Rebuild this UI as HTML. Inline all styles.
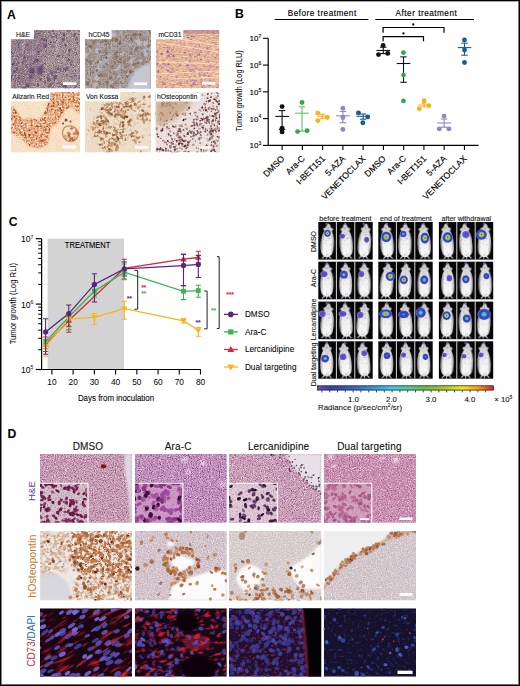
<!DOCTYPE html><html><head><meta charset="utf-8"><style>
html,body{margin:0;padding:0;background:#fff;}body{width:520px;height:686px;position:relative;overflow:hidden;font-family:"Liberation Sans",sans-serif;}
svg{position:absolute;left:0;top:0;} text{font-family:"Liberation Sans",sans-serif;}
</style></head><body>
<svg width="520" height="686" viewBox="0 0 520 686">
<defs><radialGradient id="g_hot" cx="50%" cy="50%" r="50%" fx="50%" fy="50%"><stop offset="0%" stop-color="#e0181e"/><stop offset="14%" stop-color="#f06a1a"/><stop offset="26%" stop-color="#f2d21c"/><stop offset="38%" stop-color="#7cc43c"/><stop offset="50%" stop-color="#2fb4d8"/><stop offset="64%" stop-color="#2048d2"/><stop offset="82%" stop-color="#4a3cc4"/><stop offset="94%" stop-color="#6a55c8"/><stop offset="100%" stop-color="#7a66cc"/></radialGradient><radialGradient id="g_warm" cx="50%" cy="50%" r="50%" fx="50%" fy="50%"><stop offset="0%" stop-color="#c8dc28"/><stop offset="18%" stop-color="#60c050"/><stop offset="34%" stop-color="#30b0d8"/><stop offset="52%" stop-color="#2048d0"/><stop offset="78%" stop-color="#4a3cc4"/><stop offset="94%" stop-color="#6a55c8"/><stop offset="100%" stop-color="#7a66cc"/></radialGradient><radialGradient id="g_cool" cx="50%" cy="50%" r="50%" fx="50%" fy="50%"><stop offset="0%" stop-color="#38c0d8"/><stop offset="22%" stop-color="#2a78d8"/><stop offset="45%" stop-color="#2040cc"/><stop offset="75%" stop-color="#4a3cc4"/><stop offset="94%" stop-color="#6a55c8"/><stop offset="100%" stop-color="#7a66cc"/></radialGradient><radialGradient id="g_blue" cx="50%" cy="50%" r="50%" fx="50%" fy="50%"><stop offset="0%" stop-color="#4a48cc"/><stop offset="50%" stop-color="#5650cc"/><stop offset="85%" stop-color="#6c5ccc"/><stop offset="100%" stop-color="#8070d0"/></radialGradient><radialGradient id="g_faint" cx="50%" cy="50%" r="50%" fx="50%" fy="50%"><stop offset="0%" stop-color="#6a58d0"/><stop offset="70%" stop-color="#7a66cc"/><stop offset="100%" stop-color="#8a78d0"/></radialGradient><linearGradient id="mshade" x1="0" y1="0" x2="1" y2="0"><stop offset="0.05" stop-color="#000" stop-opacity="0.45"/><stop offset="0.3" stop-color="#000" stop-opacity="0"/><stop offset="0.7" stop-color="#000" stop-opacity="0"/><stop offset="0.95" stop-color="#000" stop-opacity="0.45"/></linearGradient><linearGradient id="mouseg" x1="0" y1="0" x2="0" y2="1"><stop offset="0" stop-color="#c4c4c4"/><stop offset="0.25" stop-color="#dadada"/><stop offset="0.5" stop-color="#f0f0f0"/><stop offset="0.8" stop-color="#f7f7f7"/><stop offset="1" stop-color="#e6e6e6"/></linearGradient><filter id="b1" x="-20%" y="-20%" width="140%" height="140%"><feGaussianBlur stdDeviation="0.35"/></filter><filter id="b2" x="-20%" y="-20%" width="140%" height="140%"><feGaussianBlur stdDeviation="0.8"/></filter><filter id="b3" x="-20%" y="-20%" width="140%" height="140%"><feGaussianBlur stdDeviation="3"/></filter><filter id="f4" x="0" y="0" width="1" height="1" color-interpolation-filters="sRGB"><feTurbulence type="fractalNoise" baseFrequency="0.9" numOctaves="2" seed="611"/><feColorMatrix type="matrix" values="0 0 0 0 0.376 0 0 0 0 0.282 0 0 0 0 0.416 3.0 0 0 0 -1.41"/><feGaussianBlur stdDeviation="0.25"/><feComposite in2="SourceGraphic" operator="in"/></filter><filter id="f5" x="0" y="0" width="1" height="1" color-interpolation-filters="sRGB"><feTurbulence type="fractalNoise" baseFrequency="0.9" numOctaves="2" seed="612"/><feColorMatrix type="matrix" values="0 0 0 0 0.871 0 0 0 0 0.816 0 0 0 0 0.737 0 -3.0 0 0 1.41"/><feGaussianBlur stdDeviation="0.25"/><feComposite in2="SourceGraphic" operator="in"/></filter><filter id="b6" x="-20%" y="-20%" width="140%" height="140%"><feGaussianBlur stdDeviation="1.0"/></filter><filter id="f7" x="0" y="0" width="1" height="1" color-interpolation-filters="sRGB"><feTurbulence type="fractalNoise" baseFrequency="0.9" numOctaves="2" seed="625"/><feColorMatrix type="matrix" values="0 0 0 0 0.463 0 0 0 0 0.400 0 0 0 0 0.376 3 0 0 0 -1.41"/><feGaussianBlur stdDeviation="0.25"/><feComposite in2="SourceGraphic" operator="in"/></filter><filter id="f8" x="0" y="0" width="1" height="1" color-interpolation-filters="sRGB"><feTurbulence type="fractalNoise" baseFrequency="0.9" numOctaves="2" seed="626"/><feColorMatrix type="matrix" values="0 0 0 0 0.784 0 0 0 0 0.776 0 0 0 0 0.804 0 -2.6 0 0 1.3"/><feGaussianBlur stdDeviation="0.25"/><feComposite in2="SourceGraphic" operator="in"/></filter><filter id="b9" x="-20%" y="-20%" width="140%" height="140%"><feGaussianBlur stdDeviation="0.6"/></filter><filter id="f10" x="0" y="0" width="1" height="1" color-interpolation-filters="sRGB"><feTurbulence type="fractalNoise" baseFrequency="0.3 0.9" numOctaves="2" seed="635"/><feColorMatrix type="matrix" values="0 0 0 0 0.804 0 0 0 0 0.529 0 0 0 0 0.490 2.6 0 0 0 -1.222"/><feGaussianBlur stdDeviation="0.25"/><feComposite in2="SourceGraphic" operator="in"/></filter><filter id="f11" x="0" y="0" width="1" height="1" color-interpolation-filters="sRGB"><feTurbulence type="fractalNoise" baseFrequency="0.3 0.9" numOctaves="2" seed="636"/><feColorMatrix type="matrix" values="0 0 0 0 0.980 0 0 0 0 0.871 0 0 0 0 0.753 0 -3 0 0 1.5"/><feGaussianBlur stdDeviation="0.25"/><feComposite in2="SourceGraphic" operator="in"/></filter><filter id="b12" x="-20%" y="-20%" width="140%" height="140%"><feGaussianBlur stdDeviation="1.0"/></filter><clipPath id="cpA4"><path d="M41 0 L69 0 L69 22 L60 14 L53 19 L46 32 L39 36 L37 52 L28 56 L18 54 L11 47 L3 42 L0 40 L0 14 L4 17 L11 28 L21 26 L28 29 L34 20 L37 12Z"/></clipPath><filter id="f13" x="0" y="0" width="1" height="1" color-interpolation-filters="sRGB"><feTurbulence type="fractalNoise" baseFrequency="0.45" numOctaves="2" seed="647"/><feColorMatrix type="matrix" values="0 0 0 0 0.675 0 0 0 0 0.243 0 0 0 0 0.102 4.5 0 0 0 -2.2"/><feGaussianBlur stdDeviation="0.3"/><feComposite in2="SourceGraphic" operator="in"/></filter><filter id="f14" x="0" y="0" width="1" height="1" color-interpolation-filters="sRGB"><feTurbulence type="fractalNoise" baseFrequency="0.5" numOctaves="2" seed="649"/><feColorMatrix type="matrix" values="0 0 0 0 0.980 0 0 0 0 0.882 0 0 0 0 0.765 0 -4 0 0 2.3"/><feGaussianBlur stdDeviation="0.3"/><feComposite in2="SourceGraphic" operator="in"/></filter><filter id="f15" x="0" y="0" width="1" height="1" color-interpolation-filters="sRGB"><feTurbulence type="fractalNoise" baseFrequency="0.3" numOctaves="2" seed="651"/><feColorMatrix type="matrix" values="0 0 0 0 0.471 0 0 0 0 0.157 0 0 0 0 0.078 5 0 0 0 -3.2"/><feGaussianBlur stdDeviation="0.3"/><feComposite in2="SourceGraphic" operator="in"/></filter><filter id="b16" x="-20%" y="-20%" width="140%" height="140%"><feGaussianBlur stdDeviation="0.5"/></filter><filter id="f17" x="0" y="0" width="1" height="1" color-interpolation-filters="sRGB"><feTurbulence type="fractalNoise" baseFrequency="0.9" numOctaves="2" seed="645"/><feColorMatrix type="matrix" values="0 0 0 0 0.922 0 0 0 0 0.784 0 0 0 0 0.667 2 0 0 0 -0.94"/><feGaussianBlur stdDeviation="0.25"/><feComposite in2="SourceGraphic" operator="in"/></filter><filter id="f18" x="0" y="0" width="1" height="1" color-interpolation-filters="sRGB"><feTurbulence type="fractalNoise" baseFrequency="0.9" numOctaves="2" seed="646"/><feColorMatrix type="matrix" values="0 0 0 0 0.988 0 0 0 0 0.941 0 0 0 0 0.882 0 -2 0 0 1.0"/><feGaussianBlur stdDeviation="0.25"/><feComposite in2="SourceGraphic" operator="in"/></filter><filter id="f19" x="0" y="0" width="1" height="1" color-interpolation-filters="sRGB"><feTurbulence type="fractalNoise" baseFrequency="0.35" numOctaves="2" seed="657"/><feColorMatrix type="matrix" values="0 0 0 0 0.627 0 0 0 0 0.412 0 0 0 0 0.235 4 0 0 0 -2.0"/><feGaussianBlur stdDeviation="0.3"/><feComposite in2="SourceGraphic" operator="in"/></filter><filter id="b20" x="-20%" y="-20%" width="140%" height="140%"><feGaussianBlur stdDeviation="2.5"/></filter><mask id="mkA5"><g filter="url(#b20)" fill="#fff"><ellipse cx="30" cy="18" rx="14" ry="8"/><ellipse cx="16" cy="36" rx="9" ry="12"/><ellipse cx="34" cy="42" rx="11" ry="9"/><ellipse cx="24" cy="54" rx="10" ry="6"/><ellipse cx="48" cy="12" rx="8" ry="6"/><ellipse cx="40" cy="30" rx="8" ry="6"/><ellipse cx="58" cy="24" rx="6" ry="6"/></g></mask><filter id="f21" x="0" y="0" width="1" height="1" color-interpolation-filters="sRGB"><feTurbulence type="fractalNoise" baseFrequency="0.9" numOctaves="2" seed="655"/><feColorMatrix type="matrix" values="0 0 0 0 0.882 0 0 0 0 0.804 0 0 0 0 0.725 2 0 0 0 -0.94"/><feGaussianBlur stdDeviation="0.25"/><feComposite in2="SourceGraphic" operator="in"/></filter><filter id="f22" x="0" y="0" width="1" height="1" color-interpolation-filters="sRGB"><feTurbulence type="fractalNoise" baseFrequency="0.9" numOctaves="2" seed="656"/><feColorMatrix type="matrix" values="0 0 0 0 0.980 0 0 0 0 0.941 0 0 0 0 0.894 0 -2 0 0 1.0"/><feGaussianBlur stdDeviation="0.25"/><feComposite in2="SourceGraphic" operator="in"/></filter><filter id="b23" x="-20%" y="-20%" width="140%" height="140%"><feGaussianBlur stdDeviation="2.0"/></filter><filter id="f24" x="0" y="0" width="1" height="1" color-interpolation-filters="sRGB"><feTurbulence type="fractalNoise" baseFrequency="0.9" numOctaves="2" seed="665"/><feColorMatrix type="matrix" values="0 0 0 0 0.824 0 0 0 0 0.745 0 0 0 0 0.725 2.2 0 0 0 -1.034"/><feGaussianBlur stdDeviation="0.25"/><feComposite in2="SourceGraphic" operator="in"/></filter><filter id="f25" x="0" y="0" width="1" height="1" color-interpolation-filters="sRGB"><feTurbulence type="fractalNoise" baseFrequency="0.9" numOctaves="2" seed="666"/><feColorMatrix type="matrix" values="0 0 0 0 0.980 0 0 0 0 0.957 0 0 0 0 0.949 0 -2 0 0 1.0"/><feGaussianBlur stdDeviation="0.25"/><feComposite in2="SourceGraphic" operator="in"/></filter><filter id="b26" x="-20%" y="-20%" width="140%" height="140%"><feGaussianBlur stdDeviation="0.35"/></filter><filter id="f27" x="0" y="0" width="1" height="1" color-interpolation-filters="sRGB"><feTurbulence type="fractalNoise" baseFrequency="0.5" numOctaves="2" seed="4"/><feColorMatrix type="matrix" values="0 0 0 0 0.510 0 0 0 0 0.510 0 0 0 0 0.510 4 0 0 0 -2.3"/><feComposite in2="SourceGraphic" operator="in"/></filter><filter id="b28" x="-20%" y="-20%" width="140%" height="140%"><feGaussianBlur stdDeviation="0.45"/></filter><clipPath id="mclip"><path d="M8.75 1.5 C10 1.6 10.8 3.5 11.2 5.5 C12.5 5.8 13.8 6.3 13.8 7.2 C13.5 8 12.8 8.6 12.4 9.2 C13.6 11 14.6 14 15 18 C15.4 23 15.2 27 14.4 30.5 C13.8 32.5 12.7 33.5 11.6 34 L13.8 36.5 L13.1 37 L10.6 34.6 C10 34.8 9.5 35 9.2 35.2 L9 37.5 L8.5 37.5 L8.3 35.2 C8 35 7.5 34.8 6.9 34.6 L4.4 37 L3.7 36.5 L5.9 34 C4.8 33.5 3.7 32.5 3.1 30.5 C2.3 27 2.1 23 2.5 18 C2.9 14 3.9 11 5.1 9.2 C4.7 8.6 4 8 3.7 7.2 C3.7 6.3 5 5.8 6.3 5.5 C6.7 3.5 7.5 1.6 8.75 1.5Z"/></clipPath><g id="mouse"><path d="M8.75 1.5 C10 1.6 10.8 3.5 11.2 5.5 C12.5 5.8 13.8 6.3 13.8 7.2 C13.5 8 12.8 8.6 12.4 9.2 C13.6 11 14.6 14 15 18 C15.4 23 15.2 27 14.4 30.5 C13.8 32.5 12.7 33.5 11.6 34 L13.8 36.5 L13.1 37 L10.6 34.6 C10 34.8 9.5 35 9.2 35.2 L9 37.5 L8.5 37.5 L8.3 35.2 C8 35 7.5 34.8 6.9 34.6 L4.4 37 L3.7 36.5 L5.9 34 C4.8 33.5 3.7 32.5 3.1 30.5 C2.3 27 2.1 23 2.5 18 C2.9 14 3.9 11 5.1 9.2 C4.7 8.6 4 8 3.7 7.2 C3.7 6.3 5 5.8 6.3 5.5 C6.7 3.5 7.5 1.6 8.75 1.5Z" fill="url(#mouseg)" filter="url(#b26)"/><g clip-path="url(#mclip)"><rect x="0" y="0" width="17.5" height="37.5" fill="url(#mshade)"/><rect x="0" y="0" width="17.5" height="37.5" fill="#fff" filter="url(#f27)" opacity="0.55"/></g></g><linearGradient id="cbar" x1="0" y1="0" x2="1" y2="0"><stop offset="0%" stop-color="#6c50b4"/><stop offset="8%" stop-color="#3c3caa"/><stop offset="20%" stop-color="#3264c8"/><stop offset="32%" stop-color="#3296dc"/><stop offset="42%" stop-color="#3cc8e6"/><stop offset="52%" stop-color="#50c8a0"/><stop offset="60%" stop-color="#64be46"/><stop offset="72%" stop-color="#aac828"/><stop offset="82%" stop-color="#f0e614"/><stop offset="91%" stop-color="#f5a01e"/><stop offset="100%" stop-color="#e61e28"/></linearGradient><filter id="b29" x="-20%" y="-20%" width="140%" height="140%"><feGaussianBlur stdDeviation="0.35"/></filter><filter id="b30" x="-20%" y="-20%" width="140%" height="140%"><feGaussianBlur stdDeviation="1.2"/></filter><filter id="f31" x="0" y="0" width="1" height="1" color-interpolation-filters="sRGB"><feTurbulence type="fractalNoise" baseFrequency="0.7" numOctaves="2" seed="48"/><feColorMatrix type="matrix" values="0 0 0 0 0.471 0 0 0 0 0.314 0 0 0 0 0.392 3 0 0 0 -1.5"/><feGaussianBlur stdDeviation="0.2"/><feComposite in2="SourceGraphic" operator="in"/></filter><filter id="f32" x="0" y="0" width="1" height="1" color-interpolation-filters="sRGB"><feTurbulence type="fractalNoise" baseFrequency="0.9" numOctaves="2" seed="301"/><feColorMatrix type="matrix" values="0 0 0 0 0.569 0 0 0 0 0.333 0 0 0 0 0.471 3.2 0 0 0 -1.504"/><feGaussianBlur stdDeviation="0.25"/><feComposite in2="SourceGraphic" operator="in"/></filter><filter id="f33" x="0" y="0" width="1" height="1" color-interpolation-filters="sRGB"><feTurbulence type="fractalNoise" baseFrequency="0.9" numOctaves="2" seed="302"/><feColorMatrix type="matrix" values="0 0 0 0 0.910 0 0 0 0 0.843 0 0 0 0 0.894 0 -3.2 0 0 1.6"/><feGaussianBlur stdDeviation="0.25"/><feComposite in2="SourceGraphic" operator="in"/></filter><filter id="f34" x="0" y="0" width="1" height="1" color-interpolation-filters="sRGB"><feTurbulence type="fractalNoise" baseFrequency="0.7" numOctaves="2" seed="50"/><feColorMatrix type="matrix" values="0 0 0 0 0.627 0 0 0 0 0.353 0 0 0 0 0.608 3 0 0 0 -1.5"/><feGaussianBlur stdDeviation="0.2"/><feComposite in2="SourceGraphic" operator="in"/></filter><filter id="f35" x="0" y="0" width="1" height="1" color-interpolation-filters="sRGB"><feTurbulence type="fractalNoise" baseFrequency="0.9" numOctaves="2" seed="303"/><feColorMatrix type="matrix" values="0 0 0 0 0.529 0 0 0 0 0.275 0 0 0 0 0.510 3.2 0 0 0 -1.504"/><feGaussianBlur stdDeviation="0.25"/><feComposite in2="SourceGraphic" operator="in"/></filter><filter id="f36" x="0" y="0" width="1" height="1" color-interpolation-filters="sRGB"><feTurbulence type="fractalNoise" baseFrequency="0.9" numOctaves="2" seed="304"/><feColorMatrix type="matrix" values="0 0 0 0 0.902 0 0 0 0 0.804 0 0 0 0 0.902 0 -3.2 0 0 1.6"/><feGaussianBlur stdDeviation="0.25"/><feComposite in2="SourceGraphic" operator="in"/></filter><filter id="f37" x="0" y="0" width="1" height="1" color-interpolation-filters="sRGB"><feTurbulence type="fractalNoise" baseFrequency="0.7" numOctaves="2" seed="54"/><feColorMatrix type="matrix" values="0 0 0 0 0.667 0 0 0 0 0.471 0 0 0 0 0.588 3 0 0 0 -1.5"/><feGaussianBlur stdDeviation="0.2"/><feComposite in2="SourceGraphic" operator="in"/></filter><filter id="f38" x="0" y="0" width="1" height="1" color-interpolation-filters="sRGB"><feTurbulence type="fractalNoise" baseFrequency="0.9" numOctaves="2" seed="305"/><feColorMatrix type="matrix" values="0 0 0 0 0.588 0 0 0 0 0.353 0 0 0 0 0.490 3.2 0 0 0 -1.504"/><feGaussianBlur stdDeviation="0.25"/><feComposite in2="SourceGraphic" operator="in"/></filter><filter id="f39" x="0" y="0" width="1" height="1" color-interpolation-filters="sRGB"><feTurbulence type="fractalNoise" baseFrequency="0.9" numOctaves="2" seed="306"/><feColorMatrix type="matrix" values="0 0 0 0 0.922 0 0 0 0 0.855 0 0 0 0 0.902 0 -3.2 0 0 1.6"/><feGaussianBlur stdDeviation="0.25"/><feComposite in2="SourceGraphic" operator="in"/></filter><filter id="f40" x="0" y="0" width="1" height="1" color-interpolation-filters="sRGB"><feTurbulence type="fractalNoise" baseFrequency="0.7" numOctaves="2" seed="60"/><feColorMatrix type="matrix" values="0 0 0 0 0.667 0 0 0 0 0.392 0 0 0 0 0.549 3 0 0 0 -1.5"/><feGaussianBlur stdDeviation="0.2"/><feComposite in2="SourceGraphic" operator="in"/></filter><filter id="f41" x="0" y="0" width="1" height="1" color-interpolation-filters="sRGB"><feTurbulence type="fractalNoise" baseFrequency="0.9" numOctaves="2" seed="309"/><feColorMatrix type="matrix" values="0 0 0 0 0.647 0 0 0 0 0.333 0 0 0 0 0.510 3.2 0 0 0 -1.504"/><feGaussianBlur stdDeviation="0.25"/><feComposite in2="SourceGraphic" operator="in"/></filter><filter id="f42" x="0" y="0" width="1" height="1" color-interpolation-filters="sRGB"><feTurbulence type="fractalNoise" baseFrequency="0.9" numOctaves="2" seed="310"/><feColorMatrix type="matrix" values="0 0 0 0 0.933 0 0 0 0 0.824 0 0 0 0 0.894 0 -3.2 0 0 1.6"/><feGaussianBlur stdDeviation="0.25"/><feComposite in2="SourceGraphic" operator="in"/></filter><filter id="b43" x="-20%" y="-20%" width="140%" height="140%"><feGaussianBlur stdDeviation="2.0"/></filter><mask id="mkD21"><rect width="92" height="70" fill="#000"/><path d="M28 0 L92 0 L92 48 C80 52 70 46 60 48 C50 50 42 44 34 34 C30 24 26 12 28 0Z" fill="#fff" filter="url(#b43)"/><path d="M0 0 L28 0 L28 40 L0 44Z" fill="#777" filter="url(#b43)"/><path d="M34 50 L92 50 L92 70 L34 70Z" fill="#999" filter="url(#b43)"/></mask><filter id="f44" x="0" y="0" width="1" height="1" color-interpolation-filters="sRGB"><feTurbulence type="fractalNoise" baseFrequency="0.28" numOctaves="2" seed="417"/><feColorMatrix type="matrix" values="0 0 0 0 0.745 0 0 0 0 0.478 0 0 0 0 0.282 5 0 0 0 -2.1"/><feGaussianBlur stdDeviation="0.4"/><feComposite in2="SourceGraphic" operator="in"/></filter><filter id="f45" x="0" y="0" width="1" height="1" color-interpolation-filters="sRGB"><feTurbulence type="fractalNoise" baseFrequency="0.4" numOctaves="2" seed="419"/><feColorMatrix type="matrix" values="0 0 0 0 0.569 0 0 0 0 0.306 0 0 0 0 0.149 6 0 0 0 -3.6"/><feGaussianBlur stdDeviation="0.4"/><feComposite in2="SourceGraphic" operator="in"/></filter><filter id="f46" x="0" y="0" width="1" height="1" color-interpolation-filters="sRGB"><feTurbulence type="fractalNoise" baseFrequency="0.8" numOctaves="2" seed="405"/><feColorMatrix type="matrix" values="0 0 0 0 0.686 0 0 0 0 0.588 0 0 0 0 0.667 2.4 0 0 0 -1.15"/><feGaussianBlur stdDeviation="0.3"/><feComposite in2="SourceGraphic" operator="in"/></filter><filter id="f47" x="0" y="0" width="1" height="1" color-interpolation-filters="sRGB"><feTurbulence type="fractalNoise" baseFrequency="0.8" numOctaves="2" seed="406"/><feColorMatrix type="matrix" values="0 0 0 0 0.961 0 0 0 0 0.941 0 0 0 0 0.949 0 -2.4 0 0 1.2"/><feGaussianBlur stdDeviation="0.3"/><feComposite in2="SourceGraphic" operator="in"/></filter><filter id="f48" x="0" y="0" width="1" height="1" color-interpolation-filters="sRGB"><feTurbulence type="fractalNoise" baseFrequency="0.8" numOctaves="2" seed="409"/><feColorMatrix type="matrix" values="0 0 0 0 0.745 0 0 0 0 0.686 0 0 0 0 0.706 2.4 0 0 0 -1.15"/><feGaussianBlur stdDeviation="0.3"/><feComposite in2="SourceGraphic" operator="in"/></filter><filter id="f49" x="0" y="0" width="1" height="1" color-interpolation-filters="sRGB"><feTurbulence type="fractalNoise" baseFrequency="0.8" numOctaves="2" seed="410"/><feColorMatrix type="matrix" values="0 0 0 0 0.961 0 0 0 0 0.941 0 0 0 0 0.949 0 -2.4 0 0 1.2"/><feGaussianBlur stdDeviation="0.3"/><feComposite in2="SourceGraphic" operator="in"/></filter><filter id="f50" x="0" y="0" width="1" height="1" color-interpolation-filters="sRGB"><feTurbulence type="fractalNoise" baseFrequency="0.8" numOctaves="2" seed="413"/><feColorMatrix type="matrix" values="0 0 0 0 0.706 0 0 0 0 0.647 0 0 0 0 0.698 2.4 0 0 0 -1.15"/><feGaussianBlur stdDeviation="0.3"/><feComposite in2="SourceGraphic" operator="in"/></filter><filter id="f51" x="0" y="0" width="1" height="1" color-interpolation-filters="sRGB"><feTurbulence type="fractalNoise" baseFrequency="0.8" numOctaves="2" seed="414"/><feColorMatrix type="matrix" values="0 0 0 0 0.961 0 0 0 0 0.941 0 0 0 0 0.949 0 -2.4 0 0 1.2"/><feGaussianBlur stdDeviation="0.3"/><feComposite in2="SourceGraphic" operator="in"/></filter><filter id="b52" x="-20%" y="-20%" width="140%" height="140%"><feGaussianBlur stdDeviation="0.5"/></filter><filter id="f53" x="0" y="0" width="1" height="1" color-interpolation-filters="sRGB"><feTurbulence type="fractalNoise" baseFrequency="0.04 0.22" numOctaves="2" seed="511"/><feColorMatrix type="matrix" values="0 0 0 0 0.784 0 0 0 0 0.110 0 0 0 0 0.188 4.5 0 0 0 -2.55"/><feGaussianBlur stdDeviation="0.5"/><feComposite in2="SourceGraphic" operator="in"/></filter><filter id="f54" x="0" y="0" width="1" height="1" color-interpolation-filters="sRGB"><feTurbulence type="fractalNoise" baseFrequency="0.06 0.4" numOctaves="2" seed="513"/><feColorMatrix type="matrix" values="0 0 0 0 0.922 0 0 0 0 0.196 0 0 0 0 0.255 6 0 0 0 -4.0"/><feGaussianBlur stdDeviation="0.3"/><feComposite in2="SourceGraphic" operator="in"/></filter><filter id="f55" x="0" y="0" width="1" height="1" color-interpolation-filters="sRGB"><feTurbulence type="fractalNoise" baseFrequency="0.12 0.3" numOctaves="2" seed="515"/><feColorMatrix type="matrix" values="0 0 0 0 0.784 0 0 0 0 0.118 0 0 0 0 0.216 5 0 0 0 -2.7"/><feGaussianBlur stdDeviation="0.4"/><feComposite in2="SourceGraphic" operator="in"/></filter><filter id="f56" x="0" y="0" width="1" height="1" color-interpolation-filters="sRGB"><feTurbulence type="fractalNoise" baseFrequency="0.35" numOctaves="2" seed="85"/><feColorMatrix type="matrix" values="0 0 0 0 0.549 0 0 0 0 0.118 0 0 0 0 0.235 4 0 0 0 -2.2"/><feGaussianBlur stdDeviation="0.3"/><feComposite in2="SourceGraphic" operator="in"/></filter><mask id="mkD33"><path d="M0 0 L74 0 C77 30 79 50 79 68.4 L0 68.4Z" fill="#fff"/></mask><filter id="f57" x="0" y="0" width="1" height="1" color-interpolation-filters="sRGB"><feTurbulence type="fractalNoise" baseFrequency="0.3" numOctaves="2" seed="87"/><feColorMatrix type="matrix" values="0 0 0 0 0.216 0 0 0 0 0.216 0 0 0 0 0.549 3 0 0 0 -1.7"/><feGaussianBlur stdDeviation="0.4"/><feComposite in2="SourceGraphic" operator="in"/></filter></defs>
<text x="7" y="18.5" font-size="12.2" fill="#000" font-weight="bold" text-anchor="start">A</text><text x="235" y="17.6" font-size="12.2" fill="#000" font-weight="bold" text-anchor="start">B</text><text x="8.8" y="226.2" font-size="12.2" fill="#000" font-weight="bold" text-anchor="start">C</text><text x="7.4" y="437.6" font-size="12.2" fill="#000" font-weight="bold" text-anchor="start">D</text><svg x="11" y="30" width="69" height="58.5" viewBox="0 0 69 58.5" overflow="hidden"><rect width="69" height="58.5" fill="#a69696"/><path d="M0 0 L34 0 L30 30 L20 58 L0 58Z" fill="#80647e" opacity="0.5" filter="url(#b3)"/><rect width="69" height="58.5" fill="#fff" filter="url(#f4)" opacity="1"/><rect width="69" height="58.5" fill="#fff" filter="url(#f5)" opacity="1"/><g filter="url(#b1)"><path fill="#6a4a72" opacity="0.75" d="M12.1 31.6a1.8 .7 89 1 0 0 3.7a1.8 .7 89 1 0 0 -3.7M14.2 25.9a2 .8 114 1 0 -1.6 3.6a2 .8 114 1 0 1.6 -3.6M51.8 38.7a2.2 .9 6 1 0 4.3 .5a2.2 .9 6 1 0 -4.3 -.5M16.9 12.9a2.1 .9 110 1 0 -1.5 3.9a2.1 .9 110 1 0 1.5 -3.9M19.8 45.1a1.6 1.3 96 1 0 -.3 3.1a1.6 1.3 96 1 0 .3 -3.1M55.8 36.6a2.2 1.4 86 1 0 .3 4.4a2.2 1.4 86 1 0 -.3 -4.4M56.2 -.7a1.1 1.2 93 1 0 -.1 2.2a1.1 1.2 93 1 0 .1 -2.2M25.2 6.3a1.4 .7 116 1 0 -1.3 2.5a1.4 .7 116 1 0 1.3 -2.5M22.4 18.4a1.4 1.4 31 1 0 2.3 1.4a1.4 1.4 31 1 0 -2.3 -1.4M53.6 4.6a.8 1 150 1 0 -1.4 .8a.8 1 150 1 0 1.4 -.8M50.9 8.2a1.7 1.3 46 1 0 2.3 2.4a1.7 1.3 46 1 0 -2.3 -2.4M45.1 12.1a1.5 .7 178 1 0 -3 .1a1.5 .7 178 1 0 3 -.1M64 9.3a.8 1.3 6 1 0 1.6 .2a.8 1.3 6 1 0 -1.6 -.2M15.6 55.2a1.1 .7 27 1 0 1.9 1a1.1 .7 27 1 0 -1.9 -1M65.8 55.8a2 .6 141 1 0 -3.1 2.4a2 .6 141 1 0 3.1 -2.4M71.5 47.4a.9 .7 176 1 0 -1.7 .1a.9 .7 176 1 0 1.7 -.1M46 24.8a1.6 1.2 40 1 0 2.5 2.1a1.6 1.2 40 1 0 -2.5 -2.1M59.6 29.7a1.7 1.2 164 1 0 -3.4 .9a1.7 1.2 164 1 0 3.4 -.9M42.3 -1.1a1.6 .9 95 1 0 -.3 3.3a1.6 .9 95 1 0 .3 -3.3M41.2 6.2a.9 1.1 60 1 0 .9 1.5a.9 1.1 60 1 0 -.9 -1.5M3.8 40.9a1 .6 44 1 0 1.4 1.4a1 .6 44 1 0 -1.4 -1.4M7 36.7a2.1 1.1 111 1 0 -1.6 4a2.1 1.1 111 1 0 1.6 -4M59.7 33.3a1.3 .7 78 1 0 .5 2.5a1.3 .7 78 1 0 -.5 -2.5M35.9 46.4a1.6 1.3 61 1 0 1.6 2.9a1.6 1.3 61 1 0 -1.6 -2.9M24.1 13.5a1.5 .9 104 1 0 -.7 2.8a1.5 .9 104 1 0 .7 -2.8M36.1 14.8a1.9 1.2 156 1 0 -3.4 1.5a1.9 1.2 156 1 0 3.4 -1.5"/><path fill="#5a3e64" opacity="0.75" d="M59.4 18.9a1.7 1.1 120 1 0 -1.7 3a1.7 1.1 120 1 0 1.7 -3M25.5 29.4a1.1 1.1 11 1 0 2.1 .4a1.1 1.1 11 1 0 -2.1 -.4M70.4 36.9a1.9 .9 78 1 0 .8 3.7a1.9 .9 78 1 0 -.8 -3.7M40.6 11.6a1.1 1 136 1 0 -1.6 1.5a1.1 1 136 1 0 1.6 -1.5M23.4 29.9a2 1.2 25 1 0 3.6 1.8a2 1.2 25 1 0 -3.6 -1.8M24.5 9.9a.8 1.2 65 1 0 .7 1.5a.8 1.2 65 1 0 -.7 -1.5M15.3 54.3a1.9 .8 42 1 0 2.8 2.5a1.9 .8 42 1 0 -2.8 -2.5M14 57.4a1.4 .9 155 1 0 -2.5 1.1a1.4 .9 155 1 0 2.5 -1.1M47.9 37.8a1.5 1 124 1 0 -1.7 2.5a1.5 1 124 1 0 1.7 -2.5M20.7 24.6a1.6 .7 91 1 0 -.1 3.3a1.6 .7 91 1 0 .1 -3.3M-1.8 5.8a1.8 1.1 24 1 0 3.2 1.5a1.8 1.1 24 1 0 -3.2 -1.5M28.7 21.8a1.1 1.2 168 1 0 -2.2 .4a1.1 1.2 168 1 0 2.2 -.4M3.2 33.1a1.6 1.1 138 1 0 -2.4 2.1a1.6 1.1 138 1 0 2.4 -2.1M54.4 54.7a2.1 1 85 1 0 .4 4.1a2.1 1 85 1 0 -.4 -4.1M53.9 3.1a1.8 .9 117 1 0 -1.7 3.2a1.8 .9 117 1 0 1.7 -3.2M42.2 53a1.5 .7 148 1 0 -2.6 1.6a1.5 .7 148 1 0 2.6 -1.6M12.1 4.5a1.6 .8 74 1 0 .9 3.1a1.6 .8 74 1 0 -.9 -3.1M46.6 45.7a2 1.1 166 1 0 -3.9 .9a2 1.1 166 1 0 3.9 -.9M55.6 55.5a2.1 1.4 179 1 0 -4.1 .1a2.1 1.4 179 1 0 4.1 -.1M32.3 10.1a2 .8 3 1 0 3.9 .2a2 .8 3 1 0 -3.9 -.2M-2.3 3.9a1.9 1.3 39 1 0 3 2.5a1.9 1.3 39 1 0 -3 -2.5M9.1 7.1a1.2 .6 38 1 0 1.9 1.5a1.2 .6 38 1 0 -1.9 -1.5M-2.2 46.9a1.8 1.4 4 1 0 3.6 .3a1.8 1.4 4 1 0 -3.6 -.3M55.5 15a1.1 1.2 170 1 0 -2.2 .4a1.1 1.2 170 1 0 2.2 -.4M68.5 46.9a1 .6 129 1 0 -1.3 1.5a1 .6 129 1 0 1.3 -1.5M6.5 32.1a1.1 .9 29 1 0 1.9 1.1a1.1 .9 29 1 0 -1.9 -1.1M28.9 48.3a1.4 .9 63 1 0 1.2 2.5a1.4 .9 63 1 0 -1.2 -2.5M7.7 46.9a1.1 .9 97 1 0 -.3 2.3a1.1 .9 97 1 0 .3 -2.3M11 24.1a1.7 1.4 116 1 0 -1.5 3.1a1.7 1.4 116 1 0 1.5 -3.1M1.8 40.8a1.3 1.1 25 1 0 2.3 1.1a1.3 1.1 25 1 0 -2.3 -1.1"/><path fill="#74567c" opacity="0.75" d="M-1.1 3a1.8 1.1 9 1 0 3.6 .6a1.8 1.1 9 1 0 -3.6 -.6M15.5 56.5a1 1.2 120 1 0 -1.1 1.8a1 1.2 120 1 0 1.1 -1.8M.1 39a1 1.2 127 1 0 -1.2 1.6a1 1.2 127 1 0 1.2 -1.6M38.5 4.7a1.5 .9 37 1 0 2.4 1.8a1.5 .9 37 1 0 -2.4 -1.8M.7 47.7a1.8 .9 98 1 0 -.6 3.6a1.8 .9 98 1 0 .6 -3.6M41.4 42.2a2 .9 98 1 0 -.6 4a2 .9 98 1 0 .6 -4M45.3 4.8a1.4 1.2 111 1 0 -1 2.5a1.4 1.2 111 1 0 1 -2.5M59.9 .2a1.6 1.2 177 1 0 -3.1 .1a1.6 1.2 177 1 0 3.1 -.1M44.5 40.8a1.4 .8 116 1 0 -1.2 2.5a1.4 .8 116 1 0 1.2 -2.5M37.3 54.8a1.7 1.3 68 1 0 1.3 3.1a1.7 1.3 68 1 0 -1.3 -3.1M59.3 59.5a1.4 1.4 177 1 0 -2.8 .1a1.4 1.4 177 1 0 2.8 -.1M49.9 37.9a1.7 1.2 103 1 0 -.8 3.3a1.7 1.2 103 1 0 .8 -3.3M40.4 54.3a1.4 1.2 153 1 0 -2.4 1.2a1.4 1.2 153 1 0 2.4 -1.2M6.5 13.8a1.1 1.2 2 1 0 2.3 .1a1.1 1.2 2 1 0 -2.3 -.1M38.9 41.1a1.6 1.3 38 1 0 2.4 2a1.6 1.3 38 1 0 -2.4 -2M58.4 45.9a2.1 1 22 1 0 3.9 1.6a2.1 1 22 1 0 -3.9 -1.6M3.9 3a1.1 .6 89 1 0 0 2.3a1.1 .6 89 1 0 0 -2.3M10.3 18.6a1.2 .7 69 1 0 .8 2.2a1.2 .7 69 1 0 -.8 -2.2M44.1 16.5a1.9 .9 178 1 0 -3.9 .1a1.9 .9 178 1 0 3.9 -.1M18.6 6.3a1.7 1.1 179 1 0 -3.4 0a1.7 1.1 179 1 0 3.4 0M-2.7 20.6a2.1 .8 19 1 0 3.9 1.4a2.1 .8 19 1 0 -3.9 -1.4"/><path fill="#74567c" opacity="0.5" d="M60.8 29.6a1.8 1 80 1 0 .6 3.5a1.8 1 80 1 0 -.6 -3.5M9.6 52.3a1.1 1.2 125 1 0 -1.3 1.8a1.1 1.2 125 1 0 1.3 -1.8M65 6.1a1.7 1.1 61 1 0 1.6 2.9a1.7 1.1 61 1 0 -1.6 -2.9M33.8 16.8a1 1.1 146 1 0 -1.6 1.1a1 1.1 146 1 0 1.6 -1.1M50.6 12a1 1.2 87 1 0 .1 2a1 1.2 87 1 0 -.1 -2M24.9 14.5a1.8 .9 53 1 0 2.2 2.9a1.8 .9 53 1 0 -2.2 -2.9M65.6 4.2a1.9 .6 152 1 0 -3.4 1.8a1.9 .6 152 1 0 3.4 -1.8M56.6 24.3a1.2 1.3 6 1 0 2.5 .3a1.2 1.3 6 1 0 -2.5 -.3M41.6 50.9a.9 1.2 146 1 0 -1.5 1a.9 1.2 146 1 0 1.5 -1M38.9 43.9a1.6 1.3 160 1 0 -3.1 1.1a1.6 1.3 160 1 0 3.1 -1.1M52.1 53.9a1.4 1 124 1 0 -1.6 2.2a1.4 1 124 1 0 1.6 -2.2M31.5 11.9a1.9 1.2 56 1 0 2.1 3.1a1.9 1.2 56 1 0 -2.1 -3.1M64.2 43.9a1.6 .8 77 1 0 .7 3.2a1.6 .8 77 1 0 -.7 -3.2M70.3 28.6a1.7 1.1 126 1 0 -2.1 2.8a1.7 1.1 126 1 0 2.1 -2.8"/><path fill="#6a4a72" opacity="0.5" d="M7.3 15.1a1.5 .8 72 1 0 .9 2.9a1.5 .8 72 1 0 -.9 -2.9M2.8 57.8a1.4 .6 29 1 0 2.4 1.3a1.4 .6 29 1 0 -2.4 -1.3M55.6 44.5a1.1 .8 88 1 0 .1 2.3a1.1 .8 88 1 0 -.1 -2.3M48.8 12.9a.8 .7 140 1 0 -1.2 1a.8 .7 140 1 0 1.2 -1M22.2 46.6a1 .9 93 1 0 -.1 2a1 .9 93 1 0 .1 -2M45.1 37.4a1.1 .9 119 1 0 -1.1 1.9a1.1 .9 119 1 0 1.1 -1.9M20.9 24.3a1.3 .7 66 1 0 1 2.4a1.3 .7 66 1 0 -1 -2.4M49.7 52.6a1.7 1.2 176 1 0 -3.4 .2a1.7 1.2 176 1 0 3.4 -.2M-2.3 17.9a1.1 1.3 71 1 0 .7 2.1a1.1 1.3 71 1 0 -.7 -2.1M33.3 50.7a1.8 1.3 77 1 0 .8 3.5a1.8 1.3 77 1 0 -.8 -3.5"/><path fill="#74567c" opacity="1.0" d="M39.9 49.6a2 1.3 171 1 0 -3.9 .6a2 1.3 171 1 0 3.9 -.6M44.9 47.2a1.5 1.3 141 1 0 -2.3 1.8a1.5 1.3 141 1 0 2.3 -1.8"/><path fill="#5a3e64" opacity="0.5" d="M-1.8 27a.9 .9 81 1 0 .3 1.7a.9 .9 81 1 0 -.3 -1.7M30.9 34.3a.8 1.1 57 1 0 .9 1.4a.8 1.1 57 1 0 -.9 -1.4M64.1 3.7a1.6 .8 114 1 0 -1.3 2.9a1.6 .8 114 1 0 1.3 -2.9M23.9 30.6a2.1 .8 116 1 0 -1.9 3.8a2.1 .8 116 1 0 1.9 -3.8M40.2 1.5a1.8 .6 159 1 0 -3.4 1.3a1.8 .6 159 1 0 3.4 -1.3"/><path fill="#6a4a72" opacity="1.0" d="M33.8 8.7a2.1 .7 174 1 0 -4.3 .4a2.1 .7 174 1 0 4.3 -.4"/><path fill="#5a3e64" opacity="1.0" d="M26.3 53.3a1.4 .7 63 1 0 1.3 2.6a1.4 .7 63 1 0 -1.3 -2.6"/></g><g filter="url(#b2)" stroke="#ddd0b8" stroke-width="1.3" fill="none" opacity="0.75"><path d="M14 10 L8 38"/><path d="M26 8 L21 28"/><path d="M47 12 L45 24"/></g><g fill="#5a3e72" opacity="0.8" filter="url(#b2)"><path d="M18 40 C20 36 24 37 24 42 C22 46 19 46 18 40Z"/><path d="M26 38 C30 34 34 36 32 42 C30 48 26 46 26 38Z"/></g><rect x="0" y="0" width="23" height="9.2" fill="#fff"/><text x="5.0" y="7.2" font-size="6.8" fill="#111" stroke="#111" stroke-width="0.1">H&amp;E</text><rect x="52" y="52.3" width="13.3" height="2.7" fill="#fff"/></svg><svg x="85" y="30" width="66" height="58.5" viewBox="0 0 66 58.5" overflow="hidden"><rect width="66" height="58.5" fill="#a8988f"/><rect width="66" height="58.5" fill="#fff" filter="url(#f7)" opacity="1"/><rect width="66" height="58.5" fill="#fff" filter="url(#f8)" opacity="1"/><path d="M66 32 C58 35 52 38 48 44 C45 50 43 54 42 60 L66 60Z" fill="#c4c6d0" filter="url(#b6)"/><g filter="url(#b1)"><path fill="#a8aabc" opacity="0.75" d="M20.5 34.6a2.4 1.6 101 1 0 -.9 4.7a2.4 1.6 101 1 0 .9 -4.7M30.9 18a2.1 2.5 140 1 0 -3.2 2.7a2.1 2.5 140 1 0 3.2 -2.7M11.2 11.1a1.4 1.2 71 1 0 .9 2.6a1.4 1.2 71 1 0 -.9 -2.6M64.3 13.9a1.1 2.2 9 1 0 2.3 .4a1.1 2.2 9 1 0 -2.3 -.4M58.2 2a2.1 2.4 29 1 0 3.7 2.1a2.1 2.4 29 1 0 -3.7 -2.1M57.2 21.4a1.4 1.7 87 1 0 .1 2.8a1.4 1.7 87 1 0 -.1 -2.8M60 22.9a1.1 2 148 1 0 -1.9 1.2a1.1 2 148 1 0 1.9 -1.2M62.8 .4a2 2.2 120 1 0 -2.1 3.5a2 2.2 120 1 0 2.1 -3.5M24.6 29.2a1.7 1.1 130 1 0 -2.2 2.6a1.7 1.1 130 1 0 2.2 -2.6M57.1 22.1a1.8 1.2 146 1 0 -3 1.9a1.8 1.2 146 1 0 3 -1.9M20.6 1a2.2 2.4 137 1 0 -3.2 2.9a2.2 2.4 137 1 0 3.2 -2.9M1.1 -.9a1.9 2.1 8 1 0 3.8 .5a1.9 2.1 8 1 0 -3.8 -.5M16.7 37.2a2 2.5 39 1 0 3 2.5a2 2.5 39 1 0 -3 -2.5M21.1 41.9a1.3 2.2 23 1 0 2.3 1a1.3 2.2 23 1 0 -2.3 -1M3.1 48a1.4 1.9 10 1 0 2.8 .5a1.4 1.9 10 1 0 -2.8 -.5M60.6 -1.3a2.6 2 105 1 0 -1.4 5a2.6 2 105 1 0 1.4 -5M11.2 30.9a2 1.5 178 1 0 -3.9 .1a2 1.5 178 1 0 3.9 -.1M46.6 43.7a1.4 1.8 7 1 0 2.7 .3a1.4 1.8 7 1 0 -2.7 -.3M53.8 19.5a2.4 1.6 26 1 0 4.2 2.1a2.4 1.6 26 1 0 -4.2 -2.1M1.6 37.7a1.1 2.4 75 1 0 .5 2.1a1.1 2.4 75 1 0 -.5 -2.1M.3 37.7a1.3 1.8 142 1 0 -2 1.5a1.3 1.8 142 1 0 2 -1.5M24.6 4.3a1.8 2 16 1 0 3.4 1a1.8 2 16 1 0 -3.4 -1M9.9 34.6a1.3 1.2 20 1 0 2.4 .9a1.3 1.2 20 1 0 -2.4 -.9M12.7 23.7a1.7 1.8 16 1 0 3.3 1a1.7 1.8 16 1 0 -3.3 -1M42.6 11.9a2.2 1.2 14 1 0 4.2 1.1a2.2 1.2 14 1 0 -4.2 -1.1M51 -1a1.4 1.6 34 1 0 2.3 1.6a1.4 1.6 34 1 0 -2.3 -1.6M14.1 18.2a1.2 1.7 89 1 0 0 2.3a1.2 1.7 89 1 0 0 -2.3M11.6 38.7a1.3 2 87 1 0 .1 2.7a1.3 2 87 1 0 -.1 -2.7M65 -2.1a1.4 2.2 44 1 0 2 2a1.4 2.2 44 1 0 -2 -2M24.2 15.9a1.8 2.1 63 1 0 1.6 3.1a1.8 2.1 63 1 0 -1.6 -3.1M37.7 -1.7a2.2 2.6 130 1 0 -2.9 3.4a2.2 2.6 130 1 0 2.9 -3.4M46.9 35.9a2.1 2.5 86 1 0 .2 4.1a2.1 2.5 86 1 0 -.2 -4.1M12.9 40.3a2.6 2.1 136 1 0 -3.7 3.6a2.6 2.1 136 1 0 3.7 -3.6M19.3 31.7a1.7 2.1 27 1 0 3 1.6a1.7 2.1 27 1 0 -3 -1.6M56.4 24.9a2.1 1.7 52 1 0 2.6 3.3a2.1 1.7 52 1 0 -2.6 -3.3"/><path fill="#b0b4c4" opacity="0.75" d="M25.1 54.7a2.4 2 67 1 0 1.8 4.3a2.4 2 67 1 0 -1.8 -4.3M68.7 15.8a2 2.5 127 1 0 -2.5 3.3a2 2.5 127 1 0 2.5 -3.3M8.5 31.1a1.2 2.5 152 1 0 -2.2 1.1a1.2 2.5 152 1 0 2.2 -1.1M39.8 11.5a1.1 2 85 1 0 .2 2.2a1.1 2 85 1 0 -.2 -2.2M50.1 10.2a2.5 1.4 41 1 0 3.7 3.3a2.5 1.4 41 1 0 -3.7 -3.3M47.6 -1.5a1 2.1 36 1 0 1.7 1.2a1 2.1 36 1 0 -1.7 -1.2M27 -.8a1.9 2.2 12 1 0 3.7 .8a1.9 2.2 12 1 0 -3.7 -.8M10.6 .9a1.2 1.6 123 1 0 -1.3 1.9a1.2 1.6 123 1 0 1.3 -1.9M38.6 49.2a1.6 1.2 85 1 0 .2 3.2a1.6 1.2 85 1 0 -.2 -3.2M36.7 36.5a1.9 1.6 52 1 0 2.4 3.1a1.9 1.6 52 1 0 -2.4 -3.1M17.5 31a2.6 2.2 104 1 0 -1.3 5a2.6 2.2 104 1 0 1.3 -5M20.9 27.6a2.2 2.3 93 1 0 -.3 4.5a2.2 2.3 93 1 0 .3 -4.5M37.1 2.2a1.8 2 129 1 0 -2.3 2.8a1.8 2 129 1 0 2.3 -2.8M59.7 34.4a2.1 1.2 12 1 0 4.1 .9a2.1 1.2 12 1 0 -4.1 -.9M3 48.8a1.5 1 145 1 0 -2.4 1.7a1.5 1 145 1 0 2.4 -1.7M56.2 28.4a2.3 1.3 110 1 0 -1.6 4.3a2.3 1.3 110 1 0 1.6 -4.3M56.7 11.3a1.5 1.1 107 1 0 -.9 2.9a1.5 1.1 107 1 0 .9 -2.9M49.8 19.5a1.2 1.8 176 1 0 -2.4 .2a1.2 1.8 176 1 0 2.4 -.2M32.3 46.3a1.7 1.2 59 1 0 1.8 3a1.7 1.2 59 1 0 -1.8 -3M22 -2.9a1.4 1.5 47 1 0 1.9 2.1a1.4 1.5 47 1 0 -1.9 -2.1M62.7 19.3a1.9 1.6 29 1 0 3.3 1.9a1.9 1.6 29 1 0 -3.3 -1.9M22.8 41.2a2.3 1 51 1 0 2.8 3.6a2.3 1 51 1 0 -2.8 -3.6M23.7 .9a2.3 2.1 139 1 0 -3.5 3a2.3 2.1 139 1 0 3.5 -3M35.5 44.8a1.2 2.1 158 1 0 -2.1 .9a1.2 2.1 158 1 0 2.1 -.9M47.1 46.5a2.1 1.4 172 1 0 -4.1 .6a2.1 1.4 172 1 0 4.1 -.6M33.2 57.2a1.6 2.1 17 1 0 3 .9a1.6 2.1 17 1 0 -3 -.9M40.3 -1.2a1.6 1.6 148 1 0 -2.7 1.6a1.6 1.6 148 1 0 2.7 -1.6M35 46.5a2.3 2.4 93 1 0 -.3 4.6a2.3 2.4 93 1 0 .3 -4.6"/><path fill="#c0c2cc" opacity="0.75" d="M48.7 34.2a2.1 2.5 146 1 0 -3.5 2.3a2.1 2.5 146 1 0 3.5 -2.3M16.6 20a1.4 1.5 146 1 0 -2.3 1.5a1.4 1.5 146 1 0 2.3 -1.5M-.5 56.7a1.3 2.2 5 1 0 2.6 .3a1.3 2.2 5 1 0 -2.6 -.3M60 24.5a1.5 1 167 1 0 -2.9 .6a1.5 1 167 1 0 2.9 -.6M22.1 4.4a1.5 1 173 1 0 -2.9 .3a1.5 1 173 1 0 2.9 -.3M45.8 13.9a1.2 1.5 157 1 0 -2.2 .9a1.2 1.5 157 1 0 2.2 -.9M30.5 57a2.5 1.6 54 1 0 2.9 4.1a2.5 1.6 54 1 0 -2.9 -4.1M47.4 30.3a2.4 1.4 127 1 0 -2.8 3.8a2.4 1.4 127 1 0 2.8 -3.8M32.7 36.9a1.3 2.6 23 1 0 2.3 1a1.3 2.6 23 1 0 -2.3 -1M54.9 9.2a2.6 1.2 149 1 0 -4.5 2.6a2.6 1.2 149 1 0 4.5 -2.6M11.7 56.6a1.1 2.4 63 1 0 .9 1.9a1.1 2.4 63 1 0 -.9 -1.9M69.1 1.3a1.4 1.7 174 1 0 -2.8 .2a1.4 1.7 174 1 0 2.8 -.2M10.8 5.3a2.5 1.5 124 1 0 -2.9 4.2a2.5 1.5 124 1 0 2.9 -4.2M35.1 22.3a2.2 2.1 27 1 0 3.8 2a2.2 2.1 27 1 0 -3.8 -2M10.1 45.8a2.6 2.5 45 1 0 3.6 3.6a2.6 2.5 45 1 0 -3.6 -3.6M25 16.3a1.3 1.7 93 1 0 -.2 2.5a1.3 1.7 93 1 0 .2 -2.5M59.9 11.9a2.2 1.2 95 1 0 -.4 4.3a2.2 1.2 95 1 0 .4 -4.3M-3.1 33.5a2.3 2 57 1 0 2.5 3.9a2.3 2 57 1 0 -2.5 -3.9M42.5 42.6a1.3 1.1 94 1 0 -.2 2.7a1.3 1.1 94 1 0 .2 -2.7M2.3 47.9a2 1.7 26 1 0 3.6 1.8a2 1.7 26 1 0 -3.6 -1.8M29.1 2.4a2.3 2 88 1 0 .1 4.5a2.3 2 88 1 0 -.1 -4.5M60.9 22.2a2.2 2.4 107 1 0 -1.3 4.1a2.2 2.4 107 1 0 1.3 -4.1M50.8 40.9a1.3 2.1 77 1 0 .6 2.6a1.3 2.1 77 1 0 -.6 -2.6M27.1 49.6a2.5 1.6 110 1 0 -1.8 4.7a2.5 1.6 110 1 0 1.8 -4.7M11.9 35.6a1.3 1.5 26 1 0 2.3 1.2a1.3 1.5 26 1 0 -2.3 -1.2M14.1 13.6a1 1.4 136 1 0 -1.5 1.4a1 1.4 136 1 0 1.5 -1.4M28.8 38.5a1.7 2.3 76 1 0 .8 3.4a1.7 2.3 76 1 0 -.8 -3.4M65.8 16.8a1.8 2 150 1 0 -3 1.7a1.8 2 150 1 0 3 -1.7M14.4 31.5a1.2 1.1 22 1 0 2.2 .9a1.2 1.1 22 1 0 -2.2 -.9M65.8 23.1a1.5 2.2 45 1 0 2.1 2.2a1.5 2.2 45 1 0 -2.1 -2.2M2.9 -2.3a2.4 2.3 53 1 0 2.9 3.8a2.4 2.3 53 1 0 -2.9 -3.8M55.7 10.8a2.5 2 114 1 0 -2.1 4.6a2.5 2 114 1 0 2.1 -4.6M62.9 23.1a1.8 1.9 149 1 0 -3.1 1.9a1.8 1.9 149 1 0 3.1 -1.9M23 -.9a1.4 2.3 117 1 0 -1.2 2.4a1.4 2.3 117 1 0 1.2 -2.4M62.5 11.8a1.7 2.2 138 1 0 -2.6 2.3a1.7 2.2 138 1 0 2.6 -2.3M23.8 25.1a1.1 2 68 1 0 .8 2a1.1 2 68 1 0 -.8 -2M42.6 59a2.2 1.7 166 1 0 -4.3 1a2.2 1.7 166 1 0 4.3 -1M1.7 34.9a1.8 1.2 168 1 0 -3.6 .8a1.8 1.2 168 1 0 3.6 -.8M49 38.6a1.4 1.7 33 1 0 2.3 1.5a1.4 1.7 33 1 0 -2.3 -1.5M6.1 19.6a1.3 1.9 147 1 0 -2.3 1.4a1.3 1.9 147 1 0 2.3 -1.4M68 6.8a2 2.2 101 1 0 -.8 4a2 2.2 101 1 0 .8 -4M53.7 3.4a1.8 1.4 143 1 0 -2.9 2.1a1.8 1.4 143 1 0 2.9 -2.1M-2.6 25a2.6 2.3 0 1 0 5.1 0a2.6 2.3 0 1 0 -5.1 0M10.6 18.8a2.5 2.1 34 1 0 4.1 2.8a2.5 2.1 34 1 0 -4.1 -2.8M12.8 54.1a2.6 2 150 1 0 -4.5 2.5a2.6 2 150 1 0 4.5 -2.5M13.3 37.3a2 2.5 102 1 0 -.8 3.9a2 2.5 102 1 0 .8 -3.9M60.3 18.6a1.6 2.4 76 1 0 .8 3.2a1.6 2.4 76 1 0 -.8 -3.2"/><path fill="#a8aabc" opacity="0.5" d="M20 18.6a1.2 1.2 130 1 0 -1.5 1.8a1.2 1.2 130 1 0 1.5 -1.8M27 45.6a2.1 1.3 66 1 0 1.7 3.8a2.1 1.3 66 1 0 -1.7 -3.8M45.3 50.2a1.8 1.5 159 1 0 -3.4 1.2a1.8 1.5 159 1 0 3.4 -1.2M12.4 15.4a1.7 1.1 3 1 0 3.3 .2a1.7 1.1 3 1 0 -3.3 -.2M30.1 57a2.4 1.9 113 1 0 -1.9 4.3a2.4 1.9 113 1 0 1.9 -4.3M23.1 7.9a1 1.7 168 1 0 -2 .4a1 1.7 168 1 0 2 -.4M12.2 9.1a2.3 2.1 163 1 0 -4.5 1.4a2.3 2.1 163 1 0 4.5 -1.4M26.1 22.9a1.9 2.4 118 1 0 -1.9 3.4a1.9 2.4 118 1 0 1.9 -3.4M47.8 -2.8a1.8 2.1 123 1 0 -1.9 2.9a1.8 2.1 123 1 0 1.9 -2.9M67.9 23.2a1.6 2.1 134 1 0 -2.2 2.2a1.6 2.1 134 1 0 2.2 -2.2"/><path fill="#a8aabc" opacity="1.0" d="M18.8 12a2.1 1.5 122 1 0 -2.3 3.6a2.1 1.5 122 1 0 2.3 -3.6M42.1 16.9a1.3 1.9 72 1 0 .8 2.5a1.3 1.9 72 1 0 -.8 -2.5M63.6 16.8a2.1 2.5 134 1 0 -3 3.1a2.1 2.5 134 1 0 3 -3.1M4.5 53.1a1.2 1.8 52 1 0 1.4 1.9a1.2 1.8 52 1 0 -1.4 -1.9"/><path fill="#b0b4c4" opacity="1.0" d="M0 32.2a1.4 1.3 144 1 0 -2.2 1.6a1.4 1.3 144 1 0 2.2 -1.6M-.6 57.2a1.9 1.9 113 1 0 -1.5 3.5a1.9 1.9 113 1 0 1.5 -3.5M50.5 27.7a2.2 1 157 1 0 -4.1 1.7a2.2 1 157 1 0 4.1 -1.7"/><path fill="#c0c2cc" opacity="1.0" d="M66.8 29.7a1.8 2.3 83 1 0 .4 3.6a1.8 2.3 83 1 0 -.4 -3.6M19.6 8.2a1.2 1.7 28 1 0 2.1 1.1a1.2 1.7 28 1 0 -2.1 -1.1"/><path fill="#b0b4c4" opacity="0.5" d="M67 1.7a2.6 2.4 144 1 0 -4.2 3a2.6 2.4 144 1 0 4.2 -3"/></g><g filter="url(#b1)"><path fill="#76604f" opacity="0.75" d="M2.4 8.3a1.2 .9 165 1 0 -2.4 .6a1.2 .9 165 1 0 2.4 -.6M7 16.4a1.7 1.4 176 1 0 -3.3 .2a1.7 1.4 176 1 0 3.3 -.2M44.3 41.3a1.6 1.6 9 1 0 3.1 .5a1.6 1.6 9 1 0 -3.1 -.5M23.5 51.3a1.8 1.1 143 1 0 -2.9 2.1a1.8 1.1 143 1 0 2.9 -2.1M11.9 31.9a1 1.1 42 1 0 1.5 1.3a1 1.1 42 1 0 -1.5 -1.3M12.7 44.7a1.6 1 48 1 0 2.2 2.5a1.6 1 48 1 0 -2.2 -2.5M19.6 9.9a1.6 1.6 30 1 0 2.7 1.6a1.6 1.6 30 1 0 -2.7 -1.6M53.9 4.3a1.3 1.5 6 1 0 2.6 .3a1.3 1.5 6 1 0 -2.6 -.3M11.5 39.1a1.4 1.4 66 1 0 1.1 2.6a1.4 1.4 66 1 0 -1.1 -2.6M44.5 8.6a1.6 1.1 5 1 0 3.2 .3a1.6 1.1 5 1 0 -3.2 -.3M49.4 33.6a1.3 1.5 120 1 0 -1.4 2.3a1.3 1.5 120 1 0 1.4 -2.3M33.4 12.5a1.5 1.5 26 1 0 2.8 1.4a1.5 1.5 26 1 0 -2.8 -1.4M52.5 31.8a1.2 1.4 61 1 0 1.2 2.2a1.2 1.4 61 1 0 -1.2 -2.2M26.3 37.1a1.3 1.5 7 1 0 2.5 .3a1.3 1.5 7 1 0 -2.5 -.3M40.9 46.5a1.5 1.3 8 1 0 3 .4a1.5 1.3 8 1 0 -3 -.4M47.4 -1.8a1 1.7 165 1 0 -2 .5a1 1.7 165 1 0 2 -.5M56.5 22.3a1.5 .9 55 1 0 1.7 2.4a1.5 .9 55 1 0 -1.7 -2.4M33.5 30.2a1 .9 141 1 0 -1.6 1.3a1 .9 141 1 0 1.6 -1.3M7.6 6.6a1.4 1.7 13 1 0 2.6 .6a1.4 1.7 13 1 0 -2.6 -.6M18.9 1.3a1.7 1.3 170 1 0 -3.3 .6a1.7 1.3 170 1 0 3.3 -.6M49.5 3.3a1.5 1.8 79 1 0 .5 2.9a1.5 1.8 79 1 0 -.5 -2.9M35.3 31.2a1 1.2 91 1 0 -.1 2a1 1.2 91 1 0 .1 -2M17 44.8a1 1.6 128 1 0 -1.2 1.5a1 1.6 128 1 0 1.2 -1.5M25.1 47a1.1 1.8 68 1 0 .8 2a1.1 1.8 68 1 0 -.8 -2M26.1 54.4a1.7 1.5 82 1 0 .5 3.4a1.7 1.5 82 1 0 -.5 -3.4M52.3 3.5a1.1 1.8 88 1 0 0 2.3a1.1 1.8 88 1 0 0 -2.3M4.1 53.4a1.5 1.7 165 1 0 -2.8 .7a1.5 1.7 165 1 0 2.8 -.7M61.7 20.8a1 1 35 1 0 1.7 1.2a1 1 35 1 0 -1.7 -1.2M20 7a1.8 1.8 37 1 0 2.8 2.2a1.8 1.8 37 1 0 -2.8 -2.2M28.6 56.2a1.3 1 111 1 0 -1 2.5a1.3 1 111 1 0 1 -2.5"/><path fill="#a08c7a" opacity="0.5" d="M54.2 26.8a.9 .9 110 1 0 -.7 1.7a.9 .9 110 1 0 .7 -1.7M57.8 8.4a1.7 1.1 14 1 0 3.3 .8a1.7 1.1 14 1 0 -3.3 -.8M54.6 7a1.2 1.6 22 1 0 2.2 .9a1.2 1.6 22 1 0 -2.2 -.9M32.7 2.6a1.2 1 21 1 0 2.2 .9a1.2 1 21 1 0 -2.2 -.9M31.3 24.8a1 1.7 101 1 0 -.4 2a1 1.7 101 1 0 .4 -2M27.5 25.8a1.2 1 50 1 0 1.6 1.9a1.2 1 50 1 0 -1.6 -1.9M27.1 39a1.7 1.4 40 1 0 2.6 2.2a1.7 1.4 40 1 0 -2.6 -2.2M13.7 53.1a1.5 1 33 1 0 2.5 1.6a1.5 1 33 1 0 -2.5 -1.6M48.8 6.7a1.3 1.6 92 1 0 -.1 2.7a1.3 1.6 92 1 0 .1 -2.7M12.7 55.3a1.2 1 39 1 0 1.8 1.5a1.2 1 39 1 0 -1.8 -1.5"/><path fill="#86705f" opacity="0.75" d="M45.1 18.3a1.4 1.1 13 1 0 2.7 .7a1.4 1.1 13 1 0 -2.7 -.7M-1.3 34.3a1.4 .9 0 1 0 2.9 0a1.4 .9 0 1 0 -2.9 0M13.2 21a1.7 1.7 11 1 0 3.4 .7a1.7 1.7 11 1 0 -3.4 -.7M6.4 31.6a1.3 1.7 143 1 0 -2 1.5a1.3 1.7 143 1 0 2 -1.5M29.7 -1.9a1.2 1.3 94 1 0 -.2 2.4a1.2 1.3 94 1 0 .2 -2.4M66.3 2.5a1.1 1.5 136 1 0 -1.5 1.5a1.1 1.5 136 1 0 1.5 -1.5M31.1 31.7a1.4 1.2 141 1 0 -2.1 1.7a1.4 1.2 141 1 0 2.1 -1.7M60 -1.3a1.1 1.1 164 1 0 -2.2 .6a1.1 1.1 164 1 0 2.2 -.6M64.5 14.4a1.8 1.3 119 1 0 -1.8 3a1.8 1.3 119 1 0 1.8 -3M25.2 16.3a1.4 1.4 116 1 0 -1.3 2.6a1.4 1.4 116 1 0 1.3 -2.6M8.8 41.4a1.4 1.2 127 1 0 -1.7 2.2a1.4 1.2 127 1 0 1.7 -2.2M53.1 16.5a1.3 1.4 110 1 0 -.9 2.4a1.3 1.4 110 1 0 .9 -2.4M22.3 21.7a1.5 1.5 117 1 0 -1.4 2.7a1.5 1.5 117 1 0 1.4 -2.7M8.5 10.2a1.5 1.3 73 1 0 .8 2.8a1.5 1.3 73 1 0 -.8 -2.8M58.7 24.9a1.3 1.5 140 1 0 -2 1.6a1.3 1.5 140 1 0 2 -1.6M29.2 32.6a1.1 1.4 46 1 0 1.5 1.6a1.1 1.4 46 1 0 -1.5 -1.6M36.6 28.3a1.2 1 146 1 0 -1.9 1.3a1.2 1 146 1 0 1.9 -1.3M29.4 23.2a1.8 1.1 4 1 0 3.5 .3a1.8 1.1 4 1 0 -3.5 -.3M61.3 -1.1a1 1.2 173 1 0 -2.1 .2a1 1.2 173 1 0 2.1 -.2M63 -.6a1.3 1.7 7 1 0 2.5 .3a1.3 1.7 7 1 0 -2.5 -.3M40.8 5.6a1.4 1 75 1 0 .7 2.7a1.4 1 75 1 0 -.7 -2.7M20.9 7.8a1.4 1.4 150 1 0 -2.5 1.4a1.4 1.4 150 1 0 2.5 -1.4M20.4 33a1.8 1 47 1 0 2.4 2.6a1.8 1 47 1 0 -2.4 -2.6M30.8 10.2a1.3 1.1 13 1 0 2.6 .6a1.3 1.1 13 1 0 -2.6 -.6M4.5 48a1.3 1.3 120 1 0 -1.3 2.2a1.3 1.3 120 1 0 1.3 -2.2M2.4 28.8a1.5 1.4 93 1 0 -.2 3.1a1.5 1.4 93 1 0 .2 -3.1"/><path fill="#957e6c" opacity="0.75" d="M36.8 52.3a.9 1 167 1 0 -1.8 .4a.9 1 167 1 0 1.8 -.4M44.8 27.5a1.7 1 149 1 0 -2.9 1.7a1.7 1 149 1 0 2.9 -1.7M59.2 27.3a1.3 1.3 96 1 0 -.3 2.6a1.3 1.3 96 1 0 .3 -2.6M30.6 41.9a1.7 1.8 146 1 0 -2.9 1.9a1.7 1.8 146 1 0 2.9 -1.9M8.2 2.7a1.1 1.5 29 1 0 1.9 1a1.1 1.5 29 1 0 -1.9 -1M2.1 12.9a1.7 1.5 172 1 0 -3.4 .4a1.7 1.5 172 1 0 3.4 -.4M59.4 8.5a1.5 1.5 146 1 0 -2.6 1.7a1.5 1.5 146 1 0 2.6 -1.7M19.2 35.3a1.3 1.5 118 1 0 -1.3 2.4a1.3 1.5 118 1 0 1.3 -2.4M.9 13.4a1.2 1.1 121 1 0 -1.3 2a1.2 1.1 121 1 0 1.3 -2M4 50.8a1.7 1.4 89 1 0 0 3.4a1.7 1.4 89 1 0 0 -3.4M63.3 14.7a1.2 1.5 24 1 0 2.2 1a1.2 1.5 24 1 0 -2.2 -1M57.4 17a1.6 1.5 142 1 0 -2.6 2a1.6 1.5 142 1 0 2.6 -2M41 29.3a1.1 1.3 116 1 0 -1 2a1.1 1.3 116 1 0 1 -2M39.1 32a1.4 1.2 56 1 0 1.5 2.3a1.4 1.2 56 1 0 -1.5 -2.3M53.3 20.4a1 1 62 1 0 1 1.8a1 1 62 1 0 -1 -1.8M10.8 57a1.4 1.8 24 1 0 2.6 1.1a1.4 1.8 24 1 0 -2.6 -1.1M28.2 27.1a1.7 1.8 33 1 0 2.8 1.9a1.7 1.8 33 1 0 -2.8 -1.9M47.8 40.7a.9 1.4 84 1 0 .2 1.9a.9 1.4 84 1 0 -.2 -1.9M23.5 12.5a1.2 1.7 127 1 0 -1.5 1.9a1.2 1.7 127 1 0 1.5 -1.9M12.1 9.9a1.3 1.6 140 1 0 -2 1.6a1.3 1.6 140 1 0 2 -1.6M52.5 27.3a1.4 1.7 85 1 0 .2 2.8a1.4 1.7 85 1 0 -.2 -2.8M24.9 11a1.3 .9 144 1 0 -2.1 1.5a1.3 .9 144 1 0 2.1 -1.5M17.7 44.4a1.6 1.6 39 1 0 2.5 2.1a1.6 1.6 39 1 0 -2.5 -2.1"/><path fill="#a08c7a" opacity="0.75" d="M14.1 59.4a1 1 11 1 0 2 .4a1 1 11 1 0 -2 -.4M26.6 -1a1.5 1 130 1 0 -1.9 2.2a1.5 1 130 1 0 1.9 -2.2M37.4 2.3a1.6 1.8 14 1 0 3.1 .8a1.6 1.8 14 1 0 -3.1 -.8M52.1 35.1a1.6 1.1 25 1 0 2.9 1.4a1.6 1.1 25 1 0 -2.9 -1.4M36.7 4.4a1.2 1 4 1 0 2.5 .2a1.2 1 4 1 0 -2.5 -.2M29.1 7.2a1.2 1.5 61 1 0 1.1 2.1a1.2 1.5 61 1 0 -1.1 -2.1M25.4 5.9a1 1.2 179 1 0 -2 0a1 1.2 179 1 0 2 0M31.3 57.8a1.3 1 161 1 0 -2.4 .8a1.3 1 161 1 0 2.4 -.8M21.7 57.6a1.1 1.5 39 1 0 1.7 1.4a1.1 1.5 39 1 0 -1.7 -1.4M34 43a1.1 .9 122 1 0 -1.2 1.8a1.1 .9 122 1 0 1.2 -1.8M23.7 39.8a1.5 1.1 158 1 0 -2.8 1.1a1.5 1.1 158 1 0 2.8 -1.1M54.1 24.8a1.4 1.3 24 1 0 2.5 1.1a1.4 1.3 24 1 0 -2.5 -1.1M22.2 1.1a1.1 1.5 30 1 0 1.9 1.1a1.1 1.5 30 1 0 -1.9 -1.1M56.8 27.3a1.3 1.1 167 1 0 -2.6 .6a1.3 1.1 167 1 0 2.6 -.6M-.2 4.4a.9 1.1 59 1 0 1 1.6a.9 1.1 59 1 0 -1 -1.6M33.3 50.6a1.3 1.5 146 1 0 -2.2 1.5a1.3 1.5 146 1 0 2.2 -1.5M44 -.3a1.6 1.7 80 1 0 .5 3.1a1.6 1.7 80 1 0 -.5 -3.1M17.4 41.2a1.5 1.1 73 1 0 .9 2.9a1.5 1.1 73 1 0 -.9 -2.9M9.7 27a1.5 1.4 120 1 0 -1.5 2.5a1.5 1.4 120 1 0 1.5 -2.5M7.5 54.4a1.4 .9 161 1 0 -2.7 .9a1.4 .9 161 1 0 2.7 -.9M26.1 42a1.1 .9 108 1 0 -.7 2a1.1 .9 108 1 0 .7 -2M13.7 60.3a1.2 1.5 176 1 0 -2.4 .2a1.2 1.5 176 1 0 2.4 -.2M31.2 20.6a1.4 1.1 175 1 0 -2.9 .2a1.4 1.1 175 1 0 2.9 -.2M68.3 9.9a1.1 1.1 146 1 0 -1.8 1.2a1.1 1.1 146 1 0 1.8 -1.2"/><path fill="#76604f" opacity="0.5" d="M62.5 31.4a1.1 1.2 147 1 0 -1.9 1.2a1.1 1.2 147 1 0 1.9 -1.2M16.7 10.8a1.3 1.8 70 1 0 .9 2.5a1.3 1.8 70 1 0 -.9 -2.5M35.8 39.5a1.3 1 29 1 0 2.2 1.2a1.3 1 29 1 0 -2.2 -1.2M31.2 58.7a1.2 1.7 53 1 0 1.4 1.9a1.2 1.7 53 1 0 -1.4 -1.9M46.7 9a1.5 .9 78 1 0 .6 2.9a1.5 .9 78 1 0 -.6 -2.9M12.8 9.7a.9 1.5 16 1 0 1.8 .5a.9 1.5 16 1 0 -1.8 -.5M-3 38.2a1.4 1.2 12 1 0 2.8 .6a1.4 1.2 12 1 0 -2.8 -.6M41.3 36a1.4 1.3 136 1 0 -2.1 2a1.4 1.3 136 1 0 2.1 -2M36.4 20.7a1.2 1.1 88 1 0 .1 2.3a1.2 1.1 88 1 0 -.1 -2.3M-2.5 15.6a1.3 1.1 47 1 0 1.7 1.9a1.3 1.1 47 1 0 -1.7 -1.9M45.2 21.7a1.7 1 59 1 0 1.8 2.9a1.7 1 59 1 0 -1.8 -2.9M14 51.5a1.2 1.4 69 1 0 .9 2.3a1.2 1.4 69 1 0 -.9 -2.3M27.4 8.2a1.5 1.4 121 1 0 -1.5 2.5a1.5 1.4 121 1 0 1.5 -2.5M41.9 41.4a1.3 1 133 1 0 -1.7 1.8a1.3 1 133 1 0 1.7 -1.8M31.2 21.6a1.2 .9 9 1 0 2.4 .4a1.2 .9 9 1 0 -2.4 -.4M19.3 36.6a1 1.2 73 1 0 .6 2a1 1.2 73 1 0 -.6 -2M34.6 47.7a1.2 1.3 114 1 0 -1 2.1a1.2 1.3 114 1 0 1 -2.1M49.5 19a1.6 1.6 33 1 0 2.7 1.7a1.6 1.6 33 1 0 -2.7 -1.7M7.4 30a1 1.4 85 1 0 .2 2.1a1 1.4 85 1 0 -.2 -2.1M32.5 25.3a1.7 1.6 120 1 0 -1.7 3a1.7 1.6 120 1 0 1.7 -3"/><path fill="#86705f" opacity="0.5" d="M18.1 9.6a1.1 1.6 160 1 0 -2.1 .7a1.1 1.6 160 1 0 2.1 -.7M14.8 7.5a1 1.6 136 1 0 -1.5 1.4a1 1.6 136 1 0 1.5 -1.4M20.2 43.8a1.4 1.3 32 1 0 2.4 1.5a1.4 1.3 32 1 0 -2.4 -1.5M15.7 20.9a1.1 1 164 1 0 -2 .6a1.1 1 164 1 0 2 -.6M28.2 48.7a1 1.2 103 1 0 -.5 2a1 1.2 103 1 0 .5 -2M44.8 32.4a1.6 1 84 1 0 .3 3.2a1.6 1 84 1 0 -.3 -3.2M17.9 9.1a1.7 .9 32 1 0 2.8 1.8a1.7 .9 32 1 0 -2.8 -1.8M56.8 32.1a1.8 1.7 47 1 0 2.4 2.6a1.8 1.7 47 1 0 -2.4 -2.6M27.7 8.6a1.4 1.1 95 1 0 -.3 2.8a1.4 1.1 95 1 0 .3 -2.8M18.3 20.3a1.6 1.4 21 1 0 3 1.1a1.6 1.4 21 1 0 -3 -1.1M25.1 40.8a1.4 1.8 112 1 0 -1.1 2.6a1.4 1.8 112 1 0 1.1 -2.6M2.1 19.9a1.3 1.3 7 1 0 2.7 .3a1.3 1.3 7 1 0 -2.7 -.3M7 14.3a1.4 1.1 2 1 0 2.9 .1a1.4 1.1 2 1 0 -2.9 -.1M30.9 51.7a1.7 1.5 99 1 0 -.5 3.3a1.7 1.5 99 1 0 .5 -3.3M49.4 37.2a1 1.8 49 1 0 1.3 1.5a1 1.8 49 1 0 -1.3 -1.5M27.2 49.7a1 1.1 133 1 0 -1.4 1.5a1 1.1 133 1 0 1.4 -1.5M39.1 30.4a1.2 1.7 124 1 0 -1.4 2a1.2 1.7 124 1 0 1.4 -2"/><path fill="#957e6c" opacity="0.5" d="M42.4 34a1.7 1.7 56 1 0 1.9 2.9a1.7 1.7 56 1 0 -1.9 -2.9M-.3 37.9a1 1.3 131 1 0 -1.3 1.4a1 1.3 131 1 0 1.3 -1.4M-2.3 37.2a1.6 1.3 45 1 0 2.2 2.2a1.6 1.3 45 1 0 -2.2 -2.2M45.5 11.4a1.5 1.2 134 1 0 -2.1 2.1a1.5 1.2 134 1 0 2.1 -2.1M18.2 0a1 1.7 76 1 0 .5 1.9a1 1.7 76 1 0 -.5 -1.9M61.1 1.8a1.5 1.4 136 1 0 -2.2 2.1a1.5 1.4 136 1 0 2.2 -2.1M45.9 34.9a1.1 1.5 34 1 0 1.8 1.2a1.1 1.5 34 1 0 -1.8 -1.2M23.3 -2.2a1.5 1.4 99 1 0 -.5 2.9a1.5 1.4 99 1 0 .5 -2.9M10 36.2a1.3 1.7 19 1 0 2.4 .8a1.3 1.7 19 1 0 -2.4 -.8M37.9 1.1a1.1 1 17 1 0 2.2 .7a1.1 1 17 1 0 -2.2 -.7M44.5 39a1 1 14 1 0 2 .5a1 1 14 1 0 -2 -.5M42.4 16.9a1.1 1.4 62 1 0 1 2a1.1 1.4 62 1 0 -1 -2M30.9 43.3a1.2 1.3 86 1 0 .1 2.3a1.2 1.3 86 1 0 -.1 -2.3M50.2 35a1.4 1.4 40 1 0 2.1 1.8a1.4 1.4 40 1 0 -2.1 -1.8M6.5 25.1a.9 1.1 131 1 0 -1.2 1.4a.9 1.1 131 1 0 1.2 -1.4M20.1 18.4a1.5 1.3 20 1 0 2.8 1.1a1.5 1.3 20 1 0 -2.8 -1.1"/><path fill="#76604f" opacity="1.0" d="M20.5 26.4a1.4 1.2 55 1 0 1.6 2.3a1.4 1.2 55 1 0 -1.6 -2.3"/><path fill="#86705f" opacity="1.0" d="M29.9 8.6a1.8 1.6 41 1 0 2.6 2.4a1.8 1.6 41 1 0 -2.6 -2.4"/><path fill="#a08c7a" opacity="1.0" d="M27.7 37.3a1.6 1 14 1 0 3 .8a1.6 1 14 1 0 -3 -.8M50.5 35.2a1.4 1.1 6 1 0 2.8 .3a1.4 1.1 6 1 0 -2.8 -.3"/></g><rect x="0" y="0" width="26.6" height="9.2" fill="#fff"/><text x="3.4" y="7.2" font-size="6.8" fill="#111" stroke="#111" stroke-width="0.1">hCD45</text><rect x="48.8" y="52.5" width="13.3" height="2.7" fill="#fff"/></svg><svg x="156" y="30" width="63.3" height="58.3" viewBox="0 0 63.3 58.3" overflow="hidden"><rect width="63.3" height="58.3" fill="#e8b896"/><rect width="63.3" height="58.3" fill="#fff" filter="url(#f10)" opacity="1"/><rect width="63.3" height="58.3" fill="#fff" filter="url(#f11)" opacity="1"/><g filter="url(#b1)"><path fill="#8a5aa0" opacity="0.75" d="M50.3 19a1 .9 9 1 0 2 .3a1 .9 9 1 0 -2 -.3M27.8 22.8a1.2 .8 0 1 0 2.4 0a1.2 .8 0 1 0 -2.4 0M44.4 22.2a.9 .9 0 1 0 1.8 0a.9 .9 0 1 0 -1.8 0M3.4 46.5a1 .7 -2 1 0 2.1 -.1a1 .7 -2 1 0 -2.1 .1M41.8 24.5a1.1 .8 5 1 0 2.1 .2a1.1 .8 5 1 0 -2.1 -.2M1.7 42a.8 .6 -9 1 0 1.5 -.2a.8 .6 -9 1 0 -1.5 .2M32.2 48.4a.9 .8 4 1 0 1.8 .2a.9 .8 4 1 0 -1.8 -.2M33 39.9a.8 .8 -7 1 0 1.6 -.2a.8 .8 -7 1 0 -1.6 .2M60 37.4a.8 .6 5 1 0 1.7 .2a.8 .6 5 1 0 -1.7 -.2M10.4 22a1.1 .7 -7 1 0 2.1 -.3a1.1 .7 -7 1 0 -2.1 .3M32.8 30.9a.9 .9 -2 1 0 1.9 -.1a.9 .9 -2 1 0 -1.9 .1M45.3 57.7a.9 .8 -9 1 0 1.8 -.3a.9 .8 -9 1 0 -1.8 .3M24.2 -1.2a1.1 .6 -3 1 0 2.1 -.1a1.1 .6 -3 1 0 -2.1 .1M35.2 55.2a.8 .7 2 1 0 1.6 .1a.8 .7 2 1 0 -1.6 -.1M1.5 40.7a1 .5 2 1 0 1.9 .1a1 .5 2 1 0 -1.9 -.1M50.8 2.6a.7 .5 5 1 0 1.4 .1a.7 .5 5 1 0 -1.4 -.1M14.6 42.4a1 .8 -8 1 0 1.9 -.3a1 .8 -8 1 0 -1.9 .3M-1.9 48.9a.9 .7 7 1 0 1.8 .2a.9 .7 7 1 0 -1.8 -.2M11.4 25.8a1.3 .9 -8 1 0 2.5 -.4a1.3 .9 -8 1 0 -2.5 .4M36.4 42.4a1.2 .8 -8 1 0 2.4 -.4a1.2 .8 -8 1 0 -2.4 .4M34.2 55.6a.9 .7 -3 1 0 1.8 -.1a.9 .7 -3 1 0 -1.8 .1M20.4 20a.6 .5 -1 1 0 1.3 0a.6 .5 -1 1 0 -1.3 0M60.1 33a.7 .8 1 1 0 1.5 0a.7 .8 1 1 0 -1.5 0M43.9 39.1a.8 .5 1 1 0 1.6 0a.8 .5 1 1 0 -1.6 0M-2.5 31.2a1.3 .5 -8 1 0 2.5 -.4a1.3 .5 -8 1 0 -2.5 .4M41.1 54a1 .6 2 1 0 2 .1a1 .6 2 1 0 -2 -.1"/><path fill="#7a4a98" opacity="0.75" d="M30.3 35.5a1.1 .7 0 1 0 2.2 0a1.1 .7 0 1 0 -2.2 0M43.8 29.4a1 .6 0 1 0 2 0a1 .6 0 1 0 -2 0M10.9 21.7a.9 .7 5 1 0 1.9 .2a.9 .7 5 1 0 -1.9 -.2M52.4 55.4a1.1 .6 6 1 0 2.1 .2a1.1 .6 6 1 0 -2.1 -.2M13.9 9.3a1.3 .6 8 1 0 2.6 .4a1.3 .6 8 1 0 -2.6 -.4M16.5 19.7a.7 .9 2 1 0 1.4 0a.7 .9 2 1 0 -1.4 0M62.4 21.6a.8 .6 -1 1 0 1.6 -.1a.8 .6 -1 1 0 -1.6 .1M58.5 27.7a.7 .6 -2 1 0 1.5 -.1a.7 .6 -2 1 0 -1.5 .1M53 50a.9 .7 6 1 0 1.8 .2a.9 .7 6 1 0 -1.8 -.2M11.2 34.4a1.2 .9 -2 1 0 2.5 -.1a1.2 .9 -2 1 0 -2.5 .1M16 57a.8 .6 4 1 0 1.6 .1a.8 .6 4 1 0 -1.6 -.1M11.2 20.7a.7 .8 4 1 0 1.3 .1a.7 .8 4 1 0 -1.3 -.1M34.4 8.9a1 .6 4 1 0 2 .2a1 .6 4 1 0 -2 -.2M36.4 19a1.2 .5 1 1 0 2.4 .1a1.2 .5 1 1 0 -2.4 -.1M38.1 26.7a.7 .9 -3 1 0 1.4 -.1a.7 .9 -3 1 0 -1.4 .1M34.4 6.2a1.3 .7 0 1 0 2.6 0a1.3 .7 0 1 0 -2.6 0M38.2 46.8a.9 .6 8 1 0 1.8 .3a.9 .6 8 1 0 -1.8 -.3M36.9 53.8a.9 .6 -3 1 0 1.9 -.1a.9 .6 -3 1 0 -1.9 .1M.7 21.5a.7 .7 4 1 0 1.3 .1a.7 .7 4 1 0 -1.3 -.1M11.8 7.3a1.3 .8 4 1 0 2.5 .2a1.3 .8 4 1 0 -2.5 -.2M60 58.1a1.1 .7 -7 1 0 2.2 -.3a1.1 .7 -7 1 0 -2.2 .3M38.8 54.4a.6 .7 -4 1 0 1.2 -.1a.6 .7 -4 1 0 -1.2 .1M17 26a.8 .7 -2 1 0 1.5 -.1a.8 .7 -2 1 0 -1.5 .1M22.2 8.4a.6 .8 0 1 0 1.3 0a.6 .8 0 1 0 -1.3 0M-2.2 51.9a1.1 .7 8 1 0 2.2 .3a1.1 .7 8 1 0 -2.2 -.3M45.6 .2a.7 .9 7 1 0 1.4 .2a.7 .9 7 1 0 -1.4 -.2M34 41.4a.8 .9 -2 1 0 1.6 -.1a.8 .9 -2 1 0 -1.6 .1M30.8 7.6a1.3 .7 -1 1 0 2.6 -.1a1.3 .7 -1 1 0 -2.6 .1M4.8 23.7a1 .8 6 1 0 1.9 .2a1 .8 6 1 0 -1.9 -.2M.2 34.2a.9 .7 -3 1 0 1.8 -.1a.9 .7 -3 1 0 -1.8 .1M46.5 55.1a.9 .7 -7 1 0 1.8 -.2a.9 .7 -7 1 0 -1.8 .2"/><path fill="#7a4a98" opacity="0.5" d="M23.2 35.2a1.3 .7 -3 1 0 2.5 -.2a1.3 .7 -3 1 0 -2.5 .2M38.3 35.7a.7 .5 0 1 0 1.4 0a.7 .5 0 1 0 -1.4 0M10.3 6.6a1.2 .8 -7 1 0 2.4 -.3a1.2 .8 -7 1 0 -2.4 .3M39.5 50.5a.9 .7 7 1 0 1.8 .2a.9 .7 7 1 0 -1.8 -.2M36.7 54.3a.9 .8 -4 1 0 1.8 -.1a.9 .8 -4 1 0 -1.8 .1M23.8 53.2a1.1 .8 0 1 0 2.3 0a1.1 .8 0 1 0 -2.3 0M25.6 48.3a1 .7 0 1 0 2 0a1 .7 0 1 0 -2 0M32.1 47.2a1 .7 -3 1 0 2 -.1a1 .7 -3 1 0 -2 .1M16.7 54.5a.8 .6 8 1 0 1.7 .3a.8 .6 8 1 0 -1.7 -.3M10.6 49a.9 .5 1 1 0 1.8 .1a.9 .5 1 1 0 -1.8 -.1M47.7 43.4a.9 .6 0 1 0 1.7 0a.9 .6 0 1 0 -1.7 0M40.3 47.8a.8 .5 5 1 0 1.5 .2a.8 .5 5 1 0 -1.5 -.2M45.5 42.1a.7 .7 -5 1 0 1.3 -.1a.7 .7 -5 1 0 -1.3 .1M42.7 16.1a.7 .8 -3 1 0 1.3 -.1a.7 .8 -3 1 0 -1.3 .1"/><path fill="#a878b8" opacity="0.75" d="M12.6 2.2a.9 .9 -8 1 0 1.8 -.3a.9 .9 -8 1 0 -1.8 .3M22.3 36.6a.8 .8 5 1 0 1.6 .2a.8 .8 5 1 0 -1.6 -.2M51.4 21.2a1.1 .6 5 1 0 2.2 .2a1.1 .6 5 1 0 -2.2 -.2M40.7 25.8a.9 .5 -9 1 0 1.8 -.3a.9 .5 -9 1 0 -1.8 .3M7.3 1a.8 .6 8 1 0 1.5 .2a.8 .6 8 1 0 -1.5 -.2M24.3 15a.6 .8 0 1 0 1.2 0a.6 .8 0 1 0 -1.2 0M42.6 14.7a.6 .5 -5 1 0 1.3 -.1a.6 .5 -5 1 0 -1.3 .1M36.8 53.2a1.1 .7 3 1 0 2.1 .1a1.1 .7 3 1 0 -2.1 -.1M-1.4 32a1.1 .8 4 1 0 2.3 .2a1.1 .8 4 1 0 -2.3 -.2M30.4 34.6a1.2 .6 -8 1 0 2.3 -.3a1.2 .6 -8 1 0 -2.3 .3M38.4 38.7a1.3 .5 -4 1 0 2.5 -.2a1.3 .5 -4 1 0 -2.5 .2M63.3 28a1.3 .6 -9 1 0 2.5 -.4a1.3 .6 -9 1 0 -2.5 .4M57.8 39.9a.6 .7 9 1 0 1.2 .2a.6 .7 9 1 0 -1.2 -.2M20.8 54.1a1.1 .7 -9 1 0 2.1 -.4a1.1 .7 -9 1 0 -2.1 .4M63.1 37.5a1.3 .9 -7 1 0 2.5 -.3a1.3 .9 -7 1 0 -2.5 .3M31.9 21.6a1 .7 -2 1 0 2 -.1a1 .7 -2 1 0 -2 .1M34.6 27a.7 .5 -6 1 0 1.4 -.2a.7 .5 -6 1 0 -1.4 .2M56 25.1a.6 .9 1 1 0 1.3 0a.6 .9 1 1 0 -1.3 0M53 36a1.2 .7 5 1 0 2.3 .2a1.2 .7 5 1 0 -2.3 -.2M34.5 34a.7 .5 8 1 0 1.4 .2a.7 .5 8 1 0 -1.4 -.2M24.5 15.4a1.2 .6 9 1 0 2.3 .4a1.2 .6 9 1 0 -2.3 -.4M36.4 35.8a1 .5 5 1 0 1.9 .2a1 .5 5 1 0 -1.9 -.2M47.7 49.8a.9 .7 -3 1 0 1.9 -.1a.9 .7 -3 1 0 -1.9 .1M38.2 50.9a1.1 .8 -5 1 0 2.2 -.2a1.1 .8 -5 1 0 -2.2 .2M7.7 53.6a1 .9 9 1 0 1.9 .3a1 .9 9 1 0 -1.9 -.3M29.9 53.2a1.1 .5 3 1 0 2.3 .1a1.1 .5 3 1 0 -2.3 -.1M9.8 39.6a.8 .5 -8 1 0 1.7 -.3a.8 .5 -8 1 0 -1.7 .3M37.2 7a1.2 .7 -8 1 0 2.4 -.4a1.2 .7 -8 1 0 -2.4 .4M49.5 54.7a1.1 .8 -7 1 0 2.3 -.3a1.1 .8 -7 1 0 -2.3 .3M9.7 35.5a.6 .6 -1 1 0 1.2 0a.6 .6 -1 1 0 -1.2 0M35.5 55.6a.7 .8 1 1 0 1.4 0a.7 .8 1 1 0 -1.4 0M3.3 43.2a1 .9 -6 1 0 2 -.2a1 .9 -6 1 0 -2 .2M38 17a.9 .5 5 1 0 1.9 .2a.9 .5 5 1 0 -1.9 -.2M.8 35.4a.9 .5 -3 1 0 1.9 -.1a.9 .5 -3 1 0 -1.9 .1M43.9 52.1a.7 .7 0 1 0 1.3 0a.7 .7 0 1 0 -1.3 0M15.1 40a.8 .8 -7 1 0 1.6 -.2a.8 .8 -7 1 0 -1.6 .2M16.2 38.6a.9 .8 -7 1 0 1.8 -.2a.9 .8 -7 1 0 -1.8 .2M11.4 32.7a.9 .5 5 1 0 1.7 .2a.9 .5 5 1 0 -1.7 -.2M61.3 19.8a.9 .8 -7 1 0 1.9 -.3a.9 .8 -7 1 0 -1.9 .3"/><path fill="#a878b8" opacity="0.5" d="M28.5 43.4a.8 .6 0 1 0 1.6 0a.8 .6 0 1 0 -1.6 0M5.2 37.7a1.2 .7 -8 1 0 2.3 -.4a1.2 .7 -8 1 0 -2.3 .4M49 26.6a.9 .5 7 1 0 1.8 .2a.9 .5 7 1 0 -1.8 -.2M9 35a.9 .8 -3 1 0 1.7 -.1a.9 .8 -3 1 0 -1.7 .1M-2.5 14.3a1.2 .6 -4 1 0 2.4 -.2a1.2 .6 -4 1 0 -2.4 .2M39.4 38.3a1.2 .5 -9 1 0 2.4 -.4a1.2 .5 -9 1 0 -2.4 .4M39.2 16.3a.7 .8 -1 1 0 1.4 0a.7 .8 -1 1 0 -1.4 0M44.6 3.4a.9 .6 5 1 0 1.7 .2a.9 .6 5 1 0 -1.7 -.2M53.9 34.8a.9 .7 -8 1 0 1.7 -.3a.9 .7 -8 1 0 -1.7 .3M61.2 54.9a.6 .7 4 1 0 1.3 .1a.6 .7 4 1 0 -1.3 -.1M47.5 45.3a1.2 .5 0 1 0 2.4 0a1.2 .5 0 1 0 -2.4 0M32 38a1.1 .9 -4 1 0 2.2 -.2a1.1 .9 -4 1 0 -2.2 .2M0 27.1a.6 .6 9 1 0 1.2 .2a.6 .6 9 1 0 -1.2 -.2M20 49.4a.7 .6 -4 1 0 1.5 -.1a.7 .6 -4 1 0 -1.5 .1M7.8 49.7a1.1 .5 7 1 0 2.1 .3a1.1 .5 7 1 0 -2.1 -.3M8.1 57.8a1.2 .7 -9 1 0 2.4 -.4a1.2 .7 -9 1 0 -2.4 .4M12.1 18.8a1.1 .6 4 1 0 2.2 .2a1.1 .6 4 1 0 -2.2 -.2M27.5 43.6a1 .6 6 1 0 2 .2a1 .6 6 1 0 -2 -.2M57 8.5a1 .7 -7 1 0 2.1 -.3a1 .7 -7 1 0 -2.1 .3M23.7 16.3a.7 .6 2 1 0 1.5 .1a.7 .6 2 1 0 -1.5 -.1"/><path fill="#b88ac0" opacity="0.75" d="M-.4 12a.9 .7 4 1 0 1.9 .1a.9 .7 4 1 0 -1.9 -.1M44.8 52.8a.8 .6 5 1 0 1.7 .2a.8 .6 5 1 0 -1.7 -.2M53.3 16.6a1.2 .6 -1 1 0 2.4 -.1a1.2 .6 -1 1 0 -2.4 .1M62.2 4.3a1.1 .6 1 1 0 2.1 .1a1.1 .6 1 1 0 -2.1 -.1M41.5 19.2a.7 .5 1 1 0 1.3 0a.7 .5 1 1 0 -1.3 0M5.1 30a.9 .7 -4 1 0 1.8 -.2a.9 .7 -4 1 0 -1.8 .2M24.9 27.8a1.1 .9 0 1 0 2.2 0a1.1 .9 0 1 0 -2.2 0M39.7 4a1.2 .6 3 1 0 2.4 .1a1.2 .6 3 1 0 -2.4 -.1M42.8 23a.7 .6 -4 1 0 1.5 -.1a.7 .6 -4 1 0 -1.5 .1M64 18.1a.6 .6 8 1 0 1.2 .2a.6 .6 8 1 0 -1.2 -.2M43 40.3a.9 .8 0 1 0 1.9 0a.9 .8 0 1 0 -1.9 0M-3.1 51.9a1.2 .9 2 1 0 2.5 .1a1.2 .9 2 1 0 -2.5 -.1M31.5 -1.7a.8 .6 0 1 0 1.6 0a.8 .6 0 1 0 -1.6 0M39.6 20.5a.6 .7 2 1 0 1.2 .1a.6 .7 2 1 0 -1.2 -.1M56.6 31.4a1.1 .5 8 1 0 2.1 .3a1.1 .5 8 1 0 -2.1 -.3M44.7 49.7a1.1 .7 2 1 0 2.2 .1a1.1 .7 2 1 0 -2.2 -.1M14.8 58.3a1.2 .7 -1 1 0 2.4 -.1a1.2 .7 -1 1 0 -2.4 .1M34.2 27.7a1.1 .6 -2 1 0 2.3 -.1a1.1 .6 -2 1 0 -2.3 .1M.9 47.6a.6 .8 8 1 0 1.3 .2a.6 .8 8 1 0 -1.3 -.2M40.9 23.8a1 .7 0 1 0 1.9 0a1 .7 0 1 0 -1.9 0M20 29.5a.8 .7 4 1 0 1.5 .1a.8 .7 4 1 0 -1.5 -.1M12.5 40.9a.8 .8 1 1 0 1.5 0a.8 .8 1 1 0 -1.5 0M19.8 10.5a1 .5 9 1 0 2 .3a1 .5 9 1 0 -2 -.3M62.3 2.6a1.2 .5 -5 1 0 2.4 -.2a1.2 .5 -5 1 0 -2.4 .2M35.7 23.8a.9 .7 5 1 0 1.9 .2a.9 .7 5 1 0 -1.9 -.2M54.5 52a1.2 .8 -7 1 0 2.4 -.3a1.2 .8 -7 1 0 -2.4 .3M43.3 19.8a1.1 .5 5 1 0 2.2 .2a1.1 .5 5 1 0 -2.2 -.2M56.9 26.8a1.1 .6 1 1 0 2.2 0a1.1 .6 1 1 0 -2.2 0M-.1 21.8a.7 .9 2 1 0 1.4 .1a.7 .9 2 1 0 -1.4 -.1M36.9 3.8a.7 .5 9 1 0 1.4 .2a.7 .5 9 1 0 -1.4 -.2M41.2 39.6a1.2 .9 -4 1 0 2.4 -.2a1.2 .9 -4 1 0 -2.4 .2"/><path fill="#b88ac0" opacity="0.5" d="M2.1 30.6a.9 .7 -9 1 0 1.7 -.3a.9 .7 -9 1 0 -1.7 .3M43.2 16.3a.8 .7 7 1 0 1.7 .2a.8 .7 7 1 0 -1.7 -.2M25.4 28.6a.7 .8 -2 1 0 1.4 -.1a.7 .8 -2 1 0 -1.4 .1M53.1 38a1.3 .8 2 1 0 2.5 .1a1.3 .8 2 1 0 -2.5 -.1M29.6 20.3a1.2 .5 -7 1 0 2.3 -.3a1.2 .5 -7 1 0 -2.3 .3M45.9 18.9a.9 .6 -2 1 0 1.7 -.1a.9 .6 -2 1 0 -1.7 .1M5.8 57.2a1.1 .6 -4 1 0 2.2 -.2a1.1 .6 -4 1 0 -2.2 .2M-1.6 49.8a.8 .8 -7 1 0 1.5 -.2a.8 .8 -7 1 0 -1.5 .2M53.3 35.1a1.2 .7 3 1 0 2.5 .1a1.2 .7 3 1 0 -2.5 -.1M42.4 23a.6 .8 -3 1 0 1.3 -.1a.6 .8 -3 1 0 -1.3 .1M1.2 55.2a.8 .7 -8 1 0 1.7 -.3a.8 .7 -8 1 0 -1.7 .3M49.7 -.7a1 .8 6 1 0 2 .2a1 .8 6 1 0 -2 -.2M12.8 17.3a1.2 .5 -7 1 0 2.4 -.3a1.2 .5 -7 1 0 -2.4 .3M47 38.7a1 .7 -1 1 0 2 -.1a1 .7 -1 1 0 -2 .1M42.6 5.5a.9 .8 0 1 0 1.8 0a.9 .8 0 1 0 -1.8 0M49.4 23.1a1.2 .9 -1 1 0 2.5 0a1.2 .9 -1 1 0 -2.5 0M48.5 45.1a.9 .8 -5 1 0 1.7 -.2a.9 .8 -5 1 0 -1.7 .2M30.6 51.4a.8 .8 8 1 0 1.6 .2a.8 .8 8 1 0 -1.6 -.2M52.1 8a1.2 .8 5 1 0 2.3 .2a1.2 .8 5 1 0 -2.3 -.2"/><path fill="#9a6ab0" opacity="0.75" d="M1.7 42.7a.7 .7 4 1 0 1.3 .1a.7 .7 4 1 0 -1.3 -.1M5.6 51.9a.8 .5 0 1 0 1.5 0a.8 .5 0 1 0 -1.5 0M10.5 17.3a.8 .8 8 1 0 1.6 .2a.8 .8 8 1 0 -1.6 -.2M33.9 50.9a.9 .8 1 1 0 1.9 0a.9 .8 1 1 0 -1.9 0M50.1 18.1a1.2 .6 -4 1 0 2.5 -.2a1.2 .6 -4 1 0 -2.5 .2M33.2 24.9a1.1 .7 -4 1 0 2.2 -.2a1.1 .7 -4 1 0 -2.2 .2M42.5 43.2a.9 .6 -9 1 0 1.9 -.3a.9 .6 -9 1 0 -1.9 .3M47.8 26.5a.8 .6 -2 1 0 1.6 -.1a.8 .6 -2 1 0 -1.6 .1M.7 33.3a1 .7 7 1 0 2 .3a1 .7 7 1 0 -2 -.3M14.1 24.1a1 .6 8 1 0 1.9 .3a1 .6 8 1 0 -1.9 -.3M50.7 43.5a.7 .5 -4 1 0 1.5 -.1a.7 .5 -4 1 0 -1.5 .1M7.5 17.5a.9 .9 9 1 0 1.8 .3a.9 .9 9 1 0 -1.8 -.3M40.6 30a.6 .6 8 1 0 1.3 .2a.6 .6 8 1 0 -1.3 -.2M47 35.3a.6 .7 9 1 0 1.3 .2a.6 .7 9 1 0 -1.3 -.2M52 46.1a1.1 .7 2 1 0 2.1 .1a1.1 .7 2 1 0 -2.1 -.1M35 39.5a1.3 .7 8 1 0 2.6 .4a1.3 .7 8 1 0 -2.6 -.4M56.2 2.6a1 .7 1 1 0 2.1 .1a1 .7 1 1 0 -2.1 -.1M56.4 41.6a1 .5 -6 1 0 1.9 -.2a1 .5 -6 1 0 -1.9 .2M42.8 46.5a1.1 .7 -9 1 0 2.2 -.4a1.1 .7 -9 1 0 -2.2 .4M10.6 40.7a1.3 .9 1 1 0 2.6 .1a1.3 .9 1 1 0 -2.6 -.1M27.4 13.4a.8 .6 -9 1 0 1.5 -.3a.8 .6 -9 1 0 -1.5 .3M58.5 14.3a1.2 .9 4 1 0 2.5 .2a1.2 .9 4 1 0 -2.5 -.2M-1.2 51a.7 .7 0 1 0 1.5 0a.7 .7 0 1 0 -1.5 0M39.1 -.3a1.1 .6 1 1 0 2.2 .1a1.1 .6 1 1 0 -2.2 -.1M33.7 59.1a1.2 .7 -9 1 0 2.3 -.4a1.2 .7 -9 1 0 -2.3 .4M31.9 59.9a.9 .6 -5 1 0 1.8 -.2a.9 .6 -5 1 0 -1.8 .2M35.5 34.2a.7 .6 -4 1 0 1.4 -.1a.7 .6 -4 1 0 -1.4 .1M19.9 47.3a.8 .7 -8 1 0 1.5 -.2a.8 .7 -8 1 0 -1.5 .2M15.7 50.1a1.2 .7 -3 1 0 2.4 -.2a1.2 .7 -3 1 0 -2.4 .2"/><path fill="#9a6ab0" opacity="0.5" d="M15.8 26a.8 .8 0 1 0 1.5 0a.8 .8 0 1 0 -1.5 0M28.2 51.9a.7 .6 -3 1 0 1.3 -.1a.7 .6 -3 1 0 -1.3 .1M3.1 35.4a1 .7 -2 1 0 2.1 -.1a1 .7 -2 1 0 -2.1 .1M30.8 51a.7 .7 -6 1 0 1.5 -.2a.7 .7 -6 1 0 -1.5 .2M8.2 34.3a.8 .8 9 1 0 1.7 .3a.8 .8 9 1 0 -1.7 -.3M43.6 10.6a.8 .7 -9 1 0 1.7 -.3a.8 .7 -9 1 0 -1.7 .3M-1.4 53a.8 .8 -1 1 0 1.6 0a.8 .8 -1 1 0 -1.6 0M28.2 1.4a1 .8 -7 1 0 1.9 -.2a1 .8 -7 1 0 -1.9 .2M28.9 29.1a1.2 .5 8 1 0 2.3 .3a1.2 .5 8 1 0 -2.3 -.3M51.6 31.5a1.3 .7 -1 1 0 2.5 -.1a1.3 .7 -1 1 0 -2.5 .1M33.2 26a.6 .6 -6 1 0 1.3 -.2a.6 .6 -6 1 0 -1.3 .2M36.1 50.3a.7 .6 6 1 0 1.3 .1a.7 .6 6 1 0 -1.3 -.1M15 20.8a.8 .6 4 1 0 1.7 .1a.8 .6 4 1 0 -1.7 -.1M11.4 43.6a.6 .7 1 1 0 1.3 0a.6 .7 1 1 0 -1.3 0M12.1 17.6a1.2 .8 6 1 0 2.4 .3a1.2 .8 6 1 0 -2.4 -.3M37.1 52.2a1 .6 8 1 0 2 .3a1 .6 8 1 0 -2 -.3M5.8 34.5a1.2 .6 -7 1 0 2.3 -.3a1.2 .6 -7 1 0 -2.3 .3M16.9 28.7a1.2 .9 0 1 0 2.4 0a1.2 .9 0 1 0 -2.4 0"/><path fill="#8a5aa0" opacity="0.5" d="M6.3 53.2a.9 .9 -9 1 0 1.7 -.3a.9 .9 -9 1 0 -1.7 .3M33.2 23.5a.6 .7 3 1 0 1.2 .1a.6 .7 3 1 0 -1.2 -.1M13.1 42.5a1.1 .6 6 1 0 2.2 .3a1.1 .6 6 1 0 -2.2 -.3M44.3 50a.8 .5 6 1 0 1.7 .2a.8 .5 6 1 0 -1.7 -.2M35.3 23.2a.7 .5 9 1 0 1.4 .2a.7 .5 9 1 0 -1.4 -.2M-2 40.8a.8 .7 9 1 0 1.6 .3a.8 .7 9 1 0 -1.6 -.3M23.3 21.8a.6 .9 1 1 0 1.3 0a.6 .9 1 1 0 -1.3 0M22.7 52.2a.9 .6 -8 1 0 1.8 -.3a.9 .6 -8 1 0 -1.8 .3M51.6 40a1.1 .5 -6 1 0 2.1 -.3a1.1 .5 -6 1 0 -2.1 .3M31.2 5.1a.9 .8 2 1 0 1.8 .1a.9 .8 2 1 0 -1.8 -.1M43.9 20.6a.7 .6 2 1 0 1.4 .1a.7 .6 2 1 0 -1.4 -.1M5 58.4a.8 .5 -2 1 0 1.6 -.1a.8 .5 -2 1 0 -1.6 .1M23.5 55.6a1.1 .6 -8 1 0 2.2 -.3a1.1 .6 -8 1 0 -2.2 .3"/></g><g filter="url(#b9)" stroke="#f8e2c8" stroke-width="1.2" fill="none" opacity="0.85"><path d="M0 12 L63 22"/><path d="M0 32 L63 34"/><path d="M0 44 L63 41"/><path d="M14 49 L63 47"/><path d="M20 8 L63 16"/></g><rect x="28" y="0" width="35.3" height="3.5" fill="#a87890" opacity="0.55"/><rect x="0" y="0" width="27" height="9.2" fill="#fff"/><text x="2.4" y="7.2" font-size="6.8" fill="#111" stroke="#111" stroke-width="0.1">mCD31</text><rect x="46" y="52" width="13.3" height="2.7" fill="#fff"/></svg><svg x="11" y="92" width="69" height="60.5" viewBox="0 0 69 60.5" overflow="hidden"><rect width="69" height="60.5" fill="#f8e2c6"/><rect width="69" height="60.5" fill="#fff" filter="url(#f17)" opacity="1"/><rect width="69" height="60.5" fill="#fff" filter="url(#f18)" opacity="1"/><path d="M41 0 L69 0 L69 22 L60 14 L53 19 L46 32 L39 36 L37 52 L28 56 L18 54 L11 47 L3 42 L0 40 L0 14 L4 17 L11 28 L21 26 L28 29 L34 20 L37 12Z" fill="#e4a070" filter="url(#b12)"/><g clip-path="url(#cpA4)"><rect width="69" height="61" fill="#fff" filter="url(#f13)"/><rect width="69" height="61" fill="#fff" filter="url(#f14)"/><rect width="69" height="61" fill="#fff" filter="url(#f15)" opacity="0.8"/></g><path d="M53 36 C57 32 65 34 67 40 C68 47 62 51 57 49 C52 47 50 41 53 36Z" fill="none" stroke="#c87a4a" stroke-width="1.3" opacity="0.8" filter="url(#b16)"/><g filter="url(#b1)"><path fill="#c06a40" opacity="1.0" d="M62.3 47.1a.9 1.3 78 1 0 .4 1.7a.9 1.3 78 1 0 -.4 -1.7"/><path fill="#c06a40" opacity="0.75" d="M56.8 40.7a1.5 1.1 56 1 0 1.7 2.5a1.5 1.1 56 1 0 -1.7 -2.5M63.5 40.5a1.4 1.3 96 1 0 -.3 2.7a1.4 1.3 96 1 0 .3 -2.7M62.8 45.6a1.5 .9 159 1 0 -2.9 1.1a1.5 .9 159 1 0 2.9 -1.1M63.6 40.3a1.1 1.2 34 1 0 1.8 1.2a1.1 1.2 34 1 0 -1.8 -1.2M63.9 39.2a1.2 1.3 7 1 0 2.3 .3a1.2 1.3 7 1 0 -2.3 -.3M56.9 39.7a1.5 1.3 71 1 0 .9 2.8a1.5 1.3 71 1 0 -.9 -2.8M59.5 40.9a1.4 .8 112 1 0 -1.1 2.5a1.4 .8 112 1 0 1.1 -2.5"/><path fill="#a85030" opacity="0.75" d="M59.1 36.5a1.6 1.2 1 1 0 3.2 .1a1.6 1.2 1 1 0 -3.2 -.1M65.6 41.3a.9 .9 56 1 0 1 1.6a.9 .9 56 1 0 -1 -1.6M60.2 45.6a1.4 1.2 82 1 0 .3 2.7a1.4 1.2 82 1 0 -.3 -2.7M59.2 42.8a1.6 1 152 1 0 -2.8 1.5a1.6 1 152 1 0 2.8 -1.5M57.7 47.6a1.2 1.5 16 1 0 2.3 .7a1.2 1.5 16 1 0 -2.3 -.7M67.3 40.2a1.2 1.3 116 1 0 -1.1 2.1a1.2 1.3 116 1 0 1.1 -2.1M57.5 44.5a1.1 1 25 1 0 1.9 .9a1.1 1 25 1 0 -1.9 -.9"/><path fill="#c06a40" opacity="0.5" d="M53.3 42.8a1.5 1.5 54 1 0 1.8 2.5a1.5 1.5 54 1 0 -1.8 -2.5M62.5 45a1.2 1.5 22 1 0 2.3 1a1.2 1.5 22 1 0 -2.3 -1"/><path fill="#a85030" opacity="0.5" d="M55.9 45.4a1.5 1.1 113 1 0 -1.3 2.8a1.5 1.1 113 1 0 1.3 -2.8"/></g><circle cx="55" cy="28" r="1.5" fill="#a63a1c"/><circle cx="52" cy="31.5" r="1.1" fill="#a63a1c"/><circle cx="59.5" cy="29.5" r="1" fill="#a63a1c"/><rect x="0" y="0" width="39" height="9.2" fill="#fff"/><text x="1.3" y="7.2" font-size="6.8" fill="#111" stroke="#111" stroke-width="0.1">Alizarin Red</text><rect x="52" y="53.6" width="13.3" height="2.7" fill="#fff"/></svg><svg x="85" y="92" width="66" height="60.5" viewBox="0 0 66 60.5" overflow="hidden"><rect width="66" height="60.5" fill="#efdec6"/><rect width="66" height="60.5" fill="#fff" filter="url(#f21)" opacity="1"/><rect width="66" height="60.5" fill="#fff" filter="url(#f22)" opacity="1"/><g mask="url(#mkA5)"><rect width="66" height="61" fill="#fff" filter="url(#f19)"/></g><g filter="url(#b1)"><path fill="#7a4a28" opacity="0.5" d="M55 45.2a1.5 .8 156 1 0 -2.8 1.2a1.5 .8 156 1 0 2.8 -1.2M29.8 38.8a2.1 1.2 38 1 0 3.3 2.6a2.1 1.2 38 1 0 -3.3 -2.6M55.7 58.4a1.1 1 78 1 0 .5 2.2a1.1 1 78 1 0 -.5 -2.2M20.4 55.4a1.9 .7 158 1 0 -3.6 1.4a1.9 .7 158 1 0 3.6 -1.4M38.1 39a.9 .6 52 1 0 1.1 1.4a.9 .6 52 1 0 -1.1 -1.4M56 8.4a1.6 .7 137 1 0 -2.4 2.2a1.6 .7 137 1 0 2.4 -2.2M47.4 44.6a.9 .7 175 1 0 -1.9 .2a.9 .7 175 1 0 1.9 -.2M24.1 19.2a1.4 1 112 1 0 -1 2.5a1.4 1 112 1 0 1 -2.5M29.6 22.2a2 .6 60 1 0 1.9 3.4a2 .6 60 1 0 -1.9 -3.4M46.8 6.1a2.1 .7 96 1 0 -.5 4.2a2.1 .7 96 1 0 .5 -4.2M22.8 17a1 .7 77 1 0 .4 1.9a1 .7 77 1 0 -.4 -1.9M16.9 31.2a1 1 4 1 0 2.1 .2a1 1 4 1 0 -2.1 -.2M12.9 24.6a1.5 .6 133 1 0 -2.1 2.2a1.5 .6 133 1 0 2.1 -2.2M25.2 12.2a1.4 1 157 1 0 -2.5 1a1.4 1 157 1 0 2.5 -1M28 53a1.8 .7 153 1 0 -3.1 1.6a1.8 .7 153 1 0 3.1 -1.6M12.7 27.9a2 1.1 105 1 0 -1.1 3.8a2 1.1 105 1 0 1.1 -3.8"/><path fill="#7a4a28" opacity="1.0" d="M18.6 16.6a1.5 1.1 174 1 0 -2.9 .3a1.5 1.1 174 1 0 2.9 -.3M37.3 15.8a1.9 .6 116 1 0 -1.7 3.4a1.9 .6 116 1 0 1.7 -3.4M40.9 24.9a1.1 1.1 0 1 0 2.1 0a1.1 1.1 0 1 0 -2.1 0"/><path fill="#c09060" opacity="0.5" d="M50.3 47.6a1.9 .8 4 1 0 3.8 .3a1.9 .8 4 1 0 -3.8 -.3M13.4 33.9a1 .9 155 1 0 -1.8 .8a1 .9 155 1 0 1.8 -.8M28.4 9.5a1.2 .9 77 1 0 .5 2.4a1.2 .9 77 1 0 -.5 -2.4M46.9 27a1.3 .7 71 1 0 .8 2.6a1.3 .7 71 1 0 -.8 -2.6M20.3 40.6a1.6 .6 125 1 0 -1.9 2.7a1.6 .6 125 1 0 1.9 -2.7M16.4 2.2a1.9 .9 120 1 0 -1.9 3.4a1.9 .9 120 1 0 1.9 -3.4M20.7 41.1a1.9 .6 76 1 0 .9 3.7a1.9 .6 76 1 0 -.9 -3.7M58.1 43.1a1.2 1.1 124 1 0 -1.4 2a1.2 1.1 124 1 0 1.4 -2M45.5 15.8a1.5 1 42 1 0 2.2 2a1.5 1 42 1 0 -2.2 -2M23.7 21.9a1.7 .7 65 1 0 1.4 3a1.7 .7 65 1 0 -1.4 -3M27.1 11.3a1.3 .7 82 1 0 .3 2.5a1.3 .7 82 1 0 -.3 -2.5M6.7 34.5a1.4 1 34 1 0 2.3 1.6a1.4 1 34 1 0 -2.3 -1.6M65.9 13.4a2 1 147 1 0 -3.3 2.1a2 1 147 1 0 3.3 -2.1M22.6 34.7a1.5 1.1 132 1 0 -2.1 2.3a1.5 1.1 132 1 0 2.1 -2.3M47.4 -2.6a2 1.1 69 1 0 1.4 3.8a2 1.1 69 1 0 -1.4 -3.8"/><path fill="#a06a40" opacity="0.75" d="M55.4 43.7a2 .5 127 1 0 -2.4 3.2a2 .5 127 1 0 2.4 -3.2M17.4 45.3a1.7 .8 69 1 0 1.2 3.2a1.7 .8 69 1 0 -1.2 -3.2M13.1 38.5a1.5 .9 94 1 0 -.2 3a1.5 .9 94 1 0 .2 -3M18.5 38.1a2 1 71 1 0 1.3 3.9a2 1 71 1 0 -1.3 -3.9M49.1 40.4a.9 .8 123 1 0 -1 1.4a.9 .8 123 1 0 1 -1.4M44.5 27.6a1.9 1.1 98 1 0 -.5 3.7a1.9 1.1 98 1 0 .5 -3.7M18.4 33.7a1.9 .6 92 1 0 -.2 3.9a1.9 .6 92 1 0 .2 -3.9M2.5 37a1.6 .5 49 1 0 2.1 2.5a1.6 .5 49 1 0 -2.1 -2.5M32.9 46.7a.9 .5 168 1 0 -1.7 .3a.9 .5 168 1 0 1.7 -.3M25.1 15a1.5 .8 74 1 0 .8 2.9a1.5 .8 74 1 0 -.8 -2.9M7.9 29.3a1.7 .5 55 1 0 1.9 2.7a1.7 .5 55 1 0 -1.9 -2.7M47.6 40.2a1.9 .9 124 1 0 -2.1 3.1a1.9 .9 124 1 0 2.1 -3.1M31.6 13.6a1 .8 86 1 0 .1 1.9a1 .8 86 1 0 -.1 -1.9M19 16.9a1.9 1.1 18 1 0 3.6 1.2a1.9 1.1 18 1 0 -3.6 -1.2M59 22.8a1.7 1.1 163 1 0 -3.3 1a1.7 1.1 163 1 0 3.3 -1M-.6 .2a1.6 .7 73 1 0 .9 3.1a1.6 .7 73 1 0 -.9 -3.1M34 21.5a1.8 1 48 1 0 2.3 2.7a1.8 1 48 1 0 -2.3 -2.7M23.6 54.9a.9 .7 177 1 0 -1.7 .1a.9 .7 177 1 0 1.7 -.1M32.2 52.6a1.1 .8 128 1 0 -1.4 1.8a1.1 .8 128 1 0 1.4 -1.8M63.2 19.9a2.1 .9 126 1 0 -2.5 3.4a2.1 .9 126 1 0 2.5 -3.4M33.3 22.1a1 .8 94 1 0 -.2 2.1a1 .8 94 1 0 .2 -2.1M58.3 22.9a1.8 .9 168 1 0 -3.5 .7a1.8 .9 168 1 0 3.5 -.7M48.5 17.8a1.5 .6 40 1 0 2.3 2a1.5 .6 40 1 0 -2.3 -2M47.6 7.8a1 .6 76 1 0 .5 2a1 .6 76 1 0 -.5 -2M52.3 44.7a1.1 1.2 95 1 0 -.2 2.1a1.1 1.2 95 1 0 .2 -2.1"/><path fill="#8a5830" opacity="0.75" d="M35.9 43.5a.9 .9 73 1 0 .5 1.7a.9 .9 73 1 0 -.5 -1.7M44 17.2a.9 .5 143 1 0 -1.5 1.1a.9 .5 143 1 0 1.5 -1.1M46.1 14.2a2.2 1.1 175 1 0 -4.4 .4a2.2 1.1 175 1 0 4.4 -.4M14.9 45.9a.9 .8 27 1 0 1.5 .8a.9 .8 27 1 0 -1.5 -.8M25.8 57.9a1.7 .8 135 1 0 -2.5 2.4a1.7 .8 135 1 0 2.5 -2.4M58.6 25.2a1.8 .9 121 1 0 -1.9 3.1a1.8 .9 121 1 0 1.9 -3.1M14.2 37.3a2.1 .6 83 1 0 .5 4.1a2.1 .6 83 1 0 -.5 -4.1M21.7 29.7a1.5 .9 174 1 0 -3.1 .3a1.5 .9 174 1 0 3.1 -.3M40.2 25.3a1.2 .9 151 1 0 -2.1 1.2a1.2 .9 151 1 0 2.1 -1.2M46.9 42.4a1.5 1.2 94 1 0 -.2 3a1.5 1.2 94 1 0 .2 -3M40.3 46.2a1.4 1 85 1 0 .2 2.8a1.4 1 85 1 0 -.2 -2.8M31.4 43.6a2.1 1.1 59 1 0 2.2 3.7a2.1 1.1 59 1 0 -2.2 -3.7M45.4 28a1 1.1 111 1 0 -.8 1.9a1 1.1 111 1 0 .8 -1.9M47.2 6.8a1 .8 54 1 0 1.2 1.7a1 .8 54 1 0 -1.2 -1.7M10.5 43.4a1.1 .8 146 1 0 -1.9 1.2a1.1 .8 146 1 0 1.9 -1.2M53.9 21.5a1.3 .6 84 1 0 .3 2.6a1.3 .6 84 1 0 -.3 -2.6M43 9.4a2.1 .6 158 1 0 -3.9 1.5a2.1 .6 158 1 0 3.9 -1.5M34.5 13.9a1 .9 127 1 0 -1.2 1.6a1 .9 127 1 0 1.2 -1.6M26 13.6a1.5 .7 42 1 0 2.2 2.1a1.5 .7 42 1 0 -2.2 -2.1"/><path fill="#c09060" opacity="0.75" d="M32.3 36.9a.8 1.1 61 1 0 .8 1.4a.8 1.1 61 1 0 -.8 -1.4M35.8 17a2 1.1 80 1 0 .7 4a2 1.1 80 1 0 -.7 -4M55.5 12.6a1.3 .7 111 1 0 -.9 2.4a1.3 .7 111 1 0 .9 -2.4M43.3 42.6a.8 1.1 29 1 0 1.4 .8a.8 1.1 29 1 0 -1.4 -.8M10.5 36a1.8 1.2 145 1 0 -3 2.1a1.8 1.2 145 1 0 3 -2.1M50.7 43.8a.9 1.2 158 1 0 -1.7 .7a.9 1.2 158 1 0 1.7 -.7M41.4 10.4a1.3 .5 100 1 0 -.5 2.5a1.3 .5 100 1 0 .5 -2.5M23.1 58.3a1.9 .6 136 1 0 -2.8 2.6a1.9 .6 136 1 0 2.8 -2.6M34.3 9.9a1.5 .8 40 1 0 2.3 1.9a1.5 .8 40 1 0 -2.3 -1.9M53.8 39.9a1.1 .6 167 1 0 -2.2 .5a1.1 .6 167 1 0 2.2 -.5M50.6 46.9a2.1 .7 156 1 0 -3.8 1.7a2.1 .7 156 1 0 3.8 -1.7M20.8 29.4a1.3 .6 2 1 0 2.6 .1a1.3 .6 2 1 0 -2.6 -.1M65.2 27.3a1.1 1.2 107 1 0 -.7 2.1a1.1 1.2 107 1 0 .7 -2.1M20.9 12a1.9 .7 117 1 0 -1.8 3.4a1.9 .7 117 1 0 1.8 -3.4M37.2 23.8a1.9 .7 82 1 0 .5 3.8a1.9 .7 82 1 0 -.5 -3.8M12 31.2a1.8 .7 132 1 0 -2.4 2.6a1.8 .7 132 1 0 2.4 -2.6M21.1 29.5a1.4 .9 84 1 0 .3 2.7a1.4 .9 84 1 0 -.3 -2.7M51 49.3a1.2 1 97 1 0 -.3 2.3a1.2 1 97 1 0 .3 -2.3"/><path fill="#7a4a28" opacity="0.75" d="M41 18.6a1.3 .6 118 1 0 -1.2 2.2a1.3 .6 118 1 0 1.2 -2.2M60.8 21.4a1.7 .7 104 1 0 -.9 3.4a1.7 .7 104 1 0 .9 -3.4M56 18a1.8 1.2 22 1 0 3.4 1.4a1.8 1.2 22 1 0 -3.4 -1.4M17.4 39.2a2.2 .7 158 1 0 -4 1.6a2.2 .7 158 1 0 4 -1.6M23.6 21.1a2.1 1 15 1 0 4 1.1a2.1 1 15 1 0 -4 -1.1M34.5 40.9a1 .8 25 1 0 1.7 .8a1 .8 25 1 0 -1.7 -.8M32.4 45.1a2.1 1.1 75 1 0 1.1 4.1a2.1 1.1 75 1 0 -1.1 -4.1M29.6 21.4a2 .7 26 1 0 3.6 1.8a2 .7 26 1 0 -3.6 -1.8M24.7 16.6a1 .8 136 1 0 -1.5 1.4a1 .8 136 1 0 1.5 -1.4M15.8 31.2a1.7 1 113 1 0 -1.3 3a1.7 1 113 1 0 1.3 -3M15.8 22.9a2.2 .9 80 1 0 .7 4.3a2.2 .9 80 1 0 -.7 -4.3M20.9 26.7a2.2 .9 47 1 0 3 3.2a2.2 .9 47 1 0 -3 -3.2M36.3 30.2a1.5 1.2 0 1 0 3 0a1.5 1.2 0 1 0 -3 0M46.6 12.4a1.1 1 115 1 0 -1 2a1.1 1 115 1 0 1 -2M39.7 11.8a2.1 .7 4 1 0 4.1 .3a2.1 .7 4 1 0 -4.1 -.3M65.7 3.6a1.6 .8 143 1 0 -2.5 1.9a1.6 .8 143 1 0 2.5 -1.9M13.7 52.6a1.5 .7 8 1 0 2.9 .4a1.5 .7 8 1 0 -2.9 -.4M39.1 34a1.1 1.2 161 1 0 -2.1 .7a1.1 1.2 161 1 0 2.1 -.7M58.5 4.1a1.2 1 49 1 0 1.5 1.8a1.2 1 49 1 0 -1.5 -1.8M42.7 14.4a2 .9 179 1 0 -4 0a2 .9 179 1 0 4 0M14.9 24.4a1.5 .6 155 1 0 -2.7 1.2a1.5 .6 155 1 0 2.7 -1.2"/><path fill="#b07a4a" opacity="0.75" d="M46.6 33.3a.8 1 136 1 0 -1.2 1.1a.8 1 136 1 0 1.2 -1.1M32.1 38a2 .7 168 1 0 -3.8 .8a2 .7 168 1 0 3.8 -.8M47.9 43.3a1.2 .6 69 1 0 .8 2.2a1.2 .6 69 1 0 -.8 -2.2M18.8 48.7a1.9 .7 73 1 0 1.1 3.7a1.9 .7 73 1 0 -1.1 -3.7M22.5 31.6a1.5 .6 133 1 0 -2.1 2.2a1.5 .6 133 1 0 2.1 -2.2M7 36.4a1.1 1.1 56 1 0 1.2 1.9a1.1 1.1 56 1 0 -1.2 -1.9M17.8 28.8a1.2 1.1 74 1 0 .6 2.3a1.2 1.1 74 1 0 -.6 -2.3M21.1 11a1.1 1.2 51 1 0 1.4 1.7a1.1 1.2 51 1 0 -1.4 -1.7M30.6 12.7a1.8 .5 123 1 0 -2 3a1.8 .5 123 1 0 2 -3M59.9 12a1.8 .6 169 1 0 -3.5 .7a1.8 .6 169 1 0 3.5 -.7M20 42.6a1.4 .6 58 1 0 1.5 2.5a1.4 .6 58 1 0 -1.5 -2.5M31.6 53a2 1.1 60 1 0 2 3.5a2 1.1 60 1 0 -2 -3.5M12.9 38.2a2.1 .9 18 1 0 4 1.3a2.1 .9 18 1 0 -4 -1.3M55.9 22.3a1.9 .9 105 1 0 -1 3.8a1.9 .9 105 1 0 1 -3.8M54.5 49.2a.9 1 81 1 0 .3 1.7a.9 1 81 1 0 -.3 -1.7M15.3 31a2.1 .7 19 1 0 4 1.4a2.1 .7 19 1 0 -4 -1.4M21.1 24.7a1.3 .8 123 1 0 -1.4 2.1a1.3 .8 123 1 0 1.4 -2.1M19.1 15.5a1.8 .8 168 1 0 -3.4 .7a1.8 .8 168 1 0 3.4 -.7M40.5 24.3a1.7 .6 168 1 0 -3.3 .7a1.7 .6 168 1 0 3.3 -.7M38.6 13.9a1.4 .6 63 1 0 1.2 2.5a1.4 .6 63 1 0 -1.2 -2.5M47.8 14.3a1 1 176 1 0 -2 .1a1 1 176 1 0 2 -.1M36.8 30.3a1 .6 173 1 0 -2 .2a1 .6 173 1 0 2 -.2M23.4 14.3a1.1 .8 147 1 0 -1.8 1.1a1.1 .8 147 1 0 1.8 -1.1M20.3 26.4a2.1 .6 59 1 0 2.2 3.7a2.1 .6 59 1 0 -2.2 -3.7M58.4 27.9a1.9 1 75 1 0 .9 3.6a1.9 1 75 1 0 -.9 -3.6M57.7 44.7a.9 .9 83 1 0 .2 1.8a.9 .9 83 1 0 -.2 -1.8M27.7 50.4a1.7 1.1 141 1 0 -2.6 2.1a1.7 1.1 141 1 0 2.6 -2.1M20.1 26.1a2.1 .9 69 1 0 1.5 4a2.1 .9 69 1 0 -1.5 -4M47 5.7a1.3 1.1 22 1 0 2.4 1a1.3 1.1 22 1 0 -2.4 -1M49.1 48a1.1 1 56 1 0 1.2 1.8a1.1 1 56 1 0 -1.2 -1.8"/><path fill="#a06a40" opacity="1.0" d="M15.9 28.6a.9 1.1 24 1 0 1.6 .7a.9 1.1 24 1 0 -1.6 -.7M25.8 56.9a1.5 1 173 1 0 -3 .3a1.5 1 173 1 0 3 -.3M26.9 41.4a1.6 .8 56 1 0 1.8 2.6a1.6 .8 56 1 0 -1.8 -2.6"/><path fill="#a06a40" opacity="0.5" d="M46.5 40.9a1 1 14 1 0 2 .5a1 1 14 1 0 -2 -.5M35.7 31.9a2 1 106 1 0 -1.1 3.8a2 1 106 1 0 1.1 -3.8M45.9 40.3a1.4 .8 17 1 0 2.7 .8a1.4 .8 17 1 0 -2.7 -.8M25.2 10.7a1.2 1 25 1 0 2.2 1.1a1.2 1 25 1 0 -2.2 -1.1M30.8 46.5a1.7 1.2 143 1 0 -2.8 2a1.7 1.2 143 1 0 2.8 -2M29.9 48.5a2 .7 17 1 0 3.8 1.2a2 .7 17 1 0 -3.8 -1.2M45.7 26.3a1.6 1 97 1 0 -.4 3.1a1.6 1 97 1 0 .4 -3.1M60.8 12.3a1.2 1 173 1 0 -2.4 .3a1.2 1 173 1 0 2.4 -.3M36.5 22.1a1.5 .5 163 1 0 -3 .9a1.5 .5 163 1 0 3 -.9M17.4 46.5a1.6 1.1 129 1 0 -2 2.4a1.6 1.1 129 1 0 2 -2.4M27.8 45.5a1.3 1.1 69 1 0 .9 2.4a1.3 1.1 69 1 0 -.9 -2.4M15.4 30.1a1.7 .8 135 1 0 -2.4 2.4a1.7 .8 135 1 0 2.4 -2.4"/><path fill="#b07a4a" opacity="0.5" d="M36.8 30a1.1 .8 148 1 0 -1.9 1.2a1.1 .8 148 1 0 1.9 -1.2M39.2 20.3a2.1 1 95 1 0 -.4 4.2a2.1 1 95 1 0 .4 -4.2M57.3 5.7a1.8 .6 47 1 0 2.5 2.7a1.8 .6 47 1 0 -2.5 -2.7M31.1 17.2a2.2 1.2 37 1 0 3.4 2.6a2.2 1.2 37 1 0 -3.4 -2.6M64 21.5a2.1 .8 30 1 0 3.6 2.1a2.1 .8 30 1 0 -3.6 -2.1M36.4 22.7a1.7 .9 24 1 0 3 1.4a1.7 .9 24 1 0 -3 -1.4M60.7 19.9a1.1 .6 116 1 0 -1 2a1.1 .6 116 1 0 1 -2M52.2 13.9a2 1.1 75 1 0 1 3.9a2 1.1 75 1 0 -1 -3.9M36.1 42.3a1.7 1.1 28 1 0 3 1.7a1.7 1.1 28 1 0 -3 -1.7M40.9 36.5a1.4 .9 167 1 0 -2.8 .6a1.4 .9 167 1 0 2.8 -.6M20.8 39.6a1.6 .8 170 1 0 -3.2 .5a1.6 .8 170 1 0 3.2 -.5M20.9 19.2a2 .7 54 1 0 2.3 3.2a2 .7 54 1 0 -2.3 -3.2M38.2 43.9a1.9 1 137 1 0 -2.8 2.5a1.9 1 137 1 0 2.8 -2.5M28.6 23.5a1.8 .7 175 1 0 -3.5 .3a1.8 .7 175 1 0 3.5 -.3M33.6 21.2a1.2 1.2 169 1 0 -2.4 .5a1.2 1.2 169 1 0 2.4 -.5M32.5 41.8a1.5 .6 147 1 0 -2.5 1.6a1.5 .6 147 1 0 2.5 -1.6M30.7 9.4a1.5 1.1 59 1 0 1.6 2.6a1.5 1.1 59 1 0 -1.6 -2.6M30.4 6.9a.9 1.1 20 1 0 1.8 .7a.9 1.1 20 1 0 -1.8 -.7M40.4 24.1a1 .9 109 1 0 -.7 1.9a1 .9 109 1 0 .7 -1.9"/><path fill="#8a5830" opacity="0.5" d="M44.1 9.5a.8 .7 94 1 0 -.1 1.6a.8 .7 94 1 0 .1 -1.6M50.6 10.4a1.1 .9 111 1 0 -.8 2a1.1 .9 111 1 0 .8 -2M36.5 23.5a1.3 1.1 90 1 0 0 2.5a1.3 1.1 90 1 0 0 -2.5M49.7 38a2.1 1 46 1 0 2.9 3a2.1 1 46 1 0 -2.9 -3M62.9 26.6a1.9 1.1 149 1 0 -3.2 1.9a1.9 1.1 149 1 0 3.2 -1.9M51.9 40.3a1.3 .5 98 1 0 -.4 2.6a1.3 .5 98 1 0 .4 -2.6M25.1 18.7a2.1 .6 150 1 0 -3.7 2.1a2.1 .6 150 1 0 3.7 -2.1M12.6 43.8a1.9 .7 163 1 0 -3.6 1a1.9 .7 163 1 0 3.6 -1M31.9 42a1.8 .8 163 1 0 -3.5 1a1.8 .8 163 1 0 3.5 -1"/><path fill="#c09060" opacity="1.0" d="M52.1 12.7a.9 .8 152 1 0 -1.7 .9a.9 .8 152 1 0 1.7 -.9M26.5 34.9a1.7 1.1 164 1 0 -3.2 .9a1.7 1.1 164 1 0 3.2 -.9M26.3 50.9a2 .6 1 1 0 4.1 .1a2 .6 1 1 0 -4.1 -.1M35.1 10.5a1.8 1 122 1 0 -1.9 3a1.8 1 122 1 0 1.9 -3M31.8 55.1a2.2 .9 106 1 0 -1.2 4.1a2.2 .9 106 1 0 1.2 -4.1M18.4 31.3a1.2 .9 19 1 0 2.3 .8a1.2 .9 19 1 0 -2.3 -.8"/><path fill="#b07a4a" opacity="1.0" d="M28.3 51.4a1.7 1.2 30 1 0 2.9 1.7a1.7 1.2 30 1 0 -2.9 -1.7M63.8 21.1a1.4 1 121 1 0 -1.4 2.4a1.4 1 121 1 0 1.4 -2.4"/><path fill="#8a5830" opacity="1.0" d="M21.9 39.2a1.9 .9 88 1 0 .1 3.8a1.9 .9 88 1 0 -.1 -3.8M40.7 23.3a1.8 1.1 117 1 0 -1.7 3.3a1.8 1.1 117 1 0 1.7 -3.3"/></g><g filter="url(#b1)"><path fill="#c8a080" opacity="0.75" d="M49.7 29.1a.7 .4 79 1 0 .3 1.5a.7 .4 79 1 0 -.3 -1.5M63.7 22.1a.7 .6 31 1 0 1.3 .8a.7 .6 31 1 0 -1.3 -.8M33.6 13a.7 .4 17 1 0 1.3 .4a.7 .4 17 1 0 -1.3 -.4M35.2 6.5a.4 .8 116 1 0 -.3 .7a.4 .8 116 1 0 .3 -.7M44.9 32.6a.6 .4 75 1 0 .3 1.3a.6 .4 75 1 0 -.3 -1.3M1.3 42.3a.8 .7 2 1 0 1.6 .1a.8 .7 2 1 0 -1.6 -.1M52.6 31.3a.6 .5 8 1 0 1.2 .2a.6 .5 8 1 0 -1.2 -.2"/><path fill="#d89090" opacity="0.75" d="M59 10.6a.6 .5 116 1 0 -.5 1a.6 .5 116 1 0 .5 -1M35.4 46.3a.4 .5 176 1 0 -.8 0a.4 .5 176 1 0 .8 0M4.1 17a.7 .7 12 1 0 1.4 .3a.7 .7 12 1 0 -1.4 -.3M57.9 43.9a.8 .4 107 1 0 -.5 1.5a.8 .4 107 1 0 .5 -1.5M65.7 49.3a.5 .5 105 1 0 -.2 .9a.5 .5 105 1 0 .2 -.9M24.8 .8a.8 .7 19 1 0 1.5 .5a.8 .7 19 1 0 -1.5 -.5"/><path fill="#e8a0a0" opacity="0.5" d="M47.6 29.2a.6 .3 3 1 0 1.2 .1a.6 .3 3 1 0 -1.2 -.1M65.1 41.3a.6 .5 114 1 0 -.5 1.1a.6 .5 114 1 0 .5 -1.1M.3 46.6a.8 .5 3 1 0 1.6 .1a.8 .5 3 1 0 -1.6 -.1"/><path fill="#e8a0a0" opacity="1.0" d="M64.4 43a.6 .8 33 1 0 1 .6a.6 .8 33 1 0 -1 -.6M11.3 4.1a.6 .6 14 1 0 1.1 .3a.6 .6 14 1 0 -1.1 -.3"/><path fill="#e8a0a0" opacity="0.75" d="M13.7 22.8a.7 .8 67 1 0 .5 1.3a.7 .8 67 1 0 -.5 -1.3M6.9 50.4a.5 .6 3 1 0 1.1 .1a.5 .6 3 1 0 -1.1 -.1M30.4 39.6a.6 .4 131 1 0 -.8 .9a.6 .4 131 1 0 .8 -.9M51.4 30.4a.5 .7 18 1 0 1 .3a.5 .7 18 1 0 -1 -.3M44 24.4a.6 .5 90 1 0 0 1.2a.6 .5 90 1 0 0 -1.2M22.2 51.9a.7 .3 70 1 0 .5 1.4a.7 .3 70 1 0 -.5 -1.4M40.7 43a.6 .7 123 1 0 -.7 1a.6 .7 123 1 0 .7 -1M18.9 58.3a.6 .5 44 1 0 .9 .8a.6 .5 44 1 0 -.9 -.8M13 28.6a.6 .4 119 1 0 -.6 1.1a.6 .4 119 1 0 .6 -1.1M51 54.9a.4 .5 13 1 0 .7 .2a.4 .5 13 1 0 -.7 -.2M7 -.9a.4 .7 114 1 0 -.3 .7a.4 .7 114 1 0 .3 -.7M53.5 8.4a.7 .5 58 1 0 .8 1.3a.7 .5 58 1 0 -.8 -1.3M25.3 58.6a.5 .4 38 1 0 .8 .6a.5 .4 38 1 0 -.8 -.6"/><path fill="#c8a080" opacity="0.5" d="M64.6 3.1a.3 .4 59 1 0 .3 .5a.3 .4 59 1 0 -.3 -.5M30.9 52a.7 .4 34 1 0 1.1 .8a.7 .4 34 1 0 -1.1 -.8M32.1 52.6a.8 .6 22 1 0 1.4 .6a.8 .6 22 1 0 -1.4 -.6"/><path fill="#d89090" opacity="0.5" d="M44 2.3a.5 .5 175 1 0 -1 .1a.5 .5 175 1 0 1 -.1M5.9 60a.3 .5 35 1 0 .5 .4a.3 .5 35 1 0 -.5 -.4M35 34.4a.7 .5 127 1 0 -.9 1.2a.7 .5 127 1 0 .9 -1.2M44.8 17.6a.5 .5 55 1 0 .6 .9a.5 .5 55 1 0 -.6 -.9M62 37.5a.6 .7 174 1 0 -1.2 .1a.6 .7 174 1 0 1.2 -.1"/><path fill="#d89090" opacity="1.0" d="M31.4 24.7a.5 .4 2 1 0 .9 0a.5 .4 2 1 0 -.9 0"/></g><rect x="0" y="0" width="35" height="9.2" fill="#fff"/><text x="0.9" y="7.2" font-size="6.8" fill="#111" stroke="#111" stroke-width="0.1">Von Kossa</text><rect x="50" y="53.9" width="13.3" height="2.7" fill="#fff"/></svg><svg x="155.5" y="92.2" width="64.5" height="60" viewBox="0 0 64.5 60" overflow="hidden"><rect width="64.5" height="60" fill="#eee2de"/><rect width="64.5" height="60" fill="#fff" filter="url(#f24)" opacity="1"/><rect width="64.5" height="60" fill="#fff" filter="url(#f25)" opacity="1"/><path d="M0 8 L38 6 L34 14 L18 28 L0 34Z" fill="#c8a888" opacity="0.85" filter="url(#b23)"/><g filter="url(#b1)"><path fill="#a08070" opacity="0.5" d="M5.1 24.9a.9 .8 89 1 0 0 1.8a.9 .8 89 1 0 0 -1.8M12.4 30.8a1 .7 144 1 0 -1.6 1.2a1 .7 144 1 0 1.6 -1.2M20 9.8a1.5 1 74 1 0 .8 3a1.5 1 74 1 0 -.8 -3M11 13.4a1 1 88 1 0 .1 2.1a1 1 88 1 0 -.1 -2.1M14.2 1.5a1.2 1.5 163 1 0 -2.4 .7a1.2 1.5 163 1 0 2.4 -.7M7.8 7.3a.7 1.3 37 1 0 1.1 .9a.7 1.3 37 1 0 -1.1 -.9M9.4 -.1a1.6 .6 66 1 0 1.2 2.9a1.6 .6 66 1 0 -1.2 -2.9M-.2 -2.8a1.3 .8 74 1 0 .7 2.5a1.3 .8 74 1 0 -.7 -2.5M17.2 13.6a1.4 .9 84 1 0 .3 2.8a1.4 .9 84 1 0 -.3 -2.8M10.3 5.1a1.2 1.3 66 1 0 .9 2.1a1.2 1.3 66 1 0 -.9 -2.1M7.6 11.3a1.5 1.2 119 1 0 -1.5 2.5a1.5 1.2 119 1 0 1.5 -2.5"/><path fill="#907060" opacity="0.5" d="M9.7 30.8a1 1.1 116 1 0 -.9 1.8a1 1.1 116 1 0 .9 -1.8M4 32.1a.9 .7 38 1 0 1.5 1.1a.9 .7 38 1 0 -1.5 -1.1M5.8 -2.1a1.3 1 73 1 0 .7 2.4a1.3 1 73 1 0 -.7 -2.4M19.4 22.3a1.3 .7 164 1 0 -2.5 .7a1.3 .7 164 1 0 2.5 -.7M8.9 10.2a1.2 1.5 169 1 0 -2.4 .4a1.2 1.5 169 1 0 2.4 -.4M.8 35.5a.8 1.3 77 1 0 .3 1.5a.8 1.3 77 1 0 -.3 -1.5M10.8 12.4a.8 .8 65 1 0 .6 1.4a.8 .8 65 1 0 -.6 -1.4M28.5 6.9a1.4 1 140 1 0 -2.1 1.7a1.4 1 140 1 0 2.1 -1.7M13.5 10.7a.8 .9 125 1 0 -.9 1.2a.8 .9 125 1 0 .9 -1.2M6.4 10a1.6 1.6 55 1 0 1.8 2.6a1.6 1.6 55 1 0 -1.8 -2.6M28.7 6.4a1.2 1.2 169 1 0 -2.5 .4a1.2 1.2 169 1 0 2.5 -.4"/><path fill="#a08070" opacity="0.75" d="M3.7 2.3a1.4 1.1 97 1 0 -.4 2.8a1.4 1.1 97 1 0 .4 -2.8M-1.2 36.7a.7 1.6 61 1 0 .7 1.3a.7 1.6 61 1 0 -.7 -1.3M.2 35.2a.8 1.2 94 1 0 -.1 1.5a.8 1.2 94 1 0 .1 -1.5M.7 5.1a.7 .7 56 1 0 .8 1.2a.7 .7 56 1 0 -.8 -1.2M-.6 18.8a.8 .7 97 1 0 -.2 1.5a.8 .7 97 1 0 .2 -1.5M.7 4.6a1 1.3 170 1 0 -2 .3a1 1.3 170 1 0 2 -.3M9 13.4a1.1 .9 176 1 0 -2.1 .1a1.1 .9 176 1 0 2.1 -.1M16.2 12.5a1.4 .7 170 1 0 -2.8 .5a1.4 .7 170 1 0 2.8 -.5M-2.7 45.6a1.1 .7 23 1 0 2 .9a1.1 .7 23 1 0 -2 -.9M10.1 28.3a1.3 .7 146 1 0 -2.2 1.4a1.3 .7 146 1 0 2.2 -1.4M14.7 13.1a.7 1.2 143 1 0 -1.1 .8a.7 1.2 143 1 0 1.1 -.8M18.1 2.9a1.5 1.4 151 1 0 -2.6 1.4a1.5 1.4 151 1 0 2.6 -1.4"/><path fill="#907060" opacity="0.75" d="M.9 6.7a1 1.5 120 1 0 -1 1.7a1 1.5 120 1 0 1 -1.7M11.9 4.5a1.3 1.3 92 1 0 -.1 2.6a1.3 1.3 92 1 0 .1 -2.6M1.3 36.6a.8 .9 99 1 0 -.3 1.5a.8 .9 99 1 0 .3 -1.5M14.8 19.2a1.4 .7 96 1 0 -.3 2.8a1.4 .7 96 1 0 .3 -2.8M12.4 27.9a1.1 1.1 153 1 0 -2 1a1.1 1.1 153 1 0 2 -1M19.6 21a1.2 1.1 10 1 0 2.4 .4a1.2 1.1 10 1 0 -2.4 -.4M12.2 10.9a.7 .8 150 1 0 -1.1 .7a.7 .8 150 1 0 1.1 -.7"/><path fill="#b09080" opacity="0.5" d="M9.3 32.3a1 .8 149 1 0 -1.7 1a1 .8 149 1 0 1.7 -1M29.2 1.1a1.1 .9 127 1 0 -1.3 1.7a1.1 .9 127 1 0 1.3 -1.7M15.7 15.8a1.4 1.3 8 1 0 2.7 .4a1.4 1.3 8 1 0 -2.7 -.4M5.7 14.1a.9 1.2 88 1 0 0 1.9a.9 1.2 88 1 0 0 -1.9M15.3 9.9a.9 .8 100 1 0 -.3 1.7a.9 .8 100 1 0 .3 -1.7M12.4 2.9a1.5 1 152 1 0 -2.7 1.4a1.5 1 152 1 0 2.7 -1.4M1.1 7.7a.8 .7 93 1 0 -.1 1.7a.8 .7 93 1 0 .1 -1.7M9.8 10.7a1.2 .9 38 1 0 1.9 1.5a1.2 .9 38 1 0 -1.9 -1.5M-.3 44.6a1.3 1.4 144 1 0 -2.1 1.5a1.3 1.4 144 1 0 2.1 -1.5M17.4 4.4a.6 .8 162 1 0 -1.2 .4a.6 .8 162 1 0 1.2 -.4M7.5 3.9a.8 1.2 21 1 0 1.5 .6a.8 1.2 21 1 0 -1.5 -.6M8.8 22.5a1.4 .7 145 1 0 -2.4 1.6a1.4 .7 145 1 0 2.4 -1.6"/><path fill="#b09080" opacity="0.75" d="M36.2 .7a1 1 80 1 0 .3 1.9a1 1 80 1 0 -.3 -1.9M3.2 21.8a.6 1 14 1 0 1.2 .3a.6 1 14 1 0 -1.2 -.3M20.5 11.3a.9 .9 179 1 0 -1.9 0a.9 .9 179 1 0 1.9 0M19.8 18.4a1.4 .6 19 1 0 2.6 .9a1.4 .6 19 1 0 -2.6 -.9M13.1 10.5a1.2 .7 59 1 0 1.2 2.1a1.2 .7 59 1 0 -1.2 -2.1M13.4 9.2a.9 1.1 26 1 0 1.6 .8a.9 1.1 26 1 0 -1.6 -.8M17.7 10.9a.8 1 152 1 0 -1.4 .8a.8 1 152 1 0 1.4 -.8"/></g><g filter="url(#b1)"><path fill="#8a5a50" opacity="0.75" d="M61 53.3a.6 .9 40 1 0 .8 .7a.6 .9 40 1 0 -.8 -.7M11.4 58a1 1.1 164 1 0 -1.9 .5a1 1.1 164 1 0 1.9 -.5M43.4 46.7a.7 1.2 27 1 0 1.3 .7a.7 1.2 27 1 0 -1.3 -.7M51.6 19a.7 .6 46 1 0 1 1a.7 .6 46 1 0 -1 -1M56.8 13.6a.7 1 13 1 0 1.4 .3a.7 1 13 1 0 -1.4 -.3M16.7 24.4a.5 .7 72 1 0 .3 1a.5 .7 72 1 0 -.3 -1M51.5 25.9a1.1 1.1 69 1 0 .8 2.1a1.1 1.1 69 1 0 -.8 -2.1M29.6 48a1 .7 83 1 0 .2 1.9a1 .7 83 1 0 -.2 -1.9M22.4 55.9a.9 .7 130 1 0 -1.2 1.4a.9 .7 130 1 0 1.2 -1.4M48 25.1a1.2 .6 67 1 0 .9 2.2a1.2 .6 67 1 0 -.9 -2.2M19.8 46.9a.6 .7 165 1 0 -1.1 .3a.6 .7 165 1 0 1.1 -.3M3.1 60.3a.7 .5 142 1 0 -1.1 .9a.7 .5 142 1 0 1.1 -.9M61.6 39a1 .9 151 1 0 -1.8 1a1 .9 151 1 0 1.8 -1M19.8 59.5a1 .8 149 1 0 -1.7 1a1 .8 149 1 0 1.7 -1M50.2 35.7a1.1 .7 96 1 0 -.3 2.1a1.1 .7 96 1 0 .3 -2.1M27.2 53.7a.7 .8 174 1 0 -1.4 .1a.7 .8 174 1 0 1.4 -.1M4.1 59.2a1.1 .5 114 1 0 -.9 2a1.1 .5 114 1 0 .9 -2M30.5 35.4a.5 .7 92 1 0 -.1 1.1a.5 .7 92 1 0 .1 -1.1M55.9 29a.6 1.1 34 1 0 1 .7a.6 1.1 34 1 0 -1 -.7M50.2 30a.7 1.2 100 1 0 -.3 1.3a.7 1.2 100 1 0 .3 -1.3M43 33.5a.9 .9 161 1 0 -1.7 .6a.9 .9 161 1 0 1.7 -.6M66.9 27.3a1.2 1 133 1 0 -1.6 1.7a1.2 1 133 1 0 1.6 -1.7M61.2 21.8a1.1 1.1 152 1 0 -1.9 1a1.1 1.1 152 1 0 1.9 -1M6.5 57.5a1 .9 0 1 0 2 0a1 .9 0 1 0 -2 0M20.7 2.4a.8 .8 166 1 0 -1.6 .4a.8 .8 166 1 0 1.6 -.4M40.8 -2.4a1.1 1.2 68 1 0 .8 2a1.1 1.2 68 1 0 -.8 -2M16.5 46.1a.6 .8 139 1 0 -.8 .7a.6 .8 139 1 0 .8 -.7M32.7 15.1a1.1 .8 53 1 0 1.4 1.8a1.1 .8 53 1 0 -1.4 -1.8M40.3 20.5a1 .7 171 1 0 -2.1 .3a1 .7 171 1 0 2.1 -.3M27.7 53.3a.6 .6 99 1 0 -.2 1.3a.6 .6 99 1 0 .2 -1.3M40.3 22.3a.9 .5 112 1 0 -.7 1.7a.9 .5 112 1 0 .7 -1.7M41.7 55.5a.6 .8 172 1 0 -1.3 .2a.6 .8 172 1 0 1.3 -.2M28.7 42.5a.7 1.2 112 1 0 -.5 1.3a.7 1.2 112 1 0 .5 -1.3M52.5 .6a.9 .8 97 1 0 -.2 1.8a.9 .8 97 1 0 .2 -1.8M65.4 23.2a.9 1.2 149 1 0 -1.6 .9a.9 1.2 149 1 0 1.6 -.9M19.3 33.8a.9 1 27 1 0 1.6 .8a.9 1 27 1 0 -1.6 -.8M15.3 50a.9 .7 55 1 0 1 1.4a.9 .7 55 1 0 -1 -1.4M49.8 29.2a.7 .6 126 1 0 -.8 1.1a.7 .6 126 1 0 .8 -1.1M59.8 35.5a.6 .6 114 1 0 -.5 1a.6 .6 114 1 0 .5 -1M37.6 42.3a.7 1.1 20 1 0 1.3 .5a.7 1.1 20 1 0 -1.3 -.5M20.6 49a.8 .9 6 1 0 1.5 .2a.8 .9 6 1 0 -1.5 -.2"/><path fill="#4a2230" opacity="1.0" d="M52.6 1.2a.8 .6 106 1 0 -.5 1.6a.8 .6 106 1 0 .5 -1.6M57.6 37.5a1.1 .9 91 1 0 -.1 2.2a1.1 .9 91 1 0 .1 -2.2M61.8 25.6a.7 .6 147 1 0 -1.1 .7a.7 .6 147 1 0 1.1 -.7M54.9 53.7a1 .9 23 1 0 1.8 .8a1 .9 23 1 0 -1.8 -.8M59.4 57.3a.8 .9 166 1 0 -1.6 .4a.8 .9 166 1 0 1.6 -.4M50.7 55a.6 .8 141 1 0 -.9 .7a.6 .8 141 1 0 .9 -.7M47.6 34.6a.7 .7 103 1 0 -.3 1.3a.7 .7 103 1 0 .3 -1.3M62.4 43.9a.6 .6 90 1 0 0 1.3a.6 .6 90 1 0 0 -1.3M41.5 -.7a.8 1 31 1 0 1.5 .9a.8 1 31 1 0 -1.5 -.9M63.4 28.6a.6 .9 65 1 0 .5 1.1a.6 .9 65 1 0 -.5 -1.1M22.6 52.4a.8 .7 1 1 0 1.6 0a.8 .7 1 1 0 -1.6 0M65.2 4.7a1.2 .8 61 1 0 1.1 2a1.2 .8 61 1 0 -1.1 -2M29.1 53.2a.9 1.2 65 1 0 .7 1.6a.9 1.2 65 1 0 -.7 -1.6M51.1 8.9a.5 .5 115 1 0 -.4 .9a.5 .5 115 1 0 .4 -.9M32.6 40.1a.5 .8 146 1 0 -.8 .6a.5 .8 146 1 0 .8 -.6M46.2 27.2a.8 .9 5 1 0 1.5 .2a.8 .9 5 1 0 -1.5 -.2M65.4 54.5a.9 .5 0 1 0 1.8 0a.9 .5 0 1 0 -1.8 0M27.3 27.4a.8 1 28 1 0 1.4 .7a.8 1 28 1 0 -1.4 -.7M58.1 43.3a.8 .7 142 1 0 -1.3 1a.8 .7 142 1 0 1.3 -1"/><path fill="#6a3440" opacity="0.75" d="M48.1 26.9a.6 .9 21 1 0 1.1 .4a.6 .9 21 1 0 -1.1 -.4M29.5 26.5a.7 1.2 62 1 0 .7 1.2a.7 1.2 62 1 0 -.7 -1.2M41.9 30.7a.8 .9 156 1 0 -1.4 .6a.8 .9 156 1 0 1.4 -.6M39.8 31.5a1.1 .9 152 1 0 -2 1a1.1 .9 152 1 0 2 -1M51 55.4a.8 .7 53 1 0 1 1.4a.8 .7 53 1 0 -1 -1.4M49.6 10.8a1.1 .5 139 1 0 -1.7 1.5a1.1 .5 139 1 0 1.7 -1.5M55.9 32.9a1.2 .7 110 1 0 -.8 2.2a1.2 .7 110 1 0 .8 -2.2M29.9 52.3a.9 1.2 92 1 0 -.1 1.9a.9 1.2 92 1 0 .1 -1.9M52.6 47.1a1.1 .5 93 1 0 -.1 2.2a1.1 .5 93 1 0 .1 -2.2M48.6 38.6a.5 .7 86 1 0 .1 1a.5 .7 86 1 0 -.1 -1M53.8 23.5a.6 .8 5 1 0 1.2 .1a.6 .8 5 1 0 -1.2 -.1M50.9 28.3a.5 .9 63 1 0 .5 .9a.5 .9 63 1 0 -.5 -.9M56.5 49.1a.9 .7 110 1 0 -.6 1.7a.9 .7 110 1 0 .6 -1.7M64.2 21.6a.7 1.1 69 1 0 .5 1.3a.7 1.1 69 1 0 -.5 -1.3M21.2 40.5a1 .6 43 1 0 1.4 1.3a1 .6 43 1 0 -1.4 -1.3M64.6 22.8a.8 1.2 49 1 0 1 1.2a.8 1.2 49 1 0 -1 -1.2M24 54.8a1.1 .5 66 1 0 .9 2a1.1 .5 66 1 0 -.9 -2M62.9 61a1.1 .8 27 1 0 1.9 1a1.1 .8 27 1 0 -1.9 -1M48.6 57.8a.6 .7 153 1 0 -1 .5a.6 .7 153 1 0 1 -.5M37.1 32.5a.8 .7 79 1 0 .3 1.7a.8 .7 79 1 0 -.3 -1.7M44.5 40.2a.8 .7 97 1 0 -.2 1.7a.8 .7 97 1 0 .2 -1.7M58.1 57.5a.6 1.2 105 1 0 -.3 1.1a.6 1.2 105 1 0 .3 -1.1M52.6 27.3a.8 .8 136 1 0 -1.2 1.2a.8 .8 136 1 0 1.2 -1.2M22.7 44.8a1 .8 34 1 0 1.6 1.1a1 .8 34 1 0 -1.6 -1.1M52.5 27.2a.7 .6 45 1 0 1 1a.7 .6 45 1 0 -1 -1M17.8 48.6a.7 .7 86 1 0 .1 1.4a.7 .7 86 1 0 -.1 -1.4M42.8 38.7a.9 1.1 150 1 0 -1.5 .8a.9 1.1 150 1 0 1.5 -.8M4.5 45.8a.8 .5 26 1 0 1.4 .7a.8 .5 26 1 0 -1.4 -.7M52.4 24a1.2 1 113 1 0 -.9 2.1a1.2 1 113 1 0 .9 -2.1M55.2 19a.7 .5 10 1 0 1.3 .2a.7 .5 10 1 0 -1.3 -.2M21.7 22.1a1.1 .9 83 1 0 .2 2.1a1.1 .9 83 1 0 -.2 -2.1M20 60.7a.8 .7 167 1 0 -1.5 .3a.8 .7 167 1 0 1.5 -.3"/><path fill="#8a5a50" opacity="0.5" d="M61.3 16a.8 .9 54 1 0 .9 1.3a.8 .9 54 1 0 -.9 -1.3M19.7 52.9a1 .7 31 1 0 1.7 1a1 .7 31 1 0 -1.7 -1M64.3 26.8a.5 1.2 49 1 0 .7 .8a.5 1.2 49 1 0 -.7 -.8M57 54.8a.6 .8 81 1 0 .2 1.1a.6 .8 81 1 0 -.2 -1.1M30.4 9.9a.9 1.1 36 1 0 1.4 1.1a.9 1.1 36 1 0 -1.4 -1.1M25.8 34.2a1 .6 1 1 0 2.1 .1a1 .6 1 1 0 -2.1 -.1M43.9 40.2a.5 .9 166 1 0 -1 .2a.5 .9 166 1 0 1 -.2M53.9 36.6a1.2 .8 3 1 0 2.3 .1a1.2 .8 3 1 0 -2.3 -.1M54.4 39.2a.6 1 52 1 0 .8 1a.6 1 52 1 0 -.8 -1M18.7 34.3a.6 .8 68 1 0 .5 1.2a.6 .8 68 1 0 -.5 -1.2"/><path fill="#5a2a36" opacity="0.75" d="M53.8 27.1a.6 .7 117 1 0 -.5 1a.6 .7 117 1 0 .5 -1M55 45.5a.8 1 132 1 0 -1.1 1.2a.8 1 132 1 0 1.1 -1.2M57 56.8a.6 1 165 1 0 -1.1 .3a.6 1 165 1 0 1.1 -.3M43.1 45.9a.6 1.1 36 1 0 .9 .7a.6 1.1 36 1 0 -.9 -.7M22.7 41.5a.5 .6 63 1 0 .5 1a.5 .6 63 1 0 -.5 -1M25.6 50.1a1 1.1 138 1 0 -1.5 1.3a1 1.1 138 1 0 1.5 -1.3M61.1 36.3a.5 1 41 1 0 .8 .7a.5 1 41 1 0 -.8 -.7M40.3 26.5a.7 .8 58 1 0 .8 1.2a.7 .8 58 1 0 -.8 -1.2M56.4 15.9a.7 .9 152 1 0 -1.3 .7a.7 .9 152 1 0 1.3 -.7M51.3 37.7a.6 1 40 1 0 1 .8a.6 1 40 1 0 -1 -.8M35.6 33a.8 1.1 56 1 0 .9 1.3a.8 1.1 56 1 0 -.9 -1.3M26.4 46.8a.6 1.1 22 1 0 1.1 .5a.6 1.1 22 1 0 -1.1 -.5M51 24.8a1.2 1 101 1 0 -.4 2.3a1.2 1 101 1 0 .4 -2.3M55.5 58.4a1 .9 76 1 0 .5 2a1 .9 76 1 0 -.5 -2M55.9 .8a.5 .8 45 1 0 .8 .8a.5 .8 45 1 0 -.8 -.8M59.7 -.9a1.1 .9 27 1 0 2 1a1.1 .9 27 1 0 -2 -1M38.8 43.1a.9 .7 166 1 0 -1.7 .4a.9 .7 166 1 0 1.7 -.4M65.7 56.1a.5 .6 92 1 0 0 1.1a.5 .6 92 1 0 0 -1.1M54.2 29.6a1 .7 173 1 0 -1.9 .2a1 .7 173 1 0 1.9 -.2M50.6 28.2a1 .5 22 1 0 1.9 .8a1 .5 22 1 0 -1.9 -.8M21 -.6a1 1.2 149 1 0 -1.7 1a1 1.2 149 1 0 1.7 -1M20.3 54.6a1 .9 161 1 0 -1.9 .6a1 .9 161 1 0 1.9 -.6M24 47.5a.9 .7 104 1 0 -.5 1.8a.9 .7 104 1 0 .5 -1.8M14.2 43.2a1 .7 17 1 0 2 .6a1 .7 17 1 0 -2 -.6M25.7 47.7a1.1 .7 175 1 0 -2.2 .2a1.1 .7 175 1 0 2.2 -.2M59.1 37.1a.5 .6 147 1 0 -.9 .6a.5 .6 147 1 0 .9 -.6M38.1 39.4a1.2 .8 83 1 0 .3 2.3a1.2 .8 83 1 0 -.3 -2.3M64.5 37.9a1.1 .9 158 1 0 -2 .8a1.1 .9 158 1 0 2 -.8M13.2 57.3a1.1 .5 112 1 0 -.9 2.1a1.1 .5 112 1 0 .9 -2.1M55.6 57.9a1 1 87 1 0 .1 2a1 1 87 1 0 -.1 -2M23.7 50.3a1 .6 102 1 0 -.4 1.9a1 .6 102 1 0 .4 -1.9M32.9 15a1 1 29 1 0 1.8 1a1 1 29 1 0 -1.8 -1M.6 56.5a1.2 1 28 1 0 2.1 1.1a1.2 1 28 1 0 -2.1 -1.1M52 5.1a.8 1.2 87 1 0 .1 1.6a.8 1.2 87 1 0 -.1 -1.6M45.2 56.7a.8 1 65 1 0 .7 1.5a.8 1 65 1 0 -.7 -1.5M56.4 4.2a1.1 .7 143 1 0 -1.7 1.3a1.1 .7 143 1 0 1.7 -1.3M49.7 38.1a1.1 .9 76 1 0 .5 2.2a1.1 .9 76 1 0 -.5 -2.2M64.1 10.7a1.2 1.2 44 1 0 1.7 1.7a1.2 1.2 44 1 0 -1.7 -1.7M45.9 39.2a.8 1 139 1 0 -1.2 1.1a.8 1 139 1 0 1.2 -1.1M58.5 59.2a.9 .9 9 1 0 1.9 .3a.9 .9 9 1 0 -1.9 -.3M40.3 48.4a.7 .6 127 1 0 -.9 1.1a.7 .6 127 1 0 .9 -1.1"/><path fill="#8a5a50" opacity="1.0" d="M58.1 10.2a.7 .8 131 1 0 -.9 1a.7 .8 131 1 0 .9 -1M53.8 30a.9 .5 80 1 0 .3 1.8a.9 .5 80 1 0 -.3 -1.8M28.6 37.7a.8 .6 174 1 0 -1.6 .1a.8 .6 174 1 0 1.6 -.1M59 53.5a1.1 1.1 145 1 0 -1.9 1.3a1.1 1.1 145 1 0 1.9 -1.3M43.9 32.5a.6 .8 41 1 0 .9 .8a.6 .8 41 1 0 -.9 -.8M63.9 28.7a1.2 .8 149 1 0 -2 1.2a1.2 .8 149 1 0 2 -1.2M6.8 48.2a.6 .7 35 1 0 1 .7a.6 .7 35 1 0 -1 -.7M12 34.1a1.1 .8 100 1 0 -.4 2.3a1.1 .8 100 1 0 .4 -2.3M27.2 20.7a1 .7 77 1 0 .4 2a1 .7 77 1 0 -.4 -2M35 39.1a.9 1.1 62 1 0 .8 1.5a.9 1.1 62 1 0 -.8 -1.5M25.6 40.2a.5 .5 114 1 0 -.4 .9a.5 .5 114 1 0 .4 -.9M12 51.7a.6 1 142 1 0 -1 .8a.6 1 142 1 0 1 -.8M59.5 17.1a.8 1 52 1 0 1 1.3a.8 1 52 1 0 -1 -1.3M49.4 15a.7 .8 47 1 0 .9 1a.7 .8 47 1 0 -.9 -1"/><path fill="#7a4a48" opacity="1.0" d="M23.2 38.4a.8 .9 113 1 0 -.6 1.4a.8 .9 113 1 0 .6 -1.4M33.3 49.7a.9 1.1 149 1 0 -1.5 .9a.9 1.1 149 1 0 1.5 -.9M63 47.7a1.1 .5 117 1 0 -1.1 2a1.1 .5 117 1 0 1.1 -2M20.9 56.9a.9 1 159 1 0 -1.7 .6a.9 1 159 1 0 1.7 -.6M64.8 21.2a1 1 9 1 0 1.9 .3a1 1 9 1 0 -1.9 -.3M62.6 20.2a1.1 .8 160 1 0 -2.1 .7a1.1 .8 160 1 0 2.1 -.7M18.1 40.1a1 .6 73 1 0 .6 1.9a1 .6 73 1 0 -.6 -1.9M58.7 48.3a1.2 1 99 1 0 -.4 2.4a1.2 1 99 1 0 .4 -2.4M59.5 32.8a.6 1.1 158 1 0 -1.1 .4a.6 1.1 158 1 0 1.1 -.4M51.9 52.5a1 .9 134 1 0 -1.4 1.4a1 .9 134 1 0 1.4 -1.4M28.3 48.3a.6 1.1 141 1 0 -.9 .7a.6 1.1 141 1 0 .9 -.7M7.2 57.1a1.1 1.1 61 1 0 1.1 2a1.1 1.1 61 1 0 -1.1 -2M39.5 35.9a1 .6 147 1 0 -1.6 1a1 .6 147 1 0 1.6 -1M30.5 55.3a.8 1 48 1 0 1 1.1a.8 1 48 1 0 -1 -1.1M36.7 46.7a.6 .9 1 1 0 1.2 0a.6 .9 1 1 0 -1.2 0M62 60.5a1.1 1.1 136 1 0 -1.6 1.5a1.1 1.1 136 1 0 1.6 -1.5M3.8 56.1a1.1 1.1 80 1 0 .4 2.1a1.1 1.1 80 1 0 -.4 -2.1M18.2 33.6a.9 1.1 121 1 0 -.9 1.5a.9 1.1 121 1 0 .9 -1.5M15.5 26.8a.7 .7 53 1 0 .8 1.1a.7 .7 53 1 0 -.8 -1.1M34.9 38.1a.7 .7 142 1 0 -1.1 .9a.7 .7 142 1 0 1.1 -.9M61.4 9a.8 .8 51 1 0 1 1.2a.8 .8 51 1 0 -1 -1.2M29.5 48.2a.5 1.1 140 1 0 -.8 .7a.5 1.1 140 1 0 .8 -.7"/><path fill="#4a2230" opacity="0.5" d="M5.4 57.1a1 1 14 1 0 1.9 .5a1 1 14 1 0 -1.9 -.5M41.3 20.2a.9 .8 175 1 0 -1.8 .1a.9 .8 175 1 0 1.8 -.1M64 19a.8 .9 171 1 0 -1.5 .2a.8 .9 171 1 0 1.5 -.2M43.4 55.7a.8 .5 122 1 0 -.9 1.4a.8 .5 122 1 0 .9 -1.4M63.9 35.9a.7 .5 33 1 0 1.2 .8a.7 .5 33 1 0 -1.2 -.8M43.5 31.6a1.2 .8 14 1 0 2.2 .6a1.2 .8 14 1 0 -2.2 -.6M29.8 47.7a.8 .6 20 1 0 1.5 .6a.8 .6 20 1 0 -1.5 -.6M23.5 58.6a1.1 .6 86 1 0 .1 2.2a1.1 .6 86 1 0 -.1 -2.2M52.7 15.8a1.1 1 62 1 0 1 2a1.1 1 62 1 0 -1 -2M45.7 15.3a.8 1 3 1 0 1.6 .1a.8 1 3 1 0 -1.6 -.1M25 33.2a.8 1 133 1 0 -1.1 1.2a.8 1 133 1 0 1.1 -1.2"/><path fill="#5a2a36" opacity="1.0" d="M34.7 20.3a1.1 .7 88 1 0 0 2.2a1.1 .7 88 1 0 0 -2.2M12.2 4.5a.7 .9 71 1 0 .4 1.3a.7 .9 71 1 0 -.4 -1.3M63.7 11.1a1 1 119 1 0 -1 1.8a1 1 119 1 0 1 -1.8M32.3 40.8a1 .7 85 1 0 .2 1.9a1 .7 85 1 0 -.2 -1.9M13.1 48.6a.8 .9 159 1 0 -1.5 .5a.8 .9 159 1 0 1.5 -.5M27 50.9a.8 1.2 109 1 0 -.6 1.6a.8 1.2 109 1 0 .6 -1.6M21.9 48.4a.9 .7 167 1 0 -1.7 .4a.9 .7 167 1 0 1.7 -.4M15.3 60.6a1.2 1.2 26 1 0 2.1 1a1.2 1.2 26 1 0 -2.1 -1M57.8 6.8a1.2 .7 13 1 0 2.3 .5a1.2 .7 13 1 0 -2.3 -.5M47.6 15.4a.9 1.1 175 1 0 -1.8 .1a.9 1.1 175 1 0 1.8 -.1M33.5 58.9a1 .7 103 1 0 -.5 2a1 .7 103 1 0 .5 -2M45.9 25.6a.7 .7 106 1 0 -.4 1.4a.7 .7 106 1 0 .4 -1.4M59.7 37.6a.6 .7 78 1 0 .2 1.2a.6 .7 78 1 0 -.2 -1.2M64.4 30.6a1 1.2 84 1 0 .2 1.9a1 1.2 84 1 0 -.2 -1.9M14 35.6a.8 .6 121 1 0 -.9 1.4a.8 .6 121 1 0 .9 -1.4M1.1 42.2a.7 1.1 2 1 0 1.4 .1a.7 1.1 2 1 0 -1.4 -.1M50 -1.6a.8 1 0 1 0 1.5 0a.8 1 0 1 0 -1.5 0M1.6 44.3a1.1 .7 21 1 0 2.1 .8a1.1 .7 21 1 0 -2.1 -.8M6.1 37.3a1 1.1 81 1 0 .3 1.9a1 1.1 81 1 0 -.3 -1.9"/><path fill="#7a4a48" opacity="0.5" d="M23.1 37.2a.6 1.1 64 1 0 .5 1.1a.6 1.1 64 1 0 -.5 -1.1M54.5 7.5a.6 .8 52 1 0 .7 .9a.6 .8 52 1 0 -.7 -.9M16.2 51.5a.8 .6 83 1 0 .2 1.5a.8 .6 83 1 0 -.2 -1.5M36.9 44a.9 .5 29 1 0 1.5 .8a.9 .5 29 1 0 -1.5 -.8M62.3 8.8a.9 .9 14 1 0 1.7 .4a.9 .9 14 1 0 -1.7 -.4M50.7 56.1a.5 .7 55 1 0 .6 .9a.5 .7 55 1 0 -.6 -.9M41.6 26.7a.8 1.2 51 1 0 .9 1.2a.8 1.2 51 1 0 -.9 -1.2M38.3 42.6a.9 1.1 80 1 0 .3 1.8a.9 1.1 80 1 0 -.3 -1.8M16.3 49.3a1.1 .9 83 1 0 .3 2.3a1.1 .9 83 1 0 -.3 -2.3M52.2 46.4a.6 .6 173 1 0 -1.2 .1a.6 .6 173 1 0 1.2 -.1M51.3 9.1a.6 1 168 1 0 -1.2 .2a.6 1 168 1 0 1.2 -.2M49 13.4a.7 .9 5 1 0 1.4 .1a.7 .9 5 1 0 -1.4 -.1"/><path fill="#4a2230" opacity="0.75" d="M51.3 30.4a.5 .9 87 1 0 0 1a.5 .9 87 1 0 0 -1M50.6 18.1a.5 1 70 1 0 .4 1a.5 1 70 1 0 -.4 -1M56.6 41.3a1.2 1.1 156 1 0 -2.1 .9a1.2 1.1 156 1 0 2.1 -.9M40.7 61.5a1.2 1.1 158 1 0 -2.2 .9a1.2 1.1 158 1 0 2.2 -.9M41.6 40.8a.7 1.2 40 1 0 1.1 .9a.7 1.2 40 1 0 -1.1 -.9M37.3 29.5a.9 1 41 1 0 1.4 1.2a.9 1 41 1 0 -1.4 -1.2M40.5 41.7a.8 1.2 103 1 0 -.4 1.6a.8 1.2 103 1 0 .4 -1.6M57.9 23.4a.6 1.2 95 1 0 -.1 1.1a.6 1.2 95 1 0 .1 -1.1M56.6 38.4a1.1 .7 57 1 0 1.2 1.9a1.1 .7 57 1 0 -1.2 -1.9M17.6 54.6a.6 1.1 0 1 0 1.2 0a.6 1.1 0 1 0 -1.2 0M63.7 24.4a.6 1 14 1 0 1.2 .3a.6 1 14 1 0 -1.2 -.3M63.4 8.8a.6 1 43 1 0 .8 .8a.6 1 43 1 0 -.8 -.8M54.8 38a.9 1 26 1 0 1.6 .8a.9 1 26 1 0 -1.6 -.8M22.6 60.2a1.1 .8 168 1 0 -2.1 .4a1.1 .8 168 1 0 2.1 -.4M-2 58a1 .9 37 1 0 1.7 1.3a1 .9 37 1 0 -1.7 -1.3M44.3 17.3a.5 1.1 101 1 0 -.2 1a.5 1.1 101 1 0 .2 -1M25.5 38.2a1.1 .8 122 1 0 -1.1 1.8a1.1 .8 122 1 0 1.1 -1.8M25 46.9a.8 .6 40 1 0 1.2 1.1a.8 .6 40 1 0 -1.2 -1.1M22.9 50.6a1 .9 51 1 0 1.3 1.6a1 .9 51 1 0 -1.3 -1.6M54.1 46.8a.7 1.1 88 1 0 0 1.4a.7 1.1 88 1 0 0 -1.4M54 39a.6 .9 68 1 0 .4 1.1a.6 .9 68 1 0 -.4 -1.1M56.8 38a.7 1 89 1 0 0 1.5a.7 1 89 1 0 0 -1.5M26.5 48a1.2 .7 31 1 0 2 1.2a1.2 .7 31 1 0 -2 -1.2M36.4 44.5a.8 .6 177 1 0 -1.7 .1a.8 .6 177 1 0 1.7 -.1M18.5 57.4a.8 .9 12 1 0 1.5 .3a.8 .9 12 1 0 -1.5 -.3M51 17.3a.9 .8 144 1 0 -1.5 1.1a.9 .8 144 1 0 1.5 -1.1M2.2 55.9a.8 .5 105 1 0 -.4 1.5a.8 .5 105 1 0 .4 -1.5M65.1 25a.9 1.1 162 1 0 -1.7 .6a.9 1.1 162 1 0 1.7 -.6M31.5 52.9a.9 1 4 1 0 1.7 .1a.9 1 4 1 0 -1.7 -.1M52.1 8.4a1.1 .6 13 1 0 2.1 .5a1.1 .6 13 1 0 -2.1 -.5M65.1 54.1a.7 .7 85 1 0 .1 1.4a.7 .7 85 1 0 -.1 -1.4M7.8 36.6a.7 .8 174 1 0 -1.3 .1a.7 .8 174 1 0 1.3 -.1M65.4 26.6a.5 .5 151 1 0 -.9 .5a.5 .5 151 1 0 .9 -.5M28.3 43.6a1 .8 35 1 0 1.6 1.2a1 .8 35 1 0 -1.6 -1.2M9.7 56.3a.8 .8 7 1 0 1.5 .2a.8 .8 7 1 0 -1.5 -.2M47.4 21.3a.9 1 99 1 0 -.3 1.8a.9 1 99 1 0 .3 -1.8M59.5 28.1a.7 1.1 0 1 0 1.4 0a.7 1.1 0 1 0 -1.4 0M42.6 59.7a.7 1.2 136 1 0 -1.1 1a.7 1.2 136 1 0 1.1 -1M61.9 3.5a.6 1 10 1 0 1.2 .2a.6 1 10 1 0 -1.2 -.2M25.6 44.9a.6 1 124 1 0 -.7 .9a.6 1 124 1 0 .7 -.9M23.7 35.8a1.2 1 69 1 0 .8 2.2a1.2 1 69 1 0 -.8 -2.2M38.4 32.9a.8 .5 30 1 0 1.3 .8a.8 .5 30 1 0 -1.3 -.8"/><path fill="#7a4a48" opacity="0.75" d="M39.4 26.8a1.1 1 152 1 0 -2 1.1a1.1 1 152 1 0 2 -1.1M61.9 30.1a.7 .8 39 1 0 1.1 1a.7 .8 39 1 0 -1.1 -1M56.9 16.5a.9 .7 118 1 0 -.9 1.6a.9 .7 118 1 0 .9 -1.6M59.8 25.1a.6 1 21 1 0 1 .4a.6 1 21 1 0 -1 -.4M45.4 41.9a1.1 1 97 1 0 -.3 2.2a1.1 1 97 1 0 .3 -2.2M58.6 27.1a1 .8 140 1 0 -1.5 1.2a1 .8 140 1 0 1.5 -1.2M54.9 40.5a.6 1.1 179 1 0 -1.2 0a.6 1.1 179 1 0 1.2 0M58.8 50.8a1 1.2 22 1 0 1.8 .8a1 1.2 22 1 0 -1.8 -.8M36.4 40.5a.9 .6 135 1 0 -1.2 1.2a.9 .6 135 1 0 1.2 -1.2M10 49.6a.7 1.1 74 1 0 .4 1.3a.7 1.1 74 1 0 -.4 -1.3M12.8 50a1.2 .5 5 1 0 2.4 .2a1.2 .5 5 1 0 -2.4 -.2M28.9 58.4a1.2 .6 44 1 0 1.7 1.6a1.2 .6 44 1 0 -1.7 -1.6M55 44.8a.9 .6 12 1 0 1.8 .4a.9 .6 12 1 0 -1.8 -.4M47.7 17a.9 .7 53 1 0 1 1.4a.9 .7 53 1 0 -1 -1.4M17.2 50.7a1 1.1 71 1 0 .6 1.9a1 1.1 71 1 0 -.6 -1.9M42.1 31.5a1.1 1 129 1 0 -1.3 1.6a1.1 1 129 1 0 1.3 -1.6M52.4 9.2a.7 1.1 14 1 0 1.4 .4a.7 1.1 14 1 0 -1.4 -.4M47.9 32.8a.6 1 81 1 0 .2 1.2a.6 1 81 1 0 -.2 -1.2M41.4 23.4a1.2 .7 70 1 0 .8 2.2a1.2 .7 70 1 0 -.8 -2.2M59.8 21.8a.6 1.1 125 1 0 -.7 1a.6 1.1 125 1 0 .7 -1M30.3 31.7a.6 .8 121 1 0 -.6 1a.6 .8 121 1 0 .6 -1M34.1 48.3a.6 1.1 33 1 0 1 .7a.6 1.1 33 1 0 -1 -.7M33.6 59.5a1 .8 152 1 0 -1.7 .9a1 .8 152 1 0 1.7 -.9M56.9 16.3a1.2 .9 16 1 0 2.2 .6a1.2 .9 16 1 0 -2.2 -.6M19.7 59.7a1.2 .7 49 1 0 1.6 1.8a1.2 .7 49 1 0 -1.6 -1.8M51.1 11.5a1 .7 154 1 0 -1.9 .9a1 .7 154 1 0 1.9 -.9M14.9 58.1a.8 .7 83 1 0 .2 1.5a.8 .7 83 1 0 -.2 -1.5M37.9 30.1a.6 .9 25 1 0 1.1 .5a.6 .9 25 1 0 -1.1 -.5M44.8 50.1a.8 .9 99 1 0 -.3 1.6a.8 .9 99 1 0 .3 -1.6M55.9 39.2a1 1 175 1 0 -2.1 .2a1 1 175 1 0 2.1 -.2M33.9 49.4a.7 1.1 119 1 0 -.7 1.2a.7 1.1 119 1 0 .7 -1.2M17 60.5a.7 .8 23 1 0 1.3 .6a.7 .8 23 1 0 -1.3 -.6M30.7 41.6a.5 .9 29 1 0 .9 .5a.5 .9 29 1 0 -.9 -.5M46.2 30.8a.6 .5 89 1 0 0 1.1a.6 .5 89 1 0 0 -1.1M55.6 51.8a.6 .8 61 1 0 .6 1.1a.6 .8 61 1 0 -.6 -1.1M45.3 57.9a.7 .7 62 1 0 .7 1.3a.7 .7 62 1 0 -.7 -1.3M62.3 34.4a.6 1 176 1 0 -1.1 .1a.6 1 176 1 0 1.1 -.1"/><path fill="#5a2a36" opacity="0.5" d="M33.7 39.3a.6 .9 130 1 0 -.8 .9a.6 .9 130 1 0 .8 -.9M23.1 44.3a.9 1.1 24 1 0 1.6 .7a.9 1.1 24 1 0 -1.6 -.7M4.8 27.2a.5 .8 57 1 0 .5 .8a.5 .8 57 1 0 -.5 -.8M45.5 34.5a1.1 .9 18 1 0 2.1 .7a1.1 .9 18 1 0 -2.1 -.7M54.4 7.4a1.1 1 90 1 0 0 2.1a1.1 1 90 1 0 0 -2.1M27 56.1a.8 .6 126 1 0 -.9 1.2a.8 .6 126 1 0 .9 -1.2M53.8 55.1a1 .9 36 1 0 1.7 1.2a1 .9 36 1 0 -1.7 -1.2M46.4 36.1a1 .8 17 1 0 2 .6a1 .8 17 1 0 -2 -.6"/><path fill="#6a3440" opacity="0.5" d="M57.4 30.9a.8 1 133 1 0 -1.1 1.1a.8 1 133 1 0 1.1 -1.1M51.4 42a.7 1 32 1 0 1.3 .8a.7 1 32 1 0 -1.3 -.8M54.8 54.9a1 .8 128 1 0 -1.2 1.5a1 .8 128 1 0 1.2 -1.5M65 25.5a1.1 .7 110 1 0 -.8 2.1a1.1 .7 110 1 0 .8 -2.1M37.8 39a.9 .6 154 1 0 -1.7 .8a.9 .6 154 1 0 1.7 -.8M51.2 57.7a1 .7 134 1 0 -1.5 1.5a1 .7 134 1 0 1.5 -1.5"/><path fill="#6a3440" opacity="1.0" d="M49.8 17.2a.8 1.2 41 1 0 1.2 1.1a.8 1.2 41 1 0 -1.2 -1.1M56.8 36.2a.6 .7 166 1 0 -1.1 .3a.6 .7 166 1 0 1.1 -.3M59.2 20.6a.9 .8 65 1 0 .7 1.6a.9 .8 65 1 0 -.7 -1.6M60.3 14.4a1.1 .6 12 1 0 2.2 .5a1.1 .6 12 1 0 -2.2 -.5M16.8 46.3a1 .6 97 1 0 -.3 2a1 .6 97 1 0 .3 -2M44.8 27.8a.7 1.2 83 1 0 .2 1.4a.7 1.2 83 1 0 -.2 -1.4M61.2 8.1a.7 1.1 153 1 0 -1.2 .6a.7 1.1 153 1 0 1.2 -.6M62.2 43.9a.5 1.2 87 1 0 .1 1.1a.5 1.2 87 1 0 -.1 -1.1M57.7 23.2a.9 1 116 1 0 -.8 1.5a.9 1 116 1 0 .8 -1.5M54.3 8a.8 .8 114 1 0 -.6 1.4a.8 .8 114 1 0 .6 -1.4M28.8 37.5a.5 .8 160 1 0 -1 .4a.5 .8 160 1 0 1 -.4M12.9 41.2a1.1 .7 72 1 0 .6 2a1.1 .7 72 1 0 -.6 -2M5.8 55.8a.7 1 165 1 0 -1.3 .4a.7 1 165 1 0 1.3 -.4M62.3 .4a.6 .8 132 1 0 -.7 .8a.6 .8 132 1 0 .7 -.8M53.1 15a.5 1 29 1 0 .9 .5a.5 1 29 1 0 -.9 -.5M57.8 28a.8 .9 133 1 0 -1 1.1a.8 .9 133 1 0 1 -1.1"/></g><g filter="url(#b1)"><path fill="#a07860" opacity="0.75" d="M58.4 36.5a1 1.2 59 1 0 1 1.6a1 1.2 59 1 0 -1 -1.6M57.1 56.3a.7 .6 87 1 0 .1 1.3a.7 .6 87 1 0 -.1 -1.3M36 33.8a.9 .8 6 1 0 1.8 .2a.9 .8 6 1 0 -1.8 -.2M9.1 48.6a.7 1.2 152 1 0 -1.2 .6a.7 1.2 152 1 0 1.2 -.6M10.2 2.9a1.4 1 85 1 0 .2 2.8a1.4 1 85 1 0 -.2 -2.8M-.5 38.1a1.3 .8 164 1 0 -2.5 .7a1.3 .8 164 1 0 2.5 -.7M12.5 33.8a1.3 1.1 130 1 0 -1.7 2a1.3 1.1 130 1 0 1.7 -2M59 60.8a1.3 1.1 116 1 0 -1.1 2.3a1.3 1.1 116 1 0 1.1 -2.3M27.5 -1.9a1 .8 26 1 0 1.8 .9a1 .8 26 1 0 -1.8 -.9M38.9 52.1a1.3 .8 164 1 0 -2.4 .7a1.3 .8 164 1 0 2.4 -.7M30.5 22.1a.8 1.4 176 1 0 -1.5 .1a.8 1.4 176 1 0 1.5 -.1M47.2 60.1a1.2 1.2 2 1 0 2.4 .1a1.2 1.2 2 1 0 -2.4 -.1M62.7 17.5a.6 .9 152 1 0 -1.1 .6a.6 .9 152 1 0 1.1 -.6M57.5 45.5a1.2 1.2 172 1 0 -2.3 .3a1.2 1.2 172 1 0 2.3 -.3M1.9 57.5a1 .6 127 1 0 -1.2 1.6a1 .6 127 1 0 1.2 -1.6M32.1 16.9a.8 1 102 1 0 -.4 1.6a.8 1 102 1 0 .4 -1.6M4.8 20.1a1.3 .8 30 1 0 2.1 1.3a1.3 .8 30 1 0 -2.1 -1.3M13 .7a.6 1.2 82 1 0 .2 1.3a.6 1.2 82 1 0 -.2 -1.3M65.4 53.3a1.2 .6 71 1 0 .7 2.2a1.2 .6 71 1 0 -.7 -2.2M45.1 59.3a.8 1 31 1 0 1.4 .9a.8 1 31 1 0 -1.4 -.9M47.5 2.3a.6 1.2 131 1 0 -.8 .9a.6 1.2 131 1 0 .8 -.9"/><path fill="#b08a70" opacity="0.75" d="M39.7 42.2a1.1 .8 163 1 0 -2.1 .6a1.1 .8 163 1 0 2.1 -.6M19.9 3a1.1 1 95 1 0 -.2 2.1a1.1 1 95 1 0 .2 -2.1M45.5 36.1a1.3 .8 165 1 0 -2.5 .7a1.3 .8 165 1 0 2.5 -.7M62.3 45.3a1.1 1.1 0 1 0 2.1 0a1.1 1.1 0 1 0 -2.1 0M64.3 44a.9 1 73 1 0 .5 1.7a.9 1 73 1 0 -.5 -1.7M7 6.2a.8 1 35 1 0 1.2 .9a.8 1 35 1 0 -1.2 -.9M8.2 21.4a1.3 1 123 1 0 -1.5 2.2a1.3 1 123 1 0 1.5 -2.2M33.4 2.1a.9 1 93 1 0 -.1 1.9a.9 1 93 1 0 .1 -1.9M-.1 43.4a1.4 .8 178 1 0 -2.7 .1a1.4 .8 178 1 0 2.7 -.1M25.1 32.2a1.3 1.2 55 1 0 1.4 2.1a1.3 1.2 55 1 0 -1.4 -2.1M14.2 38a1.2 1 61 1 0 1.1 2.1a1.2 1 61 1 0 -1.1 -2.1M62 34.9a.7 .8 82 1 0 .2 1.5a.7 .8 82 1 0 -.2 -1.5M46.6 44.7a1.3 1 137 1 0 -1.9 1.8a1.3 1 137 1 0 1.9 -1.8M8.4 32.3a1.1 1.2 94 1 0 -.2 2.3a1.1 1.2 94 1 0 .2 -2.3"/><path fill="#a07860" opacity="0.5" d="M8.6 -.6a.7 .9 25 1 0 1.2 .6a.7 .9 25 1 0 -1.2 -.6M13.6 1.6a.9 1.3 29 1 0 1.5 .9a.9 1.3 29 1 0 -1.5 -.9M45.3 18.2a.6 .7 78 1 0 .3 1.3a.6 .7 78 1 0 -.3 -1.3M64.8 54.3a.7 .9 62 1 0 .6 1.2a.7 .9 62 1 0 -.6 -1.2M62 35a1.3 1.2 48 1 0 1.7 1.9a1.3 1.2 48 1 0 -1.7 -1.9M60.4 47.2a.9 1.1 74 1 0 .5 1.7a.9 1.1 74 1 0 -.5 -1.7M33.5 52a.7 1 151 1 0 -1.2 .7a.7 1 151 1 0 1.2 -.7M38.7 3a1.4 .8 137 1 0 -2 1.9a1.4 .8 137 1 0 2 -1.9M16.1 -.6a.6 1.2 132 1 0 -.9 .9a.6 1.2 132 1 0 .9 -.9M23.8 46.9a.9 .9 108 1 0 -.6 1.8a.9 .9 108 1 0 .6 -1.8M28.2 58.7a.7 .9 108 1 0 -.5 1.3a.7 .9 108 1 0 .5 -1.3M61.6 4a1.4 1.1 111 1 0 -1 2.6a1.4 1.1 111 1 0 1 -2.6M-.6 2.9a.9 1.4 51 1 0 1.1 1.4a.9 1.4 51 1 0 -1.1 -1.4"/><path fill="#b08a70" opacity="0.5" d="M24.9 6.6a1.3 1.3 26 1 0 2.4 1.2a1.3 1.3 26 1 0 -2.4 -1.2M32.8 5.7a.9 .8 37 1 0 1.5 1.1a.9 .8 37 1 0 -1.5 -1.1M4.9 2.8a1.3 .7 69 1 0 .9 2.4a1.3 .7 69 1 0 -.9 -2.4M56.9 40.4a.8 .8 63 1 0 .7 1.4a.8 .8 63 1 0 -.7 -1.4M10 37.3a1 .8 3 1 0 2 .1a1 .8 3 1 0 -2 -.1M-2.4 39.6a1.1 .8 3 1 0 2.2 .1a1.1 .8 3 1 0 -2.2 -.1"/><path fill="#b08a70" opacity="1.0" d="M32.3 36.2a1 1 143 1 0 -1.6 1.1a1 1 143 1 0 1.6 -1.1M21.2 41.9a1.3 1.4 58 1 0 1.3 2.2a1.3 1.4 58 1 0 -1.3 -2.2M-1.6 -.1a.8 .8 115 1 0 -.7 1.4a.8 .8 115 1 0 .7 -1.4M26.1 49.2a1 1.3 164 1 0 -2 .5a1 1.3 164 1 0 2 -.5M-2 21.2a1.3 1.1 11 1 0 2.6 .5a1.3 1.1 11 1 0 -2.6 -.5"/><path fill="#a07860" opacity="1.0" d="M16 54.1a1.3 1.3 156 1 0 -2.3 1a1.3 1.3 156 1 0 2.3 -1"/></g><rect x="0" y="0" width="45" height="9.2" fill="#fff"/><text x="1.4" y="7.2" font-size="6.8" fill="#111" stroke="#111" stroke-width="0.1">hOsteopontin</text><rect x="46" y="54" width="11" height="2.6" fill="#fff"/></svg><text x="322.2" y="15.9" font-size="8.2" fill="#000" font-weight="normal" text-anchor="middle" letter-spacing="0.5" stroke="#000" stroke-width="0.15">Before treatment</text><line x1="274.7" y1="19.5" x2="368.3" y2="19.5" stroke="#000" stroke-width="1.1"/><text x="426.4" y="15.9" font-size="8.2" fill="#000" font-weight="normal" text-anchor="middle" letter-spacing="0.5" stroke="#000" stroke-width="0.15">After treatment</text><line x1="375.3" y1="19.5" x2="474" y2="19.5" stroke="#000" stroke-width="1.1"/><path d="M383.1 32.8 V27.5 H444 V32.8" fill="none" stroke="#000" stroke-width="1.2"/><path d="M383.1 41.3 V36.6 H423.5 V41.3" fill="none" stroke="#000" stroke-width="1.2"/><circle cx="413.3" cy="24.5" r="1.15" fill="#000"/><circle cx="403.5" cy="33.4" r="1.15" fill="#000"/><path d="M268.2 38.3 V145.4 H478.6" fill="none" stroke="#000" stroke-width="1.2"/><line x1="263" y1="38.28" x2="268.2" y2="38.28" stroke="#000" stroke-width="1.1"/><text x="249.6" y="41.18" font-size="8" fill="#000" stroke="#000" stroke-width="0.12">10<tspan font-size="5" dy="-3.2">7</tspan></text><line x1="263" y1="65.06" x2="268.2" y2="65.06" stroke="#000" stroke-width="1.1"/><text x="249.6" y="67.96" font-size="8" fill="#000" stroke="#000" stroke-width="0.12">10<tspan font-size="5" dy="-3.2">6</tspan></text><line x1="263" y1="91.84" x2="268.2" y2="91.84" stroke="#000" stroke-width="1.1"/><text x="249.6" y="94.74" font-size="8" fill="#000" stroke="#000" stroke-width="0.12">10<tspan font-size="5" dy="-3.2">5</tspan></text><line x1="263" y1="118.62" x2="268.2" y2="118.62" stroke="#000" stroke-width="1.1"/><text x="249.6" y="121.52" font-size="8" fill="#000" stroke="#000" stroke-width="0.12">10<tspan font-size="5" dy="-3.2">4</tspan></text><line x1="263" y1="145.40" x2="268.2" y2="145.40" stroke="#000" stroke-width="1.1"/><text x="249.6" y="148.30" font-size="8" fill="#000" stroke="#000" stroke-width="0.12">10<tspan font-size="5" dy="-3.2">3</tspan></text><line x1="282.10" y1="145.4" x2="282.10" y2="150" stroke="#000" stroke-width="1.1"/><text x="0" y="0" font-size="8.7" text-anchor="end" stroke="#000" stroke-width="0.15" transform="translate(285.10,159.1) rotate(-45)">DMSO</text><line x1="302.36" y1="145.4" x2="302.36" y2="150" stroke="#000" stroke-width="1.1"/><text x="0" y="0" font-size="8.7" text-anchor="end" stroke="#000" stroke-width="0.15" transform="translate(305.36,159.1) rotate(-45)">Ara-C</text><line x1="322.62" y1="145.4" x2="322.62" y2="150" stroke="#000" stroke-width="1.1"/><text x="0" y="0" font-size="8.7" text-anchor="end" stroke="#000" stroke-width="0.15" transform="translate(325.62,159.1) rotate(-45)">I-BET151</text><line x1="342.88" y1="145.4" x2="342.88" y2="150" stroke="#000" stroke-width="1.1"/><text x="0" y="0" font-size="8.7" text-anchor="end" stroke="#000" stroke-width="0.15" transform="translate(345.88,159.1) rotate(-45)">5-AZA</text><line x1="363.14" y1="145.4" x2="363.14" y2="150" stroke="#000" stroke-width="1.1"/><text x="0" y="0" font-size="8.7" text-anchor="end" stroke="#000" stroke-width="0.15" transform="translate(366.14,159.1) rotate(-45)">VENETOCLAX</text><line x1="383.40" y1="145.4" x2="383.40" y2="150" stroke="#000" stroke-width="1.1"/><text x="0" y="0" font-size="8.7" text-anchor="end" stroke="#000" stroke-width="0.15" transform="translate(386.40,159.1) rotate(-45)">DMSO</text><line x1="403.66" y1="145.4" x2="403.66" y2="150" stroke="#000" stroke-width="1.1"/><text x="0" y="0" font-size="8.7" text-anchor="end" stroke="#000" stroke-width="0.15" transform="translate(406.66,159.1) rotate(-45)">Ara-C</text><line x1="423.92" y1="145.4" x2="423.92" y2="150" stroke="#000" stroke-width="1.1"/><text x="0" y="0" font-size="8.7" text-anchor="end" stroke="#000" stroke-width="0.15" transform="translate(426.92,159.1) rotate(-45)">I-BET151</text><line x1="444.18" y1="145.4" x2="444.18" y2="150" stroke="#000" stroke-width="1.1"/><text x="0" y="0" font-size="8.7" text-anchor="end" stroke="#000" stroke-width="0.15" transform="translate(447.18,159.1) rotate(-45)">5-AZA</text><line x1="464.44" y1="145.4" x2="464.44" y2="150" stroke="#000" stroke-width="1.1"/><text x="0" y="0" font-size="8.7" text-anchor="end" stroke="#000" stroke-width="0.15" transform="translate(467.44,159.1) rotate(-45)">VENETOCLAX</text><text x="0" y="0" font-size="9.4" fill="#000" font-weight="normal" text-anchor="middle" transform="translate(242.4,90.8) rotate(-90) scale(0.785,1)">Tumor growth (Log RLU)</text><line x1="282.1" y1="110.6" x2="282.1" y2="129.5" stroke="#111" stroke-width="1.1"/><line x1="278.90000000000003" y1="110.6" x2="285.3" y2="110.6" stroke="#111" stroke-width="1.1"/><line x1="278.90000000000003" y1="129.5" x2="285.3" y2="129.5" stroke="#111" stroke-width="1.1"/><line x1="275.3" y1="116.4" x2="288.90000000000003" y2="116.4" stroke="#111" stroke-width="1.1"/><circle cx="282.1" cy="106.6" r="2.45" fill="#111"/><circle cx="282.1" cy="128.2" r="2.45" fill="#111"/><circle cx="282.1" cy="131.9" r="2.45" fill="#111"/><line x1="302.0" y1="106.8" x2="302.0" y2="131.2" stroke="#63c06e" stroke-width="1.1"/><line x1="298.8" y1="106.8" x2="305.2" y2="106.8" stroke="#63c06e" stroke-width="1.1"/><line x1="298.8" y1="131.2" x2="305.2" y2="131.2" stroke="#63c06e" stroke-width="1.1"/><line x1="295.2" y1="113.2" x2="308.8" y2="113.2" stroke="#63c06e" stroke-width="1.1"/><circle cx="302.0" cy="102.5" r="2.45" fill="#2eac4b"/><circle cx="297.6" cy="131.6" r="2.45" fill="#2eac4b"/><circle cx="307.1" cy="130.8" r="2.45" fill="#2eac4b"/><line x1="322.4" y1="114.3" x2="322.4" y2="118.7" stroke="#f6b11b" stroke-width="1.1"/><line x1="319.9" y1="114.3" x2="324.9" y2="114.3" stroke="#f6b11b" stroke-width="1.1"/><line x1="319.9" y1="118.7" x2="324.9" y2="118.7" stroke="#f6b11b" stroke-width="1.1"/><line x1="317.4" y1="116.3" x2="327.4" y2="116.3" stroke="#f6b11b" stroke-width="1.1"/><circle cx="317.8" cy="113.2" r="2.45" fill="#f6b11b"/><circle cx="317.8" cy="120.6" r="2.45" fill="#f6b11b"/><circle cx="327.3" cy="117.5" r="2.45" fill="#f6b11b"/><line x1="342.9" y1="111.5" x2="342.9" y2="122.7" stroke="#8e86c9" stroke-width="1.1"/><line x1="339.7" y1="111.5" x2="346.09999999999997" y2="111.5" stroke="#8e86c9" stroke-width="1.1"/><line x1="339.7" y1="122.7" x2="346.09999999999997" y2="122.7" stroke="#8e86c9" stroke-width="1.1"/><line x1="336.09999999999997" y1="115.8" x2="349.7" y2="115.8" stroke="#8e86c9" stroke-width="1.1"/><circle cx="342.9" cy="108.3" r="2.45" fill="#8e86c9"/><circle cx="342.9" cy="117.5" r="2.45" fill="#8e86c9"/><circle cx="342.9" cy="129.4" r="2.45" fill="#8e86c9"/><line x1="363.2" y1="114.0" x2="363.2" y2="119.2" stroke="#1c5995" stroke-width="1.1"/><line x1="360.0" y1="114.0" x2="366.4" y2="114.0" stroke="#1c5995" stroke-width="1.1"/><line x1="360.0" y1="119.2" x2="366.4" y2="119.2" stroke="#1c5995" stroke-width="1.1"/><line x1="356.4" y1="116.3" x2="370.0" y2="116.3" stroke="#1c5995" stroke-width="1.1"/><circle cx="358.4" cy="112.9" r="2.45" fill="#1c5995"/><circle cx="367.7" cy="116.9" r="2.45" fill="#1c5995"/><circle cx="362.8" cy="122.7" r="2.45" fill="#1c5995"/><line x1="383.3" y1="47.2" x2="383.3" y2="53.6" stroke="#111" stroke-width="1.1"/><line x1="380.1" y1="47.2" x2="386.5" y2="47.2" stroke="#111" stroke-width="1.1"/><line x1="380.1" y1="53.6" x2="386.5" y2="53.6" stroke="#111" stroke-width="1.1"/><line x1="376.5" y1="50.5" x2="390.1" y2="50.5" stroke="#111" stroke-width="1.1"/><circle cx="383.1" cy="45.4" r="2.45" fill="#111"/><circle cx="378.5" cy="54.6" r="2.45" fill="#111"/><circle cx="387.7" cy="53.4" r="2.45" fill="#111"/><line x1="403.5" y1="56.9" x2="403.5" y2="82.3" stroke="#111" stroke-width="1.1"/><line x1="400.3" y1="56.9" x2="406.7" y2="56.9" stroke="#111" stroke-width="1.1"/><line x1="400.3" y1="82.3" x2="406.7" y2="82.3" stroke="#111" stroke-width="1.1"/><line x1="396.7" y1="63.5" x2="410.3" y2="63.5" stroke="#111" stroke-width="1.1"/><circle cx="403.5" cy="52.6" r="2.45" fill="#2eac4b"/><circle cx="403.5" cy="75.1" r="2.45" fill="#2eac4b"/><circle cx="403.5" cy="100.9" r="2.45" fill="#2eac4b"/><line x1="424.1" y1="103.2" x2="424.1" y2="106.8" stroke="#f6b11b" stroke-width="1.1"/><line x1="421.6" y1="103.2" x2="426.6" y2="103.2" stroke="#f6b11b" stroke-width="1.1"/><line x1="421.6" y1="106.8" x2="426.6" y2="106.8" stroke="#f6b11b" stroke-width="1.1"/><line x1="418.1" y1="105.0" x2="430.1" y2="105.0" stroke="#f6b11b" stroke-width="1.1"/><circle cx="424.1" cy="100.8" r="2.45" fill="#f6b11b"/><circle cx="419.3" cy="108.8" r="2.45" fill="#f6b11b"/><circle cx="428.9" cy="105.6" r="2.45" fill="#f6b11b"/><line x1="444.1" y1="119.0" x2="444.1" y2="127.2" stroke="#8e86c9" stroke-width="1.1"/><line x1="440.90000000000003" y1="119.0" x2="447.3" y2="119.0" stroke="#8e86c9" stroke-width="1.1"/><line x1="440.90000000000003" y1="127.2" x2="447.3" y2="127.2" stroke="#8e86c9" stroke-width="1.1"/><line x1="437.3" y1="123.0" x2="450.90000000000003" y2="123.0" stroke="#8e86c9" stroke-width="1.1"/><circle cx="444.1" cy="116.1" r="2.45" fill="#8e86c9"/><circle cx="439.3" cy="128.9" r="2.45" fill="#8e86c9"/><circle cx="448.9" cy="128.9" r="2.45" fill="#8e86c9"/><line x1="464.5" y1="43.1" x2="464.5" y2="55.2" stroke="#1c5995" stroke-width="1.1"/><line x1="461.3" y1="43.1" x2="467.7" y2="43.1" stroke="#1c5995" stroke-width="1.1"/><line x1="461.3" y1="55.2" x2="467.7" y2="55.2" stroke="#1c5995" stroke-width="1.1"/><line x1="457.7" y1="47.6" x2="471.3" y2="47.6" stroke="#1c5995" stroke-width="1.1"/><circle cx="464.5" cy="39.9" r="2.45" fill="#1c5995"/><circle cx="464.5" cy="50.0" r="2.45" fill="#1c5995"/><circle cx="464.5" cy="62.5" r="2.45" fill="#1c5995"/><rect x="47.6" y="238.6" width="76.4" height="130.9" fill="#d3d3d3"/><text x="0" y="0" font-size="8.4" fill="#000" font-weight="normal" text-anchor="middle" transform="translate(87.6,247.7) scale(0.9,1)" stroke="#000" stroke-width="0.1">TREATMENT</text><path d="M41.6 238.7 V369.5 H200.9" fill="none" stroke="#000" stroke-width="1.2"/><line x1="35.8" y1="369.50" x2="41.6" y2="369.50" stroke="#000" stroke-width="1.2"/><line x1="35.8" y1="304.10" x2="41.6" y2="304.10" stroke="#000" stroke-width="1.2"/><line x1="35.8" y1="238.70" x2="41.6" y2="238.70" stroke="#000" stroke-width="1.2"/><line x1="38.2" y1="349.81" x2="41.6" y2="349.81" stroke="#000" stroke-width="1"/><line x1="38.2" y1="338.30" x2="41.6" y2="338.30" stroke="#000" stroke-width="1"/><line x1="38.2" y1="330.13" x2="41.6" y2="330.13" stroke="#000" stroke-width="1"/><line x1="38.2" y1="323.79" x2="41.6" y2="323.79" stroke="#000" stroke-width="1"/><line x1="38.2" y1="318.61" x2="41.6" y2="318.61" stroke="#000" stroke-width="1"/><line x1="38.2" y1="314.23" x2="41.6" y2="314.23" stroke="#000" stroke-width="1"/><line x1="38.2" y1="310.44" x2="41.6" y2="310.44" stroke="#000" stroke-width="1"/><line x1="38.2" y1="307.09" x2="41.6" y2="307.09" stroke="#000" stroke-width="1"/><line x1="38.2" y1="284.41" x2="41.6" y2="284.41" stroke="#000" stroke-width="1"/><line x1="38.2" y1="272.90" x2="41.6" y2="272.90" stroke="#000" stroke-width="1"/><line x1="38.2" y1="264.73" x2="41.6" y2="264.73" stroke="#000" stroke-width="1"/><line x1="38.2" y1="258.39" x2="41.6" y2="258.39" stroke="#000" stroke-width="1"/><line x1="38.2" y1="253.21" x2="41.6" y2="253.21" stroke="#000" stroke-width="1"/><line x1="38.2" y1="248.83" x2="41.6" y2="248.83" stroke="#000" stroke-width="1"/><line x1="38.2" y1="245.04" x2="41.6" y2="245.04" stroke="#000" stroke-width="1"/><line x1="38.2" y1="241.69" x2="41.6" y2="241.69" stroke="#000" stroke-width="1"/><text x="21.0" y="373.10" font-size="8.6" fill="#000">10<tspan font-size="5" dy="-3.8">5</tspan></text><text x="21.0" y="307.70" font-size="8.6" fill="#000">10<tspan font-size="5" dy="-3.8">6</tspan></text><text x="21.0" y="242.30" font-size="8.6" fill="#000">10<tspan font-size="5" dy="-3.8">7</tspan></text><line x1="51.90" y1="369.5" x2="51.90" y2="374.5" stroke="#000" stroke-width="1.1"/><text x="0" y="0" font-size="8.6" fill="#000" font-weight="normal" text-anchor="middle" transform="translate(51.9,385.2) scale(0.97,1)">10</text><line x1="73.13" y1="369.5" x2="73.13" y2="374.5" stroke="#000" stroke-width="1.1"/><text x="0" y="0" font-size="8.6" fill="#000" font-weight="normal" text-anchor="middle" transform="translate(73.13,385.2) scale(0.97,1)">20</text><line x1="94.36" y1="369.5" x2="94.36" y2="374.5" stroke="#000" stroke-width="1.1"/><text x="0" y="0" font-size="8.6" fill="#000" font-weight="normal" text-anchor="middle" transform="translate(94.36,385.2) scale(0.97,1)">30</text><line x1="115.59" y1="369.5" x2="115.59" y2="374.5" stroke="#000" stroke-width="1.1"/><text x="0" y="0" font-size="8.6" fill="#000" font-weight="normal" text-anchor="middle" transform="translate(115.59,385.2) scale(0.97,1)">40</text><line x1="136.82" y1="369.5" x2="136.82" y2="374.5" stroke="#000" stroke-width="1.1"/><text x="0" y="0" font-size="8.6" fill="#000" font-weight="normal" text-anchor="middle" transform="translate(136.82,385.2) scale(0.97,1)">50</text><line x1="158.05" y1="369.5" x2="158.05" y2="374.5" stroke="#000" stroke-width="1.1"/><text x="0" y="0" font-size="8.6" fill="#000" font-weight="normal" text-anchor="middle" transform="translate(158.05,385.2) scale(0.97,1)">60</text><line x1="179.28" y1="369.5" x2="179.28" y2="374.5" stroke="#000" stroke-width="1.1"/><text x="0" y="0" font-size="8.6" fill="#000" font-weight="normal" text-anchor="middle" transform="translate(179.28,385.2) scale(0.97,1)">70</text><line x1="200.51" y1="369.5" x2="200.51" y2="374.5" stroke="#000" stroke-width="1.1"/><text x="0" y="0" font-size="8.6" fill="#000" font-weight="normal" text-anchor="middle" transform="translate(200.51,385.2) scale(0.97,1)">80</text><text x="0" y="0" font-size="9.8" fill="#000" font-weight="normal" text-anchor="middle" transform="translate(116,400.8) scale(0.81,1)" stroke="#000" stroke-width="0.1">Days from inoculation</text><text x="0" y="0" font-size="9.7" fill="#000" font-weight="normal" text-anchor="middle" transform="translate(16,303.6) rotate(-90) scale(0.795,1)">Tumor growth (Log RLI)</text><path d="M45.6 344.4 L68.8 320.5 L124.3 268.3 L183.5 259.2 L198.3 257.5" fill="none" stroke="#d5263d" stroke-width="1.3"/><path d="M45.6 341.8 L68.8 317.0 L94.4 291.1 L124.3 272.2 L183.5 291.3 L198.3 290.6" fill="none" stroke="#39b54a" stroke-width="1.3"/><path d="M45.6 346.2 L68.8 319.2 L94.4 317.3 L124.3 308.6 L183.5 320.8 L198.3 330.4" fill="none" stroke="#f9b51b" stroke-width="1.3"/><path d="M45.6 331.9 L68.8 313.6 L94.4 284.4 L124.3 268.8 L183.5 265.6 L198.3 264.4" fill="none" stroke="#57267f" stroke-width="1.3"/><path d="M45.6 337 V351.5 M43.0 337 H48.2 M43.0 351.5 H48.2" stroke="#d5263d" stroke-width="1.1" fill="none"/><path d="M45.6 341.19999999999993 L48.800000000000004 346.6 L42.4 346.6Z" fill="#d5263d"/><path d="M68.8 316 V332.3 M66.2 316 H71.39999999999999 M66.2 332.3 H71.39999999999999" stroke="#d5263d" stroke-width="1.1" fill="none"/><path d="M68.8 317.29999999999995 L71.99999999999999 322.70000000000005 L65.60000000000001 322.70000000000005Z" fill="#d5263d"/><path d="M124.3 259.3 V279 M121.7 259.3 H126.89999999999999 M121.7 279 H126.89999999999999" stroke="#d5263d" stroke-width="1.1" fill="none"/><path d="M124.3 265.09999999999997 L127.49999999999999 270.50000000000006 L121.10000000000001 270.50000000000006Z" fill="#d5263d"/><path d="M183.5 254.4 V264 M180.9 254.4 H186.1 M180.9 264 H186.1" stroke="#d5263d" stroke-width="1.1" fill="none"/><path d="M183.5 255.99999999999997 L186.7 261.40000000000003 L180.3 261.40000000000003Z" fill="#d5263d"/><path d="M198.3 251.2 V263 M195.70000000000002 251.2 H200.9 M195.70000000000002 263 H200.9" stroke="#d5263d" stroke-width="1.1" fill="none"/><path d="M198.3 254.3 L201.5 259.70000000000005 L195.10000000000002 259.70000000000005Z" fill="#d5263d"/><path d="M45.6 339.2 V348.8 M43.0 339.2 H48.2 M43.0 348.8 H48.2" stroke="#39b54a" stroke-width="1.1" fill="none"/><rect x="43.2" y="339.4" width="4.8" height="4.8" fill="#39b54a"/><path d="M68.8 313 V329.6 M66.2 313 H71.39999999999999 M66.2 329.6 H71.39999999999999" stroke="#39b54a" stroke-width="1.1" fill="none"/><rect x="66.4" y="314.59999999999997" width="4.8" height="4.8" fill="#39b54a"/><path d="M94.4 284 V297 M91.80000000000001 284 H97.0 M91.80000000000001 297 H97.0" stroke="#39b54a" stroke-width="1.1" fill="none"/><rect x="92.00000000000001" y="288.7" width="4.8" height="4.8" fill="#39b54a"/><path d="M124.3 264 V279.8 M121.7 264 H126.89999999999999 M121.7 279.8 H126.89999999999999" stroke="#39b54a" stroke-width="1.1" fill="none"/><rect x="121.9" y="269.79999999999995" width="4.8" height="4.8" fill="#39b54a"/><path d="M183.5 285.6 V299.6 M180.9 285.6 H186.1 M180.9 299.6 H186.1" stroke="#39b54a" stroke-width="1.1" fill="none"/><rect x="181.1" y="288.9" width="4.8" height="4.8" fill="#39b54a"/><path d="M198.3 285.2 V297.3 M195.70000000000002 285.2 H200.9 M195.70000000000002 297.3 H200.9" stroke="#39b54a" stroke-width="1.1" fill="none"/><rect x="195.9" y="288.2" width="4.8" height="4.8" fill="#39b54a"/><path d="M45.6 342 V356.2 M43.0 342 H48.2 M43.0 356.2 H48.2" stroke="#f9b51b" stroke-width="1.1" fill="none"/><path d="M45.6 349.40000000000003 L48.800000000000004 343.99999999999994 L42.4 343.99999999999994Z" fill="#f9b51b"/><path d="M68.8 313 V327.5 M66.2 313 H71.39999999999999 M66.2 327.5 H71.39999999999999" stroke="#f9b51b" stroke-width="1.1" fill="none"/><path d="M68.8 322.40000000000003 L71.99999999999999 316.99999999999994 L65.60000000000001 316.99999999999994Z" fill="#f9b51b"/><path d="M94.4 313.5 V324.5 M91.80000000000001 313.5 H97.0 M91.80000000000001 324.5 H97.0" stroke="#f9b51b" stroke-width="1.1" fill="none"/><path d="M94.4 320.50000000000006 L97.6 315.09999999999997 L91.20000000000002 315.09999999999997Z" fill="#f9b51b"/><path d="M124.3 301.2 V319.2 M121.7 301.2 H126.89999999999999 M121.7 319.2 H126.89999999999999" stroke="#f9b51b" stroke-width="1.1" fill="none"/><path d="M124.3 311.80000000000007 L127.49999999999999 306.4 L121.10000000000001 306.4Z" fill="#f9b51b"/><path d="M183.5 318.6 V323 M180.9 318.6 H186.1 M180.9 323 H186.1" stroke="#f9b51b" stroke-width="1.1" fill="none"/><path d="M183.5 324.00000000000006 L186.7 318.59999999999997 L180.3 318.59999999999997Z" fill="#f9b51b"/><path d="M198.3 327.5 V336.2 M195.70000000000002 327.5 H200.9 M195.70000000000002 336.2 H200.9" stroke="#f9b51b" stroke-width="1.1" fill="none"/><path d="M198.3 333.6 L201.5 328.19999999999993 L195.10000000000002 328.19999999999993Z" fill="#f9b51b"/><path d="M45.6 318.8 V354.2 M43.0 318.8 H48.2 M43.0 354.2 H48.2" stroke="#57267f" stroke-width="1.1" fill="none"/><circle cx="45.6" cy="331.9" r="2.6" fill="#57267f"/><path d="M68.8 305 V326.2 M66.2 305 H71.39999999999999 M66.2 326.2 H71.39999999999999" stroke="#57267f" stroke-width="1.1" fill="none"/><circle cx="68.8" cy="313.6" r="2.6" fill="#57267f"/><path d="M94.4 273.7 V302 M91.80000000000001 273.7 H97.0 M91.80000000000001 302 H97.0" stroke="#57267f" stroke-width="1.1" fill="none"/><circle cx="94.4" cy="284.4" r="2.6" fill="#57267f"/><path d="M124.3 262 V276 M121.7 262 H126.89999999999999 M121.7 276 H126.89999999999999" stroke="#57267f" stroke-width="1.1" fill="none"/><circle cx="124.3" cy="268.8" r="2.6" fill="#57267f"/><path d="M183.5 254.4 V285.6 M180.9 254.4 H186.1 M180.9 285.6 H186.1" stroke="#57267f" stroke-width="1.1" fill="none"/><circle cx="183.5" cy="265.6" r="2.6" fill="#57267f"/><path d="M198.3 255.4 V277.5 M195.70000000000002 255.4 H200.9 M195.70000000000002 277.5 H200.9" stroke="#57267f" stroke-width="1.1" fill="none"/><circle cx="198.3" cy="264.4" r="2.6" fill="#57267f"/><path d="M134.4 270.4 H137.7 V309.2 H134.4" fill="none" stroke="#222" stroke-width="1"/><path d="M204.2 291 H207.1 V328.8 H204.2" fill="none" stroke="#222" stroke-width="1"/><path d="M216.9 256.7 H219.2 V328.5 H216.9" fill="none" stroke="#222" stroke-width="1"/><text x="143.6" y="290.4" font-size="7" fill="#d5263d" font-weight="bold" text-anchor="middle" letter-spacing="-0.3">**</text><text x="143.6" y="296.3" font-size="7" fill="#39b54a" font-weight="bold" text-anchor="middle" letter-spacing="-0.3">**</text><text x="129.2" y="300.5" font-size="7" fill="#57267f" font-weight="bold" text-anchor="middle" letter-spacing="-0.3">**</text><text x="230" y="296.7" font-size="7" fill="#d5263d" font-weight="bold" text-anchor="middle" letter-spacing="-0.3">***</text><text x="213.5" y="312.6" font-size="7" fill="#39b54a" font-weight="bold" text-anchor="middle" letter-spacing="-0.3">**</text><text x="198" y="325" font-size="7" fill="#57267f" font-weight="bold" text-anchor="middle" letter-spacing="-0.3">**</text><line x1="224" y1="314.4" x2="237.9" y2="314.4" stroke="#57267f" stroke-width="1.3"/><circle cx="230.8" cy="314.4" r="2.8" fill="#57267f"/><text x="244.9" y="317.29999999999995" font-size="8.2" fill="#000" font-weight="normal" text-anchor="start" letter-spacing="0.05" stroke="#000" stroke-width="0.06">DMSO</text><line x1="224" y1="331.9" x2="237.9" y2="331.9" stroke="#39b54a" stroke-width="1.3"/><rect x="228.2" y="329.29999999999995" width="5.199999999999999" height="5.199999999999999" fill="#39b54a"/><text x="244.9" y="334.79999999999995" font-size="8.2" fill="#000" font-weight="normal" text-anchor="start" letter-spacing="0.05" stroke="#000" stroke-width="0.06">Ara-C</text><line x1="224" y1="349.5" x2="237.9" y2="349.5" stroke="#d5263d" stroke-width="1.3"/><path d="M230.8 346.09999999999997 L234.20000000000002 351.90000000000003 L227.4 351.90000000000003Z" fill="#d5263d"/><text x="244.9" y="352.4" font-size="8.2" fill="#000" font-weight="normal" text-anchor="start" letter-spacing="0.05" stroke="#000" stroke-width="0.06">Lercanidipine</text><line x1="224" y1="367" x2="237.9" y2="367" stroke="#f9b51b" stroke-width="1.3"/><path d="M230.8 370.40000000000003 L234.20000000000002 364.59999999999997 L227.4 364.59999999999997Z" fill="#f9b51b"/><text x="244.9" y="369.9" font-size="8.2" fill="#000" font-weight="normal" text-anchor="start" letter-spacing="0.05" stroke="#000" stroke-width="0.06">Dual targeting</text><rect x="318.3" y="222.0" width="54.40" height="37.60" fill="#070707"/><g transform="translate(318.30,222.00) scale(1.006,1.003)"><g transform="translate(0.41,0) rotate(3.4 8.75 20)"><use href="#mouse"/></g><circle cx="8.4" cy="1.8" r="1.3" fill="#7a66cc" opacity="0.7"/><ellipse cx="9.1" cy="11.3" rx="3.36" ry="3.58" fill="url(#g_hot)" filter="url(#b28)"/></g><rect x="335.90" y="222.0" width="1.0" height="37.60" fill="#d8d8d8"/><g transform="translate(336.90,222.00) scale(0.994,1.003)"><g transform="translate(0.56,0) rotate(-3.7 8.75 20)"><use href="#mouse"/></g><circle cx="8.4" cy="1.8" r="1.3" fill="#7a66cc" opacity="0.7"/><ellipse cx="5.3" cy="14.2" rx="2.91" ry="2.46" fill="url(#g_blue)" filter="url(#b28)"/></g><rect x="354.30" y="222.0" width="1.0" height="37.60" fill="#d8d8d8"/><g transform="translate(355.30,222.00) scale(0.994,1.003)"><g transform="translate(0.72,0) rotate(4.6 8.75 20)"><use href="#mouse"/></g><circle cx="8.4" cy="1.8" r="1.3" fill="#7a66cc" opacity="0.7"/><ellipse cx="11.4" cy="17.7" rx="2.46" ry="2.91" fill="url(#g_blue)" filter="url(#b28)"/></g><rect x="318.3" y="261.7" width="54.40" height="37.60" fill="#070707"/><g transform="translate(318.30,261.70) scale(1.006,1.003)"><g transform="translate(-0.11,0) rotate(0.7 8.75 20)"><use href="#mouse"/></g><circle cx="8.4" cy="1.8" r="1.3" fill="#7a66cc" opacity="0.7"/><ellipse cx="5.6" cy="12.3" rx="3.58" ry="3.14" fill="url(#g_blue)" filter="url(#b28)"/></g><rect x="335.90" y="261.7" width="1.0" height="37.60" fill="#d8d8d8"/><g transform="translate(336.90,261.70) scale(0.994,1.003)"><g transform="translate(0.10,0) rotate(-0.5 8.75 20)"><use href="#mouse"/></g><circle cx="8.4" cy="1.8" r="1.3" fill="#7a66cc" opacity="0.7"/><ellipse cx="7.0" cy="12.9" rx="4.03" ry="4.03" fill="url(#g_warm)" filter="url(#b28)"/></g><rect x="354.30" y="261.7" width="1.0" height="37.60" fill="#d8d8d8"/><g transform="translate(355.30,261.70) scale(0.994,1.003)"><g transform="translate(0.25,0) rotate(-0.3 8.75 20)"><use href="#mouse"/></g><circle cx="8.4" cy="1.8" r="1.3" fill="#7a66cc" opacity="0.7"/><ellipse cx="6.1" cy="12.3" rx="2.80" ry="3.14" fill="url(#g_blue)" filter="url(#b28)"/></g><rect x="318.3" y="301.6" width="54.40" height="37.60" fill="#070707"/><g transform="translate(318.30,301.60) scale(1.006,1.003)"><g transform="translate(0.30,0) rotate(4.1 8.75 20)"><use href="#mouse"/></g><circle cx="8.4" cy="1.8" r="1.3" fill="#7a66cc" opacity="0.7"/><ellipse cx="3.9" cy="12.2" rx="3.58" ry="3.36" fill="url(#g_blue)" filter="url(#b28)"/></g><rect x="335.90" y="301.6" width="1.0" height="37.60" fill="#d8d8d8"/><g transform="translate(336.90,301.60) scale(0.994,1.003)"><g transform="translate(0.30,0) rotate(-3.4 8.75 20)"><use href="#mouse"/></g><circle cx="8.4" cy="1.8" r="1.3" fill="#7a66cc" opacity="0.7"/><ellipse cx="5.6" cy="12.2" rx="4.03" ry="2.91" fill="url(#g_blue)" filter="url(#b28)"/></g><rect x="354.30" y="301.6" width="1.0" height="37.60" fill="#d8d8d8"/><g transform="translate(355.30,301.60) scale(0.994,1.003)"><g transform="translate(-0.58,0) rotate(4.6 8.75 20)"><use href="#mouse"/></g><circle cx="8.4" cy="1.8" r="1.3" fill="#7a66cc" opacity="0.7"/><ellipse cx="4.9" cy="13.3" rx="3.36" ry="3.14" fill="url(#g_blue)" filter="url(#b28)"/></g><rect x="318.3" y="341.3" width="54.40" height="37.40" fill="#070707"/><g transform="translate(318.30,341.30) scale(1.006,0.997)"><g transform="translate(-0.34,0) rotate(0.4 8.75 20)"><use href="#mouse"/></g><circle cx="8.4" cy="1.8" r="1.3" fill="#7a66cc" opacity="0.7"/><ellipse cx="6.8" cy="17.3" rx="3.92" ry="3.92" fill="url(#g_warm)" filter="url(#b28)"/></g><rect x="335.90" y="341.3" width="1.0" height="37.40" fill="#d8d8d8"/><g transform="translate(336.90,341.30) scale(0.994,0.997)"><g transform="translate(-0.62,0) rotate(-4.9 8.75 20)"><use href="#mouse"/></g><circle cx="8.4" cy="1.8" r="1.3" fill="#7a66cc" opacity="0.7"/><ellipse cx="6.2" cy="15.5" rx="3.36" ry="3.36" fill="url(#g_blue)" filter="url(#b28)"/></g><rect x="354.30" y="341.3" width="1.0" height="37.40" fill="#d8d8d8"/><g transform="translate(355.30,341.30) scale(0.994,0.997)"><g transform="translate(-0.46,0) rotate(-4.2 8.75 20)"><use href="#mouse"/></g><circle cx="8.4" cy="1.8" r="1.3" fill="#7a66cc" opacity="0.7"/><ellipse cx="9.0" cy="12.0" rx="2.91" ry="2.91" fill="url(#g_blue)" filter="url(#b28)"/></g><rect x="378.3" y="222.0" width="54.40" height="37.60" fill="#070707"/><g transform="translate(378.30,222.00) scale(1.006,1.003)"><g transform="translate(-0.07,0) rotate(-3.5 8.75 20)"><use href="#mouse"/></g><circle cx="8.4" cy="1.8" r="1.3" fill="#7a66cc" opacity="0.7"/><ellipse cx="7.9" cy="14.8" rx="5.15" ry="5.38" fill="url(#g_hot)" filter="url(#b28)"/></g><rect x="395.90" y="222.0" width="1.0" height="37.60" fill="#d8d8d8"/><g transform="translate(396.90,222.00) scale(0.994,1.003)"><g transform="translate(-0.49,0) rotate(0.8 8.75 20)"><use href="#mouse"/></g><circle cx="8.4" cy="1.8" r="1.3" fill="#7a66cc" opacity="0.7"/><ellipse cx="6.4" cy="11.9" rx="3.25" ry="3.25" fill="url(#g_warm)" filter="url(#b28)"/></g><rect x="414.30" y="222.0" width="1.0" height="37.60" fill="#d8d8d8"/><g transform="translate(415.30,222.00) scale(0.994,1.003)"><g transform="translate(0.19,0) rotate(-3.5 8.75 20)"><use href="#mouse"/></g><circle cx="8.4" cy="1.8" r="1.3" fill="#7a66cc" opacity="0.7"/><ellipse cx="9.6" cy="16" rx="4.48" ry="5.60" fill="url(#g_hot)" filter="url(#b28)"/></g><rect x="378.3" y="261.7" width="54.40" height="37.60" fill="#070707"/><g transform="translate(378.30,261.70) scale(1.006,1.003)"><g transform="translate(-0.18,0) rotate(4.3 8.75 20)"><use href="#mouse"/></g><circle cx="8.4" cy="1.8" r="1.3" fill="#7a66cc" opacity="0.7"/><ellipse cx="12.0" cy="14.6" rx="4.70" ry="4.70" fill="url(#g_hot)" filter="url(#b28)"/></g><rect x="395.90" y="261.7" width="1.0" height="37.60" fill="#d8d8d8"/><g transform="translate(396.90,261.70) scale(0.994,1.003)"><g transform="translate(-0.46,0) rotate(3.3 8.75 20)"><use href="#mouse"/></g><circle cx="8.4" cy="1.8" r="1.3" fill="#7a66cc" opacity="0.7"/><ellipse cx="7.0" cy="18.1" rx="4.14" ry="4.26" fill="url(#g_hot)" filter="url(#b28)"/></g><rect x="414.30" y="261.7" width="1.0" height="37.60" fill="#d8d8d8"/><g transform="translate(415.30,261.70) scale(0.994,1.003)"><g transform="translate(0.27,0) rotate(-0.2 8.75 20)"><use href="#mouse"/></g><circle cx="8.4" cy="1.8" r="1.3" fill="#7a66cc" opacity="0.7"/><ellipse cx="9.0" cy="18.1" rx="4.14" ry="4.48" fill="url(#g_warm)" filter="url(#b28)"/></g><rect x="378.3" y="301.6" width="54.40" height="37.60" fill="#070707"/><g transform="translate(378.30,301.60) scale(1.006,1.003)"><g transform="translate(-0.50,0) rotate(0.1 8.75 20)"><use href="#mouse"/></g><circle cx="8.4" cy="1.8" r="1.3" fill="#7a66cc" opacity="0.7"/><ellipse cx="7.4" cy="12.2" rx="6.50" ry="4.48" fill="url(#g_hot)" filter="url(#b28)"/></g><rect x="395.90" y="301.6" width="1.0" height="37.60" fill="#d8d8d8"/><g transform="translate(396.90,301.60) scale(0.994,1.003)"><g transform="translate(0.13,0) rotate(-4.1 8.75 20)"><use href="#mouse"/></g><circle cx="8.4" cy="1.8" r="1.3" fill="#7a66cc" opacity="0.7"/><ellipse cx="6.7" cy="12.8" rx="5.60" ry="3.92" fill="url(#g_cool)" filter="url(#b28)"/></g><rect x="414.30" y="301.6" width="1.0" height="37.60" fill="#d8d8d8"/><g transform="translate(415.30,301.60) scale(0.994,1.003)"><g transform="translate(0.16,0) rotate(0.1 8.75 20)"><use href="#mouse"/></g><circle cx="8.4" cy="1.8" r="1.3" fill="#7a66cc" opacity="0.7"/><ellipse cx="5.5" cy="11.0" rx="5.15" ry="5.15" fill="url(#g_warm)" filter="url(#b28)"/></g><rect x="378.3" y="341.3" width="54.40" height="37.40" fill="#070707"/><g transform="translate(378.30,341.30) scale(1.006,0.997)"><g transform="translate(-0.36,0) rotate(0.2 8.75 20)"><use href="#mouse"/></g><circle cx="8.4" cy="1.8" r="1.3" fill="#7a66cc" opacity="0.7"/><ellipse cx="8.6" cy="14.4" rx="3.36" ry="3.47" fill="url(#g_cool)" filter="url(#b28)"/></g><rect x="395.90" y="341.3" width="1.0" height="37.40" fill="#d8d8d8"/><g transform="translate(396.90,341.30) scale(0.994,0.997)"><g transform="translate(0.43,0) rotate(-1.8 8.75 20)"><use href="#mouse"/></g><circle cx="8.4" cy="1.8" r="1.3" fill="#7a66cc" opacity="0.7"/><ellipse cx="6.7" cy="13.8" rx="2.58" ry="2.69" fill="url(#g_blue)" filter="url(#b28)"/></g><rect x="414.30" y="341.3" width="1.0" height="37.40" fill="#d8d8d8"/><g transform="translate(415.30,341.30) scale(0.994,0.997)"><g transform="translate(-0.15,0) rotate(-0.9 8.75 20)"><use href="#mouse"/></g><circle cx="8.4" cy="1.8" r="1.3" fill="#7a66cc" opacity="0.7"/><ellipse cx="10.2" cy="15.6" rx="2.91" ry="3.14" fill="url(#g_cool)" filter="url(#b28)"/></g><rect x="438.9" y="222.0" width="54.30" height="37.60" fill="#070707"/><g transform="translate(438.90,222.00) scale(0.994,1.003)"><g transform="translate(-0.47,0) rotate(-4.5 8.75 20)"><use href="#mouse"/></g><circle cx="8.4" cy="1.8" r="1.3" fill="#7a66cc" opacity="0.7"/><ellipse cx="8.8" cy="15.4" rx="5.15" ry="5.38" fill="url(#g_hot)" filter="url(#b28)"/></g><rect x="456.30" y="222.0" width="1.0" height="37.60" fill="#d8d8d8"/><g transform="translate(457.30,222.00) scale(0.994,1.003)"><g transform="translate(-0.28,0) rotate(-4.3 8.75 20)"><use href="#mouse"/></g><circle cx="8.4" cy="1.8" r="1.3" fill="#7a66cc" opacity="0.7"/><ellipse cx="8.6" cy="12.5" rx="3.70" ry="3.58" fill="url(#g_blue)" filter="url(#b28)"/></g><rect x="474.70" y="222.0" width="1.0" height="37.60" fill="#d8d8d8"/><g transform="translate(475.70,222.00) scale(1.000,1.003)"><g transform="translate(0.23,0) rotate(2.6 8.75 20)"><use href="#mouse"/></g><circle cx="8.4" cy="1.8" r="1.3" fill="#7a66cc" opacity="0.7"/><ellipse cx="5.8" cy="12.5" rx="5.49" ry="5.15" fill="url(#g_hot)" filter="url(#b28)"/></g><rect x="438.9" y="261.7" width="54.30" height="37.60" fill="#070707"/><g transform="translate(438.90,261.70) scale(0.994,1.003)"><g transform="translate(0.29,0) rotate(-1.2 8.75 20)"><use href="#mouse"/></g><circle cx="8.4" cy="1.8" r="1.3" fill="#7a66cc" opacity="0.7"/><ellipse cx="10.5" cy="16.4" rx="2.80" ry="3.25" fill="url(#g_blue)" filter="url(#b28)"/></g><rect x="456.30" y="261.7" width="1.0" height="37.60" fill="#d8d8d8"/><g transform="translate(457.30,261.70) scale(0.994,1.003)"><g transform="translate(0.39,0) rotate(0.6 8.75 20)"><use href="#mouse"/></g><circle cx="8.4" cy="1.8" r="1.3" fill="#7a66cc" opacity="0.7"/><ellipse cx="8.6" cy="17.5" rx="3.70" ry="4.03" fill="url(#g_warm)" filter="url(#b28)"/></g><rect x="474.70" y="261.7" width="1.0" height="37.60" fill="#d8d8d8"/><g transform="translate(475.70,261.70) scale(1.000,1.003)"><g transform="translate(0.77,0) rotate(-1.0 8.75 20)"><use href="#mouse"/></g><circle cx="8.4" cy="1.8" r="1.3" fill="#7a66cc" opacity="0.7"/><ellipse cx="10.7" cy="14.4" rx="3.02" ry="3.02" fill="url(#g_cool)" filter="url(#b28)"/></g><rect x="438.9" y="301.6" width="54.30" height="37.60" fill="#070707"/><g transform="translate(438.90,301.60) scale(0.994,1.003)"><g transform="translate(-0.43,0) rotate(2.5 8.75 20)"><use href="#mouse"/></g><circle cx="8.4" cy="1.8" r="1.3" fill="#7a66cc" opacity="0.7"/><ellipse cx="7.7" cy="13.9" rx="4.37" ry="4.37" fill="url(#g_hot)" filter="url(#b28)"/></g><rect x="456.30" y="301.6" width="1.0" height="37.60" fill="#d8d8d8"/><g transform="translate(457.30,301.60) scale(0.994,1.003)"><g transform="translate(-0.65,0) rotate(-2.5 8.75 20)"><use href="#mouse"/></g><circle cx="8.4" cy="1.8" r="1.3" fill="#7a66cc" opacity="0.7"/><ellipse cx="9.5" cy="16.9" rx="4.14" ry="4.14" fill="url(#g_warm)" filter="url(#b28)"/></g><rect x="474.70" y="301.6" width="1.0" height="37.60" fill="#d8d8d8"/><g transform="translate(475.70,301.60) scale(1.000,1.003)"><g transform="translate(-0.42,0) rotate(2.8 8.75 20)"><use href="#mouse"/></g><circle cx="8.4" cy="1.8" r="1.3" fill="#7a66cc" opacity="0.7"/><ellipse cx="8.4" cy="12.7" rx="6.72" ry="5.60" fill="url(#g_warm)" filter="url(#b28)"/></g><rect x="438.9" y="341.3" width="54.30" height="37.40" fill="#070707"/><g transform="translate(438.90,341.30) scale(0.994,0.997)"><g transform="translate(-0.32,0) rotate(2.0 8.75 20)"><use href="#mouse"/></g><circle cx="8.4" cy="1.8" r="1.3" fill="#7a66cc" opacity="0.7"/><ellipse cx="5.6" cy="13.8" rx="2.46" ry="2.24" fill="url(#g_blue)" filter="url(#b28)"/></g><rect x="456.30" y="341.3" width="1.0" height="37.40" fill="#d8d8d8"/><g transform="translate(457.30,341.30) scale(0.994,0.997)"><g transform="translate(0.74,0) rotate(3.5 8.75 20)"><use href="#mouse"/></g><circle cx="8.4" cy="1.8" r="1.3" fill="#7a66cc" opacity="0.7"/><ellipse cx="6.8" cy="15.0" rx="2.46" ry="2.35" fill="url(#g_blue)" filter="url(#b28)"/></g><rect x="474.70" y="341.3" width="1.0" height="37.40" fill="#d8d8d8"/><g transform="translate(475.70,341.30) scale(1.000,0.997)"><g transform="translate(-0.43,0) rotate(-2.2 8.75 20)"><use href="#mouse"/></g><circle cx="8.4" cy="1.8" r="1.3" fill="#7a66cc" opacity="0.7"/><ellipse cx="5.2" cy="13.8" rx="2.69" ry="2.46" fill="url(#g_blue)" filter="url(#b28)"/></g><text x="345.35" y="220.7" font-size="7.1" text-anchor="middle" fill="#111" stroke="#111" stroke-width="0.1">before treatment</text><text x="405.9" y="220.7" font-size="7.1" text-anchor="middle" fill="#111" stroke="#111" stroke-width="0.1">end of treatment</text><text x="466.35" y="220.7" font-size="7.1" text-anchor="middle" fill="#111" stroke="#111" stroke-width="0.1">after withdrawal</text><text x="0" y="0" font-size="7.0" text-anchor="middle" fill="#111" stroke="#111" stroke-width="0.1" transform="translate(316.4,241.5) rotate(-90)">DMSO</text><text x="0" y="0" font-size="7.0" text-anchor="middle" fill="#111" stroke="#111" stroke-width="0.1" transform="translate(316.4,278) rotate(-90)">Ara-C</text><text x="0" y="0" font-size="7.0" text-anchor="middle" fill="#111" stroke="#111" stroke-width="0.1" transform="translate(316.4,319.5) rotate(-90)">Lercanidipine</text><text x="0" y="0" font-size="7.0" text-anchor="middle" fill="#111" stroke="#111" stroke-width="0.1" transform="translate(316.4,364.5) rotate(-90)">Dual targeting</text><rect x="317.6" y="385.8" width="175.8" height="4.3" fill="url(#cbar)" stroke="#111" stroke-width="0.7"/><line x1="321.90" y1="390.4" x2="321.90" y2="392.4" stroke="#111" stroke-width="0.8"/><line x1="329.70" y1="390.4" x2="329.70" y2="392.4" stroke="#111" stroke-width="0.8"/><line x1="337.50" y1="390.4" x2="337.50" y2="392.4" stroke="#111" stroke-width="0.8"/><line x1="345.30" y1="390.4" x2="345.30" y2="392.4" stroke="#111" stroke-width="0.8"/><line x1="353.10" y1="390.4" x2="353.10" y2="392.4" stroke="#111" stroke-width="0.8"/><line x1="360.90" y1="390.4" x2="360.90" y2="392.4" stroke="#111" stroke-width="0.8"/><line x1="368.70" y1="390.4" x2="368.70" y2="392.4" stroke="#111" stroke-width="0.8"/><line x1="376.50" y1="390.4" x2="376.50" y2="392.4" stroke="#111" stroke-width="0.8"/><line x1="384.30" y1="390.4" x2="384.30" y2="392.4" stroke="#111" stroke-width="0.8"/><line x1="392.10" y1="390.4" x2="392.10" y2="392.4" stroke="#111" stroke-width="0.8"/><line x1="399.90" y1="390.4" x2="399.90" y2="392.4" stroke="#111" stroke-width="0.8"/><line x1="407.70" y1="390.4" x2="407.70" y2="392.4" stroke="#111" stroke-width="0.8"/><line x1="415.50" y1="390.4" x2="415.50" y2="392.4" stroke="#111" stroke-width="0.8"/><line x1="423.30" y1="390.4" x2="423.30" y2="392.4" stroke="#111" stroke-width="0.8"/><line x1="431.10" y1="390.4" x2="431.10" y2="392.4" stroke="#111" stroke-width="0.8"/><line x1="438.90" y1="390.4" x2="438.90" y2="392.4" stroke="#111" stroke-width="0.8"/><line x1="446.70" y1="390.4" x2="446.70" y2="392.4" stroke="#111" stroke-width="0.8"/><line x1="454.50" y1="390.4" x2="454.50" y2="392.4" stroke="#111" stroke-width="0.8"/><line x1="462.30" y1="390.4" x2="462.30" y2="392.4" stroke="#111" stroke-width="0.8"/><line x1="470.10" y1="390.4" x2="470.10" y2="392.4" stroke="#111" stroke-width="0.8"/><line x1="477.90" y1="390.4" x2="477.90" y2="392.4" stroke="#111" stroke-width="0.8"/><line x1="485.70" y1="390.4" x2="485.70" y2="392.4" stroke="#111" stroke-width="0.8"/><text x="353.3" y="401.8" font-size="7.8" text-anchor="middle" fill="#111" stroke="#111" stroke-width="0.1">1.0</text><text x="391.5" y="401.8" font-size="7.8" text-anchor="middle" fill="#111" stroke="#111" stroke-width="0.1">2.0</text><text x="431.0" y="401.8" font-size="7.8" text-anchor="middle" fill="#111" stroke="#111" stroke-width="0.1">3.0</text><text x="469.8" y="401.8" font-size="7.8" text-anchor="middle" fill="#111" stroke="#111" stroke-width="0.1">4.0</text><text x="494.2" y="401.8" font-size="7.8" fill="#111" stroke="#111" stroke-width="0.1">× 10<tspan font-size="5" dy="-3">5</tspan></text><text x="318" y="410" font-size="7.8" fill="#111" stroke="#111" stroke-width="0.1" letter-spacing="0.05">Radiance (p/sec/cm<tspan font-size="5" dy="-3">2</tspan><tspan dy="3">/sr)</tspan></text><text x="87.95" y="450" font-size="10" text-anchor="middle" fill="#111" stroke="#111" stroke-width="0.1" letter-spacing="0.15">DMSO</text><text x="178.15" y="450" font-size="10" text-anchor="middle" fill="#111" stroke="#111" stroke-width="0.1" letter-spacing="0.15">Ara-C</text><text x="278.6" y="450" font-size="10" text-anchor="middle" fill="#111" stroke="#111" stroke-width="0.1" letter-spacing="0.15">Lercanidipine</text><text x="369.45" y="450" font-size="10" text-anchor="middle" fill="#111" stroke="#111" stroke-width="0.1" letter-spacing="0.15">Dual targeting</text><text x="0" y="0" font-size="9.8" text-anchor="middle" fill="#6b3e98" transform="translate(35.2,491) rotate(-90)">H&amp;E</text><text x="0" y="0" font-size="10.6" text-anchor="middle" fill="#c8782e" transform="translate(35.6,566.2) rotate(-90)">hOsteopontin</text><text x="0" y="0" font-size="10" text-anchor="middle" transform="translate(35.3,641) rotate(-90)"><tspan fill="#cf2a40">CD73</tspan><tspan fill="#444">/</tspan><tspan fill="#2f6fae">DAPI</tspan></text><svg x="40.0" y="454.0" width="92.0" height="68.8" viewBox="0 0 92.0 68.8" overflow="hidden"><rect width="92.0" height="68.8" fill="#c89cb4"/><rect width="92.0" height="68.8" fill="#fff" filter="url(#f32)" opacity="1"/><rect width="92.0" height="68.8" fill="#fff" filter="url(#f33)" opacity="1"/><path d="M84.5 0 L92 0 L92 69 L90.5 69 C89.5 60 89 50 88.5 40 C87.5 30 84 20 84.5 0Z" fill="#e0d8e2" filter="url(#b30)"/><ellipse cx="63.5" cy="12.3" rx="2.7" ry="2.1" fill="#7a1420"/><g transform="translate(0,28.8)"><svg width="47.5" height="40.0" overflow="hidden"><rect x="0" y="0" width="47.5" height="40.0" fill="#d6c0cc"/><rect width="47.5" height="40.0" fill="#fff" filter="url(#f31)" opacity="0.6"/><g filter="url(#b29)"><path fill="#5e143e" opacity="1.0" d="M18.2 7.3a1.1 2.1 124 1 0 -1.2 1.8a1.1 2.1 124 1 0 1.2 -1.8M3 23.6a1.2 1.7 13 1 0 2.4 .6a1.2 1.7 13 1 0 -2.4 -.6M10 .7a1 2.2 95 1 0 -.2 2.1a1 2.2 95 1 0 .2 -2.1M8.2 13.7a1.2 2 14 1 0 2.4 .6a1.2 2 14 1 0 -2.4 -.6M6.4 26.8a1 1.7 27 1 0 1.8 1a1 1.7 27 1 0 -1.8 -1M1.5 27a1.3 1.6 167 1 0 -2.6 .6a1.3 1.6 167 1 0 2.6 -.6M41.9 20.5a1.1 2 4 1 0 2.1 .2a1.1 2 4 1 0 -2.1 -.2M28.8 22.3a1.3 1.7 7 1 0 2.5 .4a1.3 1.7 7 1 0 -2.5 -.4M10.9 1.8a1.3 2.2 3 1 0 2.7 .1a1.3 2.2 3 1 0 -2.7 -.1M4 14.2a1 2.1 120 1 0 -1.1 1.8a1 2.1 120 1 0 1.1 -1.8M38.2 30.9a1.2 2 111 1 0 -.9 2.2a1.2 2 111 1 0 .9 -2.2M17.1 38.6a1.5 2.1 91 1 0 -.1 2.9a1.5 2.1 91 1 0 .1 -2.9M24 4a1.4 1.6 48 1 0 1.9 2.1a1.4 1.6 48 1 0 -1.9 -2.1M16.9 34.5a1.2 1.8 140 1 0 -1.9 1.6a1.2 1.8 140 1 0 1.9 -1.6M43.3 9.8a1.2 1.8 54 1 0 1.4 2a1.2 1.8 54 1 0 -1.4 -2M-.9 1.5a1.5 2.1 21 1 0 2.8 1.1a1.5 2.1 21 1 0 -2.8 -1.1M31.5 30.2a1.5 1.7 145 1 0 -2.4 1.7a1.5 1.7 145 1 0 2.4 -1.7M34.1 37.6a1.4 1.9 153 1 0 -2.5 1.2a1.4 1.9 153 1 0 2.5 -1.2M34.2 29.4a1.2 1.9 130 1 0 -1.5 1.8a1.2 1.9 130 1 0 1.5 -1.8M13.9 18.5a1.4 1.7 131 1 0 -1.9 2.1a1.4 1.7 131 1 0 1.9 -2.1M40.7 39.4a1.5 1.7 12 1 0 2.9 .6a1.5 1.7 12 1 0 -2.9 -.6M35.3 8.4a1.2 1.8 177 1 0 -2.3 .1a1.2 1.8 177 1 0 2.3 -.1M48.1 12.2a1.2 1.8 140 1 0 -1.8 1.5a1.2 1.8 140 1 0 1.8 -1.5"/><path fill="#8a2e5e" opacity="1.0" d="M18.9 29.6a1.3 2 151 1 0 -2.3 1.2a1.3 2 151 1 0 2.3 -1.2M13.5 3.1a1.3 1.8 88 1 0 .1 2.7a1.3 1.8 88 1 0 -.1 -2.7M35.9 26.9a1.4 2.1 126 1 0 -1.7 2.3a1.4 2.1 126 1 0 1.7 -2.3M26.8 38.2a1.1 1.8 145 1 0 -1.9 1.3a1.1 1.8 145 1 0 1.9 -1.3M23.2 36.6a1.1 1.7 102 1 0 -.5 2.2a1.1 1.7 102 1 0 .5 -2.2M17.8 38.8a1.2 2.1 119 1 0 -1.2 2.1a1.2 2.1 119 1 0 1.2 -2.1M6.7 1.7a1.2 1.7 154 1 0 -2.2 1a1.2 1.7 154 1 0 2.2 -1M42.5 40.2a1.1 1.5 111 1 0 -.8 2.1a1.1 1.5 111 1 0 .8 -2.1M35.1 24.7a1.1 1.9 16 1 0 2.1 .6a1.1 1.9 16 1 0 -2.1 -.6M27.5 5.6a1.5 1.7 42 1 0 2.2 2a1.5 1.7 42 1 0 -2.2 -2M3.4 20.8a1.3 2.1 28 1 0 2.3 1.2a1.3 2.1 28 1 0 -2.3 -1.2M1.4 38.6a1.5 1.7 62 1 0 1.3 2.6a1.5 1.7 62 1 0 -1.3 -2.6M31.1 37.1a1.3 1.5 106 1 0 -.7 2.4a1.3 1.5 106 1 0 .7 -2.4M45.6 22a1.5 2.1 154 1 0 -2.7 1.3a1.5 2.1 154 1 0 2.7 -1.3M8.3 26.4a1.2 2 42 1 0 1.8 1.6a1.2 2 42 1 0 -1.8 -1.6M7.7 14.5a1.3 2.1 31 1 0 2.2 1.4a1.3 2.1 31 1 0 -2.2 -1.4M5.9 32.6a1.4 1.6 38 1 0 2.2 1.8a1.4 1.6 38 1 0 -2.2 -1.8M36.3 5.2a1.1 1.8 22 1 0 2 .8a1.1 1.8 22 1 0 -2 -.8"/><path fill="#6e1a48" opacity="0.75" d="M47.7 40.2a1.5 1.7 124 1 0 -1.7 2.5a1.5 1.7 124 1 0 1.7 -2.5M2 11.5a1.3 1.9 159 1 0 -2.5 .9a1.3 1.9 159 1 0 2.5 -.9M24.5 36.5a1.3 1.7 11 1 0 2.6 .5a1.3 1.7 11 1 0 -2.6 -.5M26.5 4a1.5 2.1 49 1 0 1.9 2.2a1.5 2.1 49 1 0 -1.9 -2.2M38.7 39.1a1.1 2.2 63 1 0 1 1.9a1.1 2.2 63 1 0 -1 -1.9M35.5 5.4a1.2 1.9 39 1 0 1.9 1.6a1.2 1.9 39 1 0 -1.9 -1.6M32.5 16.3a1.2 2 86 1 0 .1 2.4a1.2 2 86 1 0 -.1 -2.4M29.9 41.1a1.5 2.1 152 1 0 -2.6 1.4a1.5 2.1 152 1 0 2.6 -1.4M25.4 27.9a1.3 1.8 100 1 0 -.5 2.6a1.3 1.8 100 1 0 .5 -2.6"/><path fill="#7a2252" opacity="1.0" d="M36.5 2.4a1.3 1.6 123 1 0 -1.5 2.2a1.3 1.6 123 1 0 1.5 -2.2M33.1 30.8a1.3 1.8 173 1 0 -2.6 .3a1.3 1.8 173 1 0 2.6 -.3M37.6 10.2a1.2 1.6 38 1 0 1.9 1.5a1.2 1.6 38 1 0 -1.9 -1.5M5.2 13.9a1.4 2.1 133 1 0 -1.9 2a1.4 2.1 133 1 0 1.9 -2M25 19.8a1.5 2.1 5 1 0 3 .3a1.5 2.1 5 1 0 -3 -.3M14 31.8a1.3 1.7 106 1 0 -.8 2.6a1.3 1.7 106 1 0 .8 -2.6M17.8 19.9a1.5 1.9 2 1 0 2.9 .1a1.5 1.9 2 1 0 -2.9 -.1M27.2 27.6a1.2 1.9 34 1 0 2.1 1.4a1.2 1.9 34 1 0 -2.1 -1.4M9.4 37.2a1.5 2.1 161 1 0 -2.8 1a1.5 2.1 161 1 0 2.8 -1M45.1 32.6a1.4 2.2 63 1 0 1.2 2.5a1.4 2.2 63 1 0 -1.2 -2.5M9.5 38.5a1.3 2.1 132 1 0 -1.8 1.9a1.3 2.1 132 1 0 1.8 -1.9M36.6 26.2a1.3 2.1 90 1 0 0 2.6a1.3 2.1 90 1 0 0 -2.6M33.5 35.4a1 1.9 50 1 0 1.3 1.6a1 1.9 50 1 0 -1.3 -1.6M-.3 25.2a1 2.2 34 1 0 1.7 1.2a1 2.2 34 1 0 -1.7 -1.2M34.3 5.2a1.4 2.2 137 1 0 -2 1.8a1.4 2.2 137 1 0 2 -1.8M42.1 32.4a1.2 2 148 1 0 -2 1.3a1.2 2 148 1 0 2 -1.3M25.3 15.4a1.3 1.6 11 1 0 2.5 .5a1.3 1.6 11 1 0 -2.5 -.5M9.4 15.9a1.2 1.6 79 1 0 .4 2.3a1.2 1.6 79 1 0 -.4 -2.3M27 36.1a1.2 2.2 62 1 0 1.1 2.1a1.2 2.2 62 1 0 -1.1 -2.1M1.7 16.2a1.1 1.9 76 1 0 .5 2.2a1.1 1.9 76 1 0 -.5 -2.2M5.6 38.5a1.1 1.9 32 1 0 1.8 1.2a1.1 1.9 32 1 0 -1.8 -1.2"/><path fill="#6e1a48" opacity="1.0" d="M31.9 19.7a1.3 1.6 141 1 0 -2.1 1.7a1.3 1.6 141 1 0 2.1 -1.7M5.4 .8a1.4 1.7 56 1 0 1.6 2.4a1.4 1.7 56 1 0 -1.6 -2.4M7.2 26.4a1.1 1.7 48 1 0 1.5 1.7a1.1 1.7 48 1 0 -1.5 -1.7M1.7 8.4a1.3 1.6 98 1 0 -.4 2.5a1.3 1.6 98 1 0 .4 -2.5M32.3 20.2a1.3 1.8 8 1 0 2.5 .4a1.3 1.8 8 1 0 -2.5 -.4M31.5 17.5a1 2.1 144 1 0 -1.7 1.2a1 2.1 144 1 0 1.7 -1.2M21.7 15.9a1.1 1.5 111 1 0 -.8 2.1a1.1 1.5 111 1 0 .8 -2.1M3.2 3.6a1 2 119 1 0 -1 1.8a1 2 119 1 0 1 -1.8M3.2 39.4a1.2 1.7 0 1 0 2.4 0a1.2 1.7 0 1 0 -2.4 0M19.3 25.8a1.4 1.9 35 1 0 2.3 1.6a1.4 1.9 35 1 0 -2.3 -1.6M17.8 41.2a1.1 1.8 170 1 0 -2.1 .4a1.1 1.8 170 1 0 2.1 -.4M44.9 15.3a1.2 1.6 96 1 0 -.2 2.3a1.2 1.6 96 1 0 .2 -2.3M36.5 -1.8a1.2 1.6 66 1 0 1 2.2a1.2 1.6 66 1 0 -1 -2.2M48.2 13.9a1.1 1.6 48 1 0 1.4 1.7a1.1 1.6 48 1 0 -1.4 -1.7M42.4 32.5a1.3 1.9 133 1 0 -1.8 1.9a1.3 1.9 133 1 0 1.8 -1.9M14.7 2.2a1.1 1.9 81 1 0 .3 2.1a1.1 1.9 81 1 0 -.3 -2.1M-2.3 37.4a1 1.8 16 1 0 1.9 .6a1 1.8 16 1 0 -1.9 -.6M6.6 24.9a1.3 2.1 60 1 0 1.3 2.2a1.3 2.1 60 1 0 -1.3 -2.2M33.5 31.2a1.3 2 130 1 0 -1.7 2a1.3 2 130 1 0 1.7 -2M16.5 29.2a1.5 1.5 15 1 0 2.8 .8a1.5 1.5 15 1 0 -2.8 -.8M19.7 25.7a1.4 2 36 1 0 2.2 1.7a1.4 2 36 1 0 -2.2 -1.7"/><path fill="#8a2e5e" opacity="0.75" d="M13.3 8.4a1.2 1.7 127 1 0 -1.4 1.9a1.2 1.7 127 1 0 1.4 -1.9M46.4 9.4a1.4 2 30 1 0 2.5 1.4a1.4 2 30 1 0 -2.5 -1.4M30.8 -.9a1.1 1.7 31 1 0 1.9 1.1a1.1 1.7 31 1 0 -1.9 -1.1M8.7 27.3a1.3 1.5 150 1 0 -2.3 1.3a1.3 1.5 150 1 0 2.3 -1.3M45 6.8a1 1.9 15 1 0 1.9 .5a1 1.9 15 1 0 -1.9 -.5M22.2 2.3a1.1 2 170 1 0 -2.2 .4a1.1 2 170 1 0 2.2 -.4M39.2 37.1a1.3 1.9 155 1 0 -2.3 1.1a1.3 1.9 155 1 0 2.3 -1.1M50.5 8.7a1.1 1.9 164 1 0 -2.1 .6a1.1 1.9 164 1 0 2.1 -.6M28.8 38.1a1.5 1.8 150 1 0 -2.5 1.4a1.5 1.8 150 1 0 2.5 -1.4"/><path fill="#7a2252" opacity="0.75" d="M1.8 33.4a1.4 2 136 1 0 -2 1.9a1.4 2 136 1 0 2 -1.9M37.8 .6a1 2 63 1 0 .9 1.9a1 2 63 1 0 -.9 -1.9M2 40.5a1.2 2.2 53 1 0 1.4 1.9a1.2 2.2 53 1 0 -1.4 -1.9M30.6 3.5a1.1 1.9 117 1 0 -1.1 2a1.1 1.9 117 1 0 1.1 -2M24.6 18.3a1 1.5 121 1 0 -1.1 1.8a1 1.5 121 1 0 1.1 -1.8M45.7 31.3a1.3 2.1 76 1 0 .6 2.5a1.3 2.1 76 1 0 -.6 -2.5M3.3 12.6a1.5 1.6 137 1 0 -2.2 2a1.5 1.6 137 1 0 2.2 -2M31.4 18a1.1 1.9 50 1 0 1.3 1.6a1.1 1.9 50 1 0 -1.3 -1.6M-2.1 .5a1 2.1 83 1 0 .2 2a1 2.1 83 1 0 -.2 -2M36.1 26.9a1.4 2 157 1 0 -2.5 1a1.4 2 157 1 0 2.5 -1M37.6 18.8a1.2 1.8 166 1 0 -2.4 .6a1.2 1.8 166 1 0 2.4 -.6"/><path fill="#5e143e" opacity="0.75" d="M24.2 4.9a1 1.8 82 1 0 .3 2.1a1 1.8 82 1 0 -.3 -2.1M41.3 39.9a1.5 2 170 1 0 -2.9 .5a1.5 2 170 1 0 2.9 -.5M39.4 37.6a1.1 1.7 52 1 0 1.4 1.8a1.1 1.7 52 1 0 -1.4 -1.8M6.5 25.8a1.5 1.6 97 1 0 -.4 2.9a1.5 1.6 97 1 0 .4 -2.9M28.2 3.1a1.3 1.5 59 1 0 1.3 2.2a1.3 1.5 59 1 0 -1.3 -2.2M.8 20.9a1.1 2.1 92 1 0 -.1 2.2a1.1 2.1 92 1 0 .1 -2.2"/></g></svg><path d="M0 0.5 H48.0 V40.0" fill="none" stroke="#fff" stroke-width="1.1"/></g></svg><svg x="134.9" y="454.0" width="91.9" height="68.8" viewBox="0 0 91.9 68.8" overflow="hidden"><rect width="91.9" height="68.8" fill="#c391be"/><g fill="#ead8ea" filter="url(#b30)"><ellipse cx="50" cy="6" rx="3.5" ry="3"/><ellipse cx="68" cy="9" rx="3" ry="3"/><ellipse cx="53" cy="18" rx="3" ry="2.5"/><ellipse cx="88" cy="30" rx="3" ry="3"/></g><rect width="91.9" height="68.8" fill="#fff" filter="url(#f35)" opacity="1"/><rect width="91.9" height="68.8" fill="#fff" filter="url(#f36)" opacity="1"/><g transform="translate(0,28.8)"><svg width="47.5" height="40.0" overflow="hidden"><rect x="0" y="0" width="47.5" height="40.0" fill="#cc9cc6"/><rect width="47.5" height="40.0" fill="#fff" filter="url(#f34)" opacity="0.6"/><g filter="url(#b29)"><path fill="#a04a9a" opacity="1.0" d="M1.2 27.7a1.5 2.3 142 1 0 -2.4 1.8a1.5 2.3 142 1 0 2.4 -1.8M30.6 24.5a1.8 2.4 170 1 0 -3.6 .6a1.8 2.4 170 1 0 3.6 -.6M3.3 20a1.6 2.6 61 1 0 1.5 2.8a1.6 2.6 61 1 0 -1.5 -2.8M11.6 .9a1.8 2.7 142 1 0 -2.8 2.1a1.8 2.7 142 1 0 2.8 -2.1M21.8 12.1a2.2 2 145 1 0 -3.6 2.5a2.2 2 145 1 0 3.6 -2.5M25.5 24.9a1.8 1.9 40 1 0 2.7 2.3a1.8 1.9 40 1 0 -2.7 -2.3M9.7 8.2a1.5 1.9 55 1 0 1.7 2.4a1.5 1.9 55 1 0 -1.7 -2.4M-.1 -.6a2.1 2.2 106 1 0 -1.2 4.1a2.1 2.2 106 1 0 1.2 -4.1M29.6 25.9a1.6 2.2 62 1 0 1.5 2.8a1.6 2.2 62 1 0 -1.5 -2.8"/><path fill="#a04a9a" opacity="0.75" d="M17 -.2a1.5 1.9 28 1 0 2.6 1.4a1.5 1.9 28 1 0 -2.6 -1.4M50.6 32.9a1.9 2.4 152 1 0 -3.4 1.8a1.9 2.4 152 1 0 3.4 -1.8M31.7 9a2.1 2.5 78 1 0 .9 4.1a2.1 2.5 78 1 0 -.9 -4.1M23.1 1.5a1.7 2.1 69 1 0 1.1 3.1a1.7 2.1 69 1 0 -1.1 -3.1M13.9 33.5a1.6 2.6 54 1 0 1.8 2.5a1.6 2.6 54 1 0 -1.8 -2.5M-.4 28.2a1.8 1.9 130 1 0 -2.3 2.7a1.8 1.9 130 1 0 2.3 -2.7M14 23.6a2 2.4 143 1 0 -3.3 2.4a2 2.4 143 1 0 3.3 -2.4M47.9 27.8a1.7 2.1 132 1 0 -2.3 2.5a1.7 2.1 132 1 0 2.3 -2.5M43 -1.8a1.5 2.5 99 1 0 -.5 2.9a1.5 2.5 99 1 0 .5 -2.9M38.7 40.3a1.7 2.7 50 1 0 2.1 2.6a1.7 2.7 50 1 0 -2.1 -2.6M9.5 39a1.6 2.2 22 1 0 3 1.3a1.6 2.2 22 1 0 -3 -1.3M25.9 16.3a1.8 2.3 149 1 0 -3.2 1.9a1.8 2.3 149 1 0 3.2 -1.9M10 26.1a1.4 2.6 30 1 0 2.4 1.5a1.4 2.6 30 1 0 -2.4 -1.5M38.6 26.8a1.8 1.9 22 1 0 3.3 1.4a1.8 1.9 22 1 0 -3.3 -1.4M.4 32.5a2.1 2.7 130 1 0 -2.8 3.2a2.1 2.7 130 1 0 2.8 -3.2M20.9 24.9a1.8 2.2 74 1 0 1 3.6a1.8 2.2 74 1 0 -1 -3.6M15.6 34.9a2.2 2.2 96 1 0 -.5 4.3a2.2 2.2 96 1 0 .5 -4.3M45 20.1a2.1 2.8 4 1 0 4.1 .4a2.1 2.8 4 1 0 -4.1 -.4M21 16.4a1.9 2.5 23 1 0 3.5 1.5a1.9 2.5 23 1 0 -3.5 -1.5"/><path fill="#3a1040" opacity="0.75" d="M2.5 14.6a2.2 2.1 11 1 0 4.3 .9a2.2 2.1 11 1 0 -4.3 -.9M38.8 -1.6a1.9 2.2 108 1 0 -1.2 3.5a1.9 2.2 108 1 0 1.2 -3.5M29.3 17.3a2 2.8 173 1 0 -3.9 .4a2 2.8 173 1 0 3.9 -.4M25.6 15.6a2.2 2.1 171 1 0 -4.3 .7a2.2 2.1 171 1 0 4.3 -.7M50.6 34.4a2.1 1.9 128 1 0 -2.7 3.3a2.1 1.9 128 1 0 2.7 -3.3M47 41.6a1.9 2.7 168 1 0 -3.6 .7a1.9 2.7 168 1 0 3.6 -.7M32.9 -2.4a1.7 2.1 35 1 0 2.7 1.9a1.7 2.1 35 1 0 -2.7 -1.9M34.4 37.9a2.2 2.7 38 1 0 3.4 2.7a2.2 2.7 38 1 0 -3.4 -2.7"/><path fill="#9a4a98" opacity="1.0" d="M1.3 37.4a2.1 2.1 94 1 0 -.3 4.1a2.1 2.1 94 1 0 .3 -4.1M37.1 36.7a1.7 2.3 30 1 0 2.9 1.7a1.7 2.3 30 1 0 -2.9 -1.7M25.8 10.7a2 2.2 26 1 0 3.5 1.7a2 2.2 26 1 0 -3.5 -1.7M45.6 22.7a1.6 1.9 27 1 0 2.8 1.5a1.6 1.9 27 1 0 -2.8 -1.5M33.5 13.6a1.7 2.2 84 1 0 .3 3.4a1.7 2.2 84 1 0 -.3 -3.4M33.2 26.3a1.8 2.3 64 1 0 1.6 3.3a1.8 2.3 64 1 0 -1.6 -3.3M6.9 35.2a1.7 1.9 15 1 0 3.3 .9a1.7 1.9 15 1 0 -3.3 -.9M18.9 33.8a1.8 1.8 27 1 0 3.2 1.7a1.8 1.8 27 1 0 -3.2 -1.7M28.9 7.8a2 2.3 41 1 0 2.9 2.6a2 2.3 41 1 0 -2.9 -2.6M11 12.5a1.7 1.9 107 1 0 -1.1 3.3a1.7 1.9 107 1 0 1.1 -3.3M12.3 8.9a1.7 2.2 38 1 0 2.6 2.1a1.7 2.2 38 1 0 -2.6 -2.1M41.8 25.2a1.5 2.4 74 1 0 .8 2.9a1.5 2.4 74 1 0 -.8 -2.9M36.2 34.4a1.9 2.5 109 1 0 -1.2 3.5a1.9 2.5 109 1 0 1.2 -3.5M10.9 36.6a1.7 2.6 74 1 0 .9 3.2a1.7 2.6 74 1 0 -.9 -3.2M3.5 35.6a1.7 2.7 145 1 0 -2.8 1.9a1.7 2.7 145 1 0 2.8 -1.9M39.8 -.3a1.5 2.5 14 1 0 2.9 .8a1.5 2.5 14 1 0 -2.9 -.8M47.7 34.5a1.9 2.5 169 1 0 -3.7 .7a1.9 2.5 169 1 0 3.7 -.7M21.2 2a1.5 1.9 111 1 0 -1.1 2.7a1.5 1.9 111 1 0 1.1 -2.7M4.8 3.5a1.8 1.8 175 1 0 -3.6 .3a1.8 1.8 175 1 0 3.6 -.3M9.4 16a1.8 2.4 157 1 0 -3.4 1.4a1.8 2.4 157 1 0 3.4 -1.4"/><path fill="#a855a5" opacity="0.75" d="M48.5 23.2a1.5 1.9 119 1 0 -1.5 2.5a1.5 1.9 119 1 0 1.5 -2.5M12.1 23.5a1.8 1.8 159 1 0 -3.4 1.3a1.8 1.8 159 1 0 3.4 -1.3M14.9 13.5a1.4 2.2 128 1 0 -1.8 2.2a1.4 2.2 128 1 0 1.8 -2.2M1.2 -3.6a1.6 2.8 99 1 0 -.6 3.2a1.6 2.8 99 1 0 .6 -3.2M10.4 15.5a1.6 2.7 150 1 0 -2.8 1.6a1.6 2.7 150 1 0 2.8 -1.6"/><path fill="#8a3a88" opacity="1.0" d="M46 40.5a1.5 2.5 162 1 0 -2.9 .9a1.5 2.5 162 1 0 2.9 -.9M34.9 2.8a1.6 2.5 115 1 0 -1.3 2.9a1.6 2.5 115 1 0 1.3 -2.9M11.1 5.2a2.2 2.4 163 1 0 -4.1 1.2a2.2 2.4 163 1 0 4.1 -1.2M.3 23.6a1.8 2.7 121 1 0 -1.9 3.1a1.8 2.7 121 1 0 1.9 -3.1M45.3 16.2a1.7 2 129 1 0 -2.2 2.7a1.7 2 129 1 0 2.2 -2.7M42.7 -1.3a2 1.9 81 1 0 .6 3.9a2 1.9 81 1 0 -.6 -3.9M32.4 34.5a1.7 2.2 78 1 0 .7 3.3a1.7 2.2 78 1 0 -.7 -3.3M28 2.5a2 2.6 159 1 0 -3.8 1.4a2 2.6 159 1 0 3.8 -1.4M12.3 -1.5a1.7 2.2 0 1 0 3.4 0a1.7 2.2 0 1 0 -3.4 0M35 38.6a2 2 119 1 0 -1.9 3.4a2 2 119 1 0 1.9 -3.4M24.9 -2.4a1.6 2.3 129 1 0 -2.1 2.5a1.6 2.3 129 1 0 2.1 -2.5M31.2 .4a2 2.6 159 1 0 -3.8 1.4a2 2.6 159 1 0 3.8 -1.4M42.7 18.5a1.7 2.6 30 1 0 3 1.7a1.7 2.6 30 1 0 -3 -1.7M40 34.7a1.8 2.4 52 1 0 2.2 2.9a1.8 2.4 52 1 0 -2.2 -2.9M49.8 7.7a1.6 2.4 167 1 0 -3.2 .7a1.6 2.4 167 1 0 3.2 -.7"/><path fill="#3a1040" opacity="1.0" d="M.9 -1.7a2 2.6 34 1 0 3.2 2.3a2 2.6 34 1 0 -3.2 -2.3M17.1 23.9a1.7 2.6 9 1 0 3.4 .6a1.7 2.6 9 1 0 -3.4 -.6M13.6 31.8a2.2 2.6 10 1 0 4.3 .8a2.2 2.6 10 1 0 -4.3 -.8M2.9 -1.3a1.8 2.4 164 1 0 -3.5 1a1.8 2.4 164 1 0 3.5 -1M21.4 21.8a1.7 2.2 12 1 0 3.4 .8a1.7 2.2 12 1 0 -3.4 -.8M45.6 36.1a1.6 2.8 131 1 0 -2.1 2.4a1.6 2.8 131 1 0 2.1 -2.4M42.9 14.5a1.8 2.8 19 1 0 3.4 1.2a1.8 2.8 19 1 0 -3.4 -1.2M15 2a1.7 2.3 17 1 0 3.3 1a1.7 2.3 17 1 0 -3.3 -1M10.1 25.8a1.8 2.1 1 1 0 3.7 .1a1.8 2.1 1 1 0 -3.7 -.1M13.7 8.6a1.7 2.4 125 1 0 -2 2.8a1.7 2.4 125 1 0 2 -2.8M1.1 15.2a1.5 2.5 166 1 0 -2.9 .7a1.5 2.5 166 1 0 2.9 -.7M2.5 6.1a2 2.6 75 1 0 1 3.8a2 2.6 75 1 0 -1 -3.8M11.8 36.7a1.9 2.3 136 1 0 -2.7 2.6a1.9 2.3 136 1 0 2.7 -2.6M12 11.3a1.9 2.1 130 1 0 -2.5 2.9a1.9 2.1 130 1 0 2.5 -2.9M24.7 33a2 1.8 103 1 0 -.9 3.9a2 1.8 103 1 0 .9 -3.9"/><path fill="#a855a5" opacity="1.0" d="M9.1 34.2a2 2.8 172 1 0 -3.9 .5a2 2.8 172 1 0 3.9 -.5M1.8 7.1a1.9 2.2 18 1 0 3.5 1.2a1.9 2.2 18 1 0 -3.5 -1.2M18.3 11.1a1.6 1.9 124 1 0 -1.8 2.6a1.6 1.9 124 1 0 1.8 -2.6M19.5 12.1a1.8 2.7 90 1 0 0 3.5a1.8 2.7 90 1 0 0 -3.5M45.6 7a1.7 2 175 1 0 -3.4 .3a1.7 2 175 1 0 3.4 -.3M-2.7 21a2.1 2.5 67 1 0 1.6 4a2.1 2.5 67 1 0 -1.6 -4M17.3 19.1a1.5 2.7 39 1 0 2.4 1.9a1.5 2.7 39 1 0 -2.4 -1.9M19.9 11.1a2.1 2 21 1 0 4 1.6a2.1 2 21 1 0 -4 -1.6M35.7 25.4a2 2.5 70 1 0 1.4 3.8a2 2.5 70 1 0 -1.4 -3.8M37.2 28.5a2 2.2 132 1 0 -2.7 3a2 2.2 132 1 0 2.7 -3M-1.1 4.4a1.9 2 98 1 0 -.6 3.8a1.9 2 98 1 0 .6 -3.8"/><path fill="#9a4a98" opacity="0.75" d="M44 25.4a2.1 2.4 19 1 0 3.9 1.4a2.1 2.4 19 1 0 -3.9 -1.4M42.6 5.2a2.1 1.9 18 1 0 4 1.4a2.1 1.9 18 1 0 -4 -1.4M28.2 12.9a1.7 2.4 87 1 0 .1 3.3a1.7 2.4 87 1 0 -.1 -3.3M49.3 5.9a1.4 2.4 102 1 0 -.6 2.7a1.4 2.4 102 1 0 .6 -2.7M37.4 28.9a1.8 1.9 134 1 0 -2.5 2.6a1.8 1.9 134 1 0 2.5 -2.6M27.7 17.6a1.8 2.6 14 1 0 3.5 .9a1.8 2.6 14 1 0 -3.5 -.9M20.1 33.9a2.2 2.1 109 1 0 -1.4 4.1a2.2 2.1 109 1 0 1.4 -4.1M45.7 8.4a2.2 2.6 49 1 0 2.8 3.3a2.2 2.6 49 1 0 -2.8 -3.3M31.9 9.9a1.5 2.2 3 1 0 2.9 .2a1.5 2.2 3 1 0 -2.9 -.2"/><path fill="#8a3a88" opacity="0.75" d="M.8 3.3a2.2 2.2 82 1 0 .6 4.4a2.2 2.2 82 1 0 -.6 -4.4M10.2 38.5a1.5 2.4 4 1 0 2.9 .2a1.5 2.4 4 1 0 -2.9 -.2M44.3 24.5a1.6 2.6 19 1 0 3 1.1a1.6 2.6 19 1 0 -3 -1.1M24 17.2a2 1.8 3 1 0 4 .2a2 1.8 3 1 0 -4 -.2M37.3 34.6a1.4 2.4 52 1 0 1.7 2.3a1.4 2.4 52 1 0 -1.7 -2.3M4.7 32.5a1.7 2.8 80 1 0 .6 3.3a1.7 2.8 80 1 0 -.6 -3.3M10.7 38.9a2.1 2.5 7 1 0 4.2 .5a2.1 2.5 7 1 0 -4.2 -.5M-.5 20.5a1.5 2.1 93 1 0 -.2 3.1a1.5 2.1 93 1 0 .2 -3.1M20.7 22.6a1.4 2.3 59 1 0 1.4 2.5a1.4 2.3 59 1 0 -1.4 -2.5"/></g></svg><path d="M0 0.5 H48.0 V40.0" fill="none" stroke="#fff" stroke-width="1.1"/></g></svg><svg x="229.0" y="454.0" width="92.4" height="68.8" viewBox="0 0 92.4 68.8" overflow="hidden"><rect width="92.4" height="68.8" fill="#cc9fba"/><rect width="92.4" height="68.8" fill="#fff" filter="url(#f38)" opacity="1"/><rect width="92.4" height="68.8" fill="#fff" filter="url(#f39)" opacity="1"/><path d="M56 0 L92.4 0 L92.4 40 C86 35 80 30 73 24 C67 17 61 9 56 0Z" fill="#ebe5eb" opacity="0.92" filter="url(#b30)"/><g filter="url(#b29)"><path fill="#503050" opacity="0.75" d="M83.4 23a1 .8 155 1 0 -1.8 .8a1 .8 155 1 0 1.8 -.8M52.2 -2.2a.6 .6 101 1 0 -.3 1.3a.6 .6 101 1 0 .3 -1.3M75.1 24.2a.7 1 75 1 0 .3 1.3a.7 1 75 1 0 -.3 -1.3M44.4 .6a.7 .6 116 1 0 -.6 1.2a.7 .6 116 1 0 .6 -1.2M72.3 16.8a.8 .9 92 1 0 -.1 1.6a.8 .9 92 1 0 .1 -1.6M77.5 28.2a.9 .6 137 1 0 -1.4 1.2a.9 .6 137 1 0 1.4 -1.2M88.8 32.4a1 .5 148 1 0 -1.6 1a1 .5 148 1 0 1.6 -1M89.1 32.1a1 1 3 1 0 2 .1a1 1 3 1 0 -2 -.1M82.2 32.4a.8 .6 61 1 0 .7 1.4a.8 .6 61 1 0 -.7 -1.4M67.9 10.7a.9 .8 111 1 0 -.7 1.7a.9 .8 111 1 0 .7 -1.7M59.4 1.9a.8 .6 25 1 0 1.4 .7a.8 .6 25 1 0 -1.4 -.7M42.7 -.8a.5 .9 113 1 0 -.4 1a.5 .9 113 1 0 .4 -1M74.3 13.6a.8 .9 21 1 0 1.5 .6a.8 .9 21 1 0 -1.5 -.6M84.6 20.9a.5 .6 116 1 0 -.5 .9a.5 .6 116 1 0 .5 -.9M70.9 16a.6 .9 172 1 0 -1.2 .2a.6 .9 172 1 0 1.2 -.2M70.8 14.1a.7 .7 177 1 0 -1.5 .1a.7 .7 177 1 0 1.5 -.1M93.8 38.5a.9 .7 136 1 0 -1.3 1.2a.9 .7 136 1 0 1.3 -1.2M57.8 -.1a.5 .6 76 1 0 .2 1a.5 .6 76 1 0 -.2 -1M47.6 9.1a.9 .5 13 1 0 1.8 .4a.9 .5 13 1 0 -1.8 -.4"/><path fill="#402040" opacity="0.75" d="M87 34a.9 .7 52 1 0 1.1 1.4a.9 .7 52 1 0 -1.1 -1.4M84 20.5a.7 .6 88 1 0 0 1.4a.7 .6 88 1 0 0 -1.4M72.2 11.6a.6 .7 154 1 0 -1.1 .5a.6 .7 154 1 0 1.1 -.5M89.5 36.3a.8 .8 64 1 0 .7 1.4a.8 .8 64 1 0 -.7 -1.4M81 30.8a.9 .6 125 1 0 -1.1 1.5a.9 .6 125 1 0 1.1 -1.5M71.8 20.8a.7 .7 174 1 0 -1.3 .1a.7 .7 174 1 0 1.3 -.1M61.4 16.5a.7 1 108 1 0 -.4 1.3a.7 1 108 1 0 .4 -1.3M54.1 7.1a.5 .8 153 1 0 -.9 .5a.5 .8 153 1 0 .9 -.5M90.7 31.4a.5 .8 179 1 0 -1 0a.5 .8 179 1 0 1 0M85.9 34.9a1 .7 41 1 0 1.4 1.3a1 .7 41 1 0 -1.4 -1.3M70.6 18.9a.6 1 146 1 0 -.9 .6a.6 1 146 1 0 .9 -.6M63.5 11.1a.9 .6 136 1 0 -1.4 1.3a.9 .6 136 1 0 1.4 -1.3M72.4 12.7a.9 .6 110 1 0 -.6 1.6a.9 .6 110 1 0 .6 -1.6M50.7 2.7a.7 .7 71 1 0 .4 1.3a.7 .7 71 1 0 -.4 -1.3M66 4.9a.5 .9 74 1 0 .3 1a.5 .9 74 1 0 -.3 -1M61.5 8a.7 1 143 1 0 -1.1 .8a.7 1 143 1 0 1.1 -.8M82 28.2a.6 .6 36 1 0 1 .7a.6 .6 36 1 0 -1 -.7M76.8 22.6a.8 .8 151 1 0 -1.4 .7a.8 .8 151 1 0 1.4 -.7"/><path fill="#604060" opacity="0.75" d="M90.4 29.7a.7 .9 80 1 0 .2 1.3a.7 .9 80 1 0 -.2 -1.3M56.2 7.3a.8 .8 20 1 0 1.5 .6a.8 .8 20 1 0 -1.5 -.6M79 28.2a.7 .8 131 1 0 -.9 1.1a.7 .8 131 1 0 .9 -1.1M78.6 21.5a.5 .7 90 1 0 0 1a.5 .7 90 1 0 0 -1M73.7 25.6a1 .9 44 1 0 1.4 1.4a1 .9 44 1 0 -1.4 -1.4M87.8 32.3a.9 .7 178 1 0 -1.7 0a.9 .7 178 1 0 1.7 0M92.7 39.9a1 .9 170 1 0 -1.9 .3a1 .9 170 1 0 1.9 -.3M56.5 -.3a.8 .7 128 1 0 -1 1.3a.8 .7 128 1 0 1 -1.3M53.7 .9a.7 .6 67 1 0 .6 1.3a.7 .6 67 1 0 -.6 -1.3M70.3 19.6a.5 .9 136 1 0 -.8 .7a.5 .9 136 1 0 .8 -.7M82.9 32.1a.5 .8 13 1 0 1 .2a.5 .8 13 1 0 -1 -.2M89.9 26.3a.9 .9 93 1 0 -.1 1.9a.9 .9 93 1 0 .1 -1.9M91.1 37.9a.9 .5 4 1 0 1.8 .1a.9 .5 4 1 0 -1.8 -.1"/><path fill="#503050" opacity="0.5" d="M46.7 5.2a1 .5 172 1 0 -1.9 .2a1 .5 172 1 0 1.9 -.2M45.1 1a.7 .8 125 1 0 -.8 1.1a.7 .8 125 1 0 .8 -1.1M80.6 23.5a1 .8 177 1 0 -1.9 .1a1 .8 177 1 0 1.9 -.1M84.2 33.8a.6 .7 12 1 0 1.2 .3a.6 .7 12 1 0 -1.2 -.3"/><path fill="#503050" opacity="1.0" d="M65 12.9a.9 .5 75 1 0 .4 1.7a.9 .5 75 1 0 -.4 -1.7M78.5 25.9a.9 .7 120 1 0 -.9 1.5a.9 .7 120 1 0 .9 -1.5M89.2 23.5a.7 .9 45 1 0 .9 .9a.7 .9 45 1 0 -.9 -.9M77.7 18a.9 1 150 1 0 -1.5 .9a.9 1 150 1 0 1.5 -.9M64 7.4a.7 .9 135 1 0 -1 1a.7 .9 135 1 0 1 -1"/><path fill="#402040" opacity="0.5" d="M82 30.9a.6 .6 68 1 0 .5 1.2a.6 .6 68 1 0 -.5 -1.2"/><path fill="#604060" opacity="1.0" d="M73.4 10.9a.8 .8 165 1 0 -1.5 .4a.8 .8 165 1 0 1.5 -.4M83.9 34a.6 .7 57 1 0 .6 1a.6 .7 57 1 0 -.6 -1M74.4 10.4a.5 .6 145 1 0 -.8 .6a.5 .6 145 1 0 .8 -.6M58.8 5.9a.8 .7 91 1 0 0 1.7a.8 .7 91 1 0 0 -1.7M54.8 11.7a.6 .7 124 1 0 -.7 1a.6 .7 124 1 0 .7 -1M85.6 20.4a.9 .5 142 1 0 -1.5 1.1a.9 .5 142 1 0 1.5 -1.1"/><path fill="#402040" opacity="1.0" d="M51.9 -.1a.8 .9 173 1 0 -1.6 .2a.8 .9 173 1 0 1.6 -.2M60.4 14.4a.9 .5 89 1 0 0 1.7a.9 .5 89 1 0 0 -1.7M42.7 -.2a1 1 115 1 0 -.9 1.8a1 1 115 1 0 .9 -1.8M83.4 31.6a1 .5 23 1 0 1.8 .8a1 .5 23 1 0 -1.8 -.8"/></g><g transform="translate(0,28.8)"><svg width="48" height="40.0" overflow="hidden"><rect x="0" y="0" width="48" height="40.0" fill="#e0cad6"/><rect width="48" height="40.0" fill="#fff" filter="url(#f37)" opacity="0.6"/><g filter="url(#b29)"><path fill="#2a1030" opacity="1.0" d="M15.8 15.6a1.4 2 70 1 0 .9 2.6a1.4 2 70 1 0 -.9 -2.6M40.7 26a1.7 1.7 142 1 0 -2.7 2a1.7 1.7 142 1 0 2.7 -2M18.3 37.6a1.4 2.3 11 1 0 2.8 .6a1.4 2.3 11 1 0 -2.8 -.6M45.1 25.4a1.4 1.7 93 1 0 -.2 2.7a1.4 1.7 93 1 0 .2 -2.7M5.9 -1.9a1.2 2.1 49 1 0 1.5 1.8a1.2 2.1 49 1 0 -1.5 -1.8M26.6 15.7a1.5 2.4 16 1 0 2.9 .9a1.5 2.4 16 1 0 -2.9 -.9M15 34.3a1.2 2.3 116 1 0 -1.1 2.1a1.2 2.3 116 1 0 1.1 -2.1M24.8 6a1.3 2.4 90 1 0 0 2.5a1.3 2.4 90 1 0 0 -2.5M32.4 31.1a1.1 2.3 53 1 0 1.4 1.8a1.1 2.3 53 1 0 -1.4 -1.8M9.3 14.4a1.6 2 66 1 0 1.3 3a1.6 2 66 1 0 -1.3 -3M15.7 39a1.6 2.5 79 1 0 .6 3.2a1.6 2.5 79 1 0 -.6 -3.2"/><path fill="#3c1a44" opacity="1.0" d="M45.1 36.2a1.4 1.9 64 1 0 1.2 2.6a1.4 1.9 64 1 0 -1.2 -2.6M.8 13.4a1.5 2.2 137 1 0 -2.2 2.1a1.5 2.2 137 1 0 2.2 -2.1M17.9 22.6a1.4 2.2 170 1 0 -2.7 .5a1.4 2.2 170 1 0 2.7 -.5M30.8 25.5a1.2 2.1 177 1 0 -2.4 .1a1.2 2.1 177 1 0 2.4 -.1M48.3 39.6a1.5 1.8 23 1 0 2.8 1.2a1.5 1.8 23 1 0 -2.8 -1.2M42.3 36.8a1.5 2.2 83 1 0 .3 2.9a1.5 2.2 83 1 0 -.3 -2.9M12.3 32.8a1.2 2.5 179 1 0 -2.3 0a1.2 2.5 179 1 0 2.3 0M1.2 2.5a1.3 2 53 1 0 1.6 2.1a1.3 2 53 1 0 -1.6 -2.1M21.8 5.9a1.1 2.2 45 1 0 1.6 1.6a1.1 2.2 45 1 0 -1.6 -1.6"/><path fill="#502a58" opacity="0.75" d="M39.4 28.5a1.7 1.8 104 1 0 -.8 3.2a1.7 1.8 104 1 0 .8 -3.2M29.6 14.8a1.2 2.5 141 1 0 -1.9 1.5a1.2 2.5 141 1 0 1.9 -1.5"/><path fill="#2a1030" opacity="0.75" d="M2.9 35.1a1.2 2.3 84 1 0 .2 2.5a1.2 2.3 84 1 0 -.2 -2.5M48 4.8a1.5 1.7 86 1 0 .2 3a1.5 1.7 86 1 0 -.2 -3M23.1 10.9a1.7 2.1 19 1 0 3.2 1.1a1.7 2.1 19 1 0 -3.2 -1.1M-2.4 18.7a1.4 2 72 1 0 .8 2.6a1.4 2 72 1 0 -.8 -2.6M46 -.7a1.5 2.1 109 1 0 -1 2.9a1.5 2.1 109 1 0 1 -2.9M45.9 16.3a1.4 1.8 132 1 0 -2 2.1a1.4 1.8 132 1 0 2 -2.1M14.1 32.5a1.4 2.4 55 1 0 1.6 2.4a1.4 2.4 55 1 0 -1.6 -2.4"/><path fill="#502a58" opacity="1.0" d="M37.1 23.6a1.5 1.9 43 1 0 2.2 2.1a1.5 1.9 43 1 0 -2.2 -2.1M26.5 22.5a1.1 1.8 165 1 0 -2.1 .5a1.1 1.8 165 1 0 2.1 -.5M29.6 0a1.5 2.3 3 1 0 2.9 .2a1.5 2.3 3 1 0 -2.9 -.2M1 20.9a1.2 2.4 98 1 0 -.4 2.5a1.2 2.4 98 1 0 .4 -2.5M38 9.3a1.5 2.1 63 1 0 1.4 2.7a1.5 2.1 63 1 0 -1.4 -2.7M36.5 1.8a1.4 2.2 133 1 0 -2 2a1.4 2.2 133 1 0 2 -2M43.7 30.4a1.3 2 166 1 0 -2.6 .6a1.3 2 166 1 0 2.6 -.6"/><path fill="#6a3a6a" opacity="0.75" d="M20.1 40.1a1.4 2.3 47 1 0 1.9 2.1a1.4 2.3 47 1 0 -1.9 -2.1M39.4 15.7a1.7 1.7 115 1 0 -1.4 3a1.7 1.7 115 1 0 1.4 -3M15.6 27.2a1.2 2.1 155 1 0 -2.2 1a1.2 2.1 155 1 0 2.2 -1M32.4 14.3a1.1 2.2 14 1 0 2.2 .5a1.1 2.2 14 1 0 -2.2 -.5M21.1 14.9a1.4 1.9 107 1 0 -.9 2.7a1.4 1.9 107 1 0 .9 -2.7M10.2 36.9a1.4 2 36 1 0 2.3 1.7a1.4 2 36 1 0 -2.3 -1.7M48.6 0a1.4 1.8 40 1 0 2.1 1.8a1.4 1.8 40 1 0 -2.1 -1.8"/><path fill="#6a3a6a" opacity="1.0" d="M44.2 25.1a1.7 2.4 38 1 0 2.6 2.1a1.7 2.4 38 1 0 -2.6 -2.1M36.6 21.8a1.4 1.8 117 1 0 -1.3 2.5a1.4 1.8 117 1 0 1.3 -2.5M1.5 -2.2a1.1 1.8 88 1 0 .1 2.2a1.1 1.8 88 1 0 -.1 -2.2M31.3 41.4a1.1 2.1 171 1 0 -2.3 .3a1.1 2.1 171 1 0 2.3 -.3M10.4 9.6a1.4 2.2 53 1 0 1.6 2.2a1.4 2.2 53 1 0 -1.6 -2.2M29.6 34.6a1.3 1.9 76 1 0 .6 2.5a1.3 1.9 76 1 0 -.6 -2.5M21.5 8a1.4 1.9 165 1 0 -2.8 .7a1.4 1.9 165 1 0 2.8 -.7M2.3 17.1a1.7 2 133 1 0 -2.3 2.4a1.7 2 133 1 0 2.3 -2.4M40.6 15.6a1.6 1.8 162 1 0 -3.1 1a1.6 1.8 162 1 0 3.1 -1M49.2 39a1.2 2 168 1 0 -2.3 .4a1.2 2 168 1 0 2.3 -.4M24.4 21.6a1.6 2.4 93 1 0 -.2 3.1a1.6 2.4 93 1 0 .2 -3.1M16.2 31.8a1.2 2.4 133 1 0 -1.7 1.8a1.2 2.4 133 1 0 1.7 -1.8M29.7 31.5a1.6 1.9 75 1 0 .8 3.1a1.6 1.9 75 1 0 -.8 -3.1M42.8 12.2a1.4 1.9 129 1 0 -1.8 2.1a1.4 1.9 129 1 0 1.8 -2.1M26.5 17.3a1.7 2 121 1 0 -1.7 2.9a1.7 2 121 1 0 1.7 -2.9"/><path fill="#3c1a44" opacity="0.75" d="M23.6 23.4a1.2 2.1 134 1 0 -1.6 1.6a1.2 2.1 134 1 0 1.6 -1.6M1.4 22.7a1.2 2.4 92 1 0 -.1 2.5a1.2 2.4 92 1 0 .1 -2.5M34.3 12.6a1.2 2 145 1 0 -1.9 1.3a1.2 2 145 1 0 1.9 -1.3M34 1.6a1.7 1.9 88 1 0 .1 3.3a1.7 1.9 88 1 0 -.1 -3.3"/></g></svg><path d="M0 0.5 H48.5 V40.0" fill="none" stroke="#fff" stroke-width="1.1"/></g></svg><svg x="323.8" y="454.0" width="92.2" height="68.8" viewBox="0 0 92.2 68.8" overflow="hidden"><rect width="92.2" height="68.8" fill="#c992b2"/><g fill="#f2e4ee" filter="url(#b30)"><ellipse cx="7" cy="3" rx="3" ry="2.5"/><ellipse cx="10" cy="12" rx="2.5" ry="2"/><ellipse cx="72" cy="6" rx="3" ry="3"/><ellipse cx="58" cy="5" rx="2.5" ry="2"/></g><g stroke="#e46a8e" stroke-width="1" fill="none" opacity="0.8"><path d="M52 25 C58 30 62 28 68 35"/><path d="M60 45 C70 40 78 38 86 32"/></g><rect width="92.2" height="68.8" fill="#fff" filter="url(#f41)" opacity="1"/><rect width="92.2" height="68.8" fill="#fff" filter="url(#f42)" opacity="1"/><g transform="translate(0,28.8)"><svg width="47.5" height="40.0" overflow="hidden"><rect x="0" y="0" width="47.5" height="40.0" fill="#d4a4be"/><rect width="47.5" height="40.0" fill="#fff" filter="url(#f40)" opacity="0.6"/><g filter="url(#b29)"><path fill="#a45684" opacity="1.0" d="M29.9 35.8a1.4 2.3 93 1 0 -.2 2.7a1.4 2.3 93 1 0 .2 -2.7M25.3 8.7a1.1 2 33 1 0 1.9 1.3a1.1 2 33 1 0 -1.9 -1.3M44.3 14.5a1.6 2.2 42 1 0 2.4 2.1a1.6 2.2 42 1 0 -2.4 -2.1M46 11.2a1.3 1.8 44 1 0 1.9 1.9a1.3 1.8 44 1 0 -1.9 -1.9M28.3 39.3a1.7 2.2 28 1 0 2.9 1.6a1.7 2.2 28 1 0 -2.9 -1.6M45.9 12.7a1.1 2.1 152 1 0 -2 1a1.1 2.1 152 1 0 2 -1M37.4 2.9a1.4 2 144 1 0 -2.3 1.6a1.4 2 144 1 0 2.3 -1.6M11.6 22.5a1.3 2.1 110 1 0 -.9 2.5a1.3 2.1 110 1 0 .9 -2.5M13.2 10.9a1.5 1.9 141 1 0 -2.4 1.9a1.5 1.9 141 1 0 2.4 -1.9M7.9 30.1a1.2 1.8 168 1 0 -2.3 .5a1.2 1.8 168 1 0 2.3 -.5M36.6 11.8a1.3 2 102 1 0 -.6 2.6a1.3 2 102 1 0 .6 -2.6M41.9 23.3a1.2 2 167 1 0 -2.4 .5a1.2 2 167 1 0 2.4 -.5M36.4 19.3a1.5 2.1 94 1 0 -.2 2.9a1.5 2.1 94 1 0 .2 -2.9M46.3 38a1.5 2.3 170 1 0 -2.9 .5a1.5 2.3 170 1 0 2.9 -.5M48.1 .5a1.5 2.5 41 1 0 2.2 2a1.5 2.5 41 1 0 -2.2 -2M38.7 9.4a1.1 2.5 60 1 0 1.1 1.9a1.1 2.5 60 1 0 -1.1 -1.9M34.6 2.1a1.3 2.1 113 1 0 -1 2.3a1.3 2.1 113 1 0 1 -2.3M-1 39.7a1.5 2.5 11 1 0 2.9 .6a1.5 2.5 11 1 0 -2.9 -.6M45.3 23.1a1.2 2.2 142 1 0 -1.9 1.5a1.2 2.2 142 1 0 1.9 -1.5M22.8 31.7a1.6 2.3 131 1 0 -2.1 2.4a1.6 2.3 131 1 0 2.1 -2.4M2.2 13.1a1.6 2.1 92 1 0 -.1 3.2a1.6 2.1 92 1 0 .1 -3.2M48.1 40.2a1.3 2.2 69 1 0 .9 2.4a1.3 2.2 69 1 0 -.9 -2.4M4.3 1.8a1.6 1.7 54 1 0 1.8 2.6a1.6 1.7 54 1 0 -1.8 -2.6M10.1 36.3a1.4 1.7 61 1 0 1.3 2.4a1.4 1.7 61 1 0 -1.3 -2.4M24.9 38.9a1.6 2 16 1 0 3 .9a1.6 2 16 1 0 -3 -.9M15.5 15.3a1.6 2.2 53 1 0 1.9 2.6a1.6 2.2 53 1 0 -1.9 -2.6"/><path fill="#b0628e" opacity="1.0" d="M20.6 -2.1a1.7 2.4 61 1 0 1.6 2.9a1.7 2.4 61 1 0 -1.6 -2.9M10.5 29.9a1.2 2 41 1 0 1.8 1.6a1.2 2 41 1 0 -1.8 -1.6M11.3 .9a1.5 2 44 1 0 2.1 2.1a1.5 2 44 1 0 -2.1 -2.1M6.8 10.9a1.5 2 13 1 0 3 .7a1.5 2 13 1 0 -3 -.7M20.9 20.2a1.4 2.2 118 1 0 -1.3 2.4a1.4 2.2 118 1 0 1.3 -2.4M-.2 8.1a1.6 2.3 116 1 0 -1.5 2.9a1.6 2.3 116 1 0 1.5 -2.9M9.4 15a1.1 2.2 52 1 0 1.4 1.8a1.1 2.2 52 1 0 -1.4 -1.8M20.2 15.6a1.5 2.4 177 1 0 -3 .1a1.5 2.4 177 1 0 3 -.1M2.5 35.3a1.1 2 23 1 0 2 .9a1.1 2 23 1 0 -2 -.9M40 36.9a1.6 2.4 116 1 0 -1.4 2.8a1.6 2.4 116 1 0 1.4 -2.8M.2 12.3a1.3 2.3 7 1 0 2.5 .3a1.3 2.3 7 1 0 -2.5 -.3M32.9 15.9a1.7 2.5 108 1 0 -1.1 3.2a1.7 2.5 108 1 0 1.1 -3.2M23.8 24.9a1.2 2.1 58 1 0 1.3 2.1a1.2 2.1 58 1 0 -1.3 -2.1M41.8 12.9a1.7 2.4 95 1 0 -.3 3.4a1.7 2.4 95 1 0 .3 -3.4M32 35.2a1.6 1.9 175 1 0 -3.2 .2a1.6 1.9 175 1 0 3.2 -.2M26.6 33.1a1.3 2.1 109 1 0 -.9 2.5a1.3 2.1 109 1 0 .9 -2.5M.7 11.1a1.6 2.1 95 1 0 -.3 3.2a1.6 2.1 95 1 0 .3 -3.2M10.2 32.7a1.4 2.3 161 1 0 -2.6 .9a1.4 2.3 161 1 0 2.6 -.9M5.6 32.9a1.2 2 135 1 0 -1.8 1.7a1.2 2 135 1 0 1.8 -1.7M16.6 14.3a1.2 2 25 1 0 2.2 1.1a1.2 2 25 1 0 -2.2 -1.1M16.8 25.4a1.5 1.8 129 1 0 -1.9 2.3a1.5 1.8 129 1 0 1.9 -2.3M19.4 13.1a1.6 2.1 16 1 0 3.2 1a1.6 2.1 16 1 0 -3.2 -1M16.3 39.2a1.2 2.1 151 1 0 -2.1 1.1a1.2 2.1 151 1 0 2.1 -1.1M23.9 37.7a1.3 1.9 145 1 0 -2.2 1.5a1.3 1.9 145 1 0 2.2 -1.5M.3 18.8a1.7 2.4 20 1 0 3.2 1.2a1.7 2.4 20 1 0 -3.2 -1.2"/><path fill="#bc6e98" opacity="1.0" d="M17.7 31.4a1.6 2.1 169 1 0 -3.2 .6a1.6 2.1 169 1 0 3.2 -.6M45.2 .5a1.6 1.8 139 1 0 -2.3 2a1.6 1.8 139 1 0 2.3 -2M14.4 13a1.2 1.9 63 1 0 1.1 2.2a1.2 1.9 63 1 0 -1.1 -2.2M29.1 12.9a1.2 2 90 1 0 0 2.5a1.2 2 90 1 0 0 -2.5M49.3 19.7a1.4 2.4 119 1 0 -1.4 2.5a1.4 2.4 119 1 0 1.4 -2.5M50.1 15a1.7 1.9 144 1 0 -2.7 1.9a1.7 1.9 144 1 0 2.7 -1.9M30.9 .1a1.4 2.4 49 1 0 1.8 2.1a1.4 2.4 49 1 0 -1.8 -2.1M.4 12.9a1.7 2.5 31 1 0 2.9 1.8a1.7 2.5 31 1 0 -2.9 -1.8M47.2 2.2a1.3 2 21 1 0 2.4 1a1.3 2 21 1 0 -2.4 -1M29.1 16.7a1.3 2.2 65 1 0 1.1 2.4a1.3 2.2 65 1 0 -1.1 -2.4M17.1 28.3a1.3 2.2 36 1 0 2.1 1.6a1.3 2.2 36 1 0 -2.1 -1.6M43.5 27.2a1.1 2.4 116 1 0 -1 2a1.1 2.4 116 1 0 1 -2M19.7 1.3a1.3 2.2 90 1 0 0 2.6a1.3 2.2 90 1 0 0 -2.6M3.4 5.2a1.5 2.1 62 1 0 1.3 2.6a1.5 2.1 62 1 0 -1.3 -2.6M6.9 -.2a1.2 1.8 84 1 0 .2 2.4a1.2 1.8 84 1 0 -.2 -2.4M40.6 11.8a1.6 1.7 93 1 0 -.2 3.2a1.6 1.7 93 1 0 .2 -3.2M3 23.9a1.6 2.5 86 1 0 .2 3.1a1.6 2.5 86 1 0 -.2 -3.1M7.2 4a1.7 1.8 20 1 0 3.1 1.2a1.7 1.8 20 1 0 -3.1 -1.2M28.4 2.5a1.1 2.4 148 1 0 -1.9 1.2a1.1 2.4 148 1 0 1.9 -1.2M3.3 38.5a1.6 2.4 119 1 0 -1.6 2.8a1.6 2.4 119 1 0 1.6 -2.8M21.4 3a1.7 1.9 172 1 0 -3.3 .5a1.7 1.9 172 1 0 3.3 -.5M28.6 23.1a1.7 2.2 121 1 0 -1.8 2.8a1.7 2.2 121 1 0 1.8 -2.8M-.6 39a1.2 1.7 58 1 0 1.3 2.1a1.2 1.7 58 1 0 -1.3 -2.1M16.1 22.5a1.7 2.3 89 1 0 0 3.3a1.7 2.3 89 1 0 0 -3.3M3.1 30.2a1.2 1.7 56 1 0 1.3 1.9a1.2 1.7 56 1 0 -1.3 -1.9M-.7 33.8a1.6 1.7 93 1 0 -.2 3.2a1.6 1.7 93 1 0 .2 -3.2M43.8 35.9a1.3 2.2 38 1 0 2.1 1.7a1.3 2.2 38 1 0 -2.1 -1.7M4.9 11.7a1.6 2.4 159 1 0 -3.1 1.2a1.6 2.4 159 1 0 3.1 -1.2"/><path fill="#b0628e" opacity="0.75" d="M38.7 17.5a1.6 1.9 172 1 0 -3.2 .4a1.6 1.9 172 1 0 3.2 -.4M20.1 11.1a1.3 2.3 170 1 0 -2.6 .4a1.3 2.3 170 1 0 2.6 -.4M42.7 -.5a1.4 1.9 29 1 0 2.4 1.4a1.4 1.9 29 1 0 -2.4 -1.4M5.4 2.5a1.5 1.9 119 1 0 -1.5 2.7a1.5 1.9 119 1 0 1.5 -2.7M19.9 41.3a1.3 2.1 163 1 0 -2.5 .8a1.3 2.1 163 1 0 2.5 -.8M27.8 33.8a1.6 2 109 1 0 -1 3a1.6 2 109 1 0 1 -3M10.4 1.2a1.6 2 174 1 0 -3.2 .3a1.6 2 174 1 0 3.2 -.3M20.6 32.3a1.5 1.7 16 1 0 2.9 .9a1.5 1.7 16 1 0 -2.9 -.9M30.9 13.1a1.4 2 107 1 0 -.8 2.7a1.4 2 107 1 0 .8 -2.7M49.5 .2a1.3 1.9 163 1 0 -2.5 .8a1.3 1.9 163 1 0 2.5 -.8M17.2 32.5a1.6 2 148 1 0 -2.7 1.7a1.6 2 148 1 0 2.7 -1.7M17.3 24a1.6 2.4 36 1 0 2.6 2a1.6 2.4 36 1 0 -2.6 -2M27.2 38.6a1.4 2.5 121 1 0 -1.5 2.4a1.4 2.5 121 1 0 1.5 -2.4M11.2 2.7a1.1 2.3 145 1 0 -1.9 1.3a1.1 2.3 145 1 0 1.9 -1.3M22.3 2.7a1.4 1.7 158 1 0 -2.7 1.1a1.4 1.7 158 1 0 2.7 -1.1M17.5 29.9a1.3 2.3 43 1 0 1.9 1.7a1.3 2.3 43 1 0 -1.9 -1.7"/><path fill="#bc6e98" opacity="0.75" d="M23 15.9a1.2 1.9 136 1 0 -1.8 1.6a1.2 1.9 136 1 0 1.8 -1.6M9.6 6a1.6 2 21 1 0 2.9 1.1a1.6 2 21 1 0 -2.9 -1.1M28.7 23.2a1.4 2.1 124 1 0 -1.6 2.3a1.4 2.1 124 1 0 1.6 -2.3M8.2 5.3a1.3 1.8 15 1 0 2.4 .7a1.3 1.8 15 1 0 -2.4 -.7M41.1 41.2a1.2 1.9 9 1 0 2.4 .4a1.2 1.9 9 1 0 -2.4 -.4M36.9 23.3a1.2 1.9 149 1 0 -2 1.2a1.2 1.9 149 1 0 2 -1.2M23.7 30.4a1.6 2.3 135 1 0 -2.3 2.2a1.6 2.3 135 1 0 2.3 -2.2M19.2 -.9a1.6 2.2 149 1 0 -2.8 1.7a1.6 2.2 149 1 0 2.8 -1.7M22.9 38.9a1.3 2.1 141 1 0 -2 1.6a1.3 2.1 141 1 0 2 -1.6M.6 35.5a1.2 2.1 103 1 0 -.6 2.3a1.2 2.1 103 1 0 .6 -2.3M30.5 13.6a1.5 2.3 120 1 0 -1.6 2.7a1.5 2.3 120 1 0 1.6 -2.7M42.9 26a1.4 2.1 155 1 0 -2.5 1.1a1.4 2.1 155 1 0 2.5 -1.1M39.8 38.5a1.2 2.3 124 1 0 -1.4 2a1.2 2.3 124 1 0 1.4 -2M31.4 33.3a1.6 1.8 34 1 0 2.7 1.8a1.6 1.8 34 1 0 -2.7 -1.8M22.5 37.5a1.3 2.1 158 1 0 -2.4 .9a1.3 2.1 158 1 0 2.4 -.9"/><path fill="#a45684" opacity="0.75" d="M3.4 24.8a1.6 2 142 1 0 -2.5 1.9a1.6 2 142 1 0 2.5 -1.9M42.6 33a1.5 1.9 22 1 0 2.7 1.1a1.5 1.9 22 1 0 -2.7 -1.1M39 26.4a1.1 2 126 1 0 -1.3 1.8a1.1 2 126 1 0 1.3 -1.8M48.4 2.3a1.1 1.9 127 1 0 -1.4 1.8a1.1 1.9 127 1 0 1.4 -1.8M.7 40.1a1.7 2.4 59 1 0 1.7 2.8a1.7 2.4 59 1 0 -1.7 -2.8M-.2 32.1a1.4 2.2 131 1 0 -1.9 2.1a1.4 2.2 131 1 0 1.9 -2.1M21.5 34.6a1.4 2.2 153 1 0 -2.5 1.3a1.4 2.2 153 1 0 2.5 -1.3M46.9 30.7a1.3 2.3 87 1 0 .1 2.6a1.3 2.3 87 1 0 -.1 -2.6M25.7 32.9a1.3 1.7 93 1 0 -.2 2.5a1.3 1.7 93 1 0 .2 -2.5M23.6 36.1a1.2 2.5 167 1 0 -2.3 .5a1.2 2.5 167 1 0 2.3 -.5"/></g></svg><path d="M0 0.5 H48.0 V40.0" fill="none" stroke="#fff" stroke-width="1.1"/><rect x="36.2" y="35.4" width="9.4" height="1.9" fill="#fff"/></g><rect x="75.6" y="63.5" width="13.1" height="2.5" fill="#fff"/></svg><svg x="40.0" y="531.0" width="92.0" height="69.5" viewBox="0 0 92.0 69.5" overflow="hidden"><rect width="92.0" height="69.5" fill="#ede8e6"/><path d="M0 42 C10 40 20 43 28 52 L32 69.5 L0 69.5Z" fill="#d8d6de" filter="url(#b30)"/><g opacity="1" mask="url(#mkD21)"><rect width="92.0" height="69.5" fill="#fff" filter="url(#f44)"/></g><g opacity="1" mask="url(#mkD21)"><rect width="92.0" height="69.5" fill="#fff" filter="url(#f45)"/></g><g filter="url(#b29)"><path fill="#bc7a48" opacity="0.75" d="M47.7 29.2a2 1.6 171 1 0 -3.9 .6a2 1.6 171 1 0 3.9 -.6M93.2 36.9a1.7 1 77 1 0 .7 3.3a1.7 1 77 1 0 -.7 -3.3M57.4 67.1a1.7 1.6 35 1 0 2.7 2a1.7 1.6 35 1 0 -2.7 -2M5.3 9.7a1.7 1.3 126 1 0 -2 2.7a1.7 1.3 126 1 0 2 -2.7M85.8 26.2a1.5 1.7 35 1 0 2.5 1.8a1.5 1.7 35 1 0 -2.5 -1.8M52.7 55.7a1.2 .9 10 1 0 2.3 .4a1.2 .9 10 1 0 -2.3 -.4M36.6 24.4a2 1.1 99 1 0 -.7 3.9a2 1.1 99 1 0 .7 -3.9M51.8 29a1.7 1.8 85 1 0 .3 3.3a1.7 1.8 85 1 0 -.3 -3.3M54.1 55.7a1.6 1.8 58 1 0 1.6 2.7a1.6 1.8 58 1 0 -1.6 -2.7M84.2 47.9a2.1 1.5 102 1 0 -.9 4.2a2.1 1.5 102 1 0 .9 -4.2M78.8 5.1a1.6 1 99 1 0 -.5 3.1a1.6 1 99 1 0 .5 -3.1M61.5 51a1.3 1.7 149 1 0 -2.2 1.3a1.3 1.7 149 1 0 2.2 -1.3M29.7 64.8a1.8 1.8 67 1 0 1.4 3.4a1.8 1.8 67 1 0 -1.4 -3.4M73 45.2a2.1 1 165 1 0 -4.1 1a2.1 1 165 1 0 4.1 -1M34.1 -1.7a1 1.4 4 1 0 2.1 .2a1 1.4 4 1 0 -2.1 -.2M73.9 -1.2a1.3 1.1 23 1 0 2.5 1.1a1.3 1.1 23 1 0 -2.5 -1.1M53.9 40.4a1.1 1.1 76 1 0 .5 2.2a1.1 1.1 76 1 0 -.5 -2.2M75.4 59a2.2 1 85 1 0 .3 4.3a2.2 1 85 1 0 -.3 -4.3M59.9 8.8a1.1 1.2 30 1 0 1.9 1.1a1.1 1.2 30 1 0 -1.9 -1.1M60.6 22.3a1.7 1.4 109 1 0 -1.1 3.2a1.7 1.4 109 1 0 1.1 -3.2"/><path fill="#b06a38" opacity="0.75" d="M92.6 15.9a1.8 1.6 134 1 0 -2.6 2.6a1.8 1.6 134 1 0 2.6 -2.6M33.7 25.2a1.4 1.7 81 1 0 .4 2.7a1.4 1.7 81 1 0 -.4 -2.7M55.3 33a2.1 1.1 124 1 0 -2.4 3.5a2.1 1.1 124 1 0 2.4 -3.5M30.8 23.6a1.6 1.6 46 1 0 2.2 2.3a1.6 1.6 46 1 0 -2.2 -2.3M40.5 46.8a1.5 1.7 164 1 0 -2.8 .8a1.5 1.7 164 1 0 2.8 -.8M71.1 .5a1.1 1.7 87 1 0 .1 2.1a1.1 1.7 87 1 0 -.1 -2.1M29.8 13.7a1.2 1.1 83 1 0 .3 2.4a1.2 1.1 83 1 0 -.3 -2.4M8.1 4.3a1.1 1 161 1 0 -2.2 .7a1.1 1 161 1 0 2.2 -.7M59 63.8a2.2 1.1 83 1 0 .5 4.3a2.2 1.1 83 1 0 -.5 -4.3M44.2 17.8a1.8 1.4 58 1 0 1.9 3.1a1.8 1.4 58 1 0 -1.9 -3.1M42.7 34.5a1.5 1.1 126 1 0 -1.8 2.4a1.5 1.1 126 1 0 1.8 -2.4M79.5 24.6a1.8 1.7 13 1 0 3.6 .8a1.8 1.7 13 1 0 -3.6 -.8M38.6 25a1.6 1.2 98 1 0 -.5 3.2a1.6 1.2 98 1 0 .5 -3.2M48 2.7a1.7 1.6 99 1 0 -.6 3.3a1.7 1.6 99 1 0 .6 -3.3M49.6 38.8a1.6 1.1 79 1 0 .5 3.1a1.6 1.1 79 1 0 -.5 -3.1M45.6 21.7a1.1 1.8 19 1 0 2.1 .7a1.1 1.8 19 1 0 -2.1 -.7M42.6 38.9a1.6 1.2 111 1 0 -1.2 3a1.6 1.2 111 1 0 1.2 -3M33.6 38a1.2 1.2 85 1 0 .2 2.4a1.2 1.2 85 1 0 -.2 -2.4M85 7a1.8 1.3 135 1 0 -2.6 2.6a1.8 1.3 135 1 0 2.6 -2.6"/><path fill="#c88c58" opacity="0.75" d="M47.4 14.1a1.2 1.3 48 1 0 1.6 1.8a1.2 1.3 48 1 0 -1.6 -1.8M80.2 15.4a1.6 1.5 34 1 0 2.7 1.9a1.6 1.5 34 1 0 -2.7 -1.9M86.7 43.3a2.2 .9 66 1 0 1.8 4a2.2 .9 66 1 0 -1.8 -4M49.4 39.4a1.9 1.7 138 1 0 -2.9 2.5a1.9 1.7 138 1 0 2.9 -2.5M77.9 46.1a2 1.5 50 1 0 2.5 3a2 1.5 50 1 0 -2.5 -3M66.1 29.3a1.6 1 134 1 0 -2.3 2.3a1.6 1 134 1 0 2.3 -2.3M92.6 23a1.5 1.8 156 1 0 -2.7 1.2a1.5 1.8 156 1 0 2.7 -1.2M58.9 19.9a1.9 1 134 1 0 -2.6 2.7a1.9 1 134 1 0 2.6 -2.7M87.5 56.7a2.1 1.6 87 1 0 .2 4.2a2.1 1.6 87 1 0 -.2 -4.2M92.5 29.5a1.6 1.7 32 1 0 2.6 1.7a1.6 1.7 32 1 0 -2.6 -1.7M70 4a1.4 1.4 61 1 0 1.3 2.4a1.4 1.4 61 1 0 -1.3 -2.4M83.4 14.9a1.6 1.4 124 1 0 -1.8 2.7a1.6 1.4 124 1 0 1.8 -2.7M45 45.5a1.9 1.7 96 1 0 -.5 3.8a1.9 1.7 96 1 0 .5 -3.8M29.5 8.9a2.2 1.2 140 1 0 -3.4 2.8a2.2 1.2 140 1 0 3.4 -2.8M94.6 54.9a2.1 1.7 108 1 0 -1.3 4a2.1 1.7 108 1 0 1.3 -4M78.1 18.9a1.1 1.6 154 1 0 -2.1 1a1.1 1.6 154 1 0 2.1 -1M30.7 29.8a1.2 1.1 179 1 0 -2.4 0a1.2 1.1 179 1 0 2.4 0"/><path fill="#a05a30" opacity="0.75" d="M86.1 40.4a1.7 1.6 48 1 0 2.3 2.6a1.7 1.6 48 1 0 -2.3 -2.6M48.5 56.1a2.1 1.6 95 1 0 -.4 4.2a2.1 1.6 95 1 0 .4 -4.2M16.3 -2.7a1.1 1.8 134 1 0 -1.5 1.5a1.1 1.8 134 1 0 1.5 -1.5M92.6 68.2a1.2 1.5 173 1 0 -2.4 .3a1.2 1.5 173 1 0 2.4 -.3M42.1 -1a2.1 1.7 72 1 0 1.3 4a2.1 1.7 72 1 0 -1.3 -4M52.7 8.1a1.4 1.6 125 1 0 -1.6 2.2a1.4 1.6 125 1 0 1.6 -2.2M78.3 38.1a1.8 1.7 22 1 0 3.4 1.4a1.8 1.7 22 1 0 -3.4 -1.4M40.3 44.1a1.2 1.3 123 1 0 -1.4 2.1a1.2 1.3 123 1 0 1.4 -2.1M71.6 -.1a1.3 1.6 31 1 0 2.2 1.3a1.3 1.6 31 1 0 -2.2 -1.3M67.3 -.7a1.3 1 168 1 0 -2.5 .5a1.3 1 168 1 0 2.5 -.5M83.9 29.3a1.8 1.2 155 1 0 -3.3 1.5a1.8 1.2 155 1 0 3.3 -1.5M83.9 70.5a1.2 1.7 4 1 0 2.4 .2a1.2 1.7 4 1 0 -2.4 -.2M58.3 20.6a1 1.6 45 1 0 1.5 1.5a1 1.6 45 1 0 -1.5 -1.5M37 30.3a1.3 1.1 90 1 0 0 2.7a1.3 1.1 90 1 0 0 -2.7M79.3 62.4a1.1 1.8 55 1 0 1.2 1.7a1.1 1.8 55 1 0 -1.2 -1.7M51.8 58a1.4 1.7 144 1 0 -2.3 1.6a1.4 1.7 144 1 0 2.3 -1.6M84.1 35.7a1.9 1.3 8 1 0 3.8 .6a1.9 1.3 8 1 0 -3.8 -.6M38.5 30.8a1.8 1 125 1 0 -2.1 2.9a1.8 1 125 1 0 2.1 -2.9M36.5 28.6a2 1.2 140 1 0 -3.1 2.6a2 1.2 140 1 0 3.1 -2.6M36.2 47.5a1.3 1.3 18 1 0 2.5 .9a1.3 1.3 18 1 0 -2.5 -.9"/><path fill="#a05a30" opacity="1.0" d="M88.9 10.7a1.7 1 159 1 0 -3.2 1.2a1.7 1 159 1 0 3.2 -1.2M62.5 47.4a1 1 156 1 0 -1.9 .8a1 1 156 1 0 1.9 -.8M54.2 17.5a1.2 1.2 113 1 0 -1 2.2a1.2 1.2 113 1 0 1 -2.2M81.2 11.8a1.7 1.4 8 1 0 3.4 .5a1.7 1.4 8 1 0 -3.4 -.5M85.4 30.6a1.2 1.5 71 1 0 .8 2.3a1.2 1.5 71 1 0 -.8 -2.3M50 16.1a1.1 1.4 109 1 0 -.7 2.2a1.1 1.4 109 1 0 .7 -2.2M43.8 2.3a2.1 1.7 7 1 0 4.2 .5a2.1 1.7 7 1 0 -4.2 -.5M36 19.6a1.3 1.1 154 1 0 -2.3 1.1a1.3 1.1 154 1 0 2.3 -1.1M21.8 10.3a2 1 94 1 0 -.3 3.9a2 1 94 1 0 .3 -3.9"/><path fill="#b06a38" opacity="1.0" d="M90 69.5a2 1.8 44 1 0 2.8 2.8a2 1.8 44 1 0 -2.8 -2.8M64.4 26.1a1.9 1.2 170 1 0 -3.8 .6a1.9 1.2 170 1 0 3.8 -.6M39.3 5.6a1.9 1.3 55 1 0 2.1 3.1a1.9 1.3 55 1 0 -2.1 -3.1M45.2 .8a1.8 1.5 82 1 0 .5 3.6a1.8 1.5 82 1 0 -.5 -3.6M61.2 51.3a1.2 1.5 27 1 0 2.2 1.2a1.2 1.5 27 1 0 -2.2 -1.2M79.2 13.8a2.1 1.7 146 1 0 -3.4 2.3a2.1 1.7 146 1 0 3.4 -2.3M83.8 13.8a1.2 1 163 1 0 -2.3 .6a1.2 1 163 1 0 2.3 -.6M94 22.5a2 1.3 162 1 0 -3.7 1.2a2 1.3 162 1 0 3.7 -1.2M86.7 3.8a1.7 1.1 94 1 0 -.3 3.4a1.7 1.1 94 1 0 .3 -3.4M88.7 28a1 1.2 157 1 0 -1.9 .8a1 1.2 157 1 0 1.9 -.8M38.2 2.4a1.9 1.6 101 1 0 -.8 3.8a1.9 1.6 101 1 0 .8 -3.8M36 64.6a1.2 1.6 30 1 0 2.1 1.3a1.2 1.6 30 1 0 -2.1 -1.3M44.8 56a1.5 1 90 1 0 0 3a1.5 1 90 1 0 0 -3M29.8 13.6a1.4 1.1 134 1 0 -1.9 2a1.4 1.1 134 1 0 1.9 -2M89.2 8.4a1.9 1.5 85 1 0 .3 3.8a1.9 1.5 85 1 0 -.3 -3.8"/><path fill="#c88c58" opacity="1.0" d="M9.4 31.8a1.2 1.4 36 1 0 1.9 1.4a1.2 1.4 36 1 0 -1.9 -1.4M1.7 14.4a1.2 1.8 75 1 0 .6 2.4a1.2 1.8 75 1 0 -.6 -2.4M36.1 4.7a1.8 1.3 8 1 0 3.6 .6a1.8 1.3 8 1 0 -3.6 -.6M-.5 8a1.4 1.2 157 1 0 -2.6 1.1a1.4 1.2 157 1 0 2.6 -1.1M52 25.2a1.2 .9 4 1 0 2.4 .2a1.2 .9 4 1 0 -2.4 -.2M89 56.8a1.6 1.3 154 1 0 -2.8 1.4a1.6 1.3 154 1 0 2.8 -1.4"/><path fill="#bc7a48" opacity="0.5" d="M84.3 9.7a1.4 1 2 1 0 2.7 .1a1.4 1 2 1 0 -2.7 -.1M68.8 54.9a2.1 1.7 43 1 0 3 2.9a2.1 1.7 43 1 0 -3 -2.9"/><path fill="#904c28" opacity="0.75" d="M43.2 50.9a2 1.5 75 1 0 1 3.9a2 1.5 75 1 0 -1 -3.9M-1.4 26.4a1.2 1.5 73 1 0 .7 2.3a1.2 1.5 73 1 0 -.7 -2.3M69.4 12.4a1.9 1.1 81 1 0 .6 3.8a1.9 1.1 81 1 0 -.6 -3.8M68.4 34.5a1 1.7 168 1 0 -2 .4a1 1.7 168 1 0 2 -.4M30.7 27.4a1.3 1.3 122 1 0 -1.4 2.2a1.3 1.3 122 1 0 1.4 -2.2M45.7 11.6a1.3 1 67 1 0 1 2.4a1.3 1 67 1 0 -1 -2.4M85.2 45.7a1.3 1.4 18 1 0 2.5 .8a1.3 1.4 18 1 0 -2.5 -.8M54.3 9.2a1.7 1.6 12 1 0 3.3 .8a1.7 1.6 12 1 0 -3.3 -.8M69.9 60.8a1.3 1 154 1 0 -2.4 1.2a1.3 1 154 1 0 2.4 -1.2M57.6 37.2a2.1 1 100 1 0 -.8 4.1a2.1 1 100 1 0 .8 -4.1M52.5 5.5a1.2 .9 48 1 0 1.6 1.8a1.2 .9 48 1 0 -1.6 -1.8M50 35.3a2.1 1.2 8 1 0 4.1 .6a2.1 1.2 8 1 0 -4.1 -.6M50.6 46.1a1.1 1.3 141 1 0 -1.7 1.4a1.1 1.3 141 1 0 1.7 -1.4M69.7 38.7a2.2 1.3 179 1 0 -4.3 0a2.2 1.3 179 1 0 4.3 0M47.2 50a1 1.8 36 1 0 1.6 1.2a1 1.8 36 1 0 -1.6 -1.2M68.5 17.5a1.7 1.3 107 1 0 -1 3.3a1.7 1.3 107 1 0 1 -3.3M41.1 8.6a2.1 1 167 1 0 -4.1 .9a2.1 1 167 1 0 4.1 -.9"/><path fill="#bc7a48" opacity="1.0" d="M89 10.3a1.6 1.6 71 1 0 1 3a1.6 1.6 71 1 0 -1 -3M46.6 23a1.7 1.1 6 1 0 3.4 .4a1.7 1.1 6 1 0 -3.4 -.4M47.9 38.5a1.2 1.4 82 1 0 .3 2.4a1.2 1.4 82 1 0 -.3 -2.4M79.9 33.6a2.1 1.6 169 1 0 -4.1 .8a2.1 1.6 169 1 0 4.1 -.8M37.1 57a2 1.3 122 1 0 -2.1 3.3a2 1.3 122 1 0 2.1 -3.3M36.6 33.8a1.7 1.6 167 1 0 -3.4 .8a1.7 1.6 167 1 0 3.4 -.8M39.6 16.5a2.2 1.4 20 1 0 4.1 1.5a2.2 1.4 20 1 0 -4.1 -1.5M82.8 42.8a1.7 1.1 37 1 0 2.6 2a1.7 1.1 37 1 0 -2.6 -2"/><path fill="#c88c58" opacity="0.5" d="M83.5 7.8a1.9 1.8 53 1 0 2.2 3.1a1.9 1.8 53 1 0 -2.2 -3.1M72.1 36.3a1.6 1.2 139 1 0 -2.4 2a1.6 1.2 139 1 0 2.4 -2M83.9 29.6a1.5 .9 139 1 0 -2.2 1.9a1.5 .9 139 1 0 2.2 -1.9"/><path fill="#b06a38" opacity="0.5" d="M46.7 15.4a1.7 1.3 68 1 0 1.2 3.2a1.7 1.3 68 1 0 -1.2 -3.2M25 16a1.8 1.2 104 1 0 -.9 3.4a1.8 1.2 104 1 0 .9 -3.4"/><path fill="#904c28" opacity="1.0" d="M74.7 41.4a1.8 1.2 122 1 0 -2 3.1a1.8 1.2 122 1 0 2 -3.1M43.4 37.2a1.6 1.7 176 1 0 -3.2 .2a1.6 1.7 176 1 0 3.2 -.2M25.3 -3.8a2.1 1.1 111 1 0 -1.5 3.9a2.1 1.1 111 1 0 1.5 -3.9M44.3 54.3a1.8 1.8 69 1 0 1.3 3.4a1.8 1.8 69 1 0 -1.3 -3.4M78.3 50.2a1.9 .9 178 1 0 -3.8 .1a1.9 .9 178 1 0 3.8 -.1M62.4 8.9a2.1 1.7 142 1 0 -3.3 2.5a2.1 1.7 142 1 0 3.3 -2.5M14.6 29.5a1.5 1.5 157 1 0 -2.7 1.1a1.5 1.5 157 1 0 2.7 -1.1M91.4 27.5a1.4 1.5 146 1 0 -2.3 1.5a1.4 1.5 146 1 0 2.3 -1.5M81.8 60.4a1 1.5 131 1 0 -1.3 1.5a1 1.5 131 1 0 1.3 -1.5"/><path fill="#a05a30" opacity="0.5" d="M45.1 6a1.2 1.1 85 1 0 .2 2.5a1.2 1.1 85 1 0 -.2 -2.5M81.4 62.4a1.2 1.8 65 1 0 1 2.2a1.2 1.8 65 1 0 -1 -2.2M30.6 34.3a1 1.1 7 1 0 2 .3a1 1.1 7 1 0 -2 -.3"/></g><g filter="url(#b29)"><path fill="#6a3018" opacity="1.0" d="M92 40a1.3 1.1 136 1 0 -1.9 1.8a1.3 1.1 136 1 0 1.9 -1.8M8.9 9.3a1.3 1.4 129 1 0 -1.6 2a1.3 1.4 129 1 0 1.6 -2M41.2 13.3a.8 1 118 1 0 -.8 1.5a.8 1 118 1 0 .8 -1.5M59.3 -1.1a1 1.4 34 1 0 1.7 1.1a1 1.4 34 1 0 -1.7 -1.1M62.1 26.4a.9 .8 89 1 0 0 1.7a.9 .8 89 1 0 0 -1.7M66.4 52.4a1.4 1 152 1 0 -2.4 1.2a1.4 1 152 1 0 2.4 -1.2M41.5 34.1a1.2 1.5 169 1 0 -2.3 .4a1.2 1.5 169 1 0 2.3 -.4"/><path fill="#6a3018" opacity="0.75" d="M69.1 -3a1.4 1.3 63 1 0 1.2 2.4a1.4 1.3 63 1 0 -1.2 -2.4M34.5 30.6a1.3 1.1 58 1 0 1.3 2.1a1.3 1.1 58 1 0 -1.3 -2.1M58.5 5.4a1 1.4 168 1 0 -2.1 .4a1 1.4 168 1 0 2.1 -.4M89.5 27.6a1.3 .9 119 1 0 -1.3 2.3a1.3 .9 119 1 0 1.3 -2.3M84.6 65.6a.8 1.1 179 1 0 -1.6 0a.8 1.1 179 1 0 1.6 0M39.7 38.4a1.4 1.3 164 1 0 -2.6 .8a1.4 1.3 164 1 0 2.6 -.8"/><path fill="#5a2a18" opacity="1.0" d="M56.7 41a1.3 1 175 1 0 -2.5 .2a1.3 1 175 1 0 2.5 -.2M89 37.8a1.3 1.1 101 1 0 -.5 2.5a1.3 1.1 101 1 0 .5 -2.5M87.1 4a.9 .9 32 1 0 1.6 1a.9 .9 32 1 0 -1.6 -1M51.3 24a1.3 1 84 1 0 .2 2.7a1.3 1 84 1 0 -.2 -2.7M94.1 19.4a1.1 .9 134 1 0 -1.5 1.5a1.1 .9 134 1 0 1.5 -1.5M54.6 68.3a1.3 1.2 43 1 0 1.9 1.8a1.3 1.2 43 1 0 -1.9 -1.8M40.1 46.2a1.3 1 31 1 0 2.3 1.4a1.3 1 31 1 0 -2.3 -1.4M71.5 10.1a1.1 .9 84 1 0 .2 2.1a1.1 .9 84 1 0 -.2 -2.1"/><path fill="#5a2a18" opacity="0.75" d="M33.4 25a.9 1.4 90 1 0 0 1.8a.9 1.4 90 1 0 0 -1.8M41.4 31.6a.8 .9 105 1 0 -.4 1.5a.8 .9 105 1 0 .4 -1.5M91.5 35.5a1.3 1 50 1 0 1.6 2a1.3 1 50 1 0 -1.6 -2M64.6 3.8a.8 1.4 167 1 0 -1.6 .4a.8 1.4 167 1 0 1.6 -.4"/></g></svg><svg x="134.9" y="531.0" width="91.9" height="69.5" viewBox="0 0 91.9 69.5" overflow="hidden"><rect width="91.9" height="69.5" fill="#d4c6cc"/><rect width="91.9" height="69.5" fill="#fff" filter="url(#f46)" opacity="1"/><rect width="91.9" height="69.5" fill="#fff" filter="url(#f47)" opacity="1"/><g fill="#fafafa" filter="url(#b30)"><path d="M37 25 C40 22 46 23 50 26 C54 27 58 28 60 31 C58 35 52 37 46 40 C41 40 37 36 36 31Z"/><path d="M32 11 C35 10 38 11 40 13 C39 15 36 16 33 15Z"/><path d="M34 69.5 L36 58 C38 54 42 52 52 48 C58 45 64 44 70 42 C76 39 82 37 92 40 L92 69.5Z"/></g><g filter="url(#b29)"><path fill="#904c28" opacity="1.0" d="M65.1 34.7a1.8 1.8 164 1 0 -3.4 .9a1.8 1.8 164 1 0 3.4 -.9M41.1 47.3a1.6 1.3 12 1 0 3.1 .7a1.6 1.3 12 1 0 -3.1 -.7M53.8 17.6a2 1.1 14 1 0 3.9 1a2 1.1 14 1 0 -3.9 -1M35.2 41.6a1.2 1.1 49 1 0 1.5 1.8a1.2 1.1 49 1 0 -1.5 -1.8M34.4 19.7a1.8 1.6 131 1 0 -2.4 2.8a1.8 1.6 131 1 0 2.4 -2.8M48.1 15.5a1.5 .9 88 1 0 .1 3a1.5 .9 88 1 0 -.1 -3M35.1 26.8a1.6 1.1 52 1 0 2 2.6a1.6 1.1 52 1 0 -2 -2.6"/><path fill="#904c28" opacity="0.75" d="M46 42.1a2 1.2 138 1 0 -3 2.6a2 1.2 138 1 0 3 -2.6M53.5 40.4a1.3 1.3 65 1 0 1.1 2.4a1.3 1.3 65 1 0 -1.1 -2.4M63.9 31.4a1.4 1.3 113 1 0 -1.1 2.6a1.4 1.3 113 1 0 1.1 -2.6M32.3 38.3a1.8 1.1 70 1 0 1.2 3.4a1.8 1.1 70 1 0 -1.2 -3.4M35.7 39.7a1.1 1.1 153 1 0 -2 1a1.1 1.1 153 1 0 2 -1M31.2 32.1a2.1 1.5 150 1 0 -3.7 2.1a2.1 1.5 150 1 0 3.7 -2.1M48.3 62.1a1.1 1.8 63 1 0 1 2a1.1 1.8 63 1 0 -1 -2M45 16.1a1.7 1.2 40 1 0 2.5 2.2a1.7 1.2 40 1 0 -2.5 -2.2M90.6 41.2a1.5 1.7 107 1 0 -.9 2.9a1.5 1.7 107 1 0 .9 -2.9M39.5 35.3a1.4 1.2 134 1 0 -2 2a1.4 1.2 134 1 0 2 -2M14.6 30.2a2.1 1.6 26 1 0 3.8 1.9a2.1 1.6 26 1 0 -3.8 -1.9M54.6 40a2.2 1.9 45 1 0 3.1 3.1a2.2 1.9 45 1 0 -3.1 -3.1M49.9 17.1a1.8 1.5 23 1 0 3.2 1.4a1.8 1.5 23 1 0 -3.2 -1.4M49.2 45.5a1.1 1.8 107 1 0 -.6 2a1.1 1.8 107 1 0 .6 -2"/><path fill="#b06a38" opacity="0.75" d="M38.1 41a2.3 1 13 1 0 4.4 1a2.3 1 13 1 0 -4.4 -1M25 62.9a1.4 1.3 158 1 0 -2.6 1.1a1.4 1.3 158 1 0 2.6 -1.1M31.4 33a1.5 1.9 165 1 0 -2.9 .7a1.5 1.9 165 1 0 2.9 -.7M79.4 22.4a1.7 1 89 1 0 .1 3.3a1.7 1 89 1 0 -.1 -3.3M64 28.4a1.8 1.3 101 1 0 -.7 3.6a1.8 1.3 101 1 0 .7 -3.6M76.2 66.4a1.8 1.4 113 1 0 -1.4 3.3a1.8 1.4 113 1 0 1.4 -3.3M35.6 8.7a1.7 1.4 25 1 0 3.2 1.5a1.7 1.4 25 1 0 -3.2 -1.5M62.9 50.2a2.1 1.3 111 1 0 -1.5 3.8a2.1 1.3 111 1 0 1.5 -3.8M56.2 13a1.1 1.4 152 1 0 -1.9 1a1.1 1.4 152 1 0 1.9 -1M28.8 24.5a1.1 1.6 31 1 0 2 1.2a1.1 1.6 31 1 0 -2 -1.2M32.1 1.5a2 1.9 119 1 0 -2 3.6a2 1.9 119 1 0 2 -3.6M62.6 31.4a1.6 .9 101 1 0 -.7 3.2a1.6 .9 101 1 0 .7 -3.2M31.6 21.4a1.1 1.2 15 1 0 2.2 .6a1.1 1.2 15 1 0 -2.2 -.6M40.2 15a2 1 73 1 0 1.1 3.9a2 1 73 1 0 -1.1 -3.9M79.3 38.7a2.1 1.4 35 1 0 3.4 2.4a2.1 1.4 35 1 0 -3.4 -2.4M38.1 25.2a1.7 1.1 45 1 0 2.4 2.4a1.7 1.1 45 1 0 -2.4 -2.4M45.3 16.1a1.5 .9 80 1 0 .5 2.9a1.5 .9 80 1 0 -.5 -2.9M41.3 38.2a1.2 1.3 40 1 0 1.8 1.5a1.2 1.3 40 1 0 -1.8 -1.5M27.5 26.3a2.1 1.1 34 1 0 3.4 2.3a2.1 1.1 34 1 0 -3.4 -2.3M15.7 28.2a2.3 1 36 1 0 3.6 2.7a2.3 1 36 1 0 -3.6 -2.7M53.2 20.6a1.6 1.3 119 1 0 -1.5 2.7a1.6 1.3 119 1 0 1.5 -2.7M40.6 17.4a1.3 1.1 11 1 0 2.5 .5a1.3 1.1 11 1 0 -2.5 -.5M42.9 45.8a2 1.1 64 1 0 1.7 3.6a2 1.1 64 1 0 -1.7 -3.6"/><path fill="#bc7a48" opacity="0.75" d="M16.1 8.3a1.3 1.7 76 1 0 .6 2.5a1.3 1.7 76 1 0 -.6 -2.5M71.1 14.2a1.1 1.2 125 1 0 -1.3 1.9a1.1 1.2 125 1 0 1.3 -1.9M49.7 42.9a1.5 1.4 70 1 0 1 2.9a1.5 1.4 70 1 0 -1 -2.9M33.3 63.7a1.8 1 7 1 0 3.6 .5a1.8 1 7 1 0 -3.6 -.5M48.9 52.8a2.1 1 136 1 0 -3.1 2.9a2.1 1 136 1 0 3.1 -2.9M38 22.2a1.8 1.4 166 1 0 -3.5 .8a1.8 1.4 166 1 0 3.5 -.8M54.8 20.6a1.5 1.3 77 1 0 .7 3a1.5 1.3 77 1 0 -.7 -3M50.9 37.9a1.7 1.1 49 1 0 2.3 2.6a1.7 1.1 49 1 0 -2.3 -2.6M73.9 24.6a2.2 1.3 112 1 0 -1.7 4.1a2.2 1.3 112 1 0 1.7 -4.1M46.5 15.7a1.6 1.6 103 1 0 -.7 3.1a1.6 1.6 103 1 0 .7 -3.1M71.7 5.2a1 1.8 24 1 0 1.8 .8a1 1.8 24 1 0 -1.8 -.8M40.1 40.1a1.7 1.6 124 1 0 -1.9 2.7a1.7 1.6 124 1 0 1.9 -2.7M31.2 26.4a1.2 1.4 57 1 0 1.3 2a1.2 1.4 57 1 0 -1.3 -2M31 33.9a1.5 1.8 6 1 0 2.9 .3a1.5 1.8 6 1 0 -2.9 -.3M35.6 18.5a1.6 1.8 88 1 0 .1 3.3a1.6 1.8 88 1 0 -.1 -3.3M44.7 18.4a1.1 1.1 64 1 0 1 2a1.1 1.1 64 1 0 -1 -2"/><path fill="#a05a30" opacity="0.75" d="M23.3 18.2a1.3 1.7 51 1 0 1.6 2a1.3 1.7 51 1 0 -1.6 -2M65.2 28.5a1 1.9 149 1 0 -1.8 1.1a1 1.9 149 1 0 1.8 -1.1M74.7 39.9a2.2 1.2 38 1 0 3.5 2.8a2.2 1.2 38 1 0 -3.5 -2.8M27.4 50.6a1.9 1.4 131 1 0 -2.6 2.9a1.9 1.4 131 1 0 2.6 -2.9M90 48.4a2 1.6 43 1 0 2.9 2.8a2 1.6 43 1 0 -2.9 -2.8M35.9 39.2a2.2 1.3 96 1 0 -.5 4.5a2.2 1.3 96 1 0 .5 -4.5M28.9 34a1.8 1 34 1 0 3 2.1a1.8 1 34 1 0 -3 -2.1M31.3 30.2a1.6 1.7 70 1 0 1.1 3.1a1.6 1.7 70 1 0 -1.1 -3.1M46.4 41a1.6 1.7 113 1 0 -1.3 2.9a1.6 1.7 113 1 0 1.3 -2.9M46 42.5a1.4 1.8 59 1 0 1.4 2.3a1.4 1.8 59 1 0 -1.4 -2.3M47.9 19.6a1.8 1.3 108 1 0 -1.1 3.3a1.8 1.3 108 1 0 1.1 -3.3M49.4 19.8a1.5 1.6 84 1 0 .3 3.1a1.5 1.6 84 1 0 -.3 -3.1M56.5 24.2a1.4 1.4 23 1 0 2.5 1.1a1.4 1.4 23 1 0 -2.5 -1.1M47.7 52.7a2.1 1.7 131 1 0 -2.8 3.2a2.1 1.7 131 1 0 2.8 -3.2M38.3 24.2a1 1.8 15 1 0 1.9 .5a1 1.8 15 1 0 -1.9 -.5"/><path fill="#c88c58" opacity="1.0" d="M37.6 53a1.4 1.4 138 1 0 -2.1 1.9a1.4 1.4 138 1 0 2.1 -1.9M54.5 22.4a1.2 1.6 94 1 0 -.2 2.4a1.2 1.6 94 1 0 .2 -2.4M30.5 5.9a2.3 1 24 1 0 4.1 1.9a2.3 1 24 1 0 -4.1 -1.9M8.6 33.1a2.3 1.6 22 1 0 4.2 1.7a2.3 1.6 22 1 0 -4.2 -1.7M39.5 50.8a1.3 1.5 71 1 0 .8 2.4a1.3 1.5 71 1 0 -.8 -2.4M78 53.4a1.4 1.1 118 1 0 -1.4 2.5a1.4 1.1 118 1 0 1.4 -2.5M40 37.9a2 1 20 1 0 3.7 1.4a2 1 20 1 0 -3.7 -1.4M49.6 39.2a1.4 1.8 96 1 0 -.3 2.8a1.4 1.8 96 1 0 .3 -2.8"/><path fill="#c88c58" opacity="0.75" d="M16.9 5.2a1.7 1.4 39 1 0 2.6 2.2a1.7 1.4 39 1 0 -2.6 -2.2M36.9 50.6a1.5 1.9 77 1 0 .7 2.9a1.5 1.9 77 1 0 -.7 -2.9M34.2 34.1a1.3 1.8 137 1 0 -1.8 1.7a1.3 1.8 137 1 0 1.8 -1.7M38.5 46.7a2 1.2 29 1 0 3.5 2a2 1.2 29 1 0 -3.5 -2M41 20.1a2 1.5 114 1 0 -1.7 3.7a2 1.5 114 1 0 1.7 -3.7M42.7 36a1.8 1.9 136 1 0 -2.6 2.5a1.8 1.9 136 1 0 2.6 -2.5M51.5 19.5a2 1 33 1 0 3.4 2.2a2 1 33 1 0 -3.4 -2.2M54.6 42.5a1.2 1.7 67 1 0 .9 2.3a1.2 1.7 67 1 0 -.9 -2.3M40.6 18.2a1.8 1.9 41 1 0 2.7 2.4a1.8 1.9 41 1 0 -2.7 -2.4M36.3 27.2a2 1 4 1 0 3.9 .3a2 1 4 1 0 -3.9 -.3M49.9 40.3a1.4 1.4 107 1 0 -.8 2.6a1.4 1.4 107 1 0 .8 -2.6M81.2 22a1.7 1.6 95 1 0 -.3 3.5a1.7 1.6 95 1 0 .3 -3.5M61.3 36.2a1.2 1.5 143 1 0 -2 1.5a1.2 1.5 143 1 0 2 -1.5M31.6 39a1.1 1.6 3 1 0 2.1 .1a1.1 1.6 3 1 0 -2.1 -.1M61.6 36.8a1.2 1.6 138 1 0 -1.9 1.6a1.2 1.6 138 1 0 1.9 -1.6M37.4 37.4a2.2 1.8 68 1 0 1.6 4.2a2.2 1.8 68 1 0 -1.6 -4.2M59.2 21.6a1.4 1.3 157 1 0 -2.5 1.1a1.4 1.3 157 1 0 2.5 -1.1M48.4 45.1a2.2 .9 41 1 0 3.2 2.9a2.2 .9 41 1 0 -3.2 -2.9M29.7 27.1a1.5 1.3 57 1 0 1.6 2.6a1.5 1.3 57 1 0 -1.6 -2.6M31.1 35.1a1.6 1.1 29 1 0 2.7 1.5a1.6 1.1 29 1 0 -2.7 -1.5"/><path fill="#b06a38" opacity="1.0" d="M44.1 22.3a1.4 2 122 1 0 -1.5 2.3a1.4 2 122 1 0 1.5 -2.3M39.6 42.2a1.4 1.1 79 1 0 .5 2.8a1.4 1.1 79 1 0 -.5 -2.8M31.9 37.2a2.3 1.7 52 1 0 2.8 3.6a2.3 1.7 52 1 0 -2.8 -3.6M40.6 39.9a2.2 1.4 173 1 0 -4.3 .5a2.2 1.4 173 1 0 4.3 -.5"/><path fill="#bc7a48" opacity="1.0" d="M57.1 .3a1.2 1 146 1 0 -2 1.3a1.2 1 146 1 0 2 -1.3M57.7 17.3a1.9 1.2 98 1 0 -.6 3.8a1.9 1.2 98 1 0 .6 -3.8M55.5 35.2a2 1.5 114 1 0 -1.6 3.6a2 1.5 114 1 0 1.6 -3.6M55.2 52.1a1.2 1.4 82 1 0 .3 2.3a1.2 1.4 82 1 0 -.3 -2.3M30 28.1a1.6 1.4 146 1 0 -2.7 1.8a1.6 1.4 146 1 0 2.7 -1.8M79.8 57.1a1.3 1.3 89 1 0 0 2.5a1.3 1.3 89 1 0 0 -2.5M86.8 40.9a1.3 1.6 50 1 0 1.6 2a1.3 1.6 50 1 0 -1.6 -2M44.2 17a2 1.1 30 1 0 3.4 2a2 1.1 30 1 0 -3.4 -2M6.9 9.5a2.3 1.3 97 1 0 -.6 4.5a2.3 1.3 97 1 0 .6 -4.5M40.8 9.2a1.2 1 29 1 0 2.1 1.2a1.2 1 29 1 0 -2.1 -1.2M32.4 25.9a1.8 1.8 112 1 0 -1.4 3.2a1.8 1.8 112 1 0 1.4 -3.2"/><path fill="#a05a30" opacity="1.0" d="M63.2 27.6a1.4 1.1 139 1 0 -2 1.8a1.4 1.1 139 1 0 2 -1.8M47.5 49a1.8 1.4 18 1 0 3.4 1.1a1.8 1.4 18 1 0 -3.4 -1.1M80 36a1.8 1.3 46 1 0 2.4 2.5a1.8 1.3 46 1 0 -2.4 -2.5"/><path fill="#c88c58" opacity="0.5" d="M35.6 57.1a1.4 1.3 117 1 0 -1.3 2.5a1.4 1.3 117 1 0 1.3 -2.5M41.5 49.4a1.4 1.8 78 1 0 .6 2.8a1.4 1.8 78 1 0 -.6 -2.8M46.4 44.4a1.6 1.2 137 1 0 -2.4 2.2a1.6 1.2 137 1 0 2.4 -2.2"/><path fill="#904c28" opacity="0.5" d="M60.2 26.2a2 1 60 1 0 2 3.4a2 1 60 1 0 -2 -3.4M41 24.3a1.4 1 1 1 0 2.7 .1a1.4 1 1 1 0 -2.7 -.1"/><path fill="#a05a30" opacity="0.5" d="M55.2 17.8a2.2 1.8 174 1 0 -4.4 .5a2.2 1.8 174 1 0 4.4 -.5"/><path fill="#bc7a48" opacity="0.5" d="M48.6 48.3a1.2 1.7 70 1 0 .8 2.3a1.2 1.7 70 1 0 -.8 -2.3"/><path fill="#b06a38" opacity="0.5" d="M40.7 48.3a2 1.1 7 1 0 4 .6a2 1.1 7 1 0 -4 -.6M43.2 17a1.8 1.5 47 1 0 2.5 2.7a1.8 1.5 47 1 0 -2.5 -2.7"/></g><circle cx="2.5" cy="37.5" r="2.2" fill="#3a1a18"/><circle cx="84" cy="38" r="2" fill="#a86040" opacity="0.8"/><circle cx="88" cy="64" r="1.8" fill="#a86040" opacity="0.7"/></svg><svg x="229.0" y="531.0" width="92.4" height="69.5" viewBox="0 0 92.4 69.5" overflow="hidden"><rect width="92.4" height="69.5" fill="#d8cecd"/><rect width="92.4" height="69.5" fill="#fff" filter="url(#f48)" opacity="1"/><rect width="92.4" height="69.5" fill="#fff" filter="url(#f49)" opacity="1"/><g fill="#fafafa" filter="url(#b30)"><path d="M92.4 12 C86 18 82 23 78 26 C72 30 66 33 61 36 C61 40 62 44 64 47 C66 51 70 55 76 58 L92.4 58Z"/><path d="M20 33.5 C26 34 32 38 36 43 C34 50 26 58 18 61.5 C12 58 8 53 7 47 C9 40 14 35 20 33.5Z"/></g><g filter="url(#b29)"><path fill="#904c28" opacity="1.0" d="M21.2 62.7a1.3 .9 122 1 0 -1.3 2.1a1.3 .9 122 1 0 1.3 -2.1M59 58.8a1.6 1.5 56 1 0 1.8 2.6a1.6 1.5 56 1 0 -1.8 -2.6M44.8 69.9a1.2 1 102 1 0 -.5 2.4a1.2 1 102 1 0 .5 -2.4"/><path fill="#8a6a5a" opacity="0.75" d="M73.1 49.8a2.1 1.6 126 1 0 -2.5 3.3a2.1 1.6 126 1 0 2.5 -3.3M67 39.1a1.1 1.6 172 1 0 -2.2 .3a1.1 1.6 172 1 0 2.2 -.3M67.6 56.8a1.4 1.5 35 1 0 2.2 1.6a1.4 1.5 35 1 0 -2.2 -1.6M40.2 61.3a1.8 1.9 88 1 0 .1 3.6a1.8 1.9 88 1 0 -.1 -3.6M48.4 69.2a1.7 1.3 154 1 0 -3 1.5a1.7 1.3 154 1 0 3 -1.5M71.3 70.5a1.9 1.7 170 1 0 -3.7 .6a1.9 1.7 170 1 0 3.7 -.6M9.2 69.1a1 1.2 77 1 0 .5 2a1 1.2 77 1 0 -.5 -2M57 64.5a1.7 1 147 1 0 -2.9 1.8a1.7 1 147 1 0 2.9 -1.8M28.3 66.7a1.2 1.7 53 1 0 1.4 1.9a1.2 1.7 53 1 0 -1.4 -1.9M25.8 41.7a1.9 1.4 114 1 0 -1.6 3.4a1.9 1.4 114 1 0 1.6 -3.4M15.2 48.3a1.7 1.4 160 1 0 -3.2 1.1a1.7 1.4 160 1 0 3.2 -1.1M89.3 11a1.5 1.8 36 1 0 2.4 1.8a1.5 1.8 36 1 0 -2.4 -1.8M52.8 68.8a1.3 1.5 70 1 0 .8 2.4a1.3 1.5 70 1 0 -.8 -2.4"/><path fill="#c88c58" opacity="0.5" d="M8.3 64.6a1.4 1.6 103 1 0 -.6 2.8a1.4 1.6 103 1 0 .6 -2.8M59.3 59.2a1.3 1.6 144 1 0 -2.1 1.5a1.3 1.6 144 1 0 2.1 -1.5M37.8 40.5a1.9 1 98 1 0 -.5 3.7a1.9 1 98 1 0 .5 -3.7M51.4 64.4a1.8 1.4 62 1 0 1.7 3.2a1.8 1.4 62 1 0 -1.7 -3.2M32.2 47.3a1.8 1 99 1 0 -.6 3.6a1.8 1 99 1 0 .6 -3.6M9.1 65.3a1.3 .9 6 1 0 2.6 .3a1.3 .9 6 1 0 -2.6 -.3M17.2 67.8a1.6 1.5 108 1 0 -1 3a1.6 1.5 108 1 0 1 -3M40.4 66.3a1.3 1 68 1 0 .9 2.4a1.3 1 68 1 0 -.9 -2.4M49.8 69.5a1.4 1 49 1 0 1.8 2.1a1.4 1 49 1 0 -1.8 -2.1M89.5 10.7a1.6 1.6 113 1 0 -1.3 2.9a1.6 1.6 113 1 0 1.3 -2.9M59.8 56.4a1.1 1.6 7 1 0 2.2 .3a1.1 1.6 7 1 0 -2.2 -.3M40.6 69.8a1.4 1.1 111 1 0 -1.1 2.6a1.4 1.1 111 1 0 1.1 -2.6"/><path fill="#bc7a48" opacity="0.5" d="M31.1 61.4a2 1 93 1 0 -.2 4a2 1 93 1 0 .2 -4M28.7 54.4a1.9 1.6 171 1 0 -3.7 .6a1.9 1.6 171 1 0 3.7 -.6"/><path fill="#b06a38" opacity="0.75" d="M36.4 54.1a2 1.7 178 1 0 -4 .1a2 1.7 178 1 0 4 -.1M-2.5 56.7a1.2 1.1 37 1 0 1.9 1.5a1.2 1.1 37 1 0 -1.9 -1.5M33.7 66.2a2 1.9 68 1 0 1.4 3.6a2 1.9 68 1 0 -1.4 -3.6M7.4 38a2 .9 110 1 0 -1.5 3.8a2 .9 110 1 0 1.5 -3.8M32.4 61.6a1.9 1.1 51 1 0 2.4 3a1.9 1.1 51 1 0 -2.4 -3M60.3 59.9a1.7 1.8 46 1 0 2.3 2.4a1.7 1.8 46 1 0 -2.3 -2.4M87.4 53.2a1.9 .9 31 1 0 3.2 1.9a1.9 .9 31 1 0 -3.2 -1.9M16 62.5a1.4 1.1 11 1 0 2.8 .6a1.4 1.1 11 1 0 -2.8 -.6M12.3 44.8a1.3 1.5 68 1 0 .9 2.4a1.3 1.5 68 1 0 -.9 -2.4M58.6 59.7a1.3 1.8 118 1 0 -1.2 2.2a1.3 1.8 118 1 0 1.2 -2.2M91.6 67.1a1.6 1.3 52 1 0 2 2.6a1.6 1.3 52 1 0 -2 -2.6M36.3 41a1.6 1.9 128 1 0 -2 2.5a1.6 1.9 128 1 0 2 -2.5M4.2 60.5a1.9 1.9 136 1 0 -2.8 2.6a1.9 1.9 136 1 0 2.8 -2.6M78.3 70.6a1.2 1.9 32 1 0 2 1.3a1.2 1.9 32 1 0 -2 -1.3"/><path fill="#a05a30" opacity="0.75" d="M58.9 58.1a2.1 1.7 74 1 0 1.1 4a2.1 1.7 74 1 0 -1.1 -4M25 66.9a2.1 1 1 1 0 4.1 .1a2.1 1 1 1 0 -4.1 -.1M26.2 67.4a1.9 1.2 2 1 0 3.7 .2a1.9 1.2 2 1 0 -3.7 -.2M43.4 61.4a1.5 1 40 1 0 2.3 2a1.5 1 40 1 0 -2.3 -2M80.9 69.8a2.1 1.3 51 1 0 2.6 3.2a2.1 1.3 51 1 0 -2.6 -3.2M45.1 58.8a1.1 1.8 112 1 0 -.8 1.9a1.1 1.8 112 1 0 .8 -1.9M51.1 65.2a1.5 1.3 167 1 0 -3 .6a1.5 1.3 167 1 0 3 -.6M93.6 9.9a1.1 1.2 165 1 0 -2.1 .5a1.1 1.2 165 1 0 2.1 -.5M29.3 43.7a1.9 1.7 103 1 0 -.9 3.8a1.9 1.7 103 1 0 .9 -3.8M82.4 61.2a1.4 1.5 47 1 0 1.9 2.1a1.4 1.5 47 1 0 -1.9 -2.1M56 59.5a1.4 1.1 90 1 0 0 2.9a1.4 1.1 90 1 0 0 -2.9M75.3 53.2a2 1.4 115 1 0 -1.7 3.5a2 1.4 115 1 0 1.7 -3.5"/><path fill="#bc7a48" opacity="0.75" d="M69.3 44a1.9 1.5 147 1 0 -3.2 2a1.9 1.5 147 1 0 3.2 -2M79.4 62.1a1.9 1.7 143 1 0 -3.1 2.3a1.9 1.7 143 1 0 3.1 -2.3M21.7 35.7a1.8 1 135 1 0 -2.6 2.5a1.8 1 135 1 0 2.6 -2.5M83.9 38.3a1.6 1.7 138 1 0 -2.4 2.1a1.6 1.7 138 1 0 2.4 -2.1M48.4 65.5a1.2 1.8 134 1 0 -1.7 1.7a1.2 1.8 134 1 0 1.7 -1.7M36.8 57.5a1.4 1.6 3 1 0 2.8 .1a1.4 1.6 3 1 0 -2.8 -.1M17.8 -.1a1.9 1.3 145 1 0 -3.1 2.2a1.9 1.3 145 1 0 3.1 -2.2M45.6 57.4a1.1 1.7 143 1 0 -1.8 1.3a1.1 1.7 143 1 0 1.8 -1.3M17.4 69.5a1.2 1.3 147 1 0 -2.1 1.3a1.2 1.3 147 1 0 2.1 -1.3M20.3 57.9a1 1.2 15 1 0 1.9 .5a1 1.2 15 1 0 -1.9 -.5M82.4 66.8a1.1 1.9 157 1 0 -2.1 .9a1.1 1.9 157 1 0 2.1 -.9M45 59.2a2.1 1.5 73 1 0 1.2 4a2.1 1.5 73 1 0 -1.2 -4M35.2 58.1a1.2 1.3 85 1 0 .2 2.5a1.2 1.3 85 1 0 -.2 -2.5M83.2 .1a1 2 113 1 0 -.8 1.9a1 2 113 1 0 .8 -1.9M80.3 62.6a1.5 1.7 72 1 0 .9 2.9a1.5 1.7 72 1 0 -.9 -2.9"/><path fill="#904c28" opacity="0.5" d="M31.1 64.8a1.1 2 94 1 0 -.2 2.3a1.1 2 94 1 0 .2 -2.3M74.2 65.2a1.8 1.5 173 1 0 -3.5 .4a1.8 1.5 173 1 0 3.5 -.4M74 58.1a1 1.2 129 1 0 -1.3 1.6a1 1.2 129 1 0 1.3 -1.6M28.8 68.3a1.9 1.6 174 1 0 -3.8 .4a1.9 1.6 174 1 0 3.8 -.4"/><path fill="#904c28" opacity="0.75" d="M61.2 68.2a1.4 .9 153 1 0 -2.6 1.3a1.4 .9 153 1 0 2.6 -1.3M8.1 36.9a1.1 1 166 1 0 -2.1 .5a1.1 1 166 1 0 2.1 -.5M12.4 45.6a1.5 1.2 0 1 0 2.9 0a1.5 1.2 0 1 0 -2.9 0M48.1 70a2.1 1.3 38 1 0 3.3 2.6a2.1 1.3 38 1 0 -3.3 -2.6M47.4 64.3a2.1 1.4 42 1 0 3 2.8a2.1 1.4 42 1 0 -3 -2.8M32.5 47.5a1 .9 53 1 0 1.2 1.6a1 .9 53 1 0 -1.2 -1.6M34.8 47.8a1 1.5 156 1 0 -1.9 .8a1 1.5 156 1 0 1.9 -.8M52.8 57.1a1.7 1.6 115 1 0 -1.4 3a1.7 1.6 115 1 0 1.4 -3M47.5 62a1.7 1.6 101 1 0 -.7 3.3a1.7 1.6 101 1 0 .7 -3.3M34.8 59.1a2.1 1 178 1 0 -4.3 .1a2.1 1 178 1 0 4.3 -.1"/><path fill="#c88c58" opacity="0.75" d="M52.3 70.4a1.7 1.4 150 1 0 -2.9 1.6a1.7 1.4 150 1 0 2.9 -1.6M20.6 53.6a2 1.4 121 1 0 -2.1 3.5a2 1.4 121 1 0 2.1 -3.5M74.1 61.1a1.4 2 59 1 0 1.4 2.4a1.4 2 59 1 0 -1.4 -2.4M70.8 59.9a1.4 1.8 60 1 0 1.4 2.4a1.4 1.8 60 1 0 -1.4 -2.4M13.3 67.4a1.1 2 96 1 0 -.3 2.1a1.1 2 96 1 0 .3 -2.1M59.4 39.6a1.1 1.9 107 1 0 -.6 2a1.1 1.9 107 1 0 .6 -2M34.6 60.7a1.4 1.9 168 1 0 -2.7 .5a1.4 1.9 168 1 0 2.7 -.5M51.8 68.1a1.8 1.8 107 1 0 -1.1 3.4a1.8 1.8 107 1 0 1.1 -3.4M64.8 66a1.6 1.6 155 1 0 -2.9 1.3a1.6 1.6 155 1 0 2.9 -1.3M32.2 40.4a1.5 1 24 1 0 2.7 1.2a1.5 1 24 1 0 -2.7 -1.2M12.9 69a1.8 1.7 178 1 0 -3.6 .1a1.8 1.7 178 1 0 3.6 -.1M35.5 32.6a1.8 2 26 1 0 3.3 1.7a1.8 2 26 1 0 -3.3 -1.7M57.1 66.5a1 1.1 51 1 0 1.3 1.6a1 1.1 51 1 0 -1.3 -1.6"/><path fill="#b06a38" opacity="0.5" d="M57.2 56.1a1.5 1.3 69 1 0 1.1 2.9a1.5 1.3 69 1 0 -1.1 -2.9M5.5 36.4a1.4 1.4 42 1 0 2.1 1.9a1.4 1.4 42 1 0 -2.1 -1.9M17.9 58.4a1.6 1.8 103 1 0 -.7 3.1a1.6 1.8 103 1 0 .7 -3.1M72.6 34.6a1.4 1.5 68 1 0 1 2.6a1.4 1.5 68 1 0 -1 -2.6M62.9 62.8a1.4 1.8 64 1 0 1.2 2.5a1.4 1.8 64 1 0 -1.2 -2.5"/><path fill="#8a6a5a" opacity="1.0" d="M24.6 68.3a2.1 1 85 1 0 .3 4.2a2.1 1 85 1 0 -.3 -4.2"/><path fill="#a05a30" opacity="0.5" d="M32.7 61.6a2.1 1.1 68 1 0 1.5 3.8a2.1 1.1 68 1 0 -1.5 -3.8M11 69.3a1.7 1 43 1 0 2.5 2.4a1.7 1 43 1 0 -2.5 -2.4M39.4 57.3a1.9 1.3 144 1 0 -3 2.2a1.9 1.3 144 1 0 3 -2.2M23.9 43.5a1.9 1 61 1 0 1.8 3.3a1.9 1 61 1 0 -1.8 -3.3M4.8 33a1.6 1.8 37 1 0 2.6 2a1.6 1.8 37 1 0 -2.6 -2M2.9 68.4a1.8 1.3 131 1 0 -2.5 2.7a1.8 1.3 131 1 0 2.5 -2.7M15.7 69.3a1.9 1.9 19 1 0 3.6 1.3a1.9 1.9 19 1 0 -3.6 -1.3M91.9 65a1.2 1 82 1 0 .3 2.4a1.2 1 82 1 0 -.3 -2.4"/><path fill="#c88c58" opacity="1.0" d="M9.6 67.1a1.1 1.7 177 1 0 -2.3 .1a1.1 1.7 177 1 0 2.3 -.1M17.3 49.2a1.8 1.6 116 1 0 -1.6 3.2a1.8 1.6 116 1 0 1.6 -3.2M60.3 31.6a1.2 1.3 171 1 0 -2.4 .4a1.2 1.3 171 1 0 2.4 -.4"/><path fill="#b06a38" opacity="1.0" d="M12 29.7a2 1.4 29 1 0 3.5 2a2 1.4 29 1 0 -3.5 -2M60.5 41.1a2 2 90 1 0 -.1 4.1a2 2 90 1 0 .1 -4.1M49.4 65.3a1.3 1 129 1 0 -1.6 2a1.3 1 129 1 0 1.6 -2M.2 67.9a1.6 1.1 42 1 0 2.4 2.2a1.6 1.1 42 1 0 -2.4 -2.2M85.9 22.4a1.7 1.2 164 1 0 -3.3 .9a1.7 1.2 164 1 0 3.3 -.9"/><path fill="#a05a30" opacity="1.0" d="M82 59.3a2 1.1 76 1 0 .9 3.9a2 1.1 76 1 0 -.9 -3.9M31 63a1.5 1.2 105 1 0 -.8 2.9a1.5 1.2 105 1 0 .8 -2.9M73.5 58.1a1.7 1.6 89 1 0 0 3.3a1.7 1.6 89 1 0 0 -3.3M27.4 56.4a1.3 1.5 129 1 0 -1.6 1.9a1.3 1.5 129 1 0 1.6 -1.9"/><path fill="#8a6a5a" opacity="0.5" d="M22.7 70a1.8 1 1 1 0 3.6 .1a1.8 1 1 1 0 -3.6 -.1M26.3 55.2a1.9 1.6 26 1 0 3.3 1.7a1.9 1.6 26 1 0 -3.3 -1.7M94.4 68.8a2 1.6 98 1 0 -.6 3.9a2 1.6 98 1 0 .6 -3.9M29.6 55.9a2.2 1.4 111 1 0 -1.6 4.1a2.2 1.4 111 1 0 1.6 -4.1"/><path fill="#bc7a48" opacity="1.0" d="M29.3 63.6a1.6 1.4 174 1 0 -3.1 .3a1.6 1.4 174 1 0 3.1 -.3M21 29.6a2 1.9 160 1 0 -3.7 1.3a2 1.9 160 1 0 3.7 -1.3"/></g><ellipse cx="13" cy="5" rx="3" ry="4" fill="#b07a5a" opacity="0.8"/><circle cx="62" cy="37" r="1.6" fill="#2a1410"/></svg><svg x="323.8" y="531.0" width="92.2" height="69.5" viewBox="0 0 92.2 69.5" overflow="hidden"><rect width="92.2" height="69.5" fill="#d4c8cc"/><rect width="92.2" height="69.5" fill="#fff" filter="url(#f50)" opacity="1"/><rect width="92.2" height="69.5" fill="#fff" filter="url(#f51)" opacity="1"/><path d="M0 56 C6 50 14 40 22 30 C30 24 40 22 48 18 C56 14 62 8 70 4 C76 1 84 0 92.2 0 L0 0Z" fill="#efeeee"/><path d="M0 56 C6 50 14 40 22 30 C30 24 40 22 48 18 C56 14 62 8 70 4 C76 1 84 0 92.2 0" fill="none" stroke="#b98060" stroke-width="2.5" filter="url(#b30)" opacity="0.7"/><g filter="url(#b29)"><path fill="#c08a60" opacity="0.75" d="M92.4 -1.1a1.7 1.8 100 1 0 -.6 3.3a1.7 1.8 100 1 0 .6 -3.3M37 22.1a.9 1.5 119 1 0 -.9 1.6a.9 1.5 119 1 0 .9 -1.6M41.1 16.9a1.4 1.3 5 1 0 2.8 .3a1.4 1.3 5 1 0 -2.8 -.3M26.5 26a1.5 .9 52 1 0 1.8 2.3a1.5 .9 52 1 0 -1.8 -2.3M52.1 15.5a1.6 1 51 1 0 1.9 2.4a1.6 1 51 1 0 -1.9 -2.4M65.6 3.9a2 1.8 123 1 0 -2.2 3.3a2 1.8 123 1 0 2.2 -3.3M20.1 32.5a1.2 1 122 1 0 -1.3 2a1.2 1 122 1 0 1.3 -2M41.5 18.5a1.5 1.8 148 1 0 -2.5 1.6a1.5 1.8 148 1 0 2.5 -1.6M73.9 2.5a1.1 1.3 153 1 0 -2 1a1.1 1.3 153 1 0 2 -1"/><path fill="#a86a40" opacity="1.0" d="M79.3 -3.2a1.8 1.6 122 1 0 -1.9 3a1.8 1.6 122 1 0 1.9 -3M70.5 .8a1.4 1.1 48 1 0 1.9 2.1a1.4 1.1 48 1 0 -1.9 -2.1M43.1 20.7a1.2 1.7 101 1 0 -.5 2.4a1.2 1.7 101 1 0 .5 -2.4M15.7 36.2a1 1.2 9 1 0 2 .3a1 1.2 9 1 0 -2 -.3M26.2 24.8a1.4 1.8 26 1 0 2.5 1.3a1.4 1.8 26 1 0 -2.5 -1.3M5.3 44.9a1.4 1.1 54 1 0 1.6 2.3a1.4 1.1 54 1 0 -1.6 -2.3"/><path fill="#8a4a28" opacity="1.0" d="M1.2 48.9a.9 1.6 0 1 0 1.8 0a.9 1.6 0 1 0 -1.8 0M29.4 29.1a1.6 1.4 177 1 0 -3.3 .1a1.6 1.4 177 1 0 3.3 -.1M71.6 3.6a1.4 1 124 1 0 -1.6 2.4a1.4 1 124 1 0 1.6 -2.4M-2 55.9a1.9 1.8 76 1 0 .9 3.7a1.9 1.8 76 1 0 -.9 -3.7M27.3 27.8a1.1 1.1 129 1 0 -1.4 1.6a1.1 1.1 129 1 0 1.4 -1.6M45.5 16.1a1.5 1.3 73 1 0 .9 3a1.5 1.3 73 1 0 -.9 -3M6.2 48.1a1.1 1.5 16 1 0 2.2 .6a1.1 1.5 16 1 0 -2.2 -.6M75.9 2.6a.9 1.8 47 1 0 1.2 1.3a.9 1.8 47 1 0 -1.2 -1.3"/><path fill="#8a4a28" opacity="0.5" d="M72.5 1.6a1.7 1.2 100 1 0 -.6 3.4a1.7 1.2 100 1 0 .6 -3.4M52.7 12.2a1.5 1.2 80 1 0 .5 2.9a1.5 1.2 80 1 0 -.5 -2.9M54.5 11.1a1.3 1 68 1 0 1 2.5a1.3 1 68 1 0 -1 -2.5M74 4a1.2 .8 103 1 0 -.6 2.3a1.2 .8 103 1 0 .6 -2.3"/><path fill="#8a4a28" opacity="0.75" d="M11.5 42.6a1.4 1.5 162 1 0 -2.6 .8a1.4 1.5 162 1 0 2.6 -.8M91.5 -1.9a1.8 1.4 90 1 0 0 3.6a1.8 1.4 90 1 0 0 -3.6M54.7 14.6a1.6 1.3 152 1 0 -2.8 1.4a1.6 1.3 152 1 0 2.8 -1.4M71 1.5a1.5 .8 115 1 0 -1.2 2.6a1.5 .8 115 1 0 1.2 -2.6M57.6 13.4a1.1 1.2 2 1 0 2.2 .1a1.1 1.2 2 1 0 -2.2 -.1M42 17.3a1.6 2 66 1 0 1.2 2.9a1.6 2 66 1 0 -1.2 -2.9M24.7 27.5a1.1 1.8 118 1 0 -1.1 2a1.1 1.8 118 1 0 1.1 -2M61.4 12.3a1.1 1.1 144 1 0 -1.9 1.3a1.1 1.1 144 1 0 1.9 -1.3M67.6 1.8a1.2 1.4 130 1 0 -1.5 1.8a1.2 1.4 130 1 0 1.5 -1.8M42.9 21.9a1.2 1.9 94 1 0 -.2 2.4a1.2 1.9 94 1 0 .2 -2.4M45.4 16.8a1.1 1.4 9 1 0 2.1 .3a1.1 1.4 9 1 0 -2.1 -.3M33.4 24.6a1.8 1.4 179 1 0 -3.6 0a1.8 1.4 179 1 0 3.6 0M72.2 1.5a1 1 48 1 0 1.4 1.6a1 1 48 1 0 -1.4 -1.6M26.6 29.5a1.5 1.8 130 1 0 -1.9 2.3a1.5 1.8 130 1 0 1.9 -2.3"/><path fill="#c08a60" opacity="0.5" d="M48.9 18.3a1.4 1.3 62 1 0 1.3 2.5a1.4 1.3 62 1 0 -1.3 -2.5"/><path fill="#b87a50" opacity="0.75" d="M47.4 18.9a1.9 1.4 114 1 0 -1.5 3.5a1.9 1.4 114 1 0 1.5 -3.5M10.3 47.5a1.1 1.1 177 1 0 -2.2 .1a1.1 1.1 177 1 0 2.2 -.1M39.5 19.4a1.7 1.2 42 1 0 2.4 2.2a1.7 1.2 42 1 0 -2.4 -2.2M71 4.7a1.7 1 48 1 0 2.3 2.6a1.7 1 48 1 0 -2.3 -2.6M53.1 11.8a1 1.9 91 1 0 0 2a1 1.9 91 1 0 0 -2M31.3 26.9a.9 1.3 135 1 0 -1.2 1.2a.9 1.3 135 1 0 1.2 -1.2M26.5 29.6a1.6 1.7 118 1 0 -1.5 2.8a1.6 1.7 118 1 0 1.5 -2.8M50.7 14.9a1.8 1.9 90 1 0 0 3.6a1.8 1.9 90 1 0 0 -3.6M66.7 5.7a.9 1.6 167 1 0 -1.8 .4a.9 1.6 167 1 0 1.8 -.4M50.3 14.8a1.1 1 1 1 0 2.1 0a1.1 1 1 1 0 -2.1 0M90.5 -.7a1.3 .9 169 1 0 -2.5 .5a1.3 .9 169 1 0 2.5 -.5M93.1 -1a1.8 2 120 1 0 -1.8 3.1a1.8 2 120 1 0 1.8 -3.1M28 22.8a1.7 1.5 3 1 0 3.3 .2a1.7 1.5 3 1 0 -3.3 -.2"/><path fill="#a86a40" opacity="0.75" d="M28 25.2a2 1.8 43 1 0 2.9 2.7a2 1.8 43 1 0 -2.9 -2.7M15.8 33.2a1.9 1 33 1 0 3.1 2a1.9 1 33 1 0 -3.1 -2M9.5 44.1a.8 .9 68 1 0 .6 1.5a.8 .9 68 1 0 -.6 -1.5M10.2 39.1a1 1.8 24 1 0 1.8 .8a1 1.8 24 1 0 -1.8 -.8M87.9 -.9a1 1.1 21 1 0 1.8 .7a1 1.1 21 1 0 -1.8 -.7M6 46.5a1.8 1.4 71 1 0 1.1 3.3a1.8 1.4 71 1 0 -1.1 -3.3M8.4 41.5a1 1 37 1 0 1.6 1.2a1 1 37 1 0 -1.6 -1.2M23.2 31.8a.8 1.4 71 1 0 .5 1.6a.8 1.4 71 1 0 -.5 -1.6M16.5 35.7a1 1.5 69 1 0 .7 1.8a1 1.5 69 1 0 -.7 -1.8M12.7 39a1.6 1.1 109 1 0 -1.1 3a1.6 1.1 109 1 0 1.1 -3M91.4 -.6a1.9 1.5 4 1 0 3.7 .3a1.9 1.5 4 1 0 -3.7 -.3M19.4 29.8a1.2 1.3 130 1 0 -1.6 1.8a1.2 1.3 130 1 0 1.6 -1.8M22.8 29.4a1 2 158 1 0 -1.8 .7a1 2 158 1 0 1.8 -.7M54.2 12a1.3 .8 42 1 0 1.9 1.8a1.3 .8 42 1 0 -1.9 -1.8M4.8 51.5a1.1 1.9 123 1 0 -1.2 1.8a1.1 1.9 123 1 0 1.2 -1.8M49.8 12.9a1.4 1 88 1 0 .1 2.7a1.4 1 88 1 0 -.1 -2.7"/><path fill="#b87a50" opacity="1.0" d="M10.2 42.4a1.3 .8 4 1 0 2.7 .2a1.3 .8 4 1 0 -2.7 -.2M52.8 11.7a.8 1.6 108 1 0 -.5 1.6a.8 1.6 108 1 0 .5 -1.6M49.9 16a1.4 1.9 141 1 0 -2.2 1.7a1.4 1.9 141 1 0 2.2 -1.7M40.3 16.9a1.5 1.7 130 1 0 -2 2.3a1.5 1.7 130 1 0 2 -2.3M69.3 1.2a1.7 1.3 149 1 0 -2.9 1.7a1.7 1.3 149 1 0 2.9 -1.7M75.2 3.8a1.3 1.2 90 1 0 0 2.5a1.3 1.2 90 1 0 0 -2.5M67.7 2.1a1.9 1 23 1 0 3.4 1.5a1.9 1 23 1 0 -3.4 -1.5M39.1 19.8a1.8 1.2 151 1 0 -3.2 1.8a1.8 1.2 151 1 0 3.2 -1.8M3.9 46a1.4 1.4 86 1 0 .2 2.8a1.4 1.4 86 1 0 -.2 -2.8M21.7 33.8a1.1 1.3 90 1 0 0 2.1a1.1 1.3 90 1 0 0 -2.1M14.6 42a.9 .9 85 1 0 .1 1.8a.9 .9 85 1 0 -.1 -1.8M4.8 45.8a1.5 1.2 0 1 0 2.9 0a1.5 1.2 0 1 0 -2.9 0"/><path fill="#c08a60" opacity="1.0" d="M77.1 1.7a1.9 1.5 49 1 0 2.5 2.9a1.9 1.5 49 1 0 -2.5 -2.9M45.2 15.2a1.7 1.2 128 1 0 -2.1 2.6a1.7 1.2 128 1 0 2.1 -2.6M16 32.5a.9 1.7 22 1 0 1.7 .7a.9 1.7 22 1 0 -1.7 -.7M51.8 16.8a.9 .9 171 1 0 -1.8 .3a.9 .9 171 1 0 1.8 -.3M83.4 1.9a1.3 1.3 72 1 0 .8 2.6a1.3 1.3 72 1 0 -.8 -2.6M13.3 41.9a1.4 1.8 166 1 0 -2.8 .7a1.4 1.8 166 1 0 2.8 -.7M75.7 -.2a1.5 1.7 158 1 0 -2.7 1.1a1.5 1.7 158 1 0 2.7 -1.1"/></g><rect x="75.8" y="62" width="13" height="2.8" fill="#fff"/></svg><svg x="40.0" y="608.3" width="92.0" height="68.4" viewBox="0 0 92.0 68.4" overflow="hidden"><rect width="92.0" height="68.4" fill="#1a0610"/><g transform="rotate(-30 46.0 34.2)" opacity="1"><rect x="-55.199999999999996" y="-41.04" width="202.4" height="150.48000000000002" fill="#fff" filter="url(#f53)"/></g><g transform="rotate(-35 46.0 34.2)" opacity="1"><rect x="-55.199999999999996" y="-41.04" width="202.4" height="150.48000000000002" fill="#fff" filter="url(#f54)"/></g><g filter="url(#b52)"><path fill="#4e4cb8" opacity="0.75" d="M56.8 45.2a3 1.9 -32 1 0 5.1 -3.3a3 1.9 -32 1 0 -5.1 3.3M1.6 26.7a4.3 1.8 -39 1 0 6.6 -5.5a4.3 1.8 -39 1 0 -6.6 5.5M60.1 51.7a4.4 1.6 -20 1 0 8.2 -3.1a4.4 1.6 -20 1 0 -8.2 3.1M63.3 46.9a4.4 2 -35 1 0 7.1 -5.1a4.4 2 -35 1 0 -7.1 5.1M88.9 22.4a2.6 1.5 -26 1 0 4.7 -2.3a2.6 1.5 -26 1 0 -4.7 2.3M24.7 30a4.1 1.7 -27 1 0 7.2 -3.7a4.1 1.7 -27 1 0 -7.2 3.7M51.8 34.3a4.2 1.5 -32 1 0 7.1 -4.5a4.2 1.5 -32 1 0 -7.1 4.5M71.3 36.6a4.3 2.1 -23 1 0 7.9 -3.4a4.3 2.1 -23 1 0 -7.9 3.4M47.5 42.1a3.8 1.8 -27 1 0 6.8 -3.5a3.8 1.8 -27 1 0 -6.8 3.5M10.4 51.1a4 1.7 -22 1 0 7.3 -3.1a4 1.7 -22 1 0 -7.3 3.1M20.2 27.6a3.5 1.7 -37 1 0 5.5 -4.3a3.5 1.7 -37 1 0 -5.5 4.3M34.2 40.5a4.3 1.9 -32 1 0 7.3 -4.7a4.3 1.9 -32 1 0 -7.3 4.7M25.1 38.4a3.1 1.4 -30 1 0 5.3 -3.1a3.1 1.4 -30 1 0 -5.3 3.1"/><path fill="#6a62d2" opacity="0.75" d="M28.7 68a3.4 1.6 -24 1 0 6.2 -2.9a3.4 1.6 -24 1 0 -6.2 2.9M33.3 68.2a3.8 2 -20 1 0 7.1 -2.7a3.8 2 -20 1 0 -7.1 2.7M50.8 23.2a3.6 1.4 -31 1 0 6.2 -3.7a3.6 1.4 -31 1 0 -6.2 3.7M86.6 4a3 1.6 -36 1 0 4.9 -3.6a3 1.6 -36 1 0 -4.9 3.6M65.7 37.2a3.2 1.9 -35 1 0 5.3 -3.8a3.2 1.9 -35 1 0 -5.3 3.8M8.3 24.4a2.8 1.3 -35 1 0 4.6 -3.2a2.8 1.3 -35 1 0 -4.6 3.2M84 9.7a2.9 1.6 -20 1 0 5.4 -2a2.9 1.6 -20 1 0 -5.4 2M44.6 28.7a2.9 1.4 -25 1 0 5.2 -2.5a2.9 1.4 -25 1 0 -5.2 2.5M18.6 24.8a4.3 1.8 -30 1 0 7.3 -4.3a4.3 1.8 -30 1 0 -7.3 4.3M73.9 48.7a3.6 1.8 -39 1 0 5.6 -4.6a3.6 1.8 -39 1 0 -5.6 4.6M33.2 6.4a3.9 1.4 -34 1 0 6.5 -4.5a3.9 1.4 -34 1 0 -6.5 4.5M54.9 45.3a3.1 1.6 -37 1 0 4.9 -3.8a3.1 1.6 -37 1 0 -4.9 3.8M59.6 52.7a3.9 2 -39 1 0 6 -5a3.9 2 -39 1 0 -6 5"/><path fill="#5a58c8" opacity="0.75" d="M8.8 55.6a2.6 1.4 -32 1 0 4.4 -2.8a2.6 1.4 -32 1 0 -4.4 2.8M62.2 19.1a3.2 1.8 -37 1 0 5 -3.9a3.2 1.8 -37 1 0 -5 3.9M89.2 44.2a4.3 1.6 -27 1 0 7.6 -3.9a4.3 1.6 -27 1 0 -7.6 3.9M7.3 64.1a3.5 1.5 -23 1 0 6.4 -2.9a3.5 1.5 -23 1 0 -6.4 2.9M-1 65a4.1 2.1 -29 1 0 7.2 -4a4.1 2.1 -29 1 0 -7.2 4M74.6 55.3a3.9 1.7 -34 1 0 6.4 -4.3a3.9 1.7 -34 1 0 -6.4 4.3M4.3 58.4a3.9 1.8 -34 1 0 6.5 -4.5a3.9 1.8 -34 1 0 -6.5 4.5M58.6 68.7a3.3 1.5 -32 1 0 5.6 -3.6a3.3 1.5 -32 1 0 -5.6 3.6M38.2 19.2a3 1.9 -21 1 0 5.6 -2.3a3 1.9 -21 1 0 -5.6 2.3M-3.1 8.3a3.4 2.1 -32 1 0 5.8 -3.7a3.4 2.1 -32 1 0 -5.8 3.7M-.6 13.5a3.3 1.5 -21 1 0 6.2 -2.4a3.3 1.5 -21 1 0 -6.2 2.4M15.5 68.9a3.6 2 -36 1 0 5.7 -4.3a3.6 2 -36 1 0 -5.7 4.3M90.7 64.8a3.4 1.6 -36 1 0 5.5 -4a3.4 1.6 -36 1 0 -5.5 4M53.9 22a4.1 2 -28 1 0 7.2 -3.8a4.1 2 -28 1 0 -7.2 3.8M77.6 54.8a2.8 1.3 -29 1 0 4.9 -2.8a2.8 1.3 -29 1 0 -4.9 2.8M64.3 36.2a3.9 1.3 -35 1 0 6.3 -4.5a3.9 1.3 -35 1 0 -6.3 4.5M65.6 56.2a4.3 2.1 -24 1 0 7.9 -3.6a4.3 2.1 -24 1 0 -7.9 3.6"/><path fill="#6458c8" opacity="0.75" d="M70.6 47.6a3 1.9 -34 1 0 4.9 -3.4a3 1.9 -34 1 0 -4.9 3.4M56.7 68.9a3.5 1.6 -24 1 0 6.4 -2.8a3.5 1.6 -24 1 0 -6.4 2.8M42 2.8a3.2 1.4 -35 1 0 5.2 -3.7a3.2 1.4 -35 1 0 -5.2 3.7M69.9 47.2a2.8 1.6 -29 1 0 4.9 -2.8a2.8 1.6 -29 1 0 -4.9 2.8M64.7 52.3a4 1.6 -27 1 0 7 -3.7a4 1.6 -27 1 0 -7 3.7M75.3 38a3.3 1.5 -25 1 0 5.9 -2.9a3.3 1.5 -25 1 0 -5.9 2.9M84.4 29a3.1 1.8 -37 1 0 4.9 -3.7a3.1 1.8 -37 1 0 -4.9 3.7M74 24a3 1.7 -20 1 0 5.6 -2a3 1.7 -20 1 0 -5.6 2M5.1 33.6a3.6 1.4 -31 1 0 6.2 -3.7a3.6 1.4 -31 1 0 -6.2 3.7M10.1 30.8a2.7 1.8 -34 1 0 4.5 -3.1a2.7 1.8 -34 1 0 -4.5 3.1M42 4.6a3.8 1.5 -31 1 0 6.4 -3.9a3.8 1.5 -31 1 0 -6.4 3.9"/><path fill="#6458c8" opacity="1.0" d="M70.8 2.6a4 2 -30 1 0 6.9 -4.1a4 2 -30 1 0 -6.9 4.1M10.5 69.5a4.4 1.9 -27 1 0 7.7 -4a4.4 1.9 -27 1 0 -7.7 4M26.3 5.8a3.7 1.8 -32 1 0 6.2 -3.9a3.7 1.8 -32 1 0 -6.2 3.9"/><path fill="#7468d8" opacity="1.0" d="M32.5 5.5a3 2 -32 1 0 5 -3.2a3 2 -32 1 0 -5 3.2M25 66.6a3.1 1.4 -34 1 0 5 -3.5a3.1 1.4 -34 1 0 -5 3.5M31.8 22.8a3.5 1.8 -28 1 0 6.1 -3.3a3.5 1.8 -28 1 0 -6.1 3.3M0 19.9a3.4 1.7 -26 1 0 6 -3a3.4 1.7 -26 1 0 -6 3M46.5 50.9a3.7 1.6 -36 1 0 5.9 -4.4a3.7 1.6 -36 1 0 -5.9 4.4"/><path fill="#5a58c8" opacity="1.0" d="M27.9 19.9a4.4 1.6 -34 1 0 7.2 -5a4.4 1.6 -34 1 0 -7.2 5M-2.3 70.2a3.5 1.9 -35 1 0 5.6 -4a3.5 1.9 -35 1 0 -5.6 4M87.4 25.2a3.2 1.8 -37 1 0 5.2 -3.9a3.2 1.8 -37 1 0 -5.2 3.9"/><path fill="#6a62d2" opacity="1.0" d="M42.4 49.7a2.8 1.9 -35 1 0 4.6 -3.3a2.8 1.9 -35 1 0 -4.6 3.3M44.6 67.6a4 1.8 -38 1 0 6.3 -5a4 1.8 -38 1 0 -6.3 5M19 6a2.9 1.5 -34 1 0 4.8 -3.3a2.9 1.5 -34 1 0 -4.8 3.3M54.4 12.2a2.7 1.6 -30 1 0 4.7 -2.7a2.7 1.6 -30 1 0 -4.7 2.7M18.8 47.5a3.8 2 -25 1 0 6.8 -3.2a3.8 2 -25 1 0 -6.8 3.2M14.9 28.1a3.5 1.8 -35 1 0 5.8 -4.1a3.5 1.8 -35 1 0 -5.8 4.1M59 12.4a4.1 1.7 -29 1 0 7.2 -4a4.1 1.7 -29 1 0 -7.2 4"/><path fill="#7468d8" opacity="0.75" d="M28.4 38.1a2.8 1.4 -29 1 0 4.9 -2.8a2.8 1.4 -29 1 0 -4.9 2.8M-3.5 41.2a2.7 1.7 -28 1 0 4.7 -2.6a2.7 1.7 -28 1 0 -4.7 2.6M61.5 25.7a3.5 1.8 -28 1 0 6.1 -3.4a3.5 1.8 -28 1 0 -6.1 3.4M4.2 51a3.9 1.5 -28 1 0 6.9 -3.8a3.9 1.5 -28 1 0 -6.9 3.8M39.5 10a3.3 1.7 -26 1 0 5.8 -2.9a3.3 1.7 -26 1 0 -5.8 2.9M86.2 63a3.3 1.4 -39 1 0 5.1 -4.3a3.3 1.4 -39 1 0 -5.1 4.3M53 5.9a4.1 1.8 -33 1 0 6.8 -4.5a4.1 1.8 -33 1 0 -6.8 4.5M31.9 26.2a3 1.8 -25 1 0 5.4 -2.5a3 1.8 -25 1 0 -5.4 2.5M53.3 62.5a3.4 1.8 -30 1 0 5.9 -3.5a3.4 1.8 -30 1 0 -5.9 3.5"/><path fill="#4e4cb8" opacity="1.0" d="M74.5 66.9a3.5 1.9 -27 1 0 6.1 -3.2a3.5 1.9 -27 1 0 -6.1 3.2M14.3 41a3.3 1.6 -29 1 0 5.7 -3.3a3.3 1.6 -29 1 0 -5.7 3.3M55.8 36.7a3.5 1.9 -35 1 0 5.6 -4a3.5 1.9 -35 1 0 -5.6 4M38.3 71.6a3.4 1.3 -33 1 0 5.8 -3.7a3.4 1.3 -33 1 0 -5.8 3.7"/></g></svg><svg x="134.9" y="608.3" width="91.9" height="68.4" viewBox="0 0 91.9 68.4" overflow="hidden"><rect width="91.9" height="68.4" fill="#150818"/><g transform="rotate(-15 46.0 34.2)" opacity="1"><rect x="-55.199999999999996" y="-41.04" width="202.4" height="150.48000000000002" fill="#fff" filter="url(#f55)"/></g><g fill="#0a040c" filter="url(#b30)"><ellipse cx="52" cy="14" rx="11" ry="10"/><ellipse cx="64" cy="60" rx="18" ry="12"/><ellipse cx="20" cy="36" rx="8" ry="5"/></g><path d="M50 30 C60 24 70 26 76 32 C78 38 70 42 60 42 C52 42 46 36 50 30Z" fill="#d0283e" filter="url(#b30)" opacity="0.45"/><g filter="url(#b52)"><path fill="#a81830" opacity="0.5" d="M16.1 22.3a2.1 2.1 141 1 0 -3.3 2.6a2.1 2.1 141 1 0 3.3 -2.6M22.2 34.8a3.3 1.1 153 1 0 -5.9 2.9a3.3 1.1 153 1 0 5.9 -2.9M4.9 34.1a2.1 1.3 98 1 0 -.6 4.1a2.1 1.3 98 1 0 .6 -4.1M38 46a3.2 2.1 139 1 0 -4.8 4.1a3.2 2.1 139 1 0 4.8 -4.1M91 42.3a1.7 1.6 134 1 0 -2.4 2.5a1.7 1.6 134 1 0 2.4 -2.5M11.7 2.5a1.8 1.5 170 1 0 -3.5 .6a1.8 1.5 170 1 0 3.5 -.6M46.8 31.8a2.3 1.1 30 1 0 3.9 2.3a2.3 1.1 30 1 0 -3.9 -2.3M54.8 42.1a3.3 1.4 45 1 0 4.6 4.6a3.3 1.4 45 1 0 -4.6 -4.6M10.1 23.9a1.5 1.9 168 1 0 -2.9 .6a1.5 1.9 168 1 0 2.9 -.6M17.3 29.2a2.8 2.1 53 1 0 3.3 4.6a2.8 2.1 53 1 0 -3.3 -4.6M32.4 32.5a3.2 1.8 26 1 0 5.8 2.9a3.2 1.8 26 1 0 -5.8 -2.9"/><path fill="#c41e38" opacity="0.75" d="M6.9 58.7a3 1.6 7 1 0 5.9 .7a3 1.6 7 1 0 -5.9 -.7M59.2 2.2a1.6 1 7 1 0 3.2 .4a1.6 1 7 1 0 -3.2 -.4M83.1 16.5a2.2 1.2 124 1 0 -2.5 3.6a2.2 1.2 124 1 0 2.5 -3.6"/><path fill="#d82840" opacity="0.75" d="M95.6 43.1a3 1.7 150 1 0 -5.2 3a3 1.7 150 1 0 5.2 -3M76.2 16.2a2.5 1.3 60 1 0 2.5 4.3a2.5 1.3 60 1 0 -2.5 -4.3M94.8 56.5a3 1.2 166 1 0 -5.8 1.4a3 1.2 166 1 0 5.8 -1.4M64.9 27.7a3.1 1.9 166 1 0 -6 1.4a3.1 1.9 166 1 0 6 -1.4M4.5 8.7a2 1.6 158 1 0 -3.7 1.5a2 1.6 158 1 0 3.7 -1.5M14.1 64.6a2.9 2.1 120 1 0 -3 5a2.9 2.1 120 1 0 3 -5M65.4 33.1a2.8 1.1 22 1 0 5.2 2.1a2.8 1.1 22 1 0 -5.2 -2.1M85.4 24.9a2.7 1.1 130 1 0 -3.5 4.1a2.7 1.1 130 1 0 3.5 -4.1M6.5 57.8a1.6 1.2 95 1 0 -.3 3.3a1.6 1.2 95 1 0 .3 -3.3M32.8 21.9a3.2 1.2 83 1 0 .8 6.3a3.2 1.2 83 1 0 -.8 -6.3M16.9 46.5a1.8 1.2 8 1 0 3.7 .6a1.8 1.2 8 1 0 -3.7 -.6M43.5 20.1a1.5 2 143 1 0 -2.5 1.8a1.5 2 143 1 0 2.5 -1.8"/><path fill="#c41e38" opacity="0.5" d="M30.3 66.9a2.2 2.1 2 1 0 4.5 .2a2.2 2.1 2 1 0 -4.5 -.2M20.1 51.6a2.7 1.2 118 1 0 -2.5 4.7a2.7 1.2 118 1 0 2.5 -4.7M80.2 5.6a2.8 1.6 10 1 0 5.4 1a2.8 1.6 10 1 0 -5.4 -1M25.3 33a1.6 1.5 105 1 0 -.9 3a1.6 1.5 105 1 0 .9 -3M44.1 30.1a2.2 1.2 147 1 0 -3.8 2.4a2.2 1.2 147 1 0 3.8 -2.4M-3.1 17.9a2.4 1.8 51 1 0 3 3.8a2.4 1.8 51 1 0 -3 -3.8"/><path fill="#a81830" opacity="0.75" d="M33.5 30.2a3.3 1.9 154 1 0 -5.9 2.8a3.3 1.9 154 1 0 5.9 -2.8M13.4 25.8a3.1 1.9 23 1 0 5.7 2.5a3.1 1.9 23 1 0 -5.7 -2.5M62.1 38.2a2.5 2 103 1 0 -1.2 4.8a2.5 2 103 1 0 1.2 -4.8M9.6 40.3a1.8 2 125 1 0 -2.2 3a1.8 2 125 1 0 2.2 -3M82.9 50.3a2 1.2 149 1 0 -3.5 2.1a2 1.2 149 1 0 3.5 -2.1M32.4 8.2a2.7 2 13 1 0 5.2 1.3a2.7 2 13 1 0 -5.2 -1.3M95.4 54.3a2.6 1.1 161 1 0 -5 1.7a2.6 1.1 161 1 0 5 -1.7M91 59.5a2 1.3 132 1 0 -2.7 3a2 1.3 132 1 0 2.7 -3M90.2 56.8a1.9 1.6 38 1 0 3 2.4a1.9 1.6 38 1 0 -3 -2.4"/><path fill="#d82840" opacity="0.5" d="M8.9 17.7a2.3 1.3 51 1 0 2.9 3.6a2.3 1.3 51 1 0 -2.9 -3.6M2.3 12.4a2.8 2.1 175 1 0 -5.6 .4a2.8 2.1 175 1 0 5.6 -.4M44.4 -2.1a1.5 1.2 90 1 0 0 3.1a1.5 1.2 90 1 0 0 -3.1M10.3 13.6a2.6 1.7 30 1 0 4.4 2.6a2.6 1.7 30 1 0 -4.4 -2.6"/></g><g filter="url(#b52)"><path fill="#4a4ac8" opacity="0.75" d="M13.4 56.9a2.4 1.3 116 1 0 -2.1 4.4a2.4 1.3 116 1 0 2.1 -4.4M34.5 35.6a2.5 1.2 154 1 0 -4.5 2.1a2.5 1.2 154 1 0 4.5 -2.1M54.7 26.5a2.7 1.3 89 1 0 0 5.4a2.7 1.3 89 1 0 0 -5.4M17.6 23.2a1.9 1.7 97 1 0 -.5 3.8a1.9 1.7 97 1 0 .5 -3.8M33.8 31.2a2.4 1.2 175 1 0 -4.8 .4a2.4 1.2 175 1 0 4.8 -.4M13.9 2.7a1.9 1.7 162 1 0 -3.7 1.2a1.9 1.7 162 1 0 3.7 -1.2M14.4 19.1a2 1.5 7 1 0 3.9 .5a2 1.5 7 1 0 -3.9 -.5M46 44.9a2.6 1.6 69 1 0 1.8 4.9a2.6 1.6 69 1 0 -1.8 -4.9M1.9 34.8a2 1.5 31 1 0 3.3 2.1a2 1.5 31 1 0 -3.3 -2.1M71.9 30.8a2.6 1.1 106 1 0 -1.5 5a2.6 1.1 106 1 0 1.5 -5M84.6 8.7a1.8 1.2 160 1 0 -3.3 1.2a1.8 1.2 160 1 0 3.3 -1.2M22.2 65.1a2.2 1.8 132 1 0 -3 3.3a2.2 1.8 132 1 0 3 -3.3M90.5 43.1a2.1 1.3 115 1 0 -1.8 3.8a2.1 1.3 115 1 0 1.8 -3.8M64.1 .6a1.7 1.6 89 1 0 0 3.4a1.7 1.6 89 1 0 0 -3.4M34.2 30.8a2.5 1.8 88 1 0 .1 5.1a2.5 1.8 88 1 0 -.1 -5.1M36.7 25.1a2.3 1.6 95 1 0 -.5 4.6a2.3 1.6 95 1 0 .5 -4.6"/><path fill="#5a58d0" opacity="0.5" d="M39.2 56.6a2.3 1.6 160 1 0 -4.4 1.5a2.3 1.6 160 1 0 4.4 -1.5M62.6 34a2.4 1.5 160 1 0 -4.6 1.6a2.4 1.5 160 1 0 4.6 -1.6M4.3 47a2.8 1.1 38 1 0 4.4 3.5a2.8 1.1 38 1 0 -4.4 -3.5M-1.5 2.4a2.3 1.3 44 1 0 3.3 3.2a2.3 1.3 44 1 0 -3.3 -3.2"/><path fill="#3e40b0" opacity="0.5" d="M92.1 64.4a1.6 1.3 137 1 0 -2.4 2.2a1.6 1.3 137 1 0 2.4 -2.2M32.8 55.2a2 1.3 12 1 0 3.8 .9a2 1.3 12 1 0 -3.8 -.9M14.3 36a2.3 1.2 33 1 0 3.8 2.5a2.3 1.2 33 1 0 -3.8 -2.5M.6 33a1.8 1.6 120 1 0 -1.9 3.2a1.8 1.6 120 1 0 1.9 -3.2M23.1 62.8a2.7 1.3 145 1 0 -4.5 3.1a2.7 1.3 145 1 0 4.5 -3.1M79.8 22.1a2.6 1.5 114 1 0 -2.2 4.7a2.6 1.5 114 1 0 2.2 -4.7M30.1 44.6a1.9 1.8 131 1 0 -2.5 2.9a1.9 1.8 131 1 0 2.5 -2.9"/><path fill="#4a4ac8" opacity="1.0" d="M83 54.1a2.6 1.4 50 1 0 3.4 4.1a2.6 1.4 50 1 0 -3.4 -4.1M41.3 2a2 1.8 99 1 0 -.7 4a2 1.8 99 1 0 .7 -4"/><path fill="#3e40b0" opacity="0.75" d="M16.7 45.5a2.8 1.1 146 1 0 -4.6 3.1a2.8 1.1 146 1 0 4.6 -3.1M30.9 16.5a2 1.7 102 1 0 -.9 3.9a2 1.7 102 1 0 .9 -3.9M22.6 57.9a2.5 1.1 21 1 0 4.6 1.8a2.5 1.1 21 1 0 -4.6 -1.8M-.2 56.9a1.8 1.4 166 1 0 -3.4 .8a1.8 1.4 166 1 0 3.4 -.8M47.2 66a2.7 1.2 46 1 0 3.7 3.9a2.7 1.2 46 1 0 -3.7 -3.9M-.9 50.3a2.2 1.2 90 1 0 0 4.4a2.2 1.2 90 1 0 0 -4.4M90.8 14.7a2.6 1.2 125 1 0 -3 4.2a2.6 1.2 125 1 0 3 -4.2M18.9 1.9a2.3 1.6 96 1 0 -.6 4.5a2.3 1.6 96 1 0 .6 -4.5M32.3 65.6a2.2 1.6 52 1 0 2.6 3.4a2.2 1.6 52 1 0 -2.6 -3.4M45.4 23.5a2.6 1.5 54 1 0 3 4.3a2.6 1.5 54 1 0 -3 -4.3M35.3 40.6a2.4 1.4 5 1 0 4.8 .5a2.4 1.4 5 1 0 -4.8 -.5M14.9 29.9a2.1 1.3 55 1 0 2.4 3.5a2.1 1.3 55 1 0 -2.4 -3.5M25.7 6.3a2.1 1.3 79 1 0 .8 4.2a2.1 1.3 79 1 0 -.8 -4.2M60.1 35.2a2.3 1.4 15 1 0 4.4 1.2a2.3 1.4 15 1 0 -4.4 -1.2M14.4 33.4a1.8 1.4 59 1 0 1.8 3.1a1.8 1.4 59 1 0 -1.8 -3.1M10.7 58.7a1.6 1.5 40 1 0 2.5 2.1a1.6 1.5 40 1 0 -2.5 -2.1M89.2 40.3a2.3 1.4 103 1 0 -1.1 4.4a2.3 1.4 103 1 0 1.1 -4.4M22.8 20.1a1.7 1.2 112 1 0 -1.3 3.2a1.7 1.2 112 1 0 1.3 -3.2M39.4 18.6a2.2 1.4 127 1 0 -2.7 3.5a2.2 1.4 127 1 0 2.7 -3.5M16.4 48.3a1.9 1.3 24 1 0 3.5 1.6a1.9 1.3 24 1 0 -3.5 -1.6M89.8 8.5a2.3 1.7 113 1 0 -1.9 4.3a2.3 1.7 113 1 0 1.9 -4.3"/><path fill="#5a58d0" opacity="0.75" d="M37.7 46.5a2.6 1.6 139 1 0 -4 3.4a2.6 1.6 139 1 0 4 -3.4M55.6 43.2a1.7 1.8 44 1 0 2.5 2.4a1.7 1.8 44 1 0 -2.5 -2.4M91.1 55.5a2.2 1.4 46 1 0 3 3.2a2.2 1.4 46 1 0 -3 -3.2M28.1 41.6a2.7 1.4 113 1 0 -2.1 4.9a2.7 1.4 113 1 0 2.1 -4.9M13.2 59.5a2.6 1.4 16 1 0 5 1.5a2.6 1.4 16 1 0 -5 -1.5M18.9 43.3a2.3 1.6 109 1 0 -1.6 4.3a2.3 1.6 109 1 0 1.6 -4.3M62.7 32a2.3 1.6 129 1 0 -2.9 3.6a2.3 1.6 129 1 0 2.9 -3.6M40 50.3a2.1 1.6 31 1 0 3.6 2.2a2.1 1.6 31 1 0 -3.6 -2.2M25.7 33.2a2.4 1.5 2 1 0 4.9 .2a2.4 1.5 2 1 0 -4.9 -.2M60.6 -3a1.9 1.1 47 1 0 2.5 2.8a1.9 1.1 47 1 0 -2.5 -2.8M91.5 22.1a2.5 1.4 149 1 0 -4.4 2.6a2.5 1.4 149 1 0 4.4 -2.6M64.9 -.6a1.9 1.5 125 1 0 -2.2 3a1.9 1.5 125 1 0 2.2 -3M7.7 11.4a1.8 1.7 177 1 0 -3.6 .2a1.8 1.7 177 1 0 3.6 -.2M5.4 36.8a2.4 1.7 3 1 0 4.7 .3a2.4 1.7 3 1 0 -4.7 -.3M6.5 -2.1a2.8 1.1 87 1 0 .2 5.5a2.8 1.1 87 1 0 -.2 -5.5M5.7 31.4a2.3 1.7 103 1 0 -1 4.4a2.3 1.7 103 1 0 1 -4.4M32.9 64.5a2.7 1.4 115 1 0 -2.3 4.9a2.7 1.4 115 1 0 2.3 -4.9M63.5 19.8a2.6 1.8 13 1 0 5.1 1.2a2.6 1.8 13 1 0 -5.1 -1.2M22.6 13.8a2.7 1.7 107 1 0 -1.6 5.1a2.7 1.7 107 1 0 1.6 -5.1"/><path fill="#4a4ac8" opacity="0.5" d="M34.5 58.3a2.3 1.6 71 1 0 1.5 4.4a2.3 1.6 71 1 0 -1.5 -4.4M25.1 3.5a2.8 1.7 43 1 0 4 3.8a2.8 1.7 43 1 0 -4 -3.8M45.2 38.6a2.3 1.2 153 1 0 -4 2a2.3 1.2 153 1 0 4 -2M43 21a2.2 1.5 83 1 0 .5 4.4a2.2 1.5 83 1 0 -.5 -4.4M56.9 35.1a2.2 1.7 5 1 0 4.4 .5a2.2 1.7 5 1 0 -4.4 -.5M8.4 23.7a2.2 1.7 89 1 0 0 4.4a2.2 1.7 89 1 0 0 -4.4M18 32.4a2.7 1.6 48 1 0 3.6 4.1a2.7 1.6 48 1 0 -3.6 -4.1M81.7 62.7a2.6 1.5 96 1 0 -.5 5.1a2.6 1.5 96 1 0 .5 -5.1M33.8 62.2a1.7 1.2 164 1 0 -3.2 .9a1.7 1.2 164 1 0 3.2 -.9"/><path fill="#5a58d0" opacity="1.0" d="M-.5 55.2a2.7 1.6 70 1 0 1.8 5.2a2.7 1.6 70 1 0 -1.8 -5.2M5.6 29.5a2.8 1.3 35 1 0 4.5 3.2a2.8 1.3 35 1 0 -4.5 -3.2M67 -2.4a1.7 1.7 33 1 0 2.9 1.9a1.7 1.7 33 1 0 -2.9 -1.9M30.6 31.8a2.1 1.6 54 1 0 2.5 3.4a2.1 1.6 54 1 0 -2.5 -3.4M-2.4 60.2a1.9 1.2 5 1 0 3.8 .4a1.9 1.2 5 1 0 -3.8 -.4M33.9 62.7a1.8 1.1 56 1 0 2 3.1a1.8 1.1 56 1 0 -2 -3.1"/><path fill="#3e40b0" opacity="1.0" d="M43.8 53.9a2.1 1.5 166 1 0 -4 1a2.1 1.5 166 1 0 4 -1"/></g></svg><svg x="229.0" y="608.3" width="92.4" height="68.4" viewBox="0 0 92.4 68.4" overflow="hidden"><rect width="92.4" height="68.4" fill="#1e1030"/><g filter="url(#b52)"><path fill="#3a40a8" opacity="0.75" d="M46.5 42.3a2 1.6 168 1 0 -4 .8a2 1.6 168 1 0 4 -.8M53.4 17.6a2.4 1.4 119 1 0 -2.3 4.1a2.4 1.4 119 1 0 2.3 -4.1M57.8 8.1a1.7 1.4 19 1 0 3.1 1.1a1.7 1.4 19 1 0 -3.1 -1.1M48.8 51.2a2.5 2.2 163 1 0 -4.8 1.5a2.5 2.2 163 1 0 4.8 -1.5M72.3 62.6a2.4 1.7 9 1 0 4.8 .8a2.4 1.7 9 1 0 -4.8 -.8M22.8 5a1.9 1.8 61 1 0 1.9 3.4a1.9 1.8 61 1 0 -1.9 -3.4M44.4 51a1.7 1.6 49 1 0 2.3 2.6a1.7 1.6 49 1 0 -2.3 -2.6M73 5.6a2.3 1.5 100 1 0 -.8 4.5a2.3 1.5 100 1 0 .8 -4.5M2.7 50a1.8 2 71 1 0 1.1 3.4a1.8 2 71 1 0 -1.1 -3.4M56.6 34.6a2.4 1.4 171 1 0 -4.8 .7a2.4 1.4 171 1 0 4.8 -.7M6.9 12.3a1.7 1.8 29 1 0 2.9 1.7a1.7 1.8 29 1 0 -2.9 -1.7M33.3 42.2a2.2 1.5 173 1 0 -4.4 .5a2.2 1.5 173 1 0 4.4 -.5M4.7 6.7a2.5 2 99 1 0 -.8 4.9a2.5 2 99 1 0 .8 -4.9M10.8 11.9a2.1 1.6 116 1 0 -1.9 3.7a2.1 1.6 116 1 0 1.9 -3.7M44.5 31.4a1.8 1.8 118 1 0 -1.7 3.1a1.8 1.8 118 1 0 1.7 -3.1M71.1 1.8a2.4 1.7 26 1 0 4.3 2.2a2.4 1.7 26 1 0 -4.3 -2.2M67 50.3a2.2 1.5 132 1 0 -3 3.3a2.2 1.5 132 1 0 3 -3.3M5.9 47.3a2.3 1.8 2 1 0 4.6 .2a2.3 1.8 2 1 0 -4.6 -.2M36.2 34.1a2.3 2.2 49 1 0 3 3.4a2.3 2.2 49 1 0 -3 -3.4M23.1 36.2a1.8 1.8 57 1 0 2 3.1a1.8 1.8 57 1 0 -2 -3.1M68.6 50.7a1.6 1.8 158 1 0 -3 1.2a1.6 1.8 158 1 0 3 -1.2M72.1 10.9a1.9 2.2 103 1 0 -.9 3.7a1.9 2.2 103 1 0 .9 -3.7M8.2 8.4a2 2 135 1 0 -2.9 2.8a2 2 135 1 0 2.9 -2.8M1.2 9.6a2.5 1.9 84 1 0 .5 4.9a2.5 1.9 84 1 0 -.5 -4.9M66.6 67.6a2.5 1.6 19 1 0 4.7 1.7a2.5 1.6 19 1 0 -4.7 -1.7M14.9 68.3a2.4 1.9 55 1 0 2.8 4a2.4 1.9 55 1 0 -2.8 -4M9.5 14.7a1.9 1.6 5 1 0 3.8 .3a1.9 1.6 5 1 0 -3.8 -.3M54 -1.5a2.2 1.9 32 1 0 3.7 2.4a2.2 1.9 32 1 0 -3.7 -2.4M30.1 20.7a1.9 1.4 114 1 0 -1.6 3.5a1.9 1.4 114 1 0 1.6 -3.5M3 56.6a1.7 2.1 131 1 0 -2.2 2.5a1.7 2.1 131 1 0 2.2 -2.5M66.8 1.6a2.5 2 124 1 0 -2.8 4a2.5 2 124 1 0 2.8 -4M34.9 29.2a1.9 2.1 119 1 0 -1.9 3.4a1.9 2.1 119 1 0 1.9 -3.4M27.6 17.3a1.9 2 136 1 0 -2.7 2.6a1.9 2 136 1 0 2.7 -2.6M35.8 49.1a2.3 1.9 59 1 0 2.3 4a2.3 1.9 59 1 0 -2.3 -4M54.3 69.2a1.7 1.5 168 1 0 -3.4 .7a1.7 1.5 168 1 0 3.4 -.7M60.6 8.6a1.7 1.6 51 1 0 2.1 2.7a1.7 1.6 51 1 0 -2.1 -2.7M63.2 50.5a1.9 1.5 124 1 0 -2.2 3.2a1.9 1.5 124 1 0 2.2 -3.2M17.2 -1.8a2.1 1.8 61 1 0 2 3.7a2.1 1.8 61 1 0 -2 -3.7M16.5 28.7a2.5 1.8 149 1 0 -4.3 2.5a2.5 1.8 149 1 0 4.3 -2.5M48.1 19.7a2.1 1.5 52 1 0 2.5 3.3a2.1 1.5 52 1 0 -2.5 -3.3"/><path fill="#4248b8" opacity="0.75" d="M35.4 48.4a1.7 2 173 1 0 -3.4 .4a1.7 2 173 1 0 3.4 -.4M42.4 19.7a2.3 2.2 23 1 0 4.1 1.8a2.3 2.2 23 1 0 -4.1 -1.8M48.1 -2.6a2.2 1.5 143 1 0 -3.5 2.7a2.2 1.5 143 1 0 3.5 -2.7M51.3 31.3a1.8 1.4 112 1 0 -1.4 3.3a1.8 1.4 112 1 0 1.4 -3.3M2.1 35.9a2.2 1.9 65 1 0 1.8 3.9a2.2 1.9 65 1 0 -1.8 -3.9M26.9 60.5a1.8 1.6 18 1 0 3.4 1.1a1.8 1.6 18 1 0 -3.4 -1.1M24 17.4a2.4 2.1 29 1 0 4.1 2.3a2.4 2.1 29 1 0 -4.1 -2.3M47.8 53.5a2.1 1.5 82 1 0 .6 4.3a2.1 1.5 82 1 0 -.6 -4.3M25.6 62.3a2.2 1.7 64 1 0 1.9 4a2.2 1.7 64 1 0 -1.9 -4M4.4 63.8a1.6 1.5 133 1 0 -2.2 2.3a1.6 1.5 133 1 0 2.2 -2.3M-3.3 35.9a2.1 1.9 48 1 0 2.8 3.1a2.1 1.9 48 1 0 -2.8 -3.1M51.6 43a2.2 2 106 1 0 -1.2 4.3a2.2 2 106 1 0 1.2 -4.3M10.8 58.9a1.9 1.9 123 1 0 -2.1 3.2a1.9 1.9 123 1 0 2.1 -3.2M49.7 27.2a2.4 1.6 23 1 0 4.4 1.9a2.4 1.6 23 1 0 -4.4 -1.9M16.1 26.5a2.3 1.5 158 1 0 -4.3 1.7a2.3 1.5 158 1 0 4.3 -1.7M43 14.5a1.7 2.2 10 1 0 3.3 .6a1.7 2.2 10 1 0 -3.3 -.6M18.5 1.2a2.4 1.9 115 1 0 -2.1 4.3a2.4 1.9 115 1 0 2.1 -4.3M65.3 8a1.6 1.9 51 1 0 2 2.5a1.6 1.9 51 1 0 -2 -2.5M20.5 11.7a2.3 1.7 134 1 0 -3.2 3.2a2.3 1.7 134 1 0 3.2 -3.2M67.2 39.5a1.9 1.6 21 1 0 3.6 1.4a1.9 1.6 21 1 0 -3.6 -1.4M39.5 27.1a2.4 2 111 1 0 -1.8 4.5a2.4 2 111 1 0 1.8 -4.5M20.7 23.5a2.3 1.8 136 1 0 -3.3 3.1a2.3 1.8 136 1 0 3.3 -3.1M69.4 21.8a2.4 1.9 66 1 0 1.9 4.3a2.4 1.9 66 1 0 -1.9 -4.3M35 48.7a2 1.8 149 1 0 -3.5 2.1a2 1.8 149 1 0 3.5 -2.1M58 29.9a1.8 2 154 1 0 -3.2 1.5a1.8 2 154 1 0 3.2 -1.5M61.8 31.3a2.2 1.6 146 1 0 -3.7 2.5a2.2 1.6 146 1 0 3.7 -2.5M.3 32.5a2 1.7 72 1 0 1.2 3.7a2 1.7 72 1 0 -1.2 -3.7M6.6 14.9a2.3 2.1 11 1 0 4.6 .9a2.3 2.1 11 1 0 -4.6 -.9M60.5 21a2.2 1.4 120 1 0 -2.2 3.8a2.2 1.4 120 1 0 2.2 -3.8M27.3 11.9a1.8 1.9 169 1 0 -3.5 .6a1.8 1.9 169 1 0 3.5 -.6M15.8 42.3a2.2 1.5 179 1 0 -4.3 0a2.2 1.5 179 1 0 4.3 0M9 11.9a2.1 1.6 143 1 0 -3.4 2.5a2.1 1.6 143 1 0 3.4 -2.5M50 40.1a1.7 1.6 129 1 0 -2.1 2.6a1.7 1.6 129 1 0 2.1 -2.6M50.9 16.2a2 2.2 99 1 0 -.7 3.9a2 2.2 99 1 0 .7 -3.9M55 -2a1.8 1.5 146 1 0 -3.1 2a1.8 1.5 146 1 0 3.1 -2M66.8 59.9a2.3 2.1 146 1 0 -3.8 2.5a2.3 2.1 146 1 0 3.8 -2.5M.1 14a2.1 1.5 161 1 0 -4 1.4a2.1 1.5 161 1 0 4 -1.4M27.3 22.5a1.6 2 26 1 0 2.9 1.5a1.6 2 26 1 0 -2.9 -1.5M15.3 53.3a1.9 1.8 112 1 0 -1.5 3.6a1.9 1.8 112 1 0 1.5 -3.6M-1.4 18.9a1.6 2 53 1 0 1.9 2.6a1.6 2 53 1 0 -1.9 -2.6M27 36a2.3 1.8 60 1 0 2.2 4a2.3 1.8 60 1 0 -2.2 -4M28.1 -3.4a2 1.6 63 1 0 1.8 3.6a2 1.6 63 1 0 -1.8 -3.6M39.8 3.4a1.8 2 52 1 0 2.2 2.8a1.8 2 52 1 0 -2.2 -2.8M54.7 33a2.3 1.6 66 1 0 1.8 4.1a2.3 1.6 66 1 0 -1.8 -4.1M62.4 40.6a2 2.1 176 1 0 -3.9 .2a2 2.1 176 1 0 3.9 -.2"/><path fill="#4a54c0" opacity="0.75" d="M67.8 44.7a2.4 1.7 115 1 0 -2.1 4.3a2.4 1.7 115 1 0 2.1 -4.3M39.1 9.6a1.9 1.9 125 1 0 -2.3 3.2a1.9 1.9 125 1 0 2.3 -3.2M45 34.1a1.9 2.1 12 1 0 3.8 .9a1.9 2.1 12 1 0 -3.8 -.9M61.2 64.1a2.2 1.4 144 1 0 -3.7 2.6a2.2 1.4 144 1 0 3.7 -2.6M72.6 27.1a2 1.5 132 1 0 -2.6 2.9a2 1.5 132 1 0 2.6 -2.9M37.8 27.6a2.2 2.1 129 1 0 -2.9 3.4a2.2 2.1 129 1 0 2.9 -3.4M32.4 23.8a2.4 1.6 42 1 0 3.6 3.2a2.4 1.6 42 1 0 -3.6 -3.2M43.8 23.2a2.4 2.1 170 1 0 -4.7 .8a2.4 2.1 170 1 0 4.7 -.8M56 9.1a2 2.2 24 1 0 3.7 1.7a2 2.2 24 1 0 -3.7 -1.7M20.7 15.2a2 2 80 1 0 .6 3.9a2 2 80 1 0 -.6 -3.9M2 48.7a1.8 2 135 1 0 -2.6 2.6a1.8 2 135 1 0 2.6 -2.6M57.1 28.2a2.3 2 135 1 0 -3.4 3.3a2.3 2 135 1 0 3.4 -3.3M34 19.3a1.7 1.8 27 1 0 3 1.6a1.7 1.8 27 1 0 -3 -1.6M29.6 7.7a2.1 2 159 1 0 -4 1.5a2.1 2 159 1 0 4 -1.5M34.7 67.8a2.2 1.6 160 1 0 -4.2 1.5a2.2 1.6 160 1 0 4.2 -1.5M64 20.6a1.7 1.5 35 1 0 2.9 2a1.7 1.5 35 1 0 -2.9 -2M75.3 33.4a1.7 1.4 126 1 0 -2.1 2.8a1.7 1.4 126 1 0 2.1 -2.8M75 69.3a1.7 1.5 33 1 0 2.8 1.9a1.7 1.5 33 1 0 -2.8 -1.9M74.6 46.8a2.5 1.8 172 1 0 -4.9 .6a2.5 1.8 172 1 0 4.9 -.6M73.6 33.9a1.9 1.4 161 1 0 -3.6 1.2a1.9 1.4 161 1 0 3.6 -1.2M25.8 40.3a2.4 1.7 115 1 0 -2 4.3a2.4 1.7 115 1 0 2 -4.3M58.8 62.7a2.1 1.5 179 1 0 -4.2 0a2.1 1.5 179 1 0 4.2 0M4 59.3a1.7 2 50 1 0 2.2 2.6a1.7 2 50 1 0 -2.2 -2.6M60.3 13.8a1.8 1.4 69 1 0 1.3 3.4a1.8 1.4 69 1 0 -1.3 -3.4M57.1 18.3a2.1 1.7 80 1 0 .7 4a2.1 1.7 80 1 0 -.7 -4M72.6 67.8a2 1.7 128 1 0 -2.5 3.1a2 1.7 128 1 0 2.5 -3.1M68.5 1.6a2.1 1.6 0 1 0 4.2 0a2.1 1.6 0 1 0 -4.2 0M19.5 62.1a1.8 2.1 163 1 0 -3.4 1a1.8 2.1 163 1 0 3.4 -1M54.8 68.3a1.7 1.4 94 1 0 -.3 3.4a1.7 1.4 94 1 0 .3 -3.4M27 48.4a1.8 1.8 2 1 0 3.6 .1a1.8 1.8 2 1 0 -3.6 -.1M21.3 20.7a1.6 2 91 1 0 -.1 3.3a1.6 2 91 1 0 .1 -3.3M28.2 67.9a2.1 2.1 174 1 0 -4.3 .4a2.1 2.1 174 1 0 4.3 -.4M52.3 3.9a2.3 2 66 1 0 1.8 4.2a2.3 2 66 1 0 -1.8 -4.2M42.2 31.7a2 2 2 1 0 4 .2a2 2 2 1 0 -4 -.2M22.6 2a2.1 1.5 125 1 0 -2.4 3.4a2.1 1.5 125 1 0 2.4 -3.4M31.1 69a2.4 1.6 178 1 0 -4.8 .1a2.4 1.6 178 1 0 4.8 -.1M43.5 40.7a1.9 2 140 1 0 -3 2.4a1.9 2 140 1 0 3 -2.4M70.3 65.1a1.7 1.5 19 1 0 3.2 1.1a1.7 1.5 19 1 0 -3.2 -1.1M29.1 11.2a2.1 1.8 114 1 0 -1.7 3.8a2.1 1.8 114 1 0 1.7 -3.8M70.3 65.2a2.1 1.8 26 1 0 3.8 1.9a2.1 1.8 26 1 0 -3.8 -1.9M74.4 57.4a2.4 2 122 1 0 -2.6 4.1a2.4 2 122 1 0 2.6 -4.1M15.7 10.6a2.1 1.7 64 1 0 1.8 3.8a2.1 1.7 64 1 0 -1.8 -3.8M72.9 19.5a1.8 1.9 73 1 0 1 3.4a1.8 1.9 73 1 0 -1 -3.4M23.8 2.6a2.2 1.5 74 1 0 1.2 4.3a2.2 1.5 74 1 0 -1.2 -4.3M42.8 53.7a1.9 1.8 38 1 0 3 2.4a1.9 1.8 38 1 0 -3 -2.4M-1.7 -.3a2.5 1.6 24 1 0 4.5 2a2.5 1.6 24 1 0 -4.5 -2M10.3 58.7a2.3 1.9 66 1 0 1.8 4.3a2.3 1.9 66 1 0 -1.8 -4.3M64.9 11.2a2.5 1.7 119 1 0 -2.4 4.3a2.5 1.7 119 1 0 2.4 -4.3"/><path fill="#4a54c0" opacity="0.5" d="M61.5 32.2a2.1 2 26 1 0 3.8 1.9a2.1 2 26 1 0 -3.8 -1.9M6.3 60a1.7 1.7 104 1 0 -.8 3.3a1.7 1.7 104 1 0 .8 -3.3M10.4 63.2a1.6 1.7 157 1 0 -3 1.3a1.6 1.7 157 1 0 3 -1.3M60.5 -.1a1.8 1.6 140 1 0 -2.8 2.3a1.8 1.6 140 1 0 2.8 -2.3M45.2 59.7a2.1 1.7 11 1 0 4.2 .9a2.1 1.7 11 1 0 -4.2 -.9M-1.2 40.4a2.1 1.7 26 1 0 3.7 1.8a2.1 1.7 26 1 0 -3.7 -1.8M61.1 -.2a1.6 1.8 144 1 0 -2.7 1.9a1.6 1.8 144 1 0 2.7 -1.9M22.3 37.8a2 1.8 96 1 0 -.5 4a2 1.8 96 1 0 .5 -4M21.8 .9a1.8 1.8 160 1 0 -3.4 1.2a1.8 1.8 160 1 0 3.4 -1.2M36.6 47.4a2.2 1.8 163 1 0 -4.2 1.3a2.2 1.8 163 1 0 4.2 -1.3"/><path fill="#4248b8" opacity="0.5" d="M11.7 17.8a1.8 2.1 6 1 0 3.6 .4a1.8 2.1 6 1 0 -3.6 -.4M14.4 60.2a2.2 2.1 127 1 0 -2.7 3.5a2.2 2.1 127 1 0 2.7 -3.5M31.8 16.7a2 1.5 78 1 0 .8 4a2 1.5 78 1 0 -.8 -4M66.3 65.2a1.7 1.7 126 1 0 -2 2.7a1.7 1.7 126 1 0 2 -2.7M1.3 55.7a2.3 1.8 35 1 0 3.7 2.6a2.3 1.8 35 1 0 -3.7 -2.6M9.7 42.6a1.8 1.9 175 1 0 -3.6 .3a1.8 1.9 175 1 0 3.6 -.3M50.2 44.9a1.7 1.9 43 1 0 2.4 2.3a1.7 1.9 43 1 0 -2.4 -2.3M23.2 .5a1.8 1.6 15 1 0 3.4 .9a1.8 1.6 15 1 0 -3.4 -.9M39 16.9a2.5 2.1 168 1 0 -4.8 1a2.5 2.1 168 1 0 4.8 -1M8.4 13.7a2.1 2.1 105 1 0 -1.1 3.9a2.1 2.1 105 1 0 1.1 -3.9M57.4 41.5a2.1 1.6 53 1 0 2.4 3.3a2.1 1.6 53 1 0 -2.4 -3.3M37.4 52.7a2.3 1.9 57 1 0 2.5 3.9a2.3 1.9 57 1 0 -2.5 -3.9M-.4 64.4a2.5 1.9 109 1 0 -1.7 4.7a2.5 1.9 109 1 0 1.7 -4.7M46.9 11a1.9 2 147 1 0 -3.2 2a1.9 2 147 1 0 3.2 -2M24.9 37.2a1.8 1.7 71 1 0 1.1 3.4a1.8 1.7 71 1 0 -1.1 -3.4M31.2 8.3a1.7 2 104 1 0 -.9 3.3a1.7 2 104 1 0 .9 -3.3"/><path fill="#34389c" opacity="0.75" d="M61.6 29.4a2 1.5 140 1 0 -3.1 2.5a2 1.5 140 1 0 3.1 -2.5M4.2 60.7a2 1.7 154 1 0 -3.5 1.7a2 1.7 154 1 0 3.5 -1.7M58.7 32.6a2.1 2 50 1 0 2.7 3.2a2.1 2 50 1 0 -2.7 -3.2M15.8 8.1a1.8 1.9 142 1 0 -2.8 2.1a1.8 1.9 142 1 0 2.8 -2.1M38.4 31.2a2.2 1.7 49 1 0 2.8 3.3a2.2 1.7 49 1 0 -2.8 -3.3M30.3 6.1a2.2 1.6 99 1 0 -.7 4.4a2.2 1.6 99 1 0 .7 -4.4M1.1 30.6a2.4 1.5 117 1 0 -2.2 4.3a2.4 1.5 117 1 0 2.2 -4.3M72 51.8a2.3 2.2 123 1 0 -2.5 3.8a2.3 2.2 123 1 0 2.5 -3.8M48.1 24.7a2.4 1.6 132 1 0 -3.3 3.6a2.4 1.6 132 1 0 3.3 -3.6M75.7 55.9a2.3 1.9 61 1 0 2.2 4.1a2.3 1.9 61 1 0 -2.2 -4.1M37.8 49.9a2.5 1.7 81 1 0 .7 4.9a2.5 1.7 81 1 0 -.7 -4.9M42.8 7.3a1.9 1.8 175 1 0 -3.7 .3a1.9 1.8 175 1 0 3.7 -.3M48 52.6a2.4 1.8 83 1 0 .6 4.8a2.4 1.8 83 1 0 -.6 -4.8M51.3 63.5a2 1.6 88 1 0 .1 4.1a2 1.6 88 1 0 -.1 -4.1M37.6 -1.2a1.7 1.4 74 1 0 .9 3.3a1.7 1.4 74 1 0 -.9 -3.3M39.1 28a1.9 1.4 25 1 0 3.4 1.6a1.9 1.4 25 1 0 -3.4 -1.6M63.9 61.8a1.8 1.7 34 1 0 2.9 2a1.8 1.7 34 1 0 -2.9 -2M46.8 .3a2.2 2 37 1 0 3.6 2.7a2.2 2 37 1 0 -3.6 -2.7M8.9 33.5a2.1 1.7 143 1 0 -3.4 2.6a2.1 1.7 143 1 0 3.4 -2.6M30.8 31.7a2.3 1.4 83 1 0 .5 4.5a2.3 1.4 83 1 0 -.5 -4.5M64.5 64a1.9 1.7 70 1 0 1.2 3.5a1.9 1.7 70 1 0 -1.2 -3.5M77.1 37a2.4 1.7 138 1 0 -3.7 3.2a2.4 1.7 138 1 0 3.7 -3.2M55.8 24.9a2.3 1.9 57 1 0 2.4 3.8a2.3 1.9 57 1 0 -2.4 -3.8M12.5 53.9a2.4 1.8 70 1 0 1.6 4.5a2.4 1.8 70 1 0 -1.6 -4.5M56.5 34.7a2.3 1.7 18 1 0 4.3 1.5a2.3 1.7 18 1 0 -4.3 -1.5M74.8 49.9a2.2 2.2 126 1 0 -2.7 3.6a2.2 2.2 126 1 0 2.7 -3.6M39.7 60.8a2.4 2.1 163 1 0 -4.6 1.4a2.4 2.1 163 1 0 4.6 -1.4M48.8 12.3a1.7 1.9 98 1 0 -.5 3.3a1.7 1.9 98 1 0 .5 -3.3M35.7 36.8a1.7 2 48 1 0 2.2 2.5a1.7 2 48 1 0 -2.2 -2.5M10 19.2a2.1 1.5 158 1 0 -4 1.5a2.1 1.5 158 1 0 4 -1.5M33.4 47.3a1.7 1.8 118 1 0 -1.6 3a1.7 1.8 118 1 0 1.6 -3M20 2.9a1.9 1.7 153 1 0 -3.3 1.6a1.9 1.7 153 1 0 3.3 -1.6M4.6 17.5a2.2 1.4 146 1 0 -3.7 2.4a2.2 1.4 146 1 0 3.7 -2.4M27.1 39.3a1.9 2.1 75 1 0 1 3.7a1.9 2.1 75 1 0 -1 -3.7M16.1 30.9a2.2 1.6 28 1 0 3.8 2.1a2.2 1.6 28 1 0 -3.8 -2.1M27.6 4.1a2.5 1.4 20 1 0 4.7 1.7a2.5 1.4 20 1 0 -4.7 -1.7M1.3 14.6a1.7 2.1 55 1 0 2 2.9a1.7 2.1 55 1 0 -2 -2.9M16.9 23a2.2 2 97 1 0 -.6 4.4a2.2 2 97 1 0 .6 -4.4M43.2 1.5a1.6 1.8 84 1 0 .3 3.2a1.6 1.8 84 1 0 -.3 -3.2M14.1 30.5a2.4 1.7 143 1 0 -3.9 2.9a2.4 1.7 143 1 0 3.9 -2.9M38.3 65.5a2 1.8 72 1 0 1.3 3.9a2 1.8 72 1 0 -1.3 -3.9M27.4 60.8a1.9 2 66 1 0 1.5 3.5a1.9 2 66 1 0 -1.5 -3.5"/><path fill="#34389c" opacity="0.5" d="M72.1 20.3a2.3 2.1 161 1 0 -4.4 1.5a2.3 2.1 161 1 0 4.4 -1.5M37.6 47.3a1.8 1.9 164 1 0 -3.4 .9a1.8 1.9 164 1 0 3.4 -.9M.2 -1.4a1.9 1.5 59 1 0 1.9 3.2a1.9 1.5 59 1 0 -1.9 -3.2M32.8 -.1a1.7 2.1 107 1 0 -1 3.2a1.7 2.1 107 1 0 1 -3.2M60.4 17.4a1.8 1.8 101 1 0 -.7 3.5a1.8 1.8 101 1 0 .7 -3.5M43.1 18.6a1.9 2 75 1 0 1 3.7a1.9 2 75 1 0 -1 -3.7M9.6 36.2a1.6 1.8 133 1 0 -2.3 2.4a1.6 1.8 133 1 0 2.3 -2.4M68.3 1a2.5 2 159 1 0 -4.7 1.8a2.5 2 159 1 0 4.7 -1.8M70.3 31.3a2.2 1.7 100 1 0 -.8 4.3a2.2 1.7 100 1 0 .8 -4.3M77.5 44.5a1.6 1.4 156 1 0 -3 1.3a1.6 1.4 156 1 0 3 -1.3M28.3 54.4a1.7 2.1 143 1 0 -2.7 2a1.7 2.1 143 1 0 2.7 -2M27.9 16.1a2.2 2.2 142 1 0 -3.4 2.6a2.2 2.2 142 1 0 3.4 -2.6M3 56.5a1.8 1.5 104 1 0 -.9 3.6a1.8 1.5 104 1 0 .9 -3.6M16.6 51.4a1.8 1.5 12 1 0 3.5 .8a1.8 1.5 12 1 0 -3.5 -.8M61.8 23.8a1.7 1.4 155 1 0 -3.1 1.4a1.7 1.4 155 1 0 3.1 -1.4M35.1 26.9a1.7 1.8 89 1 0 0 3.4a1.7 1.8 89 1 0 0 -3.4M54.7 33.4a2.3 1.6 163 1 0 -4.3 1.3a2.3 1.6 163 1 0 4.3 -1.3"/><path fill="#3a40a8" opacity="0.5" d="M62.6 4.5a1.7 2.2 12 1 0 3.4 .7a1.7 2.2 12 1 0 -3.4 -.7M-1.5 14.7a2.4 2 24 1 0 4.4 2a2.4 2 24 1 0 -4.4 -2M31.3 47.9a2.3 1.6 137 1 0 -3.4 3.1a2.3 1.6 137 1 0 3.4 -3.1M6.8 47.5a2.2 1.7 73 1 0 1.3 4.3a2.2 1.7 73 1 0 -1.3 -4.3M21.8 53.1a2.2 1.8 178 1 0 -4.4 .2a2.2 1.8 178 1 0 4.4 -.2M25.5 57.3a1.7 1.9 9 1 0 3.4 .6a1.7 1.9 9 1 0 -3.4 -.6M76.4 0a2 1.8 136 1 0 -2.9 2.7a2 1.8 136 1 0 2.9 -2.7M14 16.6a2.4 1.5 106 1 0 -1.4 4.7a2.4 1.5 106 1 0 1.4 -4.7M23.5 29.3a2.5 1.6 111 1 0 -1.8 4.6a2.5 1.6 111 1 0 1.8 -4.6M12.7 2.6a1.9 1.9 148 1 0 -3.2 2a1.9 1.9 148 1 0 3.2 -2M27.6 11.3a1.7 2.2 120 1 0 -1.7 2.9a1.7 2.2 120 1 0 1.7 -2.9M28.7 7.9a2.4 1.8 99 1 0 -.8 4.8a2.4 1.8 99 1 0 .8 -4.8"/></g><g opacity="1" mask="url(#mkD33)"><rect width="92.4" height="68.4" fill="#fff" filter="url(#f56)"/></g><path d="M74 0 L92.4 0 L92.4 68.4 L79 68.4 C79 50 77 30 74 0Z" fill="#030205"/><path d="M73 0 C76 30 78 50 78.5 68.4" stroke="#8a1c34" stroke-width="2" fill="none" filter="url(#b30)"/></svg><svg x="323.8" y="608.3" width="92.2" height="68.4" viewBox="0 0 92.2 68.4" overflow="hidden"><rect width="92.2" height="68.4" fill="#16122c"/><g filter="url(#b52)"><path fill="#3a50c0" opacity="0.5" d="M66.2 62.9a1.5 1.3 104 1 0 -.8 3a1.5 1.3 104 1 0 .8 -3M37.8 63.9a1.9 1.5 83 1 0 .4 3.8a1.9 1.5 83 1 0 -.4 -3.8M17.3 28.5a1.4 1.3 115 1 0 -1.2 2.5a1.4 1.3 115 1 0 1.2 -2.5"/><path fill="#5a78e0" opacity="0.75" d="M59.7 56.1a2 1.5 9 1 0 4 .6a2 1.5 9 1 0 -4 -.6M74.5 45.3a2.2 1.6 31 1 0 3.8 2.3a2.2 1.6 31 1 0 -3.8 -2.3M66.5 43.3a1.4 1.3 97 1 0 -.4 2.8a1.4 1.3 97 1 0 .4 -2.8M73.6 38.9a2.3 1.8 93 1 0 -.3 4.7a2.3 1.8 93 1 0 .3 -4.7M84.7 38.8a2 1.8 173 1 0 -4 .4a2 1.8 173 1 0 4 -.4"/><path fill="#4a64d0" opacity="0.75" d="M-1.6 20.6a1.5 1.5 5 1 0 3.1 .3a1.5 1.5 5 1 0 -3.1 -.3M30.8 64.7a2.2 1.9 5 1 0 4.3 .4a2.2 1.9 5 1 0 -4.3 -.4M82.2 8.6a1.5 1.3 124 1 0 -1.7 2.5a1.5 1.3 124 1 0 1.7 -2.5M55.1 23.6a1.9 1.2 159 1 0 -3.6 1.3a1.9 1.2 159 1 0 3.6 -1.3M15.2 27.4a1.9 1.8 76 1 0 .9 3.7a1.9 1.8 76 1 0 -.9 -3.7"/><path fill="#3a50c0" opacity="0.75" d="M73.8 24.2a1.8 1.9 106 1 0 -1 3.5a1.8 1.9 106 1 0 1 -3.5M18.6 60.6a1.5 1.7 73 1 0 .9 3a1.5 1.7 73 1 0 -.9 -3M79.3 7.8a1.4 1.3 122 1 0 -1.5 2.4a1.4 1.3 122 1 0 1.5 -2.4M51.7 39.3a2.3 1.6 129 1 0 -3 3.6a2.3 1.6 129 1 0 3 -3.6M61 18.6a1.8 1.5 164 1 0 -3.5 1a1.8 1.5 164 1 0 3.5 -1M.7 6.1a1.4 1.6 110 1 0 -1 2.7a1.4 1.6 110 1 0 1 -2.7M11 9.7a1.9 1.5 101 1 0 -.7 3.7a1.9 1.5 101 1 0 .7 -3.7M86.9 35.9a2.4 1.3 22 1 0 4.4 1.9a2.4 1.3 22 1 0 -4.4 -1.9M16.9 31.4a2.4 1.8 18 1 0 4.5 1.5a2.4 1.8 18 1 0 -4.5 -1.5M38.3 66.3a1.7 1.4 19 1 0 3.1 1.1a1.7 1.4 19 1 0 -3.1 -1.1M1.1 59.3a1.8 1.7 28 1 0 3.2 1.7a1.8 1.7 28 1 0 -3.2 -1.7M13.3 58.8a2.2 1.5 12 1 0 4.3 1a2.2 1.5 12 1 0 -4.3 -1M28.3 -1.8a1.6 1.7 27 1 0 2.8 1.5a1.6 1.7 27 1 0 -2.8 -1.5M43 57.2a2.1 1.3 46 1 0 2.9 3a2.1 1.3 46 1 0 -2.9 -3"/><path fill="#5a78e0" opacity="0.5" d="M92.5 12a1.9 1.3 30 1 0 3.3 1.9a1.9 1.3 30 1 0 -3.3 -1.9M9.5 61.1a1.9 1.9 75 1 0 1 3.7a1.9 1.9 75 1 0 -1 -3.7"/><path fill="#3a50c0" opacity="1.0" d="M91.3 16.9a1.8 1.6 5 1 0 3.7 .4a1.8 1.6 5 1 0 -3.7 -.4M16.9 -1.2a1.5 1.9 164 1 0 -2.8 .8a1.5 1.9 164 1 0 2.8 -.8"/><path fill="#4a64d0" opacity="0.5" d="M34.1 65.6a1.6 1.7 147 1 0 -2.7 1.7a1.6 1.7 147 1 0 2.7 -1.7M91 27.7a1.5 1.8 93 1 0 -.2 3.1a1.5 1.8 93 1 0 .2 -3.1"/><path fill="#4a64d0" opacity="1.0" d="M2 32.2a1.9 1.4 66 1 0 1.5 3.4a1.9 1.4 66 1 0 -1.5 -3.4"/></g><g fill="#e02030"><circle cx="44" cy="20" r="0.9"/><circle cx="59" cy="31" r="1.1"/><circle cx="86" cy="25" r="1"/><circle cx="38" cy="59" r="0.8"/><circle cx="70" cy="33" r="0.9"/></g><rect width="92.2" height="68.4" fill="#fff" filter="url(#f57)" opacity="1"/><rect x="73.7" y="62.4" width="15" height="3.3" fill="#fff"/></svg>
<rect x="0" y="0" width="520" height="1" fill="#000"/><rect x="0" y="1" width="520" height="1" fill="#a5a5a5"/>
<rect x="0" y="0" width="1" height="686" fill="#000"/><rect x="1" y="1" width="1" height="684" fill="#878787"/>
<rect x="519" y="0" width="1" height="686" fill="#000"/><rect x="518" y="1" width="1" height="684" fill="#787878"/>
<rect x="0" y="685" width="520" height="1" fill="#000"/><rect x="1" y="684" width="518" height="1" fill="#6e6e6e"/>
</svg></body></html>
